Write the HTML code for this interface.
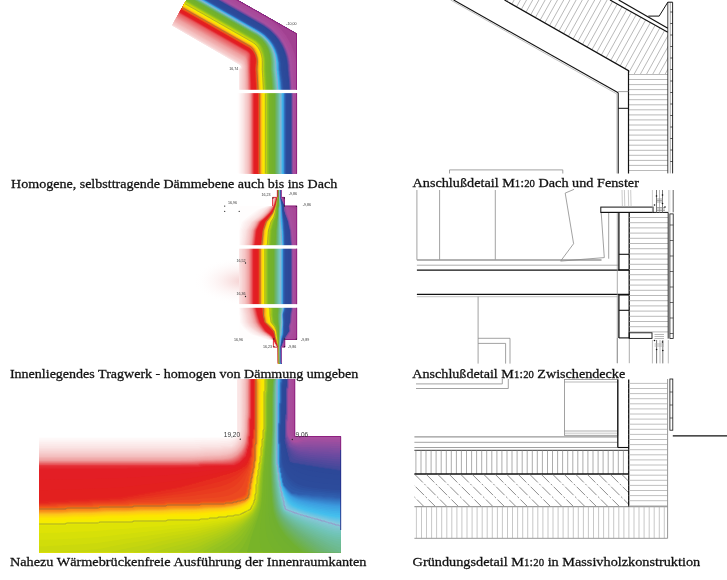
<!DOCTYPE html><html><head><meta charset="utf-8"><style>html,body{margin:0;padding:0;background:#fff;overflow:hidden}svg{display:block}</style></head><body><svg width="727" height="580" viewBox="0 0 727 580"><defs><clipPath id="hc1"><polygon points="504.5,0.0 610.0,0.0 667.8,32.3 667.8,74.0 628.5,74.0 628.5,70.7"/></clipPath><clipPath id="hc3"><polygon points="414.4,474.0 628.7,474.0 628.7,506.5 414.4,506.5"/></clipPath></defs><rect width="727" height="580" fill="#fff"/><defs><radialGradient id="haze" cx="0.5" cy="0.5" r="0.5"><stop offset="0" stop-color="#f2c0c0" stop-opacity="0.75"/><stop offset="0.45" stop-color="#f6d0d0" stop-opacity="0.3"/><stop offset="1" stop-color="#fff" stop-opacity="0"/></radialGradient></defs><ellipse cx="243" cy="281" rx="50" ry="24" fill="url(#haze)"/><g shape-rendering="geometricPrecision"><path fill="#fffdfd" fill-rule="evenodd" d="M237.5 93.2 237.5 173.5 296.5 173.5 296.5 93.2ZM172.2 25.0 172.2 25.5 239.2 64.5 239.8 65.0 239.8 66.8 239.5 67.0 239.5 89.8 296.5 89.8 296.5 33.8 232.2 -2.8 188.2 -2.8Z"/><path fill="#fef8f8" fill-rule="evenodd" d="M238.8 93.2 238.8 173.5 296.5 173.5 296.5 93.2ZM172.2 25.0 172.2 25.5 239.8 64.8 240.5 65.5 240.5 66.0 239.5 67.8 239.5 89.8 296.5 89.8 296.5 33.8 232.2 -2.8 188.2 -2.8Z"/><path fill="#fdf3f3" fill-rule="evenodd" d="M239.8 93.2 239.8 173.5 296.5 173.5 296.5 93.2ZM172.2 25.0 172.2 25.5 239.8 64.8 241.0 66.0 239.5 68.2 239.5 89.8 296.5 89.8 296.5 33.8 232.2 -2.8 188.2 -2.8Z"/><path fill="#fceeee" fill-rule="evenodd" d="M240.8 93.2 240.8 173.5 296.5 173.5 296.5 93.2ZM172.2 25.0 172.2 25.5 239.8 64.8 241.2 66.5 240.2 68.0 239.5 68.5 239.5 89.8 296.5 89.8 296.5 33.8 232.2 -2.8 188.2 -2.8Z"/><path fill="#fbe9e9" fill-rule="evenodd" d="M241.8 93.2 241.8 173.5 296.5 173.5 296.5 93.2ZM172.2 25.0 172.2 25.5 239.8 64.8 241.5 66.5 241.5 67.0 239.5 69.0 239.5 89.8 296.5 89.8 296.5 33.8 232.2 -2.8 188.2 -2.8Z"/><path fill="#fae4e4" fill-rule="evenodd" d="M242.8 93.2 242.8 173.5 296.5 173.5 296.5 93.2ZM172.2 25.0 172.2 25.5 239.8 64.8 241.5 66.5 241.8 67.2 239.5 69.5 239.5 89.8 296.5 89.8 296.5 33.8 232.2 -2.8 188.2 -2.8Z"/><path fill="#f9dfdf" fill-rule="evenodd" d="M243.5 93.2 243.5 173.5 296.5 173.5 296.5 93.2ZM172.2 25.0 172.2 25.5 204.2 44.0 206.0 44.8 239.2 63.8 240.5 65.0 240.5 65.5 242.0 67.5 239.8 69.8 239.8 89.8 296.5 89.8 296.5 33.8 232.2 -2.8 188.2 -2.8Z"/><path fill="#f8dada" fill-rule="evenodd" d="M244.2 93.2 244.2 173.5 296.5 173.5 296.5 93.2ZM172.2 25.0 240.5 64.0 241.2 65.0 241.2 66.2 242.2 68.0 240.5 69.8 240.5 89.8 296.5 89.8 296.5 33.8 232.2 -2.8 188.2 -2.8Z"/><path fill="#f7d5d5" fill-rule="evenodd" d="M245.0 93.2 245.0 173.5 296.5 173.5 296.5 93.2ZM172.5 24.8 240.5 63.5 241.8 65.0 242.0 65.8 241.8 67.2 242.2 68.0 242.2 68.5 241.2 69.5 241.2 89.8 296.5 89.8 296.5 33.8 232.2 -2.8 188.2 -2.8Z"/><path fill="#f7d0d0" fill-rule="evenodd" d="M245.5 93.2 245.5 173.5 296.5 173.5 296.5 93.2ZM172.8 24.5 240.5 63.0 241.8 64.2 242.5 66.0 242.2 69.2 242.0 69.5 242.0 89.8 296.5 89.8 296.5 33.8 232.2 -2.8 188.2 -2.8Z"/><path fill="#f6cbcb" fill-rule="evenodd" d="M246.2 93.2 246.2 173.5 296.5 173.5 296.5 93.2ZM173.2 23.2 173.0 24.2 240.8 62.8 242.5 64.8 243.0 66.2 243.0 68.0 242.8 68.2 242.8 89.8 296.5 89.8 296.5 33.8 232.2 -2.8 188.2 -2.8Z"/><path fill="#f5c6c6" fill-rule="evenodd" d="M247.0 93.2 247.0 173.5 296.5 173.5 296.5 93.2ZM173.2 23.5 241.2 62.2 243.0 64.8 243.5 66.2 243.5 69.2 243.2 69.5 243.2 71.2 243.5 71.5 243.5 89.8 296.5 89.8 296.5 33.8 232.2 -2.8 188.2 -2.8Z"/><path fill="#f4c1c1" fill-rule="evenodd" d="M247.5 93.2 247.5 173.5 296.5 173.5 296.5 93.2ZM173.8 22.8 241.8 61.5 243.5 64.2 244.0 66.2 244.2 89.8 296.5 89.8 296.5 33.8 232.2 -2.8 188.2 -2.8Z"/><path fill="#f3bcbc" fill-rule="evenodd" d="M248.2 93.2 248.2 173.5 296.5 173.5 296.5 93.2ZM174.0 22.0 241.8 60.5 243.8 63.0 244.8 67.2 245.0 89.8 296.5 89.8 296.5 33.8 232.2 -2.8 188.2 -2.8Z"/><path fill="#f3b7b7" fill-rule="evenodd" d="M248.5 93.2 248.5 173.5 296.5 173.5 296.5 93.2ZM174.2 21.5 242.8 60.8 244.0 62.5 245.0 66.2 245.2 87.5 245.5 87.8 245.5 89.8 296.5 89.8 296.5 33.8 232.2 -2.8 188.2 -2.8Z"/><path fill="#f2b2b2" fill-rule="evenodd" d="M249.0 93.2 249.0 173.5 296.5 173.5 296.5 93.2ZM174.5 21.2 242.2 59.8 243.8 61.2 244.5 62.8 245.5 67.5 245.8 89.8 296.5 89.8 296.5 33.8 232.2 -2.8 188.2 -2.8Z"/><path fill="#f1adad" fill-rule="evenodd" d="M249.2 93.2 249.2 173.5 296.5 173.5 296.5 93.2ZM175.2 19.8 175.0 20.8 242.8 59.2 243.5 60.0 244.8 62.2 245.8 66.2 246.2 89.8 296.5 89.8 296.5 33.8 232.2 -2.8 188.2 -2.8Z"/><path fill="#f0a9a9" fill-rule="evenodd" d="M249.5 93.2 249.5 173.5 296.5 173.5 296.5 93.2ZM175.2 20.0 243.2 58.8 244.8 61.0 246.0 65.2 246.5 89.8 296.5 89.8 296.5 33.8 232.2 -2.8 188.2 -2.8Z"/><path fill="#efa4a4" fill-rule="evenodd" d="M250.0 93.2 250.0 173.5 296.5 173.5 296.5 93.2ZM176.2 18.0 175.8 19.5 243.0 57.8 244.5 59.2 245.2 60.8 246.5 66.5 247.0 89.8 296.5 89.8 296.5 33.8 232.2 -2.8 188.2 -2.8Z"/><path fill="#ee9f9f" fill-rule="evenodd" d="M250.2 93.2 250.2 173.5 296.5 173.5 296.5 93.2ZM176.0 18.8 243.5 57.2 245.0 58.8 245.5 59.8 246.8 65.5 247.0 79.8 247.2 80.0 247.2 89.8 296.5 89.8 296.5 33.8 232.2 -2.8 188.2 -2.8Z"/><path fill="#ee9a9a" fill-rule="evenodd" d="M250.5 93.2 250.5 173.5 296.5 173.5 296.5 93.2ZM176.2 18.0 199.5 31.5 201.2 32.2 224.5 45.8 243.8 56.5 245.2 58.0 246.5 61.2 247.0 66.2 247.2 66.5 247.8 89.8 296.5 89.8 296.5 33.8 232.2 -2.8 188.2 -2.8Z"/><path fill="#ed9495" fill-rule="evenodd" d="M250.8 93.2 250.8 173.5 296.5 173.5 296.5 93.2ZM176.5 17.8 199.8 31.2 201.5 32.0 224.8 45.5 244.0 56.2 245.5 57.8 246.5 60.2 247.0 62.8 247.0 64.5 247.2 64.8 247.5 77.8 247.8 78.0 247.8 88.2 248.0 88.5 248.0 89.8 296.5 89.8 296.5 33.8 232.2 -2.8 188.2 -2.8Z"/><path fill="#ed8f90" fill-rule="evenodd" d="M251.0 93.2 251.0 173.5 296.5 173.5 296.5 93.2ZM176.8 17.5 198.2 30.0 200.0 30.8 223.2 44.2 244.2 56.0 245.5 57.2 246.5 59.2 247.2 63.0 247.2 65.0 247.5 65.2 248.0 89.8 296.5 89.8 296.5 33.8 232.2 -2.8 188.2 -2.8Z"/><path fill="#ec8a8b" fill-rule="evenodd" d="M251.0 93.2 251.0 173.5 296.5 173.5 296.5 93.2ZM176.8 17.2 192.5 26.0 215.8 39.5 217.5 40.2 240.8 53.8 244.2 55.5 245.8 57.0 247.0 60.2 247.2 63.0 247.5 63.2 247.5 65.8 247.8 66.0 248.2 89.8 296.5 89.8 296.5 33.8 232.2 -2.8 188.2 -2.8Z"/><path fill="#ec8486" fill-rule="evenodd" d="M251.2 93.2 251.2 173.5 296.5 173.5 296.5 93.2ZM177.0 16.8 244.8 55.2 245.8 56.2 247.0 59.2 247.5 61.8 247.5 63.5 247.8 63.8 248.5 89.8 296.5 89.8 296.5 33.8 232.2 -2.8 188.2 -2.8Z"/><path fill="#eb7f81" fill-rule="evenodd" d="M251.5 93.2 251.5 173.5 296.5 173.5 296.5 93.2ZM177.2 16.2 244.0 54.2 245.8 55.5 247.0 58.2 247.8 62.0 247.8 64.0 248.0 64.2 248.5 89.0 248.8 89.8 296.5 89.8 296.5 33.8 232.2 -2.8 188.2 -2.8Z"/><path fill="#eb797b" fill-rule="evenodd" d="M251.5 93.2 251.5 173.5 296.5 173.5 296.5 93.2ZM177.5 16.0 181.0 17.8 204.2 31.2 206.0 32.0 229.2 45.5 245.0 54.2 246.2 55.5 247.5 59.2 247.8 62.0 248.0 62.2 248.0 64.8 248.2 65.0 248.8 89.8 296.5 89.8 296.5 33.8 232.2 -2.8 188.2 -2.8Z"/><path fill="#ea7476" fill-rule="evenodd" d="M251.8 93.2 251.8 173.5 296.5 173.5 296.5 93.2ZM177.8 15.5 244.2 53.2 246.5 55.0 247.2 56.8 248.0 60.5 248.0 62.2 248.2 62.5 249.0 89.8 296.5 89.8 296.5 33.8 232.2 -2.8 188.2 -2.8Z"/><path fill="#ea6f71" fill-rule="evenodd" d="M252.0 93.2 252.0 173.5 296.5 173.5 296.5 93.2ZM178.0 15.0 238.2 49.5 245.2 53.2 246.5 54.2 247.8 57.5 248.2 62.8 248.5 63.0 248.5 70.2 248.8 70.5 249.2 89.8 296.5 89.8 296.5 33.8 232.2 -2.8 188.2 -2.8Z"/><path fill="#e9696c" fill-rule="evenodd" d="M252.0 93.2 252.0 173.5 296.5 173.5 296.5 93.2ZM178.2 14.5 178.8 15.0 194.5 23.8 217.8 37.2 219.5 38.0 242.8 51.5 244.5 52.2 247.0 54.2 248.0 57.2 248.0 59.0 248.5 60.8 248.5 63.5 248.8 63.8 248.8 72.5 249.0 72.8 249.2 89.5 249.5 89.8 296.5 89.8 296.5 33.8 232.2 -2.8 188.2 -2.8Z"/><path fill="#e96467" fill-rule="evenodd" d="M252.2 93.2 252.2 173.5 296.5 173.5 296.5 93.2ZM178.5 14.2 245.0 52.0 247.2 53.8 248.2 56.8 248.2 58.8 248.8 61.0 248.8 64.5 249.0 64.8 249.5 89.8 296.5 89.8 296.5 33.8 232.2 -2.8 188.2 -2.8Z"/><path fill="#e85e62" fill-rule="evenodd" d="M252.5 93.2 252.5 173.5 296.5 173.5 296.5 93.2ZM179.2 12.8 178.8 13.8 201.8 27.0 203.5 27.8 226.8 41.2 228.5 42.0 246.0 52.0 247.2 53.0 248.5 56.2 248.8 61.2 249.0 61.5 249.8 89.8 296.5 89.8 296.5 33.8 232.2 -2.8 188.2 -2.8Z"/><path fill="#e8595d" fill-rule="evenodd" d="M252.5 93.2 252.5 173.5 296.5 173.5 296.5 93.2ZM179.0 13.5 245.5 51.2 247.8 53.0 248.8 55.8 249.0 61.8 249.2 62.0 249.2 71.8 249.5 72.0 250.0 89.8 296.5 89.8 296.5 33.8 232.2 -2.8 188.2 -2.8Z"/><path fill="#e75358" fill-rule="evenodd" d="M252.8 93.2 252.8 173.5 296.5 173.5 296.5 93.2ZM179.0 13.2 245.5 51.0 248.0 52.8 248.5 53.5 249.0 55.5 249.0 58.2 249.2 58.5 250.0 89.8 296.5 89.8 296.5 33.8 232.2 -2.8 188.2 -2.8Z"/><path fill="#e74e53" fill-rule="evenodd" d="M252.8 93.2 252.8 173.5 296.5 173.5 296.5 93.2ZM180.5 10.5 179.2 12.8 179.2 13.2 246.8 51.5 248.8 53.5 249.2 55.5 249.2 60.2 249.5 60.5 249.5 70.5 249.8 70.8 250.2 89.8 296.5 89.8 296.5 33.8 232.2 -2.8 188.2 -2.8Z"/><path fill="#e7494e" fill-rule="evenodd" d="M253.0 93.2 253.0 173.5 296.5 173.5 296.5 93.2ZM179.2 13.0 246.2 51.0 248.0 52.2 249.0 53.5 249.5 55.5 249.8 73.2 250.0 73.5 250.2 88.8 250.5 89.8 296.5 89.8 296.5 33.8 232.2 -2.8 188.2 -2.8Z"/><path fill="#e64349" fill-rule="evenodd" d="M253.0 93.2 253.0 173.5 296.5 173.5 296.5 93.2ZM179.2 12.8 242.2 48.8 245.8 50.5 248.0 52.0 249.2 53.5 249.8 55.5 250.0 76.2 250.2 76.5 250.5 89.8 296.5 89.8 296.5 33.8 232.2 -2.8 188.2 -2.8Z"/><path fill="#e63e44" fill-rule="evenodd" d="M253.2 93.2 253.2 173.5 296.5 173.5 296.5 93.2ZM180.5 10.5 179.5 12.8 195.2 21.5 218.5 35.0 220.2 35.8 243.5 49.2 247.0 51.0 249.2 53.2 250.0 55.5 250.0 72.5 250.2 72.8 250.8 89.8 296.5 89.8 296.5 33.8 232.2 -2.8 188.2 -2.8Z"/><path fill="#e5393f" fill-rule="evenodd" d="M253.5 93.2 253.5 173.5 296.5 173.5 296.5 93.2ZM179.5 12.5 246.0 50.2 248.2 51.8 250.0 54.2 250.0 55.5 250.2 55.8 250.2 61.0 250.0 61.5 250.2 61.8 250.2 75.2 250.5 75.5 250.5 82.2 250.8 82.5 250.8 89.8 296.5 89.8 296.5 33.8 232.2 -2.8 188.2 -2.8Z"/><path fill="#e5333a" fill-rule="evenodd" d="M253.5 93.2 253.5 173.5 296.5 173.5 296.5 93.2ZM180.5 10.5 179.8 12.0 180.2 12.8 247.2 50.8 249.5 53.0 250.2 54.5 250.2 55.8 250.5 56.0 250.5 58.0 250.2 58.2 250.2 71.5 250.5 71.8 251.0 89.8 296.5 89.8 296.5 33.8 232.2 -2.8 188.2 -2.8Z"/><path fill="#e42e35" fill-rule="evenodd" d="M253.8 93.2 253.8 173.5 296.5 173.5 296.5 93.2ZM179.8 12.2 245.0 49.5 246.8 50.2 248.2 51.2 249.5 52.8 250.5 54.8 250.5 74.2 250.8 74.5 250.8 81.0 251.0 81.2 251.0 88.5 251.2 89.8 296.5 89.8 296.5 33.8 232.2 -2.8 188.2 -2.8Z"/><path fill="#e42930" fill-rule="evenodd" d="M253.8 93.2 253.8 173.5 296.5 173.5 296.5 93.2ZM180.5 10.5 179.8 12.0 246.5 50.0 248.8 51.5 249.8 52.8 250.8 54.8 250.5 70.8 250.8 71.0 250.8 77.0 251.0 77.2 251.2 89.8 296.5 89.8 296.5 33.8 232.2 -2.8 188.2 -2.8Z"/><path fill="#e3232b" fill-rule="evenodd" d="M254.0 93.2 254.0 173.5 296.5 173.5 296.5 93.2ZM179.8 12.0 248.2 51.0 249.8 52.5 251.0 55.0 250.8 73.2 251.0 73.5 251.5 89.8 296.5 89.8 296.5 33.8 232.2 -2.8 188.2 -2.8Z"/><path fill="#e31e25" fill-rule="evenodd" d="M254.0 93.2 254.0 173.5 296.5 173.5 296.5 93.2ZM180.5 10.5 180.0 12.0 247.8 50.5 250.0 52.5 251.2 55.5 251.0 68.8 250.8 70.0 251.0 70.2 251.2 82.5 251.5 82.8 251.5 89.8 296.5 89.8 296.5 33.8 232.2 -2.8 188.2 -2.8Z"/><path fill="#e31f22" fill-rule="evenodd" d="M255.2 93.2 255.2 173.5 296.5 173.5 296.5 93.2ZM180.5 10.5 180.2 11.0 247.0 49.0 249.2 50.5 251.5 53.0 252.5 54.8 252.8 57.5 253.0 57.8 252.8 58.0 252.5 63.0 252.2 63.2 252.2 69.2 252.0 69.5 252.2 70.0 253.0 89.8 296.5 89.8 296.5 33.8 232.2 -2.8 188.2 -2.8Z"/><path fill="#e3201f" fill-rule="evenodd" d="M256.5 93.2 256.5 173.5 296.5 173.5 296.5 93.2ZM181.5 8.8 180.8 10.2 247.5 48.2 249.5 49.5 252.2 52.5 253.5 54.8 254.2 57.5 254.2 60.2 254.0 60.5 253.8 64.8 253.5 65.0 253.5 74.5 253.8 74.8 254.2 89.8 296.5 89.8 296.5 33.8 232.2 -2.8 188.2 -2.8Z"/><path fill="#e4251e" fill-rule="evenodd" d="M257.8 93.2 257.8 173.5 296.5 173.5 296.5 93.2ZM181.5 8.8 181.2 9.2 181.5 9.8 250.0 48.8 252.5 51.2 254.5 54.8 255.5 58.2 255.5 61.8 255.2 62.0 255.0 66.0 254.8 66.2 254.8 73.0 255.0 73.2 255.8 89.8 296.5 89.8 296.5 33.8 232.2 -2.8 188.2 -2.8Z"/><path fill="#e62c1f" fill-rule="evenodd" d="M257.8 93.2 257.8 173.5 296.5 173.5 296.5 93.2ZM181.5 8.8 181.2 9.2 181.8 9.8 195.8 17.5 219.0 31.0 220.8 31.8 244.0 45.2 247.5 47.0 250.2 48.8 252.5 51.0 254.8 55.0 255.8 59.0 255.5 63.5 255.0 66.0 255.0 73.8 255.2 74.0 255.2 78.2 255.5 78.5 256.0 89.8 296.5 89.8 296.5 33.8 232.2 -2.8 188.2 -2.8Z"/><path fill="#e7331f" fill-rule="evenodd" d="M258.0 93.2 258.0 173.5 296.5 173.5 296.5 93.2ZM181.2 9.2 249.5 48.0 253.0 51.5 254.5 54.0 255.8 58.0 255.8 63.2 255.2 65.8 255.0 70.2 255.2 70.5 255.8 83.5 256.0 83.8 256.0 89.0 256.2 89.8 296.5 89.8 296.5 33.8 232.2 -2.8 188.2 -2.8Z"/><path fill="#e93b1f" fill-rule="evenodd" d="M258.2 93.2 258.2 173.5 296.5 173.5 296.5 93.2ZM181.5 8.8 181.5 9.2 248.5 47.2 251.0 49.0 253.2 51.5 255.0 54.8 256.0 58.5 256.0 63.0 255.5 65.2 255.2 70.8 255.5 71.0 256.0 84.2 256.2 84.5 256.2 89.5 256.5 89.8 296.5 89.8 296.5 33.8 232.2 -2.8 188.2 -2.8Z"/><path fill="#ea4220" fill-rule="evenodd" d="M258.5 93.2 258.5 173.5 296.5 173.5 296.5 93.2ZM181.5 8.8 181.8 9.2 249.2 47.5 251.5 49.2 253.2 51.2 255.2 55.0 256.2 59.0 256.2 62.5 256.0 62.8 255.8 67.5 255.5 67.8 255.5 71.2 255.8 71.5 256.0 79.8 256.2 80.0 256.5 89.8 296.5 89.8 296.5 33.8 232.2 -2.8 188.2 -2.8Z"/><path fill="#ec4920" fill-rule="evenodd" d="M258.5 93.2 258.5 173.5 296.5 173.5 296.5 93.2ZM181.5 8.8 243.0 44.0 250.2 48.0 253.2 51.0 255.5 55.2 256.5 59.8 256.5 62.0 256.2 62.2 256.2 64.5 256.0 64.8 256.0 67.0 255.8 67.2 255.8 71.8 256.0 72.0 256.0 76.0 256.2 76.2 256.2 80.2 256.5 80.5 256.8 89.8 296.5 89.8 296.5 33.8 232.2 -2.8 188.2 -2.8Z"/><path fill="#ee501e" fill-rule="evenodd" d="M258.8 93.2 258.8 173.5 296.5 173.5 296.5 93.2ZM182.5 7.0 181.8 8.5 182.0 9.0 197.8 17.8 221.0 31.2 222.8 32.0 246.0 45.5 247.8 46.2 250.5 48.0 253.8 51.5 255.8 55.5 256.5 58.5 256.5 64.0 256.2 64.2 256.2 66.5 256.0 66.8 256.0 72.5 256.2 72.8 256.2 76.8 256.5 77.0 257.0 89.8 296.5 89.8 296.5 33.8 232.2 -2.8 188.2 -2.8Z"/><path fill="#f0571b" fill-rule="evenodd" d="M259.0 93.2 259.0 173.5 296.5 173.5 296.5 93.2ZM182.5 7.0 181.8 8.5 197.8 17.5 221.0 31.0 222.8 31.8 246.0 45.2 249.5 47.0 253.8 51.2 255.5 54.5 256.8 59.5 256.8 63.0 256.5 63.2 256.0 70.0 256.2 70.2 257.2 89.8 296.5 89.8 296.5 33.8 232.2 -2.8 188.2 -2.8Z"/><path fill="#f25e18" fill-rule="evenodd" d="M259.0 93.2 259.0 173.5 296.5 173.5 296.5 93.2ZM182.5 7.0 182.0 8.5 249.5 46.8 253.5 50.8 255.5 54.2 256.8 58.5 257.0 62.0 256.8 62.2 256.8 64.8 256.5 65.0 256.5 67.5 256.2 67.8 256.2 71.2 256.5 71.5 257.0 84.2 257.2 84.5 257.2 89.5 257.5 89.8 296.5 89.8 296.5 33.8 232.2 -2.8 188.2 -2.8Z"/><path fill="#f46516" fill-rule="evenodd" d="M259.2 93.2 259.2 173.5 296.5 173.5 296.5 93.2ZM182.0 8.2 249.5 46.5 252.5 49.2 254.5 52.0 255.8 54.5 257.0 59.5 257.0 63.8 256.8 64.0 256.8 66.5 256.5 66.8 256.5 72.5 256.8 72.8 256.8 76.8 257.0 77.0 257.0 81.0 257.2 81.2 257.5 89.8 296.5 89.8 296.5 33.8 232.2 -2.8 188.2 -2.8Z"/><path fill="#f66c14" fill-rule="evenodd" d="M259.5 93.2 259.5 173.5 296.5 173.5 296.5 93.2ZM182.0 8.0 249.5 46.2 252.8 49.2 254.5 51.8 256.0 54.8 257.0 58.5 257.2 62.8 257.0 63.0 256.5 70.0 256.8 70.2 257.8 89.8 296.5 89.8 296.5 33.8 232.2 -2.8 188.2 -2.8Z"/><path fill="#f77315" fill-rule="evenodd" d="M259.5 93.2 259.5 173.5 296.5 173.5 296.5 93.2ZM182.5 7.0 182.2 7.5 182.5 8.0 249.5 46.0 252.2 48.2 254.8 52.0 256.0 54.5 257.2 59.2 257.2 64.8 257.0 65.0 257.0 67.5 256.8 67.8 256.8 71.0 257.0 71.2 257.0 75.0 257.2 75.2 257.2 79.2 257.5 79.5 257.5 83.8 257.8 84.0 257.8 88.8 258.0 89.8 296.5 89.8 296.5 33.8 232.2 -2.8 188.2 -2.8Z"/><path fill="#f77a16" fill-rule="evenodd" d="M259.8 93.2 259.8 173.5 296.5 173.5 296.5 93.2ZM182.5 7.0 182.2 7.5 186.0 9.5 209.2 23.0 211.0 23.8 234.2 37.2 250.0 46.0 252.8 48.5 255.8 53.5 257.2 58.2 257.5 64.0 257.2 64.2 257.2 66.8 257.0 67.0 257.0 72.0 257.2 72.2 257.5 80.2 257.8 80.5 258.0 89.8 296.5 89.8 296.5 33.8 232.2 -2.8 188.2 -2.8Z"/><path fill="#f88117" fill-rule="evenodd" d="M260.0 93.2 260.0 173.5 296.5 173.5 296.5 93.2ZM182.5 7.0 183.0 7.8 250.8 46.2 253.0 48.5 256.0 53.8 257.5 59.0 257.2 73.2 257.5 73.5 257.5 77.0 257.8 77.2 258.2 89.8 296.5 89.8 296.5 33.8 232.2 -2.8 188.2 -2.8Z"/><path fill="#f88918" fill-rule="evenodd" d="M260.0 93.2 260.0 173.5 296.5 173.5 296.5 93.2ZM182.5 7.0 183.0 7.5 184.8 8.2 208.0 21.8 209.8 22.5 233.0 36.0 250.5 45.8 253.5 48.8 256.8 55.2 257.8 59.8 257.8 65.0 257.5 65.2 257.2 70.5 257.5 70.8 257.5 74.2 257.8 74.5 258.5 89.8 296.5 89.8 296.5 33.8 232.2 -2.8 188.2 -2.8Z"/><path fill="#f88f1a" fill-rule="evenodd" d="M260.2 93.2 260.2 173.5 296.5 173.5 296.5 93.2ZM182.5 7.0 251.5 46.2 254.0 49.0 256.5 54.2 257.8 58.5 258.0 64.8 257.8 65.0 257.5 70.8 257.8 71.0 257.8 74.5 258.0 74.8 258.0 78.2 258.2 78.5 258.5 89.8 296.5 89.8 296.5 33.8 232.2 -2.8 188.2 -2.8Z"/><path fill="#f8961b" fill-rule="evenodd" d="M260.5 93.2 260.5 173.5 296.5 173.5 296.5 93.2ZM183.5 5.2 182.8 6.8 250.8 45.5 254.0 48.5 256.8 54.2 258.0 58.8 258.2 64.5 258.0 64.8 257.8 70.5 258.0 70.8 258.0 74.0 258.2 74.2 258.8 89.8 296.5 89.8 296.5 33.8 232.2 -2.8 188.2 -2.8Z"/><path fill="#f89e1c" fill-rule="evenodd" d="M260.8 93.2 260.8 173.5 296.5 173.5 296.5 93.2ZM183.5 5.2 183.0 6.2 183.2 7.0 251.8 46.0 254.5 48.8 255.5 50.5 256.5 53.8 257.2 55.0 258.2 59.0 258.2 68.2 258.0 68.5 258.0 70.2 258.2 70.5 258.2 74.8 258.5 75.0 259.0 89.8 296.5 89.8 296.5 33.8 232.2 -2.8 188.2 -2.8Z"/><path fill="#f9a51c" fill-rule="evenodd" d="M261.0 93.2 261.0 173.5 296.5 173.5 296.5 93.2ZM183.0 6.2 183.5 7.0 252.0 46.0 254.8 48.8 256.2 51.8 258.0 57.0 258.2 59.8 258.5 60.0 258.2 72.0 258.5 72.2 259.2 89.8 296.5 89.8 296.5 33.8 232.2 -2.8 188.2 -2.8Z"/><path fill="#faad1c" fill-rule="evenodd" d="M261.0 93.2 261.0 173.5 296.5 173.5 296.5 93.2ZM183.0 6.5 250.8 45.0 252.5 46.2 254.5 48.2 256.2 51.2 258.0 56.5 258.5 59.0 258.5 61.5 258.8 61.8 258.5 73.8 258.8 74.0 258.8 78.5 259.0 78.8 259.2 89.8 296.5 89.8 296.5 33.8 232.2 -2.8 188.2 -2.8Z"/><path fill="#fbb51c" fill-rule="evenodd" d="M261.2 93.2 261.2 173.5 296.5 173.5 296.5 93.2ZM183.5 5.2 183.0 6.2 246.2 42.5 249.8 44.2 253.2 46.8 255.2 49.0 256.5 51.2 257.2 53.5 258.8 60.0 258.5 71.2 258.8 71.5 258.8 75.8 259.0 76.0 259.5 89.8 296.5 89.8 296.5 33.8 232.2 -2.8 188.2 -2.8Z"/><path fill="#fbbc1c" fill-rule="evenodd" d="M261.5 93.2 261.5 173.5 296.5 173.5 296.5 93.2ZM183.0 6.2 250.0 44.2 252.2 45.8 255.0 48.5 256.5 50.8 258.8 58.8 258.8 61.2 259.0 61.5 258.8 73.0 259.0 73.2 259.8 89.8 296.5 89.8 296.5 33.8 232.2 -2.8 188.2 -2.8Z"/><path fill="#fcc51b" fill-rule="evenodd" d="M261.5 93.2 261.5 173.5 296.5 173.5 296.5 93.2ZM183.5 5.2 183.2 6.2 250.2 44.2 252.5 45.8 255.0 48.2 257.0 51.5 259.0 59.8 258.8 70.5 259.0 70.8 259.2 79.5 259.5 79.8 259.8 89.8 296.5 89.8 296.5 33.8 232.2 -2.8 188.2 -2.8Z"/><path fill="#fcca17" fill-rule="evenodd" d="M261.8 93.2 261.8 173.5 296.5 173.5 296.5 93.2ZM183.2 6.0 251.0 44.5 252.8 45.8 255.0 48.0 257.2 51.5 258.2 55.0 258.2 56.0 259.0 58.5 259.0 60.2 259.2 60.5 259.0 71.2 259.2 71.5 259.2 75.8 259.5 76.0 260.0 89.8 296.5 89.8 296.5 33.8 232.2 -2.8 188.2 -2.8Z"/><path fill="#fccf12" fill-rule="evenodd" d="M262.0 93.2 262.0 173.5 296.5 173.5 296.5 93.2ZM183.5 5.2 183.2 5.8 251.0 44.2 252.8 45.5 255.2 48.0 257.8 52.0 259.2 58.8 259.2 60.8 259.5 61.0 259.2 71.8 259.5 72.0 259.5 76.0 259.8 76.2 260.2 89.8 296.5 89.8 296.5 33.8 232.2 -2.8 188.2 -2.8Z"/><path fill="#fdd50e" fill-rule="evenodd" d="M262.2 93.2 262.2 173.5 296.5 173.5 296.5 93.2ZM183.5 5.2 183.5 5.8 250.5 43.8 252.8 45.2 255.5 48.0 258.2 52.5 259.0 56.0 259.0 57.5 259.5 59.0 259.5 61.5 259.8 61.8 259.5 72.0 259.8 72.2 259.8 76.2 260.0 76.5 260.5 89.8 296.5 89.8 296.5 33.8 232.2 -2.8 188.2 -2.8Z"/><path fill="#fdda09" fill-rule="evenodd" d="M262.5 93.2 262.5 173.5 296.5 173.5 296.5 93.2ZM183.5 5.5 251.8 44.2 255.8 48.0 258.2 52.0 259.0 54.5 259.2 57.5 259.8 59.2 259.8 63.2 260.0 63.5 259.8 63.8 259.8 72.2 260.0 72.5 260.8 89.8 296.5 89.8 296.5 33.8 232.2 -2.8 188.2 -2.8Z"/><path fill="#fddf04" fill-rule="evenodd" d="M262.8 93.2 262.8 173.5 296.5 173.5 296.5 93.2ZM183.5 5.2 250.0 43.0 252.8 44.8 256.0 48.0 257.2 49.8 258.8 52.8 259.5 56.0 259.8 59.5 260.0 59.8 260.0 72.8 260.2 73.0 261.0 89.8 296.5 89.8 296.5 33.8 232.2 -2.8 188.2 -2.8Z"/><path fill="#fce600" fill-rule="evenodd" d="M263.0 93.2 263.0 173.5 296.5 173.5 296.5 93.2ZM183.8 5.2 185.5 6.0 208.8 19.5 210.5 20.2 233.8 33.8 251.2 43.5 254.2 45.8 257.5 49.8 259.2 53.5 259.8 55.8 259.8 57.5 260.0 57.8 260.0 59.8 260.2 60.0 260.2 73.0 260.5 73.2 261.2 89.8 296.5 89.8 296.5 33.8 232.2 -2.8 188.2 -2.8Z"/><path fill="#f7ea00" fill-rule="evenodd" d="M263.8 93.2 263.8 173.5 296.5 173.5 296.5 93.2ZM184.0 4.8 251.5 43.0 254.2 45.0 257.0 48.0 259.2 52.0 260.5 56.0 260.8 62.0 261.0 62.2 260.8 70.8 261.0 71.0 261.5 84.0 261.8 84.2 261.8 89.2 262.0 89.8 296.5 89.8 296.5 33.8 232.2 -2.8 188.2 -2.8Z"/><path fill="#f3ee00" fill-rule="evenodd" d="M264.5 93.2 264.5 173.5 296.5 173.5 296.5 93.2ZM184.5 3.5 184.2 4.0 251.5 42.2 253.8 43.8 257.2 47.2 259.8 51.5 260.8 54.2 261.5 57.8 261.5 64.0 261.8 64.2 261.5 70.8 261.8 71.0 261.8 74.5 262.0 74.8 262.5 89.0 262.8 89.8 296.5 89.8 296.5 33.8 232.2 -2.8 188.2 -2.8Z"/><path fill="#ebe903" fill-rule="evenodd" d="M265.0 93.2 265.0 173.5 296.5 173.5 296.5 93.2ZM184.5 3.5 185.0 4.2 252.0 42.2 254.5 44.0 256.8 46.2 258.8 49.0 260.2 52.0 261.8 57.5 262.0 73.5 262.2 73.8 263.0 89.8 296.5 89.8 296.5 33.8 232.2 -2.8 188.2 -2.8Z"/><path fill="#e4e605" fill-rule="evenodd" d="M265.2 93.2 265.2 173.5 296.5 173.5 296.5 93.2ZM184.5 3.8 251.5 41.8 254.8 44.0 256.8 46.0 258.5 48.2 260.0 51.0 261.2 54.5 262.0 58.2 262.0 70.8 262.2 71.0 262.8 83.8 263.0 84.0 263.0 89.0 263.2 89.8 296.5 89.8 296.5 33.8 232.2 -2.8 188.2 -2.8Z"/><path fill="#dee306" fill-rule="evenodd" d="M265.2 93.2 265.2 173.5 296.5 173.5 296.5 93.2ZM184.5 3.5 252.2 42.0 255.0 44.0 258.0 47.2 260.5 51.8 261.5 54.8 262.2 58.8 262.2 71.8 262.5 72.0 262.5 75.8 262.8 76.0 263.2 89.8 296.5 89.8 296.5 33.8 232.2 -2.8 188.2 -2.8Z"/><path fill="#d7e008" fill-rule="evenodd" d="M265.5 93.2 265.5 173.5 296.5 173.5 296.5 93.2ZM185.5 1.8 184.8 3.2 248.0 39.5 251.5 41.2 255.2 44.0 258.0 47.0 260.2 50.8 261.5 54.2 262.2 57.5 262.2 59.5 262.5 59.8 262.5 72.8 262.8 73.0 263.5 89.8 296.5 89.8 296.5 33.8 232.2 -2.8 188.2 -2.8Z"/><path fill="#d1dd0a" fill-rule="evenodd" d="M265.8 93.2 265.8 173.5 296.5 173.5 296.5 93.2ZM185.0 2.8 185.5 3.5 189.0 5.2 212.2 18.8 214.0 19.5 237.2 33.0 251.2 40.8 254.2 42.8 258.0 46.8 259.5 49.0 261.0 52.2 262.5 58.2 262.5 61.2 262.8 61.5 262.5 70.2 262.8 70.5 263.8 89.8 296.5 89.8 296.5 33.8 232.2 -2.8 188.2 -2.8Z"/><path fill="#cbd90c" fill-rule="evenodd" d="M266.0 93.2 266.0 173.5 296.5 173.5 296.5 93.2ZM185.5 1.8 185.0 2.8 201.0 11.8 224.2 25.2 226.0 26.0 249.2 39.5 252.8 41.2 257.8 46.2 259.5 48.8 261.0 51.8 262.5 57.2 262.5 59.0 262.8 59.2 262.8 71.8 263.0 72.0 263.2 80.0 263.5 80.2 263.8 89.8 296.5 89.8 296.5 33.8 232.2 -2.8 188.2 -2.8Z"/><path fill="#c5d60e" fill-rule="evenodd" d="M266.0 93.2 266.0 173.5 296.5 173.5 296.5 93.2ZM185.2 2.2 185.5 2.8 254.0 41.8 256.2 44.0 259.5 48.5 261.5 52.8 262.5 56.5 262.8 60.0 263.0 60.2 263.0 73.2 263.2 73.5 263.2 77.2 263.5 77.5 264.0 89.8 296.5 89.8 296.5 33.8 232.2 -2.8 188.2 -2.8Z"/><path fill="#bfd311" fill-rule="evenodd" d="M266.2 93.2 266.2 173.5 296.5 173.5 296.5 93.2ZM185.2 2.2 251.8 40.0 254.8 42.0 256.0 43.2 260.8 50.5 261.8 53.0 262.8 57.0 262.8 58.5 263.0 58.8 263.0 71.0 263.2 71.2 264.2 89.8 296.5 89.8 296.5 33.8 232.2 -2.8 188.2 -2.8Z"/><path fill="#b8d113" fill-rule="evenodd" d="M266.5 93.2 266.5 173.5 296.5 173.5 296.5 93.2ZM185.5 2.0 253.2 40.5 257.0 44.0 261.2 51.2 263.0 57.8 263.0 59.5 263.2 59.8 263.2 72.0 263.5 72.2 263.8 80.2 264.0 80.5 264.2 89.8 296.5 89.8 296.5 33.8 232.2 -2.8 188.2 -2.8Z"/><path fill="#b2ce16" fill-rule="evenodd" d="M266.8 93.2 266.8 173.5 296.5 173.5 296.5 93.2ZM185.5 1.8 254.5 41.0 257.0 43.5 258.2 45.2 261.5 51.5 262.5 54.5 263.2 58.2 263.2 60.5 263.5 60.8 263.5 73.2 263.8 73.5 263.8 77.0 264.0 77.2 264.5 89.8 296.5 89.8 296.5 33.8 232.2 -2.8 188.2 -2.8Z"/><path fill="#accc18" fill-rule="evenodd" d="M267.0 93.2 267.0 173.5 296.5 173.5 296.5 93.2ZM185.8 1.5 186.2 2.0 253.2 40.0 255.5 41.5 257.2 43.2 258.8 45.5 259.8 48.0 261.5 51.0 263.2 57.2 263.5 62.5 263.8 62.8 263.5 70.5 263.8 70.8 263.8 74.2 264.0 74.5 264.8 89.8 296.5 89.8 296.5 33.8 232.2 -2.8 188.2 -2.8Z"/><path fill="#a5c91b" fill-rule="evenodd" d="M267.0 93.2 267.0 173.5 296.5 173.5 296.5 93.2ZM185.8 1.5 252.2 39.2 256.0 41.8 258.0 43.8 262.2 52.5 263.5 57.8 263.5 59.5 263.8 59.8 263.8 71.5 264.0 71.8 265.0 89.8 296.5 89.8 296.5 33.8 232.2 -2.8 188.2 -2.8Z"/><path fill="#9fc71d" fill-rule="evenodd" d="M267.2 93.2 267.2 173.5 296.5 173.5 296.5 93.2ZM186.5 0.0 186.0 1.5 249.5 37.8 253.0 39.5 256.2 41.8 258.5 44.0 260.2 47.2 260.8 49.0 262.2 52.0 263.8 58.2 263.8 60.5 264.0 60.8 264.0 72.5 264.2 72.8 264.8 84.8 265.0 85.0 265.0 89.5 265.2 89.8 296.5 89.8 296.5 33.8 232.2 -2.8 188.2 -2.8Z"/><path fill="#98c420" fill-rule="evenodd" d="M267.5 93.2 267.5 173.5 296.5 173.5 296.5 93.2ZM186.0 1.0 186.2 1.5 253.2 39.5 256.8 42.0 258.8 44.0 260.0 46.0 261.2 49.8 262.5 52.2 263.5 55.8 263.8 58.8 264.0 59.0 264.0 62.0 264.2 62.2 264.0 70.0 264.2 70.2 264.5 77.2 264.8 77.5 265.2 89.8 296.5 89.8 296.5 33.8 232.2 -2.8 188.2 -2.8Z"/><path fill="#92c121" fill-rule="evenodd" d="M267.8 93.2 267.8 173.5 296.5 173.5 296.5 93.2ZM186.0 1.0 252.8 39.0 256.5 41.5 259.2 44.2 260.8 46.8 262.2 51.5 262.8 52.2 264.2 59.0 264.2 62.5 264.5 62.8 264.2 70.0 264.5 70.2 264.8 77.2 265.0 77.5 265.5 89.8 296.5 89.8 296.5 33.8 232.2 -2.8 188.2 -2.8Z"/><path fill="#8cbe23" fill-rule="evenodd" d="M268.2 93.2 268.2 173.5 296.5 173.5 296.5 93.2ZM186.5 0.0 186.2 1.0 253.8 39.2 256.0 40.8 260.0 44.8 261.5 47.2 262.2 49.5 262.8 52.0 263.8 54.5 264.5 58.5 264.5 61.0 264.8 61.2 264.8 72.5 265.0 72.8 266.0 89.8 296.5 89.8 296.5 33.8 232.2 -2.8 188.2 -2.8Z"/><path fill="#86bb25" fill-rule="evenodd" d="M268.5 93.2 268.5 173.5 296.5 173.5 296.5 93.2ZM186.2 0.5 187.2 1.2 203.0 10.0 226.2 23.5 228.0 24.2 251.2 37.8 253.0 38.5 257.0 41.2 259.5 43.8 262.2 48.0 264.8 58.0 264.8 60.0 265.0 60.2 265.0 71.2 265.2 71.5 265.2 74.8 265.5 75.0 266.2 89.8 296.5 89.8 296.5 33.8 232.2 -2.8 188.2 -2.8Z"/><path fill="#80b826" fill-rule="evenodd" d="M269.0 93.2 269.0 173.5 296.5 173.5 296.5 93.2ZM186.5 0.0 186.5 0.5 253.5 38.5 256.5 40.5 260.2 44.2 263.0 48.8 265.0 57.8 265.0 59.2 265.2 59.5 265.2 70.2 265.5 70.5 266.2 85.0 266.5 85.2 266.5 89.5 266.8 89.8 296.5 89.8 296.5 33.8 232.2 -2.8 188.2 -2.8Z"/><path fill="#78b428" fill-rule="evenodd" d="M269.2 93.2 269.2 173.5 296.5 173.5 296.5 93.2ZM186.5 0.0 187.0 0.5 254.5 38.8 257.2 40.8 260.0 43.5 262.0 46.2 263.5 49.0 265.2 57.2 265.5 61.8 265.8 62.0 265.8 72.2 266.0 72.5 267.0 89.8 296.5 89.8 296.5 33.8 232.2 -2.8 188.2 -2.8Z"/><path fill="#76b32a" fill-rule="evenodd" d="M270.5 93.2 270.5 173.5 296.5 173.5 296.5 93.2ZM187.0 -0.8 187.2 -0.2 254.2 37.8 257.2 39.8 261.0 43.5 263.2 46.8 265.2 51.2 265.8 53.8 266.2 59.8 266.5 60.0 266.8 73.0 267.0 73.2 267.0 76.2 267.2 76.5 268.0 89.8 296.5 89.8 296.5 33.8 232.2 -2.8 188.2 -2.8Z"/><path fill="#74b22c" fill-rule="evenodd" d="M271.8 93.2 271.8 173.5 296.5 173.5 296.5 93.2ZM187.2 -1.2 255.0 37.2 258.5 39.8 261.2 42.5 263.0 44.8 264.8 47.8 267.0 54.2 267.2 59.0 267.5 59.2 267.5 64.5 267.8 64.8 267.8 72.5 268.0 72.8 268.0 75.8 268.2 76.0 268.2 79.0 268.5 79.2 269.0 89.8 296.5 89.8 296.5 33.8 232.2 -2.8 188.2 -2.8Z"/><path fill="#72b12e" fill-rule="evenodd" d="M272.8 93.2 272.8 173.5 296.5 173.5 296.5 93.2ZM187.8 -2.0 188.8 -1.2 202.8 6.5 226.0 20.0 227.8 20.8 251.0 34.2 254.5 36.0 258.2 38.5 261.5 41.5 264.8 46.0 266.5 49.5 268.0 54.5 268.2 57.5 268.5 57.8 268.5 62.8 268.8 63.0 268.8 72.2 269.0 72.5 269.5 81.8 269.8 82.0 269.8 85.5 270.0 85.8 270.0 89.2 270.2 89.8 296.5 89.8 296.5 33.8 232.2 -2.8 188.2 -2.8Z"/><path fill="#70b030" fill-rule="evenodd" d="M274.0 93.2 274.0 173.5 296.5 173.5 296.5 93.2ZM188.2 -2.8 188.2 -2.5 193.0 0.2 194.8 1.0 218.0 14.5 219.8 15.2 243.0 28.8 255.2 35.5 259.0 38.0 263.0 42.0 265.0 44.8 267.2 49.0 268.2 51.8 269.2 56.0 269.5 60.5 269.8 60.8 269.8 71.8 270.0 72.0 270.0 74.8 270.2 75.0 270.2 77.5 270.5 77.8 271.2 89.8 296.5 89.8 296.5 33.8 232.2 -2.8Z"/><path fill="#6fb13a" fill-rule="evenodd" d="M274.8 93.2 274.8 173.5 296.5 173.5 296.5 93.2ZM189.0 -2.8 255.5 35.0 259.2 37.5 262.5 40.5 265.2 44.0 266.8 46.5 268.5 50.5 269.8 55.0 270.0 58.0 270.2 58.2 270.2 61.2 270.5 61.5 270.5 71.8 270.8 72.0 270.8 74.5 271.0 74.8 271.0 77.2 271.2 77.5 272.0 89.8 296.5 89.8 296.5 33.8 232.2 -2.8Z"/><path fill="#6fb141" fill-rule="evenodd" d="M275.0 93.2 275.0 173.5 296.5 173.5 296.5 93.2ZM189.2 -2.8 256.8 35.5 259.2 37.2 262.5 40.2 266.2 45.2 268.5 50.0 270.0 55.2 270.2 58.5 270.5 58.8 270.5 62.0 270.8 62.2 270.8 72.0 271.0 72.2 271.2 77.5 271.5 77.8 271.5 80.2 271.8 80.5 272.2 89.8 296.5 89.8 296.5 33.8 232.2 -2.8Z"/><path fill="#6fb148" fill-rule="evenodd" d="M275.2 93.2 275.2 173.5 296.5 173.5 296.5 93.2ZM189.8 -2.8 252.8 33.2 256.2 35.0 259.5 37.2 262.8 40.2 266.0 44.5 268.0 48.2 269.2 51.5 270.2 55.5 270.5 58.8 270.8 59.0 270.8 63.0 271.0 63.2 271.0 72.0 271.2 72.2 271.2 74.8 271.5 75.0 271.5 77.5 271.8 77.8 272.5 89.8 296.5 89.8 296.5 33.8 232.2 -2.8Z"/><path fill="#6eb250" fill-rule="evenodd" d="M275.5 93.2 275.5 173.5 296.5 173.5 296.5 93.2ZM190.0 -2.8 257.0 35.2 261.2 38.5 264.2 41.8 267.2 46.2 268.8 49.5 270.2 54.5 270.5 57.0 270.8 57.2 270.8 59.2 271.0 59.5 271.0 64.2 271.2 64.5 271.2 69.0 271.0 69.8 271.2 70.0 271.8 77.8 272.0 78.0 272.8 89.8 296.5 89.8 296.5 33.8 232.2 -2.8Z"/><path fill="#6eb257" fill-rule="evenodd" d="M275.8 93.2 275.8 173.5 296.5 173.5 296.5 93.2ZM190.5 -2.8 256.5 34.8 261.5 38.5 264.5 41.8 266.8 45.0 268.8 49.0 270.5 54.8 270.8 57.2 271.0 57.5 271.0 59.5 271.2 59.8 271.2 70.0 271.5 70.2 271.5 72.5 271.8 72.8 271.8 75.0 272.0 75.2 273.0 89.8 296.5 89.8 296.5 33.8 232.2 -2.8Z"/><path fill="#6db35e" fill-rule="evenodd" d="M276.0 93.2 276.0 173.5 296.5 173.5 296.5 93.2ZM190.8 -2.8 257.2 35.0 261.5 38.2 265.5 42.8 267.2 45.5 269.2 49.8 270.5 53.8 271.2 57.8 271.2 60.0 271.5 60.2 271.5 70.2 271.8 70.5 272.2 78.0 272.5 78.2 273.2 89.8 296.5 89.8 296.5 33.8 232.2 -2.8Z"/><path fill="#6db366" fill-rule="evenodd" d="M276.2 93.2 276.2 173.5 296.5 173.5 296.5 93.2ZM191.0 -2.8 256.8 34.5 261.8 38.2 264.8 41.5 267.8 46.0 269.2 49.2 270.8 54.0 271.2 58.0 271.5 58.2 271.5 60.2 271.8 60.5 271.8 70.2 272.0 70.5 272.5 78.2 272.8 78.5 273.5 89.8 296.5 89.8 296.5 33.8 232.2 -2.8Z"/><path fill="#6db36d" fill-rule="evenodd" d="M276.5 93.2 276.5 173.5 296.5 173.5 296.5 93.2ZM191.5 -2.8 254.5 33.2 256.2 34.0 259.0 35.8 261.8 38.0 265.0 41.5 267.2 44.8 269.8 50.0 271.2 55.2 271.5 58.2 271.8 58.5 271.8 60.8 272.0 61.0 272.0 70.5 272.2 70.8 272.2 73.0 272.5 73.2 272.5 75.5 272.8 75.8 273.8 89.8 296.5 89.8 296.5 33.8 232.2 -2.8Z"/><path fill="#6cb474" fill-rule="evenodd" d="M276.8 93.2 276.8 173.5 296.5 173.5 296.5 93.2ZM191.8 -2.8 257.0 34.2 262.0 38.0 265.0 41.2 267.8 45.2 269.2 48.2 271.0 53.2 271.8 57.0 271.8 58.5 272.0 58.8 272.0 61.2 272.2 61.5 272.2 70.8 272.8 73.2 274.0 89.8 296.5 89.8 296.5 33.8 232.2 -2.8Z"/><path fill="#6cb57b" fill-rule="evenodd" d="M277.0 93.2 277.0 173.5 296.5 173.5 296.5 93.2ZM192.2 -2.8 251.2 31.0 256.5 33.8 259.2 35.5 262.2 38.0 265.2 41.2 268.2 45.8 270.2 50.2 271.5 54.5 272.0 58.8 272.2 59.0 272.2 61.8 272.5 62.0 272.5 70.8 272.8 71.0 272.8 73.2 273.0 73.5 274.2 89.8 296.5 89.8 296.5 33.8 232.2 -2.8Z"/><path fill="#6db782" fill-rule="evenodd" d="M277.5 93.2 277.5 173.5 296.5 173.5 296.5 93.2ZM192.5 -2.8 256.8 33.8 262.0 37.5 265.5 41.2 267.8 44.5 270.0 49.0 271.8 54.8 272.2 57.2 272.2 59.0 272.5 59.2 272.5 62.0 272.8 62.2 272.8 70.8 273.0 71.0 273.0 73.2 273.2 73.5 274.5 89.8 296.5 89.8 296.5 33.8 232.2 -2.8Z"/><path fill="#6db889" fill-rule="evenodd" d="M277.8 93.2 277.8 173.5 296.5 173.5 296.5 93.2ZM192.8 -2.8 257.0 33.8 262.8 38.0 265.8 41.2 268.2 45.0 270.5 49.8 272.0 54.8 272.5 59.2 272.8 59.5 272.8 62.2 273.0 62.5 273.0 70.8 273.2 71.0 273.2 73.2 273.5 73.5 274.8 89.8 296.5 89.8 296.5 33.8 232.2 -2.8Z"/><path fill="#6dba90" fill-rule="evenodd" d="M278.0 93.2 278.0 173.5 296.5 173.5 296.5 93.2ZM193.0 -2.8 252.0 31.0 257.2 33.8 261.5 36.8 265.8 41.0 267.8 43.8 270.2 48.5 272.0 53.8 272.8 57.8 272.8 59.2 273.0 59.5 273.2 71.0 273.8 73.5 275.0 89.8 296.5 89.8 296.5 33.8 232.2 -2.8Z"/><path fill="#6ebc97" fill-rule="evenodd" d="M278.2 93.2 278.2 173.5 296.5 173.5 296.5 93.2ZM193.2 -2.8 252.2 31.0 255.8 32.8 262.0 37.0 266.0 41.0 267.5 43.0 270.2 48.0 272.0 53.0 273.0 57.8 273.0 59.5 273.2 59.8 273.5 71.0 274.0 73.5 275.2 89.8 296.5 89.8 296.5 33.8 232.2 -2.8Z"/><path fill="#6ebd9e" fill-rule="evenodd" d="M278.5 93.2 278.5 173.5 296.5 173.5 296.5 93.2ZM193.5 -2.8 252.5 31.0 256.0 32.8 260.0 35.2 262.5 37.2 265.8 40.5 268.5 44.2 271.0 49.2 272.5 54.0 273.2 58.0 273.2 59.8 273.5 60.0 273.8 71.0 274.0 71.2 274.0 73.5 274.2 73.8 274.2 76.0 274.5 76.2 275.5 89.8 296.5 89.8 296.5 33.8 232.2 -2.8Z"/><path fill="#6fbfa4" fill-rule="evenodd" d="M278.8 93.2 278.8 173.5 296.5 173.5 296.5 93.2ZM193.8 -2.8 254.5 32.0 256.2 32.8 259.5 34.8 263.2 37.8 266.8 41.5 268.8 44.2 271.5 50.0 273.0 55.2 273.5 59.8 273.8 60.0 274.0 71.0 274.2 71.2 274.2 73.5 274.5 73.8 274.5 76.0 274.8 76.2 275.8 89.8 296.5 89.8 296.5 33.8 232.2 -2.8Z"/><path fill="#6fc1ab" fill-rule="evenodd" d="M279.0 93.2 279.0 173.5 296.5 173.5 296.5 93.2ZM194.0 -2.8 254.8 32.0 256.5 32.8 262.0 36.5 266.5 41.0 269.2 44.8 271.0 48.2 272.8 53.2 273.8 58.2 273.8 60.0 274.0 60.2 274.2 71.0 274.5 71.2 274.5 73.5 274.8 73.8 274.8 76.0 275.0 76.2 276.0 89.8 296.5 89.8 296.5 33.8 232.2 -2.8Z"/><path fill="#70c3b2" fill-rule="evenodd" d="M279.2 93.2 279.2 173.5 296.5 173.5 296.5 93.2ZM194.2 -2.8 255.0 32.0 256.8 32.8 262.5 36.8 266.5 40.8 269.2 44.5 271.2 48.2 272.8 52.5 274.2 60.5 274.5 71.0 274.8 71.2 274.8 73.5 275.0 73.8 275.0 76.0 275.2 76.2 276.2 89.8 296.5 89.8 296.5 33.8 232.2 -2.8Z"/><path fill="#71c4b9" fill-rule="evenodd" d="M279.5 93.2 279.5 173.5 296.5 173.5 296.5 93.2ZM194.5 -2.8 258.2 33.5 263.2 37.2 266.0 40.0 269.8 45.0 271.2 47.8 273.0 52.5 274.5 60.5 274.8 71.0 275.0 71.2 275.0 73.5 275.2 73.8 275.2 76.0 275.5 76.2 276.5 89.8 296.5 89.8 296.5 33.8 232.2 -2.8Z"/><path fill="#75c5bf" fill-rule="evenodd" d="M279.8 93.2 279.8 173.5 296.5 173.5 296.5 93.2ZM194.8 -2.8 258.5 33.5 264.0 37.8 267.2 41.2 270.5 46.0 272.0 49.0 273.8 54.5 274.2 58.5 274.5 58.8 274.5 60.5 274.8 60.8 275.0 71.0 275.2 71.2 275.2 73.5 275.5 73.8 275.5 76.0 275.8 76.2 276.8 89.8 296.5 89.8 296.5 33.8 232.2 -2.8Z"/><path fill="#79c5c5" fill-rule="evenodd" d="M280.0 93.2 280.0 173.5 296.5 173.5 296.5 93.2ZM195.0 -2.8 257.0 32.5 262.5 36.2 267.0 40.8 270.2 45.2 272.5 49.8 273.5 52.8 274.5 57.2 274.8 60.8 275.0 61.0 275.2 71.2 275.5 71.5 275.5 73.8 275.8 74.0 275.8 76.2 276.0 76.5 276.0 78.8 276.2 79.0 277.0 89.8 296.5 89.8 296.5 33.8 232.2 -2.8Z"/><path fill="#7dc6cb" fill-rule="evenodd" d="M280.2 93.2 280.2 173.5 296.5 173.5 296.5 93.2ZM195.0 -2.8 196.8 -2.0 220.0 11.5 221.8 12.2 245.0 25.8 257.2 32.5 263.2 36.8 266.8 40.2 270.2 45.0 272.2 48.8 273.8 53.0 274.5 56.0 275.0 61.0 275.2 61.2 275.5 71.5 275.8 71.8 276.0 76.2 276.2 76.5 277.2 89.8 296.5 89.8 296.5 33.8 232.2 -2.8Z"/><path fill="#81c7d1" fill-rule="evenodd" d="M280.5 93.2 280.5 173.5 296.5 173.5 296.5 93.2ZM195.2 -2.8 257.5 32.5 260.2 34.2 264.0 37.2 267.8 41.2 270.2 44.8 272.8 49.5 274.0 53.0 275.2 59.2 275.2 61.5 275.5 61.8 275.8 71.5 276.0 71.8 276.0 74.0 276.2 74.2 276.2 76.5 276.5 76.8 276.5 79.0 276.8 79.2 277.5 89.8 296.5 89.8 296.5 33.8 232.2 -2.8Z"/><path fill="#85c7d7" fill-rule="evenodd" d="M280.8 93.2 280.8 173.5 296.5 173.5 296.5 93.2ZM195.5 -2.8 257.2 32.2 262.8 36.0 267.5 40.8 269.2 43.0 273.0 49.8 274.2 53.2 275.2 57.8 275.5 61.8 275.8 62.0 276.0 71.8 276.2 72.0 276.5 76.5 276.8 76.8 277.8 89.8 296.5 89.8 296.5 33.8 232.2 -2.8Z"/><path fill="#86c8dc" fill-rule="evenodd" d="M281.0 93.2 281.0 173.5 296.5 173.5 296.5 93.2ZM195.8 -2.8 257.5 32.2 263.5 36.5 267.2 40.2 270.8 45.0 272.8 48.8 274.5 53.5 275.5 58.0 275.8 62.0 276.0 62.2 276.2 72.0 276.5 72.2 276.8 76.8 277.0 77.0 278.0 89.8 296.5 89.8 296.5 33.8 232.2 -2.8Z"/><path fill="#7dc7df" fill-rule="evenodd" d="M281.2 93.2 281.2 173.5 296.5 173.5 296.5 93.2ZM196.0 -2.8 257.2 32.0 261.5 34.8 264.8 37.5 268.0 41.0 271.0 45.2 273.5 50.2 275.0 54.8 275.8 58.8 275.8 60.2 276.0 60.5 276.2 70.5 276.5 70.8 277.0 77.5 277.2 77.8 278.0 89.5 278.2 89.8 296.5 89.8 296.5 33.8 232.2 -2.8Z"/><path fill="#76c6e1" fill-rule="evenodd" d="M281.2 93.2 281.2 173.5 296.5 173.5 296.5 93.2ZM196.0 -2.8 257.8 32.2 261.2 34.5 264.0 36.8 267.0 39.8 270.8 44.8 273.2 49.5 275.0 54.5 276.0 59.8 276.0 62.0 276.2 62.2 276.5 71.8 276.8 72.0 276.8 74.2 277.2 76.8 278.2 89.8 296.5 89.8 296.5 33.8 232.2 -2.8Z"/><path fill="#6fc5e3" fill-rule="evenodd" d="M281.5 93.2 281.5 173.5 296.5 173.5 296.5 93.2ZM196.2 -2.8 260.2 33.8 263.5 36.2 267.5 40.2 271.0 45.0 273.0 48.8 275.0 54.2 275.8 57.5 276.0 61.0 276.2 61.2 276.5 71.0 276.8 71.2 277.2 78.2 277.5 78.5 278.2 89.8 296.5 89.8 296.5 33.8 232.2 -2.8Z"/><path fill="#68c4e5" fill-rule="evenodd" d="M281.5 93.2 281.5 173.5 296.5 173.5 296.5 93.2ZM196.2 -2.8 257.5 32.0 263.0 35.8 268.0 40.8 270.8 44.5 273.5 49.8 275.0 54.0 275.8 57.0 276.2 62.8 276.5 63.0 276.5 70.0 277.0 72.5 278.5 89.8 296.5 89.8 296.5 33.8 232.2 -2.8Z"/><path fill="#60c3e6" fill-rule="evenodd" d="M281.8 93.2 281.8 173.5 296.5 173.5 296.5 93.2ZM196.5 -2.8 258.5 32.5 264.5 37.0 268.5 41.2 272.0 46.5 274.0 50.8 275.5 55.5 276.0 59.5 276.2 59.8 276.2 61.8 276.5 62.0 276.8 71.5 277.0 71.8 277.5 78.8 277.8 79.0 278.5 89.8 296.5 89.8 296.5 33.8 232.2 -2.8Z"/><path fill="#59c3e8" fill-rule="evenodd" d="M281.8 93.2 281.8 173.5 296.5 173.5 296.5 93.2ZM196.5 -2.8 254.2 30.2 257.8 32.0 264.0 36.5 267.5 40.0 271.5 45.5 273.8 50.0 275.2 54.2 276.2 59.0 276.2 60.8 276.5 61.0 276.8 70.5 277.0 70.8 277.5 77.8 277.8 78.0 278.5 89.5 278.8 89.8 296.5 89.8 296.5 33.8 232.2 -2.8Z"/><path fill="#52c2ea" fill-rule="evenodd" d="M281.8 93.2 281.8 173.5 296.5 173.5 296.5 93.2ZM196.5 -2.8 258.2 32.2 263.5 36.0 268.0 40.5 271.2 45.0 273.5 49.2 275.2 54.0 276.2 58.5 276.5 62.5 276.8 62.8 277.0 72.0 277.2 72.2 277.5 76.8 277.8 77.0 278.8 89.8 296.5 89.8 296.5 33.8 232.2 -2.8Z"/><path fill="#4bc1ec" fill-rule="evenodd" d="M282.0 93.2 282.0 173.5 296.5 173.5 296.5 93.2ZM196.8 -2.8 252.2 29.0 257.5 31.8 261.0 34.0 265.0 37.2 268.5 41.0 271.5 45.2 273.2 48.5 275.2 53.8 276.8 61.5 277.0 71.0 277.2 71.2 277.2 73.5 277.5 73.8 277.8 78.2 278.0 78.5 278.8 89.8 296.5 89.8 296.5 33.8 232.2 -2.8Z"/><path fill="#44beed" fill-rule="evenodd" d="M282.0 93.2 282.0 173.5 296.5 173.5 296.5 93.2ZM196.8 -2.8 258.0 32.0 264.2 36.5 267.5 39.8 271.2 44.8 273.8 49.5 275.8 55.2 276.5 59.0 276.5 60.5 276.8 60.8 277.0 70.2 277.2 70.5 277.2 72.5 277.8 75.0 279.0 89.8 296.5 89.8 296.5 33.8 232.2 -2.8Z"/><path fill="#42b8eb" fill-rule="evenodd" d="M282.2 93.2 282.2 173.5 296.5 173.5 296.5 93.2ZM197.0 -2.8 258.8 32.2 265.2 37.2 269.5 42.0 272.0 45.8 274.2 50.2 276.0 55.5 276.8 59.2 276.8 60.8 277.0 61.0 277.2 70.5 277.5 70.8 277.5 72.8 278.0 75.2 279.2 89.8 296.5 89.8 296.5 33.8 232.2 -2.8Z"/><path fill="#41b2e8" fill-rule="evenodd" d="M282.5 93.2 282.5 173.5 296.5 173.5 296.5 93.2ZM197.5 -2.8 257.8 31.5 263.2 35.2 268.5 40.5 271.8 45.0 274.0 49.2 276.0 54.8 277.2 61.2 277.5 70.5 277.8 70.8 277.8 72.8 278.2 75.2 279.5 89.8 296.5 89.8 296.5 33.8 232.2 -2.8Z"/><path fill="#3fabe6" fill-rule="evenodd" d="M282.8 93.2 282.8 173.5 296.5 173.5 296.5 93.2ZM197.8 -2.8 257.2 31.0 263.5 35.2 268.2 40.0 270.2 42.5 272.5 46.0 275.8 53.2 276.8 57.0 277.2 61.2 277.5 61.5 277.8 70.5 278.0 70.8 278.0 72.8 278.5 75.2 279.8 89.8 296.5 89.8 296.5 33.8 232.2 -2.8Z"/><path fill="#3ea5e3" fill-rule="evenodd" d="M283.2 93.2 283.2 173.5 296.5 173.5 296.5 93.2ZM198.0 -2.8 258.0 31.2 263.8 35.2 268.5 40.0 272.2 45.2 274.5 49.5 276.2 54.2 277.8 61.8 278.0 70.5 278.2 70.8 278.2 72.8 278.8 75.2 280.0 89.8 296.5 89.8 296.5 33.8 232.2 -2.8Z"/><path fill="#3d9ee1" fill-rule="evenodd" d="M283.5 93.2 283.5 173.5 296.5 173.5 296.5 93.2ZM198.5 -2.8 257.5 30.8 263.8 35.0 268.8 40.0 272.0 44.5 275.0 50.2 276.5 54.5 278.0 62.0 278.2 70.5 278.5 70.8 278.5 72.8 279.0 75.2 280.2 89.8 296.5 89.8 296.5 33.8 232.2 -2.8Z"/><path fill="#3b98dd" fill-rule="evenodd" d="M283.8 93.2 283.8 173.5 296.5 173.5 296.5 93.2ZM198.8 -2.8 258.2 31.0 264.0 35.0 269.0 40.0 271.8 43.8 274.8 49.2 277.0 55.5 278.0 60.5 278.0 62.0 278.2 62.2 278.5 70.8 278.8 71.0 278.8 73.0 279.2 75.5 280.5 89.8 296.5 89.8 296.5 33.8 232.2 -2.8Z"/><path fill="#3a92d8" fill-rule="evenodd" d="M283.8 93.2 283.8 173.5 296.5 173.5 296.5 93.2ZM199.0 -2.8 258.0 30.8 264.8 35.5 269.8 40.8 272.5 44.8 274.5 48.5 276.8 54.2 278.2 61.2 278.8 71.8 279.0 72.0 279.8 81.5 280.0 81.8 280.0 84.2 280.2 84.5 280.5 89.2 280.8 89.8 296.5 89.8 296.5 33.8 232.2 -2.8Z"/><path fill="#398cd3" fill-rule="evenodd" d="M284.0 93.2 284.0 173.5 296.5 173.5 296.5 93.2ZM199.2 -2.8 257.8 30.5 261.8 33.0 266.5 37.0 269.2 40.0 272.5 44.5 275.5 50.5 277.0 54.8 278.5 62.2 278.8 70.5 279.0 70.8 279.0 72.8 279.2 73.0 279.2 75.0 279.8 77.5 279.8 80.0 280.0 80.2 280.8 89.8 296.5 89.8 296.5 33.8 232.2 -2.8Z"/><path fill="#3886cf" fill-rule="evenodd" d="M284.0 93.2 284.0 173.5 296.5 173.5 296.5 93.2ZM199.2 -2.8 259.2 31.2 264.8 35.2 268.8 39.2 272.0 43.5 274.8 48.5 277.2 55.2 278.8 63.2 279.0 71.5 279.2 71.8 279.2 73.8 279.8 76.2 279.8 78.5 280.0 78.8 280.0 81.0 280.2 81.2 281.0 89.8 296.5 89.8 296.5 33.8 232.2 -2.8Z"/><path fill="#3680ca" fill-rule="evenodd" d="M284.2 93.2 284.2 173.5 296.5 173.5 296.5 93.2ZM199.5 -2.8 259.0 31.0 262.8 33.5 266.0 36.2 269.8 40.2 273.5 45.8 275.8 50.5 277.5 55.8 278.8 62.2 279.0 70.2 279.2 70.5 279.2 72.5 279.5 72.8 279.5 74.8 280.0 77.2 280.0 79.8 280.2 80.0 281.2 89.8 296.5 89.8 296.5 33.8 232.2 -2.8Z"/><path fill="#357ac5" fill-rule="evenodd" d="M284.5 93.2 284.5 173.5 296.5 173.5 296.5 93.2ZM199.8 -2.8 258.8 30.8 264.8 35.0 269.2 39.5 272.8 44.2 275.2 49.0 277.5 55.2 279.0 63.2 279.2 71.2 279.5 71.5 280.0 78.2 280.2 78.5 280.2 80.2 280.8 82.5 281.2 89.8 296.5 89.8 296.5 33.8 232.2 -2.8Z"/><path fill="#3474c0" fill-rule="evenodd" d="M284.5 93.2 284.5 173.5 296.5 173.5 296.5 93.2ZM200.0 -2.8 258.5 30.5 262.0 32.8 265.8 35.8 270.0 40.2 273.0 44.5 275.5 49.2 277.2 54.0 278.2 57.8 278.8 62.0 279.0 62.2 279.2 70.0 279.5 70.2 280.0 76.8 280.2 77.0 280.2 78.8 280.8 81.0 281.5 89.8 296.5 89.8 296.5 33.8 232.2 -2.8Z"/><path fill="#336ebc" fill-rule="evenodd" d="M284.8 93.2 284.8 173.5 296.5 173.5 296.5 93.2ZM200.0 -2.8 261.5 32.2 264.8 34.8 269.8 39.8 271.5 42.0 273.8 45.5 275.8 49.5 277.2 53.5 278.2 57.2 279.0 61.2 279.0 63.0 279.2 63.2 279.5 71.0 279.8 71.2 280.0 75.5 280.8 79.5 281.8 89.8 296.5 89.8 296.5 33.8 232.2 -2.8Z"/><path fill="#3268b7" fill-rule="evenodd" d="M284.8 93.2 284.8 173.5 296.5 173.5 296.5 93.2ZM200.2 -2.8 258.0 30.0 262.0 32.5 265.8 35.5 270.5 40.5 273.0 44.0 276.0 49.8 277.2 53.0 278.5 57.8 279.0 62.0 279.2 62.2 279.5 69.8 279.8 70.0 280.0 74.2 280.2 74.5 281.0 82.0 281.2 82.2 281.8 89.8 296.5 89.8 296.5 33.8 232.2 -2.8Z"/><path fill="#3163b2" fill-rule="evenodd" d="M285.0 93.2 285.0 173.5 296.5 173.5 296.5 93.2ZM200.5 -2.8 259.5 30.8 264.8 34.5 270.0 39.8 273.8 45.0 276.2 50.0 278.0 55.0 279.5 63.0 279.8 70.8 280.0 71.0 280.0 73.0 280.2 73.2 281.0 80.5 281.2 80.8 282.0 89.8 296.5 89.8 296.5 33.8 232.2 -2.8Z"/><path fill="#2f5dad" fill-rule="evenodd" d="M285.2 93.2 285.2 173.5 296.5 173.5 296.5 93.2ZM200.8 -2.8 259.2 30.5 265.5 35.0 269.5 39.0 273.2 44.0 275.8 48.5 278.0 54.5 279.5 62.0 280.0 71.8 280.2 72.0 280.2 73.5 281.0 77.2 282.2 89.8 296.5 89.8 296.5 33.8 232.2 -2.8Z"/><path fill="#2e58a8" fill-rule="evenodd" d="M285.5 93.2 285.5 173.5 296.5 173.5 296.5 93.2ZM201.0 -2.8 208.0 1.0 231.2 14.5 233.0 15.2 256.2 28.8 258.0 29.5 265.0 34.2 270.5 39.8 272.2 42.0 274.5 45.5 276.8 50.0 278.2 54.0 280.0 62.5 280.2 70.5 280.5 70.8 281.2 77.2 281.5 77.5 281.5 79.5 281.8 79.8 282.0 84.0 282.2 84.2 282.2 86.8 282.5 87.0 282.5 89.5 282.8 89.8 296.5 89.8 296.5 33.8 232.2 -2.8Z"/><path fill="#2d53a3" fill-rule="evenodd" d="M286.0 93.2 286.0 173.5 296.5 173.5 296.5 93.2ZM201.8 -2.8 256.5 28.5 258.2 29.2 262.2 31.8 265.8 34.5 271.2 40.2 274.2 44.5 277.2 50.2 279.0 55.2 280.5 63.0 280.8 70.5 281.0 70.8 282.0 79.8 282.2 80.0 283.0 89.8 296.5 89.8 296.5 33.8 232.2 -2.8Z"/><path fill="#2d4f9f" fill-rule="evenodd" d="M286.2 93.2 286.2 173.5 296.5 173.5 296.5 93.2ZM202.5 -2.8 259.0 29.2 265.5 33.8 270.5 38.8 274.5 44.2 277.5 50.0 279.2 54.8 281.0 63.5 281.2 70.8 281.5 71.0 282.2 78.0 282.5 78.2 283.5 89.8 296.5 89.8 296.5 33.8 232.2 -2.8Z"/><path fill="#2c4b9b" fill-rule="evenodd" d="M286.5 93.2 286.5 173.5 296.5 173.5 296.5 93.2ZM203.2 -2.8 258.5 28.5 263.2 31.5 267.8 35.2 271.2 39.0 274.5 43.5 277.5 49.0 279.5 54.2 280.8 59.0 281.2 63.5 281.5 63.8 281.8 71.0 282.2 72.8 282.2 74.5 282.5 74.8 282.5 76.5 283.0 78.8 284.0 89.8 296.5 89.8 296.5 33.8 232.2 -2.8Z"/><path fill="#2c4a9a" fill-rule="evenodd" d="M287.8 93.2 287.8 173.5 296.5 173.5 296.5 93.2ZM206.0 -2.8 261.8 29.0 266.2 32.2 271.0 36.8 274.2 40.8 277.0 45.0 279.2 49.5 281.5 56.0 283.0 63.8 283.2 70.8 283.5 71.0 284.2 79.0 284.5 79.2 285.2 89.8 296.5 89.8 296.5 33.8 232.2 -2.8Z"/><path fill="#2c4999" fill-rule="evenodd" d="M289.0 93.2 289.0 173.5 296.5 173.5 296.5 93.2ZM208.5 -2.8 262.5 28.0 268.5 32.5 272.5 36.5 275.5 40.2 278.2 44.5 280.8 49.5 282.8 55.0 284.5 63.8 284.8 70.8 285.0 71.0 285.0 72.8 285.5 75.0 286.8 89.8 296.5 89.8 296.5 33.8 232.2 -2.8Z"/><path fill="#2c4898" fill-rule="evenodd" d="M290.2 93.2 290.2 173.5 296.5 173.5 296.5 93.2ZM211.0 -2.8 262.5 26.5 269.0 31.2 274.0 36.2 277.5 40.8 280.2 45.2 283.0 51.2 284.8 56.8 285.8 61.8 285.8 63.2 286.0 63.5 286.0 65.8 286.2 66.0 286.2 70.5 286.5 70.8 287.0 77.5 287.2 77.8 288.0 89.8 296.5 89.8 296.5 33.8 232.2 -2.8Z"/><path fill="#374899" fill-rule="evenodd" d="M291.2 93.2 291.2 173.5 296.5 173.5 296.5 93.2ZM213.2 -2.8 263.8 26.0 269.2 30.0 273.8 34.2 278.2 39.8 281.2 44.5 283.8 49.8 285.8 55.5 287.0 61.0 287.2 64.5 287.5 64.8 287.5 69.0 287.8 69.2 287.8 72.0 288.0 72.2 288.0 74.5 288.2 74.8 288.5 79.0 288.8 79.2 289.5 89.8 296.5 89.8 296.5 33.8 232.2 -2.8Z"/><path fill="#3f499a" fill-rule="evenodd" d="M291.2 93.2 291.2 173.5 296.5 173.5 296.5 93.2ZM213.5 -2.8 264.0 26.0 269.8 30.2 275.5 36.0 278.2 39.5 281.2 44.2 283.5 48.8 286.2 56.8 287.2 61.8 287.2 63.2 287.5 63.5 287.5 65.8 287.8 66.0 287.8 70.5 288.0 70.8 288.0 73.0 288.2 73.2 288.8 79.8 289.0 80.0 289.5 89.8 296.5 89.8 296.5 33.8 232.2 -2.8Z"/><path fill="#46499b" fill-rule="evenodd" d="M291.5 93.2 291.5 173.5 296.5 173.5 296.5 93.2ZM213.8 -2.8 264.2 26.0 270.5 30.8 275.2 35.5 278.8 40.0 281.2 44.0 283.8 49.0 286.0 55.2 287.8 64.2 288.0 71.5 288.2 71.8 288.8 78.0 289.0 78.2 289.8 89.8 296.5 89.8 296.5 33.8 232.2 -2.8Z"/><path fill="#4e499c" fill-rule="evenodd" d="M291.5 93.2 291.5 173.5 296.5 173.5 296.5 93.2ZM214.0 -2.8 263.2 25.2 269.2 29.5 274.8 34.8 278.8 39.8 282.0 45.0 284.8 51.0 286.5 56.5 287.5 61.2 287.8 65.0 288.0 65.2 288.0 70.2 288.2 70.5 288.8 76.2 289.0 76.5 290.0 89.8 296.5 89.8 296.5 33.8 232.2 -2.8Z"/><path fill="#55499d" fill-rule="evenodd" d="M291.8 93.2 291.8 173.5 296.5 173.5 296.5 93.2ZM214.2 -2.8 263.5 25.2 269.8 29.8 274.2 34.0 278.8 39.5 281.8 44.2 284.0 48.8 286.8 56.8 287.8 61.8 287.8 63.2 288.0 63.5 288.0 65.8 288.2 66.0 288.2 70.5 288.5 70.8 289.0 76.8 289.2 77.0 290.0 89.8 296.5 89.8 296.5 33.8 232.2 -2.8Z"/><path fill="#5c4a9e" fill-rule="evenodd" d="M291.8 93.2 291.8 173.5 296.5 173.5 296.5 93.2ZM214.5 -2.8 263.8 25.2 270.2 30.0 276.0 35.8 278.8 39.2 282.5 45.2 285.0 50.8 286.8 56.0 288.2 64.0 288.5 70.8 288.8 71.0 289.2 77.5 289.5 77.8 290.2 89.8 296.5 89.8 296.5 33.8 232.2 -2.8Z"/><path fill="#644a9f" fill-rule="evenodd" d="M292.0 93.2 292.0 173.5 296.5 173.5 296.5 93.2ZM214.8 -2.8 264.0 25.2 269.2 29.0 275.8 35.2 278.8 39.0 282.2 44.5 285.0 50.2 287.0 56.2 288.5 64.2 288.8 71.2 289.2 73.5 289.8 81.2 290.0 81.5 290.2 89.2 290.5 89.8 296.5 89.8 296.5 33.8 232.2 -2.8Z"/><path fill="#6b4aa0" fill-rule="evenodd" d="M292.0 93.2 292.0 173.5 296.5 173.5 296.5 93.2ZM215.0 -2.8 263.0 24.5 269.8 29.2 275.2 34.5 280.0 40.5 283.2 46.0 285.8 51.8 287.2 56.5 288.5 62.8 288.5 64.5 288.8 64.8 288.8 68.8 289.0 69.0 289.0 71.8 289.2 72.0 289.5 76.2 289.8 76.5 290.5 89.8 296.5 89.8 296.5 33.8 232.2 -2.8Z"/><path fill="#724ba0" fill-rule="evenodd" d="M292.2 93.2 292.2 173.5 296.5 173.5 296.5 93.2ZM215.2 -2.8 263.8 24.8 270.0 29.2 275.5 34.5 279.5 39.5 282.5 44.2 285.5 50.5 287.2 55.8 288.2 60.0 288.8 65.0 289.0 65.2 289.0 70.0 289.2 70.2 289.8 77.0 290.0 77.2 290.8 89.8 296.5 89.8 296.5 33.8 232.2 -2.8Z"/><path fill="#7a4ca0" fill-rule="evenodd" d="M292.2 93.2 292.2 173.5 296.5 173.5 296.5 93.2ZM215.8 -2.8 263.8 24.5 269.8 28.8 276.0 34.8 279.8 39.5 282.8 44.2 285.5 50.0 287.8 56.8 288.8 61.8 289.0 65.5 289.2 65.8 289.2 70.5 289.5 70.8 290.0 77.8 290.2 78.0 290.8 89.8 296.5 89.8 296.5 33.8 232.2 -2.8Z"/><path fill="#814ca0" fill-rule="evenodd" d="M292.5 93.2 292.5 173.5 296.5 173.5 296.5 93.2ZM216.0 -2.8 264.5 24.8 271.2 29.8 276.5 35.0 279.5 38.8 283.0 44.2 285.5 49.5 287.8 56.0 289.2 63.8 289.5 70.8 289.8 71.0 290.2 78.8 290.5 79.0 290.5 82.2 290.8 82.5 291.0 89.8 296.5 89.8 296.5 33.8 232.2 -2.8Z"/><path fill="#894da0" fill-rule="evenodd" d="M292.5 93.2 292.5 173.5 296.5 173.5 296.5 93.2ZM216.5 -2.8 264.5 24.5 271.0 29.2 277.0 35.2 279.8 38.8 283.5 44.8 285.8 49.5 287.8 55.2 289.5 64.2 289.8 71.2 290.0 71.5 290.2 76.5 290.5 76.8 291.2 89.8 296.5 89.8 296.5 33.8 232.2 -2.8Z"/><path fill="#904ea0" fill-rule="evenodd" d="M292.8 93.2 292.8 173.5 296.5 173.5 296.5 93.2ZM217.0 -2.8 264.5 24.2 271.0 29.0 277.2 35.2 280.0 38.8 284.0 45.2 286.8 51.5 288.2 56.2 289.5 62.5 289.5 64.5 289.8 64.8 290.0 71.8 290.2 72.0 290.8 80.8 291.0 81.0 291.2 89.8 296.5 89.8 296.5 33.8 232.2 -2.8Z"/><path fill="#974ea0" fill-rule="evenodd" d="M292.8 93.2 292.8 173.5 296.5 173.5 296.5 93.2ZM217.2 -2.8 264.5 24.0 270.8 28.5 277.8 35.5 280.2 38.8 283.2 43.5 285.8 48.5 288.2 55.5 289.2 59.8 289.8 64.8 290.0 65.0 290.0 70.0 290.2 70.2 290.8 78.2 291.0 78.5 291.5 89.8 296.5 89.8 296.5 33.8 232.2 -2.8Z"/><path fill="#9f4fa0" fill-rule="evenodd" d="M293.0 93.2 293.0 173.5 296.5 173.5 296.5 93.2ZM217.8 -2.8 264.5 23.8 272.5 29.8 278.0 35.5 280.5 38.8 283.5 43.5 286.5 49.8 288.2 54.8 290.0 63.2 290.2 70.5 290.5 70.8 290.8 75.8 291.0 76.0 291.8 89.8 296.5 89.8 296.5 33.8 232.2 -2.8Z"/><path fill="#a84f9f" fill-rule="evenodd" d="M293.0 93.2 293.0 173.5 296.5 173.5 296.5 93.2ZM218.2 -2.8 264.5 23.5 270.5 27.8 277.0 34.0 280.8 38.8 283.8 43.5 287.0 50.5 289.0 56.8 290.0 61.8 290.2 66.0 290.5 66.2 290.5 71.0 290.8 71.2 291.0 76.8 291.2 77.0 291.8 89.8 296.5 89.8 296.5 33.8 232.2 -2.8Z"/><path fill="#a84b9b" fill-rule="evenodd" d="M294.2 93.2 294.2 173.5 296.5 173.5 296.5 93.2ZM222.2 -2.8 225.8 -1.0 266.0 22.0 272.5 26.8 279.5 33.8 283.2 38.8 285.2 42.0 288.0 47.5 290.5 54.5 291.8 60.0 292.0 63.0 292.2 63.2 292.2 65.5 292.5 65.8 292.5 71.0 292.8 71.2 292.8 75.2 293.0 75.5 293.5 89.8 296.5 89.8 296.5 33.8 232.2 -2.8Z"/><path fill="#a84898" fill-rule="evenodd" d="M295.5 93.2 295.5 173.5 296.5 173.5 296.5 93.2ZM226.5 -2.8 267.5 20.5 274.2 25.5 281.8 33.2 286.0 39.2 288.0 42.8 291.0 49.5 292.8 55.0 293.8 59.5 294.2 65.0 294.5 65.2 295.0 89.8 296.5 89.8 296.5 33.8 262.8 14.5 261.0 13.8 248.2 6.2 246.5 5.5 232.2 -2.8Z"/><path fill="#a34393" fill-rule="evenodd" d="M230.2 -2.8 266.5 17.8 271.5 21.0 277.0 25.5 280.5 29.0 285.0 34.5 288.2 39.5 291.0 44.8 294.0 52.8 295.2 57.8 295.2 59.0 296.0 62.2 296.0 64.5 296.2 64.8 296.5 89.8 296.5 33.8 262.8 14.5 261.0 13.8 248.2 6.2 246.5 5.5 232.2 -2.8Z"/><path fill="#a14191" fill-rule="evenodd" d="M232.0 -2.8 269.0 18.2 276.0 23.5 282.0 29.5 287.2 36.5 291.5 44.2 293.2 48.5 295.0 54.0 296.2 59.8 296.5 63.2 296.5 33.8 262.8 14.5 261.0 13.8 248.2 6.2 246.5 5.5 233.8 -2.0Z"/><path d="M258.0 89.8 258.0 89.0 258.0 88.0 257.9 87.0 257.9 86.0 257.8 85.0 257.8 84.0 257.7 83.2 257.7 82.2 257.6 81.2 257.5 80.2 257.5 79.5 257.4 78.5 257.4 77.5 257.3 76.5 257.3 75.5 257.2 74.8 257.1 73.8 257.1 72.8 257.0 71.8 257.0 71.0 256.9 70.0 256.9 69.0 257.0 68.0 257.0 67.2 257.1 66.2 257.2 65.2 257.3 64.5 257.3 63.5 257.4 62.5 257.4 61.5 257.3 60.5 257.2 59.7 257.1 58.8 257.0 58.0 256.8 57.0 256.6 56.2 256.3 55.5 256.1 54.8 255.8 54.0 255.5 53.4 255.2 52.8 254.8 52.0 254.4 51.5 254.0 50.8 253.7 50.2 253.3 49.5 253.0 49.0 252.5 48.4 252.0 47.8 251.5 47.3 251.0 46.9 250.5 46.5 249.8 46.0 249.2 45.7 248.5 45.3 248.0 45.0 247.2 44.6 246.7 44.2 246.0 43.9 245.3 43.5 244.8 43.2 244.0 42.8 243.5 42.4 242.8 42.0 242.2 41.7 241.5 41.3 241.0 41.0 240.2 40.6 239.6 40.2 239.0 39.9 238.3 39.5 237.8 39.2 237.0 38.8 236.5 38.5 235.8 38.0 235.2 37.7 234.5 37.3 233.9 37.0 233.2 36.6 232.6 36.2 232.0 35.9 231.3 35.5 230.8 35.2 230.0 34.8 229.5 34.5 228.8 34.0 228.2 33.8 227.5 33.3 226.9 33.0 226.2 32.6 225.6 32.2 225.0 31.9 224.3 31.5 223.8 31.2 223.0 30.8 222.5 30.5 221.8 30.1 221.2 29.8 220.5 29.3 219.9 29.0 219.2 28.6 218.6 28.2 218.0 27.9 217.3 27.5 216.8 27.2 216.0 26.8 215.5 26.5 214.8 26.1 214.2 25.8 213.5 25.3 212.9 25.0 212.2 24.6 211.6 24.2 211.0 23.9 210.3 23.5 209.8 23.2 209.0 22.8 208.5 22.5 207.8 22.1 207.2 21.8 206.5 21.4 205.9 21.0 205.2 20.6 204.6 20.2 204.0 19.9 203.2 19.5 202.8 19.2 202.0 18.8 201.5 18.5 200.8 18.1 200.2 17.8 199.5 17.4 198.9 17.0 198.2 16.7 197.5 16.2 197.0 15.9 196.2 15.5 195.8 15.2 195.0 14.8 194.5 14.5 193.8 14.1 193.2 13.8 192.5 13.4 191.8 13.0 191.2 12.7 190.5 12.2 190.0 12.0 189.2 11.5 188.8 11.2 188.0 10.8 187.4 10.5 186.8 10.1 186.1 9.8 185.5 9.4 184.8 9.0 184.2 8.7 183.5 8.2 183.0 8.0 182.2 7.5" fill="none" stroke="#6e6e50" stroke-width="0.7" stroke-opacity="0.8"/><path d="M259.6 173.5 259.6 172.5 259.6 171.5 259.6 170.5 259.6 169.5 259.6 168.5 259.6 167.5 259.6 166.5 259.6 165.5 259.6 164.5 259.6 163.5 259.6 162.5 259.6 161.5 259.6 160.5 259.6 159.5 259.6 158.5 259.6 157.5 259.6 156.5 259.6 155.5 259.6 154.5 259.6 153.5 259.6 152.5 259.6 151.5 259.6 150.5 259.6 149.5 259.6 148.5 259.6 147.5 259.6 146.5 259.6 145.5 259.6 144.5 259.6 143.5 259.6 142.5 259.6 141.5 259.6 140.5 259.6 139.5 259.6 138.5 259.6 137.5 259.6 136.5 259.6 135.5 259.6 134.5 259.6 133.5 259.6 132.5 259.6 131.5 259.6 130.5 259.6 129.5 259.6 128.5 259.6 127.5 259.6 126.5 259.6 125.5 259.6 124.5 259.6 123.5 259.6 122.5 259.6 121.5 259.6 120.5 259.6 119.5 259.6 118.5 259.6 117.5 259.6 116.5 259.6 115.5 259.6 114.5 259.6 113.5 259.6 112.5 259.6 111.5 259.6 110.5 259.6 109.5 259.6 108.5 259.6 107.5 259.6 106.5 259.6 105.5 259.6 104.5 259.6 103.5 259.6 102.5 259.6 101.5 259.6 100.5 259.6 99.5 259.6 98.5 259.6 97.5 259.6 96.5 259.6 95.5 259.6 94.5 259.6 93.5" fill="none" stroke="#6e6e50" stroke-width="0.7" stroke-opacity="0.8"/><path d="M263.3 89.8 263.3 88.8 263.2 87.8 263.2 87.0 263.2 86.0 263.1 85.0 263.1 84.0 263.0 83.0 263.0 82.2 262.9 81.2 262.9 80.2 262.8 79.2 262.8 78.2 262.7 77.5 262.6 76.5 262.6 75.5 262.5 74.5 262.5 73.8 262.4 72.8 262.4 71.8 262.3 70.8 262.2 70.0 262.2 69.0 262.2 68.0 262.3 67.2 262.3 66.2 262.3 65.2 262.3 64.2 262.3 63.2 262.3 62.2 262.3 61.2 262.2 60.5 262.2 59.5 262.1 58.5 262.0 57.8 261.8 56.8 261.7 56.0 261.5 55.2 261.2 54.3 261.0 53.5 260.8 52.8 260.5 52.1 260.2 51.4 259.9 50.8 259.6 50.0 259.2 49.4 258.9 48.8 258.5 48.1 258.1 47.5 257.7 47.0 257.2 46.4 256.8 45.9 256.2 45.3 255.8 44.8 255.2 44.3 254.8 43.9 254.2 43.5 253.7 43.0 253.0 42.5 252.5 42.2 251.8 41.8 251.2 41.5 250.5 41.0 249.9 40.8 249.2 40.3 248.6 40.0 248.0 39.6 247.3 39.2 246.8 38.9 246.0 38.5 245.5 38.2 244.8 37.8 244.2 37.5 243.5 37.1 242.9 36.8 242.2 36.3 241.6 36.0 241.0 35.6 240.3 35.2 239.8 34.9 239.0 34.5 238.5 34.2 237.8 33.8 237.2 33.5 236.5 33.1 235.9 32.8 235.2 32.4 234.6 32.0 234.0 31.7 233.3 31.2 232.8 31.0 232.0 30.5 231.5 30.2 230.8 29.8 230.2 29.5 229.5 29.1 228.9 28.8 228.2 28.4 227.6 28.0 227.0 27.7 226.3 27.2 225.8 27.0 225.0 26.5 224.5 26.2 223.8 25.8 223.2 25.5 222.5 25.1 221.9 24.8 221.2 24.4 220.6 24.0 220.0 23.7 219.2 23.3 218.8 23.0 218.0 22.5 217.5 22.2 216.8 21.8 216.2 21.5 215.5 21.1 214.9 20.8 214.2 20.4 213.5 20.0 213.0 19.7 212.2 19.3 211.8 19.0 211.0 18.5 210.5 18.2 209.8 17.8 209.2 17.5 208.5 17.1 207.8 16.8 207.2 16.4 206.5 16.0 206.0 15.7 205.2 15.3 204.8 15.0 204.0 14.5 203.5 14.2 202.8 13.8 202.1 13.5 201.5 13.1 200.8 12.8 200.2 12.4 199.5 12.0 199.0 11.7 198.2 11.3 197.7 11.0 197.0 10.6 196.4 10.2 195.8 9.8 195.1 9.5 194.5 9.1 193.8 8.8 193.2 8.4 192.5 8.0 192.0 7.7 191.2 7.3 190.7 7.0 190.0 6.6 189.4 6.2 188.8 5.9 188.1 5.5 187.5 5.2 186.8 4.8 186.2 4.4 185.5 4.0 185.0 3.7" fill="none" stroke="#80804a" stroke-width="0.7" stroke-opacity="0.8"/><path d="M265.3 173.5 265.3 172.5 265.3 171.5 265.3 170.5 265.3 169.5 265.3 168.5 265.3 167.5 265.3 166.5 265.3 165.5 265.3 164.5 265.3 163.5 265.3 162.5 265.3 161.5 265.3 160.5 265.3 159.5 265.3 158.5 265.3 157.5 265.3 156.5 265.3 155.5 265.3 154.5 265.3 153.5 265.3 152.5 265.3 151.5 265.3 150.5 265.3 149.5 265.3 148.5 265.3 147.5 265.3 146.5 265.3 145.5 265.3 144.5 265.3 143.5 265.3 142.5 265.3 141.5 265.3 140.5 265.3 139.5 265.3 138.5 265.3 137.5 265.3 136.5 265.3 135.5 265.3 134.5 265.3 133.5 265.3 132.5 265.3 131.5 265.3 130.5 265.3 129.5 265.3 128.5 265.3 127.5 265.3 126.5 265.3 125.5 265.3 124.5 265.3 123.5 265.3 122.5 265.3 121.5 265.3 120.5 265.3 119.5 265.3 118.5 265.3 117.5 265.3 116.5 265.3 115.5 265.3 114.5 265.3 113.5 265.3 112.5 265.3 111.5 265.3 110.5 265.3 109.5 265.3 108.5 265.3 107.5 265.3 106.5 265.3 105.5 265.3 104.5 265.3 103.5 265.3 102.5 265.3 101.5 265.3 100.5 265.3 99.5 265.3 98.5 265.3 97.5 265.3 96.5 265.3 95.5 265.3 94.5 265.3 93.5" fill="none" stroke="#80804a" stroke-width="0.7" stroke-opacity="0.8"/><path d="M277.8 89.8 277.8 88.8 277.7 88.0 277.6 87.0 277.6 86.0 277.5 85.2 277.4 84.2 277.3 83.2 277.2 82.3 277.2 81.5 277.1 80.5 277.0 79.5 276.9 78.8 276.8 77.8 276.8 76.9 276.7 76.0 276.6 75.0 276.5 74.2 276.4 73.2 276.3 72.2 276.2 71.5 276.1 70.5 276.0 69.5 276.0 68.5 276.0 67.6 276.0 66.8 276.0 65.8 275.9 64.8 275.9 63.8 275.8 62.8 275.7 62.0 275.6 61.0 275.5 60.0 275.4 59.2 275.3 58.2 275.2 57.5 275.0 56.5 274.8 55.8 274.7 55.0 274.5 54.2 274.2 53.4 274.0 52.6 273.8 51.8 273.5 51.1 273.2 50.5 272.9 49.8 272.6 49.0 272.3 48.2 272.0 47.7 271.6 47.0 271.2 46.3 271.0 45.8 270.5 45.0 270.2 44.5 269.8 43.8 269.4 43.2 269.0 42.7 268.5 42.1 268.1 41.5 267.7 41.0 267.2 40.5 266.8 39.9 266.2 39.4 265.8 38.9 265.2 38.4 264.8 37.9 264.2 37.4 263.8 36.9 263.2 36.5 262.6 36.0 262.0 35.5 261.5 35.1 261.0 34.7 260.3 34.2 259.8 33.9 259.2 33.5 258.5 33.1 258.0 32.8 257.2 32.3 256.7 32.0 256.0 31.6 255.4 31.2 254.8 30.9 254.0 30.5 253.5 30.2 252.8 29.8 252.2 29.5 251.5 29.1 251.0 28.8 250.2 28.3 249.7 28.0 249.0 27.6 248.3 27.2 247.8 26.9 247.0 26.5 246.5 26.2 245.8 25.8 245.2 25.5 244.5 25.1 243.9 24.8 243.2 24.4 242.6 24.0 242.0 23.6 241.3 23.2 240.8 22.9 240.0 22.5 239.5 22.2 238.8 21.8 238.2 21.5 237.5 21.1 236.9 20.8 236.2 20.4 235.6 20.0 235.0 19.6 234.3 19.2 233.8 18.9 233.0 18.5 232.5 18.2 231.8 17.8 231.2 17.5 230.5 17.1 229.9 16.8 229.2 16.4 228.6 16.0 228.0 15.7 227.3 15.2 226.8 14.9 226.0 14.5 225.5 14.2 224.8 13.8 224.2 13.5 223.5 13.1 222.9 12.8 222.2 12.4 221.6 12.0 221.0 11.7 220.3 11.2 219.8 11.0 219.0 10.5 218.5 10.2 217.8 9.8 217.2 9.5 216.5 9.1 215.9 8.8 215.2 8.4 214.6 8.0 214.0 7.7 213.2 7.3 212.8 7.0 212.0 6.5 211.5 6.2 210.8 5.8 210.2 5.5 209.5 5.1 208.9 4.8 208.2 4.4 207.5 4.0 207.0 3.7 206.2 3.3 205.8 3.0 205.0 2.5 204.5 2.2 203.8 1.8 203.2 1.5 202.5 1.1 201.8 0.8 201.2 0.4 200.5 0.0 200.0 -0.3 199.2 -0.7 198.8 -1.0 198.0 -1.4 197.5 -1.8 196.8 -2.2 196.1 -2.5" fill="none" stroke="#9a90c8" stroke-width="0.7" stroke-opacity="0.8"/><path d="M280.9 173.5 280.9 172.5 280.9 171.5 280.9 170.5 280.9 169.5 280.9 168.5 280.9 167.5 280.9 166.5 280.9 165.5 280.9 164.5 280.9 163.5 280.9 162.5 280.9 161.5 280.9 160.5 280.9 159.5 280.9 158.5 280.9 157.5 280.9 156.5 280.9 155.5 280.9 154.5 280.9 153.5 280.9 152.5 280.9 151.5 280.9 150.5 280.9 149.5 280.9 148.5 280.9 147.5 280.9 146.5 280.9 145.5 280.9 144.5 280.9 143.5 280.9 142.5 280.9 141.5 280.9 140.5 280.9 139.5 280.9 138.5 280.9 137.5 280.9 136.5 280.9 135.5 280.9 134.5 280.9 133.5 280.9 132.5 280.9 131.5 280.9 130.5 280.9 129.5 280.9 128.5 280.9 127.5 280.9 126.5 280.9 125.5 280.9 124.5 280.9 123.5 280.9 122.5 280.9 121.5 280.9 120.5 280.9 119.5 280.9 118.5 280.9 117.5 280.9 116.5 280.9 115.5 280.9 114.5 280.9 113.5 280.9 112.5 280.9 111.5 280.9 110.5 280.9 109.5 280.9 108.5 280.9 107.5 280.9 106.5 280.9 105.5 280.9 104.5 280.9 103.5 280.9 102.5 280.9 101.5 280.9 100.5 280.9 99.5 280.9 98.5 280.9 97.5 280.9 96.5 280.9 95.5 280.9 94.5 280.9 93.5" fill="none" stroke="#9a90c8" stroke-width="0.7" stroke-opacity="0.8"/><path fill="#fffdfd" fill-rule="evenodd" d="M276.8 190.0 276.8 197.2 276.5 197.5 272.8 197.5 272.8 205.8 272.5 206.0 239.5 206.0 239.5 339.5 273.2 339.5 273.5 339.8 273.5 347.0 277.0 347.0 277.2 347.2 277.2 363.2 282.0 363.2 282.0 347.2 282.2 347.0 284.8 347.0 284.8 339.8 285.0 339.5 296.5 339.5 296.5 206.0 284.5 206.0 284.2 205.8 284.2 197.5 281.8 197.5 281.5 197.2 281.5 190.0Z"/><path fill="#fef8f8" fill-rule="evenodd" d="M276.8 190.0 276.8 197.2 276.5 197.5 272.8 197.5 272.8 205.8 272.5 206.0 267.5 206.0 258.2 209.2 246.8 217.8 242.0 222.0 240.8 225.8 240.8 226.5 239.5 230.2 239.5 314.8 239.8 315.0 240.2 322.2 242.8 327.0 248.0 332.0 252.2 334.8 255.2 335.5 259.2 337.0 260.0 337.0 267.0 339.5 273.2 339.5 273.5 339.8 273.5 344.8 276.2 347.0 277.2 347.2 277.2 363.2 282.0 363.2 282.0 347.2 282.2 347.0 284.8 347.0 284.8 339.8 285.0 339.5 296.5 339.5 296.5 206.0 284.5 206.0 284.2 205.8 284.2 197.5 281.8 197.5 281.5 197.2 281.5 190.0Z"/><path fill="#fdf3f3" fill-rule="evenodd" d="M276.8 190.0 276.8 197.2 276.5 197.5 272.8 197.5 272.8 205.8 272.5 206.0 268.2 206.0 259.8 209.2 243.8 222.0 240.8 230.5 240.0 243.8 239.8 244.0 239.8 247.0 239.5 247.2 239.5 305.8 239.8 306.0 239.8 308.8 240.5 312.8 241.5 322.2 243.8 326.5 249.0 331.5 254.0 334.8 261.5 337.0 268.0 339.5 273.2 339.5 273.5 339.8 273.5 344.5 275.8 346.5 277.2 347.2 277.2 363.2 282.0 363.2 282.0 347.2 282.2 347.0 284.8 347.0 284.8 339.8 285.0 339.5 296.5 339.5 296.5 206.0 284.5 206.0 284.2 205.8 284.2 197.5 281.8 197.5 281.5 197.2 281.5 190.0Z"/><path fill="#fceeee" fill-rule="evenodd" d="M276.8 190.0 276.8 197.2 276.5 197.5 272.8 197.5 272.8 205.8 272.5 206.0 268.8 206.0 261.0 209.5 256.5 213.5 250.5 218.0 245.5 222.2 242.2 230.2 240.8 247.0 239.5 247.5 239.5 305.5 240.8 306.0 240.8 309.5 241.0 309.8 241.0 311.2 241.5 313.0 242.8 322.5 245.2 326.8 250.0 331.0 256.0 334.8 261.0 336.2 269.0 339.5 273.2 339.5 273.5 339.8 273.5 344.0 276.5 347.0 277.2 347.2 277.2 363.2 282.0 363.2 282.0 347.2 282.2 347.0 284.8 347.0 284.8 339.8 285.0 339.5 296.5 339.5 296.5 206.0 284.5 206.0 284.2 205.8 284.2 197.5 281.8 197.5 281.5 197.2 281.5 190.0Z"/><path fill="#fbe9e9" fill-rule="evenodd" d="M276.8 190.0 276.8 197.2 276.5 197.5 272.8 197.5 272.8 205.8 272.5 206.0 269.5 206.0 263.2 209.0 256.2 215.2 247.5 222.0 243.5 230.5 241.8 247.0 239.5 247.8 239.5 305.2 241.8 306.0 241.5 308.8 242.5 313.2 243.8 322.0 246.2 326.2 251.8 331.0 257.8 334.8 262.8 336.2 269.8 339.5 273.2 339.5 273.5 339.8 273.5 343.5 276.5 347.0 277.2 347.2 277.2 363.2 282.0 363.2 282.0 347.2 282.2 347.0 284.8 347.0 284.8 339.8 285.0 339.5 296.5 339.5 296.5 206.0 284.5 206.0 284.2 205.8 284.2 197.5 281.8 197.5 281.5 197.2 281.5 190.0Z"/><path fill="#fae4e4" fill-rule="evenodd" d="M276.8 190.0 276.8 197.2 276.5 197.5 272.8 197.5 272.8 205.8 272.5 206.0 270.0 206.0 264.8 209.0 260.2 213.5 254.5 218.2 250.2 221.2 249.2 222.2 244.8 231.0 244.8 232.8 244.5 233.0 244.5 234.8 244.2 235.0 242.8 247.0 239.5 248.2 239.5 304.8 242.8 306.0 242.5 309.5 244.5 318.5 245.0 322.2 247.8 326.5 253.8 331.2 259.5 334.8 264.5 336.2 270.8 339.5 273.2 339.5 273.5 339.8 273.5 343.0 276.0 346.2 277.2 347.2 277.2 363.2 282.0 363.2 282.0 347.2 282.2 347.0 284.8 347.0 284.8 339.8 285.0 339.5 296.5 339.5 296.5 206.0 284.5 206.0 284.2 205.8 284.2 197.5 281.8 197.5 281.5 197.2 281.5 190.0Z"/><path fill="#f9dfdf" fill-rule="evenodd" d="M276.8 190.0 276.8 197.2 276.5 197.5 273.0 197.5 272.8 197.8 272.8 205.8 272.5 206.0 270.5 206.0 266.0 209.0 259.5 215.5 250.8 222.2 246.0 230.5 243.8 246.5 242.8 247.5 239.5 248.5 239.5 304.5 240.8 304.8 243.5 306.0 243.0 308.5 245.0 316.5 246.0 322.2 248.8 326.2 254.5 330.8 259.8 334.0 261.8 335.0 265.8 336.2 271.5 339.5 273.2 339.5 273.5 339.8 273.5 342.2 276.5 346.8 277.2 347.2 277.2 363.2 282.0 363.2 282.0 347.2 282.2 347.0 284.8 347.0 284.8 339.8 285.0 339.5 296.5 339.5 296.5 206.0 284.5 206.0 284.2 205.8 284.2 197.5 281.8 197.5 281.5 197.2 281.5 190.0Z"/><path fill="#f8dada" fill-rule="evenodd" d="M276.8 190.0 276.8 197.2 276.5 197.5 273.2 197.5 273.0 198.0 272.8 205.8 272.5 206.0 270.8 206.0 266.5 209.0 261.2 214.5 257.5 217.8 251.5 222.2 246.8 230.5 245.2 241.8 245.0 242.0 245.0 243.5 244.2 247.0 240.5 248.5 240.5 304.5 244.2 306.0 244.0 309.2 245.8 316.0 246.8 321.8 249.5 326.0 251.0 327.5 255.2 330.8 261.8 334.8 266.2 336.2 271.8 339.5 273.2 339.5 273.5 339.8 273.5 342.2 276.8 347.0 277.2 347.2 277.2 363.2 282.0 363.2 282.0 347.2 282.2 347.0 284.8 347.0 284.8 339.8 285.0 339.5 296.5 339.5 296.5 206.0 284.5 206.0 284.2 205.8 284.2 197.5 281.8 197.5 281.5 197.2 281.5 190.0Z"/><path fill="#f7d5d5" fill-rule="evenodd" d="M276.8 190.0 276.8 197.2 276.5 197.5 273.5 197.5 273.0 200.0 273.0 201.8 272.8 202.0 272.8 205.8 272.5 206.0 271.0 206.0 267.2 208.8 259.0 217.0 252.2 222.0 247.5 230.2 246.0 241.5 245.8 241.8 245.8 243.2 245.0 246.8 244.5 247.2 241.5 248.5 241.5 304.5 245.0 306.0 244.8 308.8 246.2 314.2 247.8 322.0 250.8 326.5 256.0 330.8 261.5 334.2 266.8 336.2 272.0 339.5 273.2 339.5 273.5 339.8 273.5 342.0 277.2 347.2 277.2 363.2 282.0 363.2 282.0 347.2 282.2 347.0 284.8 347.0 284.8 339.8 285.0 339.5 296.5 339.5 296.5 206.0 284.5 206.0 284.2 205.8 284.2 197.5 281.8 197.5 281.5 197.2 281.5 190.0Z"/><path fill="#f7d0d0" fill-rule="evenodd" d="M276.8 190.0 276.8 197.2 276.5 197.5 273.8 197.5 273.0 203.0 272.8 203.2 272.8 205.8 272.5 206.0 271.2 206.0 267.8 208.8 263.5 213.5 258.8 217.8 252.8 222.2 248.0 231.0 246.5 243.2 245.8 246.5 245.2 247.2 242.2 248.5 242.2 304.5 245.5 306.0 245.8 309.2 247.2 314.8 248.8 322.2 251.5 326.2 257.0 331.0 263.0 334.8 268.0 336.8 272.0 339.5 273.2 339.5 273.5 339.8 273.5 341.8 277.2 347.2 277.2 363.2 282.0 363.2 282.0 347.2 282.2 347.0 284.8 347.0 284.8 339.8 285.0 339.5 296.5 339.5 296.5 206.0 284.5 206.0 284.2 205.8 284.2 197.5 281.8 197.5 281.5 197.2 281.5 190.0Z"/><path fill="#f6cbcb" fill-rule="evenodd" d="M276.8 190.0 276.8 197.2 276.5 197.5 274.0 197.5 272.8 205.8 271.5 206.0 268.5 208.5 263.5 214.0 259.0 218.0 255.8 220.2 253.2 222.5 248.8 230.8 247.2 243.0 246.2 247.0 243.2 248.5 243.2 304.5 246.2 306.0 246.5 308.8 247.2 311.0 247.2 312.0 248.0 314.2 248.0 315.2 249.0 318.5 249.5 321.5 250.0 322.8 252.8 326.8 257.8 331.0 264.2 335.0 268.0 336.5 271.8 339.2 273.5 339.8 273.5 341.5 277.2 347.2 277.2 363.2 282.0 363.2 282.0 347.2 282.2 347.0 284.8 347.0 284.8 339.8 285.0 339.5 296.5 339.5 296.5 206.0 284.5 206.0 284.2 205.8 284.2 197.5 281.8 197.5 281.5 197.2 281.5 190.0Z"/><path fill="#f5c6c6" fill-rule="evenodd" d="M277.0 190.0 277.0 197.0 276.5 197.5 274.2 197.5 272.8 205.8 271.8 206.0 269.8 207.8 263.5 214.5 260.5 217.2 254.8 221.5 253.5 223.2 249.5 230.5 248.0 242.8 247.0 246.8 244.2 248.5 244.2 304.5 247.0 306.0 247.2 308.2 248.0 310.5 248.0 311.5 249.2 315.8 249.2 316.8 250.5 321.8 253.5 326.5 258.5 331.0 263.5 334.2 268.0 336.2 272.2 339.5 273.5 339.8 273.5 341.5 277.2 347.0 277.5 363.2 282.0 363.2 282.0 347.2 282.2 347.0 284.8 347.0 284.8 339.8 285.0 339.5 296.5 339.5 296.5 206.0 284.5 206.0 284.2 205.8 284.2 197.5 281.8 197.5 281.5 197.2 281.5 190.0Z"/><path fill="#f4c1c1" fill-rule="evenodd" d="M277.0 190.0 277.0 197.0 276.5 197.5 274.5 197.5 273.2 203.8 273.2 205.0 272.8 205.2 272.8 205.8 272.0 206.0 263.2 215.2 254.8 222.2 250.2 230.5 248.5 244.2 247.8 246.5 247.2 247.2 245.0 248.5 245.0 304.5 247.8 306.0 248.8 311.0 251.0 319.2 251.2 321.2 251.8 322.5 254.2 326.2 259.2 331.0 264.5 334.5 268.5 336.2 271.8 339.0 273.5 339.8 273.5 341.2 277.2 347.0 277.5 363.2 282.0 363.2 282.0 347.2 282.2 347.0 284.8 347.0 284.8 339.8 285.0 339.5 296.5 339.5 296.5 206.0 284.5 206.0 284.2 205.8 284.2 197.5 281.8 197.5 281.5 197.2 281.5 190.0Z"/><path fill="#f3bcbc" fill-rule="evenodd" d="M277.0 190.0 277.0 197.0 276.5 197.5 274.8 197.5 273.2 205.0 269.2 209.0 266.5 212.5 260.8 218.0 255.5 222.0 250.8 230.8 250.8 232.5 250.5 232.8 249.0 244.5 248.0 247.0 245.8 248.5 245.8 304.5 248.0 305.8 248.5 306.5 252.2 322.0 255.0 326.2 260.2 331.2 265.5 334.8 268.8 336.2 272.5 339.5 273.5 339.8 273.8 341.5 277.5 347.2 277.5 363.2 282.0 363.2 282.0 347.2 282.2 347.0 284.8 347.0 284.8 339.8 285.0 339.5 296.5 339.5 296.5 206.0 284.5 206.0 284.2 205.8 284.2 197.5 281.8 197.5 281.5 197.2 281.5 190.0Z"/><path fill="#f3b7b7" fill-rule="evenodd" d="M277.0 190.0 277.0 197.0 276.5 197.5 275.0 197.5 274.8 197.8 273.5 204.8 269.2 209.2 266.8 212.5 263.5 215.8 255.8 222.0 252.8 227.5 251.0 231.5 251.0 233.2 250.5 235.2 249.5 244.2 248.5 246.8 246.2 248.5 246.2 304.5 248.8 306.2 249.0 307.5 249.5 308.2 250.0 311.2 252.8 322.0 255.5 326.2 260.5 331.2 266.8 335.2 269.0 336.2 272.2 339.2 273.5 339.8 273.5 341.0 277.5 347.2 277.5 363.2 282.0 363.2 282.0 347.2 282.2 347.0 284.8 347.0 284.8 339.8 285.0 339.5 296.5 339.5 296.5 206.0 284.5 206.0 284.2 205.8 284.2 197.5 281.8 197.5 281.5 197.2 281.5 190.0Z"/><path fill="#f2b2b2" fill-rule="evenodd" d="M277.2 190.0 277.2 197.0 276.5 197.5 275.0 197.5 273.5 205.0 269.5 209.2 267.0 212.5 263.0 216.5 256.0 222.2 251.5 230.5 249.8 244.5 248.8 247.0 246.8 248.5 246.8 304.5 248.8 305.8 249.2 306.5 249.5 307.8 250.0 308.5 250.2 310.5 252.0 317.5 252.5 318.5 253.2 322.2 255.8 326.0 261.2 331.5 265.8 334.5 269.2 336.2 272.8 339.5 273.5 339.8 273.5 340.8 277.5 347.2 277.5 363.2 282.0 363.2 282.0 347.2 282.2 347.0 284.8 347.0 284.8 339.8 285.0 339.5 296.5 339.5 296.5 206.0 284.5 206.0 284.2 205.8 284.2 197.5 281.8 197.5 281.5 197.2 281.5 190.0Z"/><path fill="#f1adad" fill-rule="evenodd" d="M277.2 190.0 277.2 197.0 276.5 197.5 275.2 197.5 273.5 205.0 267.5 212.2 262.5 217.2 256.2 222.2 254.8 225.5 252.0 230.2 250.8 240.2 250.5 240.5 250.2 244.2 249.0 247.0 247.2 248.5 247.2 304.5 249.5 306.2 250.2 308.0 253.8 322.2 256.5 326.5 261.2 331.2 266.5 334.8 269.5 336.2 272.8 339.5 273.5 339.8 273.8 341.2 277.5 347.2 277.5 360.2 277.8 360.5 277.8 363.2 282.0 363.2 282.0 347.2 282.2 347.0 284.8 347.0 284.8 339.8 285.0 339.5 296.5 339.5 296.5 206.0 284.5 206.0 284.2 205.8 284.2 197.5 281.8 197.5 281.5 197.2 281.5 190.0Z"/><path fill="#f0a9a9" fill-rule="evenodd" d="M277.2 190.0 277.2 197.0 276.5 197.5 275.2 197.5 273.5 205.2 267.8 212.2 262.2 217.8 256.8 222.0 252.2 230.5 250.5 244.5 249.5 246.8 247.8 248.5 247.8 304.5 249.8 306.0 249.8 306.5 250.8 308.2 254.2 322.2 257.0 326.5 262.0 331.5 266.8 334.8 269.2 336.0 272.8 339.5 273.5 339.8 273.5 340.5 277.5 347.0 277.8 363.2 282.0 363.2 282.0 347.2 282.2 347.0 284.8 347.0 284.8 339.8 285.0 339.5 296.5 339.5 296.5 206.0 284.5 206.0 284.2 205.8 284.2 197.5 281.8 197.5 281.5 197.2 281.5 190.0Z"/><path fill="#efa4a4" fill-rule="evenodd" d="M277.2 190.0 277.2 197.0 276.5 197.5 275.5 197.5 273.8 205.0 268.0 212.2 262.2 218.0 257.0 222.2 252.5 230.8 251.0 244.0 249.8 247.0 248.2 248.5 248.2 304.5 250.0 306.0 251.2 308.5 254.5 321.8 257.2 326.2 262.0 331.2 267.5 335.0 269.5 336.0 273.5 339.8 273.8 341.0 277.5 347.0 277.8 363.2 282.0 363.2 282.0 347.2 282.2 347.0 284.8 347.0 284.8 339.8 285.0 339.5 296.5 339.5 296.5 206.0 284.5 206.0 284.2 205.8 284.2 197.5 281.8 197.5 281.5 197.2 281.5 190.0Z"/><path fill="#ee9f9f" fill-rule="evenodd" d="M277.2 190.0 277.2 197.0 276.8 197.5 275.5 197.5 275.0 200.5 273.5 205.5 268.2 212.2 262.2 218.2 257.2 222.2 253.0 230.5 251.2 244.2 250.0 247.0 248.8 248.2 248.8 304.5 250.5 306.2 251.5 308.0 255.0 321.8 257.8 326.2 262.0 331.0 267.0 334.5 269.8 336.0 273.5 339.8 273.5 340.5 277.5 347.0 277.8 363.2 282.0 363.2 282.0 347.2 282.2 347.0 284.8 347.0 284.8 339.8 285.0 339.5 296.5 339.5 296.5 206.0 284.5 206.0 284.2 205.8 284.2 197.5 281.8 197.5 281.5 197.2 281.5 190.0Z"/><path fill="#ee9a9a" fill-rule="evenodd" d="M277.2 190.0 277.2 197.0 276.8 197.5 275.8 197.5 273.8 205.2 267.8 213.2 262.2 218.5 257.8 222.0 253.2 230.5 251.8 243.8 250.5 246.8 249.0 248.5 249.0 304.5 250.8 306.0 252.0 308.2 255.5 322.0 258.2 326.2 262.8 331.2 270.2 336.2 272.8 339.2 273.5 339.8 274.0 341.2 276.0 344.2 277.8 347.8 277.8 363.2 282.0 363.2 282.0 347.2 282.2 347.0 284.8 347.0 284.8 339.8 285.0 339.5 296.5 339.5 296.5 206.0 284.5 206.0 284.2 205.8 284.2 197.5 281.8 197.5 281.5 197.2 281.5 190.0Z"/><path fill="#ed9495" fill-rule="evenodd" d="M277.5 190.0 277.5 197.0 276.8 197.5 275.8 197.5 274.0 205.0 268.2 212.8 263.0 218.0 257.8 222.2 253.5 230.5 251.8 244.5 250.5 247.0 249.2 248.5 249.2 304.5 251.0 306.2 252.2 308.2 255.5 321.2 257.2 324.5 258.8 326.8 263.2 331.5 270.0 336.0 271.8 337.8 273.0 339.5 273.5 339.8 273.8 340.8 277.8 347.2 277.8 363.2 282.0 363.2 282.0 347.2 282.2 347.0 284.8 347.0 284.8 339.8 285.0 339.5 296.5 339.5 296.5 206.0 284.5 206.0 284.2 205.8 284.2 197.5 281.8 197.5 281.5 197.2 281.5 190.0Z"/><path fill="#ed8f90" fill-rule="evenodd" d="M277.5 190.0 277.5 197.0 275.8 197.8 274.0 205.0 268.0 213.2 262.5 218.5 258.2 221.8 255.2 227.8 254.8 228.2 253.5 231.2 252.0 244.2 250.5 247.2 249.5 248.5 249.5 304.5 251.2 306.2 252.5 308.5 254.2 316.0 256.5 323.0 259.0 326.8 262.8 331.0 271.0 336.8 273.5 339.8 273.5 340.2 277.8 347.2 277.8 363.2 282.0 363.2 282.0 347.2 282.2 347.0 284.8 347.0 284.8 339.8 285.0 339.5 296.5 339.5 296.5 206.0 284.5 206.0 284.2 205.8 284.2 197.5 281.8 197.5 281.5 197.2 281.5 190.0Z"/><path fill="#ec8a8b" fill-rule="evenodd" d="M277.5 190.0 277.5 197.0 276.8 197.5 276.0 197.5 274.5 203.5 273.8 205.5 268.5 212.8 263.0 218.2 258.2 222.0 253.8 230.5 252.2 244.0 251.0 246.8 249.8 248.5 249.8 304.5 251.2 306.0 252.8 308.5 256.0 321.5 258.5 325.8 263.2 331.2 270.2 336.0 273.5 339.8 273.5 340.2 277.8 347.2 277.8 363.2 282.0 363.2 282.0 347.2 282.2 347.0 284.8 347.0 284.8 339.8 285.0 339.5 296.5 339.5 296.5 206.0 284.5 206.0 284.2 205.8 284.2 197.5 281.8 197.5 281.5 197.2 281.5 190.0Z"/><path fill="#ec8486" fill-rule="evenodd" d="M277.5 190.0 277.5 197.0 276.8 197.5 276.0 197.5 274.2 204.5 273.5 206.0 268.2 213.2 263.8 217.8 258.2 222.2 254.0 230.5 252.2 244.5 251.0 247.0 250.0 248.2 250.0 304.5 253.0 308.5 256.2 321.5 259.2 326.5 263.8 331.5 271.0 336.5 273.5 339.8 276.0 344.5 277.8 347.2 277.8 363.2 282.0 363.2 282.0 347.2 282.2 347.0 284.8 347.0 284.8 339.8 285.0 339.5 296.5 339.5 296.5 206.0 284.5 206.0 284.2 205.8 284.2 197.5 281.8 197.5 281.5 197.2 281.5 190.0Z"/><path fill="#eb7f81" fill-rule="evenodd" d="M277.5 190.0 277.5 197.0 276.8 197.5 276.0 197.5 274.0 205.2 268.8 212.8 263.2 218.2 258.5 222.0 254.2 230.2 254.0 231.2 254.0 233.0 253.5 235.0 252.5 244.2 250.2 248.2 250.2 304.5 251.8 306.2 253.2 308.8 254.8 315.5 257.0 322.8 260.2 327.5 263.2 331.0 270.5 336.0 271.5 337.0 273.5 339.8 277.8 347.2 277.8 363.2 282.0 363.2 282.0 347.2 282.2 347.0 284.8 347.0 284.8 339.8 285.0 339.5 296.5 339.5 296.5 206.0 284.5 206.0 284.2 205.8 284.2 197.5 281.8 197.5 281.5 197.2 281.5 190.0Z"/><path fill="#eb797b" fill-rule="evenodd" d="M277.5 190.0 277.5 197.0 277.0 197.5 276.0 197.8 274.5 204.0 273.8 205.8 271.8 209.0 268.5 213.2 264.0 217.8 258.8 222.0 254.8 230.0 254.2 230.5 252.8 244.0 250.5 248.2 250.5 304.8 251.8 306.0 253.2 308.2 256.8 321.8 259.0 325.5 263.8 331.2 269.2 335.0 271.8 337.2 277.8 347.2 277.8 361.8 278.0 362.0 278.0 363.2 282.0 363.2 282.0 347.2 282.2 347.0 284.8 347.0 284.8 339.8 285.0 339.5 296.5 339.5 296.5 206.0 284.5 206.0 284.2 205.8 284.2 197.5 281.8 197.5 281.5 197.2 281.5 190.0Z"/><path fill="#ea7476" fill-rule="evenodd" d="M277.5 190.0 277.5 197.0 277.0 197.5 276.2 197.5 274.2 205.0 272.5 208.0 269.2 212.5 263.2 218.5 258.8 222.2 254.5 230.5 253.2 241.5 253.0 241.8 253.0 243.5 252.8 244.5 250.8 248.2 250.8 304.8 252.2 306.5 253.8 309.0 256.8 321.0 258.2 324.0 260.5 327.2 264.2 331.5 268.8 334.5 271.5 336.8 277.8 347.2 277.8 360.2 278.0 360.5 278.0 363.2 282.0 363.2 282.0 347.2 282.2 347.0 284.8 347.0 284.8 339.8 285.0 339.5 296.5 339.5 296.5 206.0 284.5 206.0 284.2 205.8 284.2 197.5 281.8 197.5 281.5 197.2 281.5 190.0Z"/><path fill="#ea6f71" fill-rule="evenodd" d="M277.5 190.0 277.5 197.0 277.0 197.5 276.2 197.5 274.0 205.5 272.0 209.0 269.0 213.0 264.0 218.0 259.0 222.0 254.8 230.2 254.5 231.2 254.5 233.0 254.2 233.2 253.0 244.2 250.8 248.5 250.8 304.5 253.8 308.5 255.2 315.0 257.5 322.5 260.5 327.0 263.8 331.0 267.5 333.5 271.8 337.0 277.8 347.0 278.0 363.2 282.0 363.2 282.0 347.2 282.2 347.0 284.8 347.0 284.8 339.8 285.0 339.5 296.5 339.5 296.5 206.0 284.5 206.0 284.2 205.8 284.2 197.5 281.8 197.5 281.5 197.2 281.5 190.0Z"/><path fill="#e9696c" fill-rule="evenodd" d="M277.5 190.0 277.5 197.0 277.0 197.5 276.2 197.5 274.2 205.0 272.2 208.8 269.5 212.5 263.2 218.8 259.0 222.2 255.2 230.0 254.8 230.5 253.2 244.2 251.0 248.5 251.0 304.5 254.0 308.5 255.2 314.2 257.8 322.5 260.5 326.8 263.8 330.8 271.5 336.5 277.8 347.0 278.0 363.2 282.0 363.2 282.0 347.2 282.2 347.0 284.8 347.0 284.8 339.8 285.0 339.5 296.5 339.5 296.5 206.0 284.5 206.0 284.2 205.8 284.2 197.5 281.8 197.5 281.5 197.2 281.5 190.0Z"/><path fill="#e96467" fill-rule="evenodd" d="M277.5 190.0 277.5 197.0 276.2 197.8 274.2 205.2 273.8 205.8 272.2 209.0 269.2 213.0 264.0 218.2 259.5 221.8 255.0 230.5 254.2 237.8 253.5 241.8 253.5 243.5 251.2 248.5 251.2 304.5 254.2 308.8 256.8 318.8 257.5 320.5 257.8 322.0 258.8 323.8 263.5 330.2 264.8 331.5 268.5 334.0 271.8 336.8 277.8 347.0 278.0 363.2 282.0 363.2 282.0 347.2 282.2 347.0 284.8 347.0 284.8 339.8 285.0 339.5 296.5 339.5 296.5 206.0 284.5 206.0 284.2 205.8 284.2 197.5 281.8 197.5 281.5 197.2 281.5 190.0Z"/><path fill="#e85e62" fill-rule="evenodd" d="M277.5 190.0 277.5 197.0 277.0 197.5 276.5 197.5 274.5 204.8 272.8 208.2 269.8 212.5 266.0 216.5 259.5 222.0 255.2 230.2 255.0 231.2 255.0 233.0 254.8 233.2 253.5 244.2 251.5 248.2 251.5 304.5 254.5 308.8 255.8 314.5 258.0 321.5 258.0 322.2 260.8 326.5 263.5 330.0 265.2 331.8 271.8 336.5 277.8 347.0 277.8 354.2 278.0 354.5 278.0 363.2 282.0 363.2 282.0 347.2 282.2 347.0 284.8 347.0 284.8 339.8 285.0 339.5 296.5 339.5 296.5 206.0 284.5 206.0 284.2 205.8 284.2 197.5 281.8 197.5 281.5 197.2 281.5 190.0Z"/><path fill="#e8595d" fill-rule="evenodd" d="M277.5 190.0 277.5 197.0 277.0 197.5 276.5 197.5 274.5 204.8 272.2 209.2 269.5 213.0 264.0 218.5 259.5 222.2 255.2 230.8 253.8 244.2 251.8 248.0 251.8 304.8 254.5 308.2 255.8 313.8 258.2 322.2 261.0 326.5 264.2 330.8 269.5 334.5 272.0 336.8 277.8 347.0 278.0 363.2 282.0 363.2 282.0 347.2 282.2 347.0 284.8 347.0 284.8 339.8 285.0 339.5 296.5 339.5 296.5 206.0 284.5 206.0 284.2 205.8 284.2 197.5 281.8 197.5 281.5 197.2 281.5 190.0Z"/><path fill="#e75358" fill-rule="evenodd" d="M277.5 190.0 277.5 197.0 277.0 197.5 276.5 197.5 274.5 205.0 272.5 209.0 270.0 212.5 265.0 217.8 259.8 222.0 255.5 230.5 254.2 241.5 254.0 241.8 254.0 243.5 252.0 247.8 252.0 304.8 254.8 308.5 256.5 315.8 258.8 322.8 264.2 330.5 270.5 335.2 272.0 336.8 277.8 347.0 278.0 363.2 282.0 363.2 282.0 347.2 282.2 347.0 284.8 347.0 284.8 339.8 285.0 339.5 296.5 339.5 296.5 206.0 284.5 206.0 284.2 205.8 284.2 197.5 281.8 197.5 281.5 197.2 281.5 190.0Z"/><path fill="#e74e53" fill-rule="evenodd" d="M277.8 190.0 277.8 197.0 276.5 197.8 274.5 205.0 272.8 208.8 269.5 213.2 264.2 218.5 259.8 222.2 255.5 231.0 254.0 244.2 252.5 246.8 252.0 248.5 252.0 304.5 253.0 306.2 255.0 308.5 257.2 317.8 259.2 323.2 264.8 331.0 269.8 334.5 272.0 336.5 277.8 347.0 277.8 350.0 278.0 350.2 278.0 363.2 282.0 363.2 282.0 347.2 282.2 347.0 284.8 347.0 284.8 339.8 285.0 339.5 296.5 339.5 296.5 206.0 284.5 206.0 284.2 205.8 284.2 197.5 281.8 197.5 281.5 197.2 281.5 190.0Z"/><path fill="#e7494e" fill-rule="evenodd" d="M277.8 190.0 277.8 197.0 277.2 197.5 276.8 197.5 274.5 205.0 272.8 208.5 272.8 209.0 270.0 212.8 266.5 216.5 260.0 222.0 255.8 230.5 254.2 243.8 252.5 247.0 252.2 248.2 252.2 304.5 253.0 306.0 255.2 308.8 256.5 314.5 259.0 322.5 264.8 330.8 269.5 334.2 272.0 336.5 277.8 347.0 277.8 348.8 278.0 349.0 278.0 363.2 282.0 363.2 282.0 347.2 282.2 347.0 284.8 347.0 284.8 339.8 285.0 339.5 296.5 339.5 296.5 206.0 284.5 206.0 284.2 205.8 284.2 197.5 281.8 197.5 281.5 197.2 281.5 190.0Z"/><path fill="#e64349" fill-rule="evenodd" d="M277.8 190.0 277.8 197.0 277.2 197.5 276.8 197.5 274.5 205.2 272.8 209.0 269.8 213.2 264.5 218.5 260.0 222.2 256.0 230.2 254.5 243.0 254.2 244.2 252.5 247.5 252.5 304.8 253.2 306.2 255.2 308.5 257.0 315.8 257.8 317.5 259.0 322.2 264.5 330.2 266.0 331.8 270.0 334.5 272.2 336.8 278.0 347.8 278.0 363.2 282.0 363.2 282.0 347.2 282.2 347.0 284.8 347.0 284.8 339.8 285.0 339.5 296.5 339.5 296.5 206.0 284.5 206.0 284.2 205.8 284.2 197.5 281.8 197.5 281.5 197.2 281.5 190.0Z"/><path fill="#e63e44" fill-rule="evenodd" d="M277.8 190.0 277.8 197.0 277.2 197.5 276.8 197.5 274.5 205.2 272.8 209.2 270.0 213.0 266.2 217.0 260.2 222.0 256.0 230.5 254.8 242.0 254.5 242.2 254.5 244.2 252.8 247.0 252.8 305.0 253.2 306.0 255.5 308.5 257.2 316.0 259.5 322.8 265.0 330.8 269.8 334.2 272.2 336.5 274.5 341.2 278.0 347.2 278.0 363.2 282.0 363.2 282.0 347.2 282.2 347.0 284.8 347.0 284.8 339.8 285.0 339.5 296.5 339.5 296.5 206.0 284.5 206.0 284.2 205.8 284.2 197.5 281.8 197.5 281.5 197.2 281.5 190.0Z"/><path fill="#e5393f" fill-rule="evenodd" d="M277.8 190.0 277.8 197.0 277.2 197.5 276.8 197.5 274.8 204.8 273.0 209.0 269.0 214.2 265.0 218.2 260.2 222.2 256.2 230.2 255.0 241.2 254.8 241.5 254.8 243.2 254.5 244.5 253.0 246.8 252.8 248.0 252.8 304.5 253.8 306.5 255.8 308.8 257.0 314.5 259.5 322.5 265.0 330.5 270.2 334.5 272.2 336.5 274.2 340.8 278.0 347.2 278.0 363.2 282.0 363.2 282.0 347.2 282.2 347.0 284.8 347.0 284.8 339.8 285.0 339.5 296.5 339.5 296.5 206.0 284.5 206.0 284.2 205.8 284.2 197.5 281.8 197.5 281.5 197.2 281.5 190.0Z"/><path fill="#e5333a" fill-rule="evenodd" d="M277.8 190.0 277.8 197.0 276.8 197.8 274.5 205.5 272.8 209.5 270.2 213.0 266.0 217.5 260.5 222.0 256.2 230.5 254.8 244.2 253.0 247.0 253.0 304.8 253.5 306.0 255.8 308.5 257.8 316.5 260.0 323.0 265.5 331.0 270.0 334.2 272.5 336.8 274.0 340.2 278.0 347.2 278.0 363.2 282.0 363.2 282.0 347.2 282.2 347.0 284.8 347.0 284.8 339.8 285.0 339.5 296.5 339.5 296.5 206.0 284.5 206.0 284.2 205.8 284.2 197.5 281.8 197.5 281.5 197.2 281.5 190.0Z"/><path fill="#e42e35" fill-rule="evenodd" d="M277.8 190.0 277.8 197.0 276.8 198.0 276.0 201.0 273.0 209.2 268.5 215.0 265.2 218.2 260.5 222.2 256.5 230.2 255.0 243.5 254.5 245.0 253.2 246.8 253.2 305.0 253.5 305.8 256.0 308.5 257.5 315.0 259.8 322.2 265.2 330.5 270.5 334.5 272.5 336.5 273.8 339.8 278.0 347.2 278.0 363.2 282.0 363.2 282.0 347.2 282.2 347.0 284.8 347.0 284.8 339.8 285.0 339.5 296.5 339.5 296.5 206.0 284.5 206.0 284.2 205.8 284.2 197.5 281.8 197.5 281.5 197.2 281.5 190.0Z"/><path fill="#e42930" fill-rule="evenodd" d="M277.8 190.0 277.8 197.0 276.8 198.0 276.5 199.5 275.0 203.5 275.0 204.2 273.2 209.0 270.2 213.2 264.8 218.8 261.0 221.8 256.5 231.0 255.0 244.2 253.2 247.0 253.2 304.5 253.8 306.0 256.2 308.8 257.5 314.5 259.8 321.8 260.5 323.2 265.5 330.5 266.8 331.8 270.0 334.0 272.5 336.5 275.0 342.0 278.0 347.2 278.0 363.2 282.0 363.2 282.0 347.2 282.2 347.0 284.8 347.0 284.8 339.8 285.0 339.5 296.5 339.5 296.5 206.0 284.5 206.0 284.2 205.8 284.2 197.5 281.8 197.5 281.5 197.2 281.5 190.0Z"/><path fill="#e3232b" fill-rule="evenodd" d="M277.8 190.0 277.8 197.0 276.8 198.0 275.5 202.8 273.2 209.0 270.2 213.2 267.0 216.8 261.0 222.0 256.8 230.5 255.2 244.2 253.5 247.0 253.5 304.8 254.0 306.0 256.2 308.2 257.8 314.8 260.0 322.2 265.5 330.2 267.2 332.0 270.8 334.5 272.8 336.8 273.5 339.0 278.0 347.2 278.0 363.2 282.0 363.2 282.0 347.2 282.2 347.0 284.8 347.0 284.8 339.8 285.0 339.5 296.5 339.5 296.5 206.0 284.5 206.0 284.2 205.8 284.2 197.5 281.8 197.5 281.5 197.2 281.5 190.0Z"/><path fill="#e31e25" fill-rule="evenodd" d="M277.8 190.0 277.8 197.0 277.0 197.5 275.8 201.2 275.8 202.0 273.2 209.0 270.5 213.0 268.2 215.5 261.0 222.2 257.0 230.5 255.5 244.0 253.8 246.8 253.8 305.0 254.0 305.8 256.5 308.5 258.2 316.0 260.5 322.8 266.2 331.0 270.2 334.0 272.8 336.5 273.2 338.2 278.0 347.2 278.0 363.2 282.0 363.2 282.0 347.2 282.2 347.0 284.8 347.0 284.8 339.8 285.0 339.5 296.5 339.5 296.5 206.0 284.5 206.0 284.2 205.8 284.2 197.5 281.8 197.5 281.5 197.2 281.5 190.0Z"/><path fill="#e31f22" fill-rule="evenodd" d="M277.8 190.0 277.8 197.2 277.0 197.8 275.2 204.5 274.0 208.0 272.5 210.8 270.0 214.2 262.5 221.8 258.8 230.5 257.2 243.8 257.0 244.5 255.2 246.8 255.2 305.0 255.8 306.0 258.2 308.5 259.2 314.2 261.5 322.2 267.8 330.5 273.2 336.2 274.2 339.2 278.0 347.0 278.2 363.2 282.0 363.2 282.0 347.2 282.2 347.0 284.8 347.0 284.8 339.8 285.0 339.5 296.5 339.5 296.5 206.0 284.5 206.0 284.2 205.8 284.2 197.5 281.8 197.5 281.5 197.2 281.5 190.0Z"/><path fill="#e3201f" fill-rule="evenodd" d="M278.0 190.0 278.0 197.0 277.2 197.5 274.8 206.8 274.2 207.5 274.0 208.8 271.8 212.8 263.8 221.8 260.5 230.2 258.8 244.5 256.8 246.8 256.8 305.0 257.2 306.0 260.0 308.5 260.8 314.5 262.8 322.2 265.8 325.5 273.2 334.8 274.0 336.2 275.0 339.8 278.0 346.8 278.2 363.2 282.0 363.2 282.0 347.2 282.2 347.0 284.8 347.0 284.8 339.8 285.0 339.5 296.5 339.5 296.5 206.0 284.5 206.0 284.2 205.8 284.2 197.5 281.8 197.5 281.5 197.2 281.5 190.0Z"/><path fill="#e4251e" fill-rule="evenodd" d="M278.0 190.0 278.0 197.0 277.2 197.8 275.5 205.5 272.0 213.2 268.5 217.2 264.8 222.2 262.0 231.5 262.0 233.2 261.8 233.5 261.8 235.2 261.5 235.5 260.5 244.2 258.2 247.0 258.2 304.8 258.8 306.0 261.8 308.5 262.2 314.8 264.0 322.0 271.5 330.2 274.5 335.2 275.5 339.8 278.0 346.5 278.0 348.0 278.2 348.2 278.2 363.2 282.0 363.2 282.0 347.2 282.2 347.0 284.8 347.0 284.8 339.8 285.0 339.5 296.5 339.5 296.5 206.0 284.5 206.0 284.2 205.8 284.2 197.5 281.8 197.5 281.5 197.2 281.5 190.0Z"/><path fill="#e62c1f" fill-rule="evenodd" d="M278.0 190.0 278.0 197.0 277.2 197.8 276.8 200.8 275.2 206.2 272.0 213.2 265.0 222.0 262.5 230.2 260.8 244.5 258.5 247.0 258.5 304.8 259.0 306.0 262.0 308.5 262.5 315.0 263.5 318.2 264.2 322.2 269.2 327.2 272.0 330.5 274.5 334.8 275.5 339.5 278.2 347.2 278.2 363.2 282.0 363.2 282.0 347.2 282.2 347.0 284.8 347.0 284.8 339.8 285.0 339.5 296.5 339.5 296.5 206.0 284.5 206.0 284.2 205.8 284.2 197.5 281.8 197.5 281.5 197.2 281.5 190.0Z"/><path fill="#e7331f" fill-rule="evenodd" d="M278.0 190.0 278.0 197.2 277.2 197.8 277.2 198.8 275.5 205.8 272.2 213.0 265.2 221.8 263.5 227.2 263.5 228.0 262.5 230.5 261.0 244.2 258.5 247.0 258.5 304.5 259.2 306.0 261.5 307.8 262.2 308.8 262.5 314.0 264.2 321.0 264.2 322.0 269.0 326.8 272.8 331.2 274.0 334.0 274.5 334.5 275.5 339.2 278.2 347.2 278.2 363.2 282.0 363.2 282.0 347.2 282.2 347.0 284.8 347.0 284.8 339.8 285.0 339.5 296.5 339.5 296.5 206.0 284.5 206.0 284.2 205.8 284.2 197.5 281.8 197.5 281.5 197.2 281.5 190.0Z"/><path fill="#e93b1f" fill-rule="evenodd" d="M278.0 190.0 278.0 197.2 277.2 198.0 275.2 206.5 272.2 213.2 265.2 222.0 262.5 231.2 261.2 243.8 261.0 244.5 258.8 247.0 258.8 304.5 259.5 306.0 262.2 308.5 262.8 315.0 264.5 322.2 270.0 327.8 272.8 331.0 274.5 334.5 275.2 338.2 278.2 347.2 278.2 363.2 282.0 363.2 282.0 347.2 282.2 347.0 284.8 347.0 284.8 339.8 285.0 339.5 296.5 339.5 296.5 206.0 284.5 206.0 284.2 205.8 284.2 197.5 281.8 197.5 281.5 197.2 281.5 190.0Z"/><path fill="#ea4220" fill-rule="evenodd" d="M278.0 190.0 278.0 197.2 277.2 198.0 276.0 204.2 274.8 208.0 272.5 212.5 272.5 213.0 267.2 219.5 265.2 222.5 262.8 230.2 261.2 244.2 259.0 247.0 259.0 304.8 259.5 305.8 262.5 308.5 262.8 314.2 264.5 322.0 269.8 327.2 272.8 330.8 274.5 334.2 275.8 339.8 278.2 347.2 278.2 363.2 282.0 363.2 282.0 347.2 282.2 347.0 284.8 347.0 284.8 339.8 285.0 339.5 296.5 339.5 296.5 206.0 284.5 206.0 284.2 205.8 284.2 197.5 281.8 197.5 281.5 197.2 281.5 190.0Z"/><path fill="#ec4920" fill-rule="evenodd" d="M278.0 190.0 278.0 197.2 277.2 198.0 277.2 199.0 276.5 201.2 275.8 205.2 275.0 206.8 274.5 208.8 272.2 213.5 265.5 222.0 265.2 223.5 262.8 230.8 261.5 244.0 259.2 246.8 259.2 304.8 259.8 305.8 262.8 308.5 263.0 315.2 264.8 322.2 273.2 331.2 274.8 334.8 275.0 337.0 278.2 347.0 278.2 363.0 278.5 363.2 282.0 363.2 282.0 347.2 282.2 347.0 284.8 347.0 284.8 339.8 285.0 339.5 296.5 339.5 296.5 206.0 284.5 206.0 284.2 205.8 284.2 197.5 281.8 197.5 281.5 197.2 281.5 190.0Z"/><path fill="#ee501e" fill-rule="evenodd" d="M278.0 190.0 278.0 197.2 277.5 197.5 276.0 204.5 274.8 208.2 272.5 213.2 267.5 219.5 265.5 222.5 262.8 231.5 261.5 244.2 259.2 247.0 259.2 304.5 260.0 306.0 262.8 308.2 263.0 315.0 264.0 318.2 264.8 322.2 272.2 329.8 273.2 331.0 274.8 334.5 275.0 337.0 278.2 347.0 278.2 361.2 278.5 361.5 278.5 363.2 282.0 363.2 282.0 347.2 282.2 347.0 284.8 347.0 284.8 339.8 285.0 339.5 296.5 339.5 296.5 206.0 284.5 206.0 284.2 205.8 284.2 197.5 281.8 197.5 281.5 197.2 281.5 190.0Z"/><path fill="#f0571b" fill-rule="evenodd" d="M278.0 190.0 278.0 197.2 277.5 197.5 276.0 204.5 274.5 209.0 272.8 212.5 272.8 213.0 265.8 222.0 263.0 230.2 262.2 239.0 261.8 241.5 261.8 243.8 261.5 244.5 259.5 247.0 259.5 304.8 260.2 306.0 263.0 308.5 263.2 315.8 264.5 320.0 264.8 322.0 269.5 326.5 273.2 330.8 274.2 333.0 275.0 336.8 278.2 347.0 278.5 363.2 282.0 363.2 282.0 347.2 282.2 347.0 284.8 347.0 284.8 339.8 285.0 339.5 296.5 339.5 296.5 206.0 284.5 206.0 284.2 205.8 284.2 197.5 281.8 197.5 281.5 197.2 281.5 190.0Z"/><path fill="#f25e18" fill-rule="evenodd" d="M278.0 190.0 278.0 197.2 277.5 197.5 276.0 204.8 272.5 213.5 265.8 222.2 263.0 230.5 261.8 244.2 259.5 247.0 259.5 304.5 260.2 305.8 263.0 308.2 263.2 315.2 265.0 322.2 270.5 327.5 273.8 331.2 275.0 335.2 275.0 336.8 278.2 347.0 278.5 363.2 282.0 363.2 282.0 347.2 282.2 347.0 284.8 347.0 284.8 339.8 285.0 339.5 296.5 339.5 296.5 206.0 284.5 206.0 284.2 205.8 284.2 197.5 281.8 197.5 281.5 197.2 281.5 190.0Z"/><path fill="#f46516" fill-rule="evenodd" d="M278.0 190.0 278.0 197.2 277.5 197.5 276.0 204.8 274.5 209.2 272.8 212.8 272.8 213.2 265.8 222.5 263.0 231.2 262.0 243.2 261.5 244.8 259.8 247.0 259.8 304.8 260.5 306.0 263.2 308.5 263.2 315.0 264.0 317.2 265.0 322.2 273.8 331.0 275.0 335.0 275.0 336.8 278.2 346.8 278.5 363.2 282.0 363.2 282.0 347.2 282.2 347.0 284.8 347.0 284.8 339.8 285.0 339.5 296.5 339.5 296.5 206.0 284.5 206.0 284.2 205.8 284.2 197.5 281.8 197.5 281.5 197.2 281.5 190.0Z"/><path fill="#f66c14" fill-rule="evenodd" d="M278.0 190.0 278.0 197.2 277.5 197.5 276.0 204.8 274.5 209.2 272.8 213.2 266.0 222.2 263.2 230.2 262.2 241.8 262.0 242.0 262.0 244.2 259.8 247.0 259.8 304.5 260.5 305.8 263.5 308.8 263.5 315.8 264.2 318.0 265.0 322.0 270.8 327.5 274.0 331.2 275.0 334.8 275.0 336.5 278.2 346.8 278.5 363.2 282.0 363.2 282.0 347.2 282.2 347.0 284.8 347.0 284.8 339.8 285.0 339.5 296.5 339.5 296.5 206.0 284.5 206.0 284.2 205.8 284.2 197.5 281.8 197.5 281.5 197.2 281.5 190.0Z"/><path fill="#f77315" fill-rule="evenodd" d="M278.0 190.0 278.0 197.2 277.5 197.5 276.0 205.0 273.0 213.0 266.0 222.5 263.2 230.5 262.0 244.2 260.0 247.0 260.0 304.5 260.5 305.5 263.5 308.5 263.5 315.2 265.2 322.2 272.2 329.0 274.2 331.5 275.0 334.5 275.0 336.5 276.2 339.8 276.2 340.5 278.2 346.8 278.5 363.2 282.0 363.2 282.0 347.2 282.2 347.0 284.8 347.0 284.8 339.8 285.0 339.5 296.5 339.5 296.5 206.0 284.5 206.0 284.2 205.8 284.2 197.5 281.8 197.5 281.5 197.2 281.5 190.0Z"/><path fill="#f77a16" fill-rule="evenodd" d="M278.0 190.0 278.0 197.2 277.5 197.5 276.0 205.0 274.5 209.5 272.8 213.5 266.2 222.0 263.2 231.0 262.2 243.8 262.0 244.5 260.2 246.8 260.2 304.8 261.0 306.0 263.8 308.5 263.5 315.0 264.2 317.2 265.2 322.2 268.8 325.2 274.2 331.2 275.0 334.2 275.0 336.5 276.5 340.5 276.5 341.2 278.2 346.8 278.5 363.2 282.0 363.2 282.0 347.2 282.2 347.0 284.8 347.0 284.8 339.8 285.0 339.5 296.5 339.5 296.5 206.0 284.5 206.0 284.2 205.8 284.2 197.5 281.8 197.5 281.5 197.2 281.5 190.0Z"/><path fill="#f88117" fill-rule="evenodd" d="M278.2 190.0 278.2 197.0 277.5 197.5 277.5 198.5 275.5 206.8 273.0 213.2 266.2 222.5 264.0 229.5 263.5 230.2 262.2 244.2 260.2 247.0 260.2 304.5 261.0 305.8 263.8 308.2 263.8 315.2 265.5 322.2 274.2 331.0 275.0 334.0 275.2 337.0 276.2 339.5 276.2 340.2 278.2 346.5 278.5 363.2 282.0 363.2 282.0 347.2 282.2 347.0 284.8 347.0 284.8 339.8 285.0 339.5 296.5 339.5 296.5 206.0 284.5 206.0 284.2 205.8 284.2 197.5 281.8 197.5 281.5 197.2 281.5 190.0Z"/><path fill="#f88918" fill-rule="evenodd" d="M278.2 190.0 278.2 197.0 277.5 197.8 276.0 205.2 274.5 209.8 272.8 213.8 266.5 222.0 263.5 231.2 262.5 244.2 260.5 247.0 260.5 304.8 261.2 306.0 264.0 308.5 264.0 315.8 264.8 318.0 265.5 322.0 271.2 327.5 274.5 331.2 274.8 333.5 275.2 334.8 275.2 336.8 276.0 338.5 276.0 339.2 278.2 346.5 278.2 349.5 278.5 349.8 278.5 363.2 282.0 363.2 282.0 347.2 282.2 347.0 284.8 347.0 284.8 339.8 285.0 339.5 296.5 339.5 296.5 206.0 284.5 206.0 284.2 205.8 284.2 197.5 281.8 197.5 281.5 197.2 281.5 190.0Z"/><path fill="#f88f1a" fill-rule="evenodd" d="M278.2 190.0 278.2 197.0 277.5 197.8 276.5 203.2 275.2 207.0 275.2 207.8 273.0 213.5 266.5 222.5 264.5 229.0 263.8 230.5 262.8 243.8 262.5 244.5 260.8 246.8 260.8 304.8 261.5 306.0 264.2 308.5 264.2 315.8 265.8 322.0 270.8 326.8 274.5 331.2 275.2 334.5 275.2 336.5 277.0 341.8 278.5 348.0 278.5 363.2 282.0 363.2 282.0 347.2 282.2 347.0 284.8 347.0 284.8 339.8 285.0 339.5 296.5 339.5 296.5 206.0 284.5 206.0 284.2 205.8 284.2 197.5 281.8 197.5 281.5 197.2 281.5 190.0Z"/><path fill="#f8961b" fill-rule="evenodd" d="M278.2 190.0 278.2 197.0 277.5 197.8 276.0 205.5 273.2 213.2 266.8 222.5 264.0 230.5 263.0 243.5 262.8 244.5 260.8 247.0 260.8 304.5 261.5 305.8 264.5 308.5 264.5 315.8 265.2 318.0 266.0 322.2 272.0 328.0 274.5 331.0 275.2 334.0 275.2 336.0 278.5 347.2 278.5 363.2 282.0 363.2 282.0 347.2 282.2 347.0 284.8 347.0 284.8 339.8 285.0 339.5 296.5 339.5 296.5 206.0 284.5 206.0 284.2 205.8 284.2 197.5 281.8 197.5 281.5 197.2 281.5 190.0Z"/><path fill="#f89e1c" fill-rule="evenodd" d="M278.2 190.0 278.2 197.0 277.5 198.0 275.8 206.5 273.0 213.8 267.0 222.2 264.8 229.5 264.2 230.2 263.0 244.5 261.0 247.0 261.0 304.5 261.8 305.8 264.8 308.5 264.8 315.5 266.2 322.2 271.8 327.5 274.8 331.2 275.5 335.0 275.5 336.8 276.5 339.5 277.0 342.2 278.5 347.2 278.5 363.2 282.0 363.2 282.0 347.2 282.2 347.0 284.8 347.0 284.8 339.8 285.0 339.5 296.5 339.5 296.5 206.0 284.5 206.0 284.2 205.8 284.2 197.5 281.8 197.5 281.5 197.2 281.5 190.0Z"/><path fill="#f9a51c" fill-rule="evenodd" d="M278.2 190.0 278.2 197.0 277.5 198.0 276.0 205.8 273.2 213.5 270.5 217.8 267.2 222.0 264.2 231.2 263.2 244.2 261.2 246.8 261.2 304.8 262.0 306.0 265.0 308.5 265.0 315.8 266.5 322.2 271.2 326.8 274.8 331.2 275.5 334.5 275.5 336.8 276.2 338.5 278.5 347.2 278.5 363.2 282.0 363.2 282.0 347.2 282.2 347.0 284.8 347.0 284.8 339.8 285.0 339.5 296.5 339.5 296.5 206.0 284.5 206.0 284.2 205.8 284.2 197.5 281.8 197.5 281.5 197.2 281.5 190.0Z"/><path fill="#faad1c" fill-rule="evenodd" d="M278.2 190.0 278.2 197.0 277.5 198.0 276.2 205.0 274.5 210.5 273.0 214.0 267.2 222.2 264.5 230.5 263.8 241.0 263.5 241.2 263.5 244.0 261.2 247.0 261.2 304.5 262.0 305.8 265.2 308.5 265.0 309.5 265.0 315.0 265.8 317.5 266.5 322.0 271.8 327.2 274.8 331.0 275.5 334.2 275.5 336.5 276.0 337.5 278.5 347.0 278.5 363.2 282.0 363.2 282.0 347.2 282.2 347.0 284.8 347.0 284.8 339.8 285.0 339.5 296.5 339.5 296.5 206.0 284.5 206.0 284.2 205.8 284.2 197.5 281.8 197.5 281.5 197.2 281.5 190.0Z"/><path fill="#fbb51c" fill-rule="evenodd" d="M278.2 190.0 278.2 197.0 277.5 198.2 275.8 206.8 273.5 213.2 270.8 217.8 267.5 222.0 264.8 230.2 263.5 244.2 261.5 246.8 261.5 304.8 263.5 307.0 265.2 308.2 265.2 315.2 266.8 322.2 271.5 326.8 275.0 331.5 275.8 337.0 278.5 347.0 278.5 363.2 282.0 363.2 282.0 347.2 282.2 347.0 284.8 347.0 284.8 339.8 285.0 339.5 296.5 339.5 296.5 206.0 284.5 206.0 284.2 205.8 284.2 197.5 281.8 197.5 281.5 197.2 281.5 190.0Z"/><path fill="#fbbc1c" fill-rule="evenodd" d="M278.2 190.0 278.2 197.0 277.5 198.2 276.2 205.2 274.5 210.8 273.0 214.2 270.5 218.2 267.8 221.8 265.5 229.0 264.8 230.5 263.8 244.2 261.5 247.0 261.5 304.5 262.5 306.0 265.5 308.5 265.5 315.5 267.0 322.2 272.0 327.2 275.0 331.2 275.8 335.2 275.8 337.0 276.8 339.8 277.5 343.8 278.5 347.0 278.5 362.0 278.8 363.2 282.0 363.2 282.0 347.2 282.2 347.0 284.8 347.0 284.8 339.8 285.0 339.5 296.5 339.5 296.5 206.0 284.5 206.0 284.2 205.8 284.2 197.5 281.8 197.5 281.5 197.2 281.5 190.0Z"/><path fill="#fcc51b" fill-rule="evenodd" d="M278.2 190.0 278.2 197.0 277.5 198.2 275.8 207.0 273.5 213.5 270.2 218.8 267.8 222.0 265.0 230.2 264.2 240.5 264.0 240.8 264.0 243.5 263.8 244.5 261.8 247.0 261.8 304.8 263.5 306.8 265.8 308.5 265.8 316.0 266.5 318.5 267.0 322.0 271.8 326.8 275.0 331.0 275.8 334.8 275.8 336.8 276.8 339.5 276.8 340.5 278.5 347.0 278.5 360.5 278.8 360.8 278.8 363.2 282.0 363.2 282.0 347.2 282.2 347.0 284.8 347.0 284.8 339.8 285.0 339.5 296.5 339.5 296.5 206.0 284.5 206.0 284.2 205.8 284.2 197.5 281.8 197.5 281.5 197.2 281.5 190.0Z"/><path fill="#fcca17" fill-rule="evenodd" d="M278.2 190.0 278.2 197.0 277.8 197.5 276.2 205.5 273.8 213.2 271.8 216.8 268.0 222.0 265.2 230.2 264.0 244.2 262.0 246.8 262.0 304.8 263.8 306.8 266.0 308.5 266.0 316.0 267.2 322.0 272.5 327.5 275.2 331.5 275.2 332.8 275.8 334.2 275.8 336.5 276.2 337.5 278.5 346.8 278.8 363.2 282.0 363.2 282.0 347.2 282.2 347.0 284.8 347.0 284.8 339.8 285.0 339.5 296.5 339.5 296.5 206.0 284.5 206.0 284.2 205.8 284.2 197.5 281.8 197.5 281.5 197.2 281.5 190.0Z"/><path fill="#fccf12" fill-rule="evenodd" d="M278.2 190.0 278.2 197.2 277.8 197.5 276.0 206.5 274.0 212.8 271.8 217.0 268.0 222.5 265.5 230.0 264.2 244.2 262.0 247.0 262.0 304.5 263.0 306.0 266.2 308.5 266.2 315.8 267.5 322.0 272.5 327.2 275.2 331.2 276.0 337.0 276.8 339.0 276.8 340.0 278.5 346.8 278.8 363.2 282.0 363.2 282.0 347.2 282.2 347.0 284.8 347.0 284.8 339.8 285.0 339.5 296.5 339.5 296.5 206.0 284.5 206.0 284.2 205.8 284.2 197.5 281.8 197.5 281.5 197.2 281.5 190.0Z"/><path fill="#fdd50e" fill-rule="evenodd" d="M278.2 190.0 278.2 197.2 277.8 197.5 276.2 205.8 274.0 213.0 271.8 217.2 268.5 221.8 265.5 231.2 264.5 244.2 262.2 247.0 262.2 304.5 263.2 306.0 266.5 308.5 266.5 315.5 267.8 322.0 272.5 327.0 275.2 331.0 276.0 334.8 276.0 336.8 276.8 338.8 278.0 345.2 278.5 346.5 278.8 363.2 282.0 363.2 282.0 347.2 282.2 347.0 284.8 347.0 284.8 339.8 285.0 339.5 296.5 339.5 296.5 206.0 284.5 206.0 284.2 205.8 284.2 197.5 281.8 197.5 281.5 197.2 281.5 190.0Z"/><path fill="#fdda09" fill-rule="evenodd" d="M278.2 190.0 278.2 197.2 277.8 197.5 276.5 205.0 274.0 213.2 271.8 217.5 268.5 222.2 265.8 230.8 265.8 233.5 265.5 233.8 264.8 244.2 262.5 247.0 262.5 304.5 263.5 306.0 266.8 308.5 266.8 315.5 267.5 318.2 268.0 322.0 272.5 326.8 275.5 331.2 275.5 332.5 276.0 334.0 276.0 336.2 277.0 339.5 277.0 340.5 278.5 346.5 278.8 363.2 282.0 363.2 282.0 347.2 282.2 347.0 284.8 347.0 284.8 339.8 285.0 339.5 296.5 339.5 296.5 206.0 284.5 206.0 284.2 205.8 284.2 197.5 281.8 197.5 281.5 197.2 281.5 190.0Z"/><path fill="#fddf04" fill-rule="evenodd" d="M278.2 190.0 278.2 197.2 277.8 197.5 276.5 205.2 274.0 213.5 272.0 217.5 268.8 222.2 266.0 230.5 265.0 244.2 262.8 247.0 262.8 304.5 264.0 306.2 267.0 308.5 267.0 315.2 267.5 316.8 268.2 322.0 272.5 326.5 275.5 331.0 276.0 335.0 276.2 335.2 276.2 337.0 277.2 340.2 277.8 343.8 278.5 346.2 278.8 363.2 282.0 363.2 282.0 347.2 282.2 347.0 284.8 347.0 284.8 339.8 285.0 339.5 296.5 339.5 296.5 206.0 284.5 206.0 284.2 205.8 284.2 197.5 281.8 197.5 281.5 197.2 281.5 190.0Z"/><path fill="#fce600" fill-rule="evenodd" d="M278.2 190.0 278.2 197.2 277.8 197.8 276.2 206.2 273.5 214.8 272.0 217.8 269.0 222.0 268.0 225.0 268.0 225.8 266.2 230.5 265.2 244.2 263.0 247.0 263.0 304.8 264.2 306.2 267.2 308.5 267.2 315.0 268.5 320.8 268.5 322.0 272.5 326.2 275.8 331.5 276.2 336.5 277.2 340.0 278.5 346.2 278.5 348.2 278.8 348.5 278.8 363.2 282.0 363.2 282.0 347.2 282.2 347.0 284.8 347.0 284.8 339.8 285.0 339.5 296.5 339.5 296.5 206.0 284.5 206.0 284.2 205.8 284.2 197.5 281.8 197.5 281.5 197.2 281.5 190.0Z"/><path fill="#f7ea00" fill-rule="evenodd" d="M278.2 190.0 278.2 197.2 277.8 198.0 277.5 200.8 276.2 206.8 275.8 207.8 274.2 213.8 272.5 217.8 269.8 221.8 269.0 223.8 269.0 224.5 267.0 230.2 266.0 244.2 263.5 247.0 263.5 304.5 264.5 306.0 266.2 307.0 268.0 308.5 268.2 316.2 269.0 319.2 269.2 322.0 273.2 326.5 276.0 331.2 276.5 336.5 277.2 339.0 277.5 341.5 278.8 347.0 278.8 363.2 282.0 363.2 282.0 347.2 282.2 347.0 284.8 347.0 284.8 339.8 285.0 339.5 296.5 339.5 296.5 206.0 284.5 206.0 284.2 205.8 284.2 197.5 281.8 197.5 281.5 197.2 281.5 190.0Z"/><path fill="#f3ee00" fill-rule="evenodd" d="M278.5 190.0 278.5 197.0 278.0 197.5 276.8 205.5 276.0 207.5 274.2 214.8 272.8 218.2 270.2 222.0 270.2 222.8 268.0 229.2 267.8 231.8 267.5 232.0 266.8 244.2 264.2 247.0 264.2 304.5 265.2 306.0 269.0 308.5 269.0 315.0 269.5 316.8 270.0 321.5 271.0 323.2 274.2 327.0 276.2 331.0 276.8 336.2 277.5 339.0 277.5 340.2 278.8 346.5 279.0 363.2 282.0 363.2 282.0 347.2 282.2 347.0 284.8 347.0 284.8 339.8 285.0 339.5 296.5 339.5 296.5 206.0 284.5 206.0 284.2 205.8 284.2 197.5 281.8 197.5 281.5 197.2 281.5 190.0Z"/><path fill="#ebe903" fill-rule="evenodd" d="M278.5 190.0 278.5 197.0 278.0 197.5 276.8 205.8 276.0 207.8 274.5 214.5 273.0 218.2 270.5 222.2 269.0 227.8 268.0 230.2 267.0 244.2 264.5 247.0 264.5 304.5 266.0 306.2 269.2 308.5 269.5 315.8 269.8 316.0 270.5 322.2 274.0 326.2 276.5 331.2 277.0 337.0 277.5 338.5 278.0 343.0 278.8 346.2 279.0 363.2 282.0 363.2 282.0 347.2 282.2 347.0 284.8 347.0 284.8 339.8 285.0 339.5 296.5 339.5 296.5 206.0 284.5 206.0 284.2 205.8 284.2 197.5 281.8 197.5 281.5 197.2 281.5 190.0Z"/><path fill="#e4e605" fill-rule="evenodd" d="M278.5 190.0 278.5 197.0 278.0 197.5 277.0 204.8 275.5 210.0 275.0 213.2 273.8 217.0 270.8 222.0 269.2 227.5 268.2 230.0 267.2 244.2 264.8 247.0 264.8 304.8 265.8 306.0 267.2 306.8 269.5 308.5 269.8 315.8 270.0 316.0 270.8 322.2 274.5 326.8 276.5 331.0 277.0 336.5 277.8 339.5 278.0 342.8 278.8 346.2 279.0 363.2 282.0 363.2 282.0 347.2 282.2 347.0 284.8 347.0 284.8 339.8 285.0 339.5 296.5 339.5 296.5 206.0 284.5 206.0 284.2 205.8 284.2 197.5 281.8 197.5 281.5 197.2 281.5 190.0Z"/><path fill="#dee306" fill-rule="evenodd" d="M278.5 190.0 278.5 197.0 278.0 197.5 277.0 205.0 275.5 210.2 275.2 212.5 273.8 216.8 273.8 217.5 271.0 221.8 268.2 231.0 267.5 244.2 264.8 247.0 264.8 304.5 266.0 306.0 269.0 307.8 269.8 308.5 270.0 316.0 270.2 316.2 271.0 322.2 274.5 326.5 276.5 330.8 277.0 336.0 277.2 336.2 278.5 345.8 278.8 346.0 279.0 363.2 282.0 363.2 282.0 347.2 282.2 347.0 284.8 347.0 284.8 339.8 285.0 339.5 296.5 339.5 296.5 206.0 284.5 206.0 284.2 205.8 284.2 197.5 281.8 197.5 281.5 197.2 281.5 190.0Z"/><path fill="#d7e008" fill-rule="evenodd" d="M278.5 190.0 278.5 197.0 278.0 197.5 277.2 203.8 275.5 210.5 275.2 212.8 274.0 217.0 271.0 222.2 268.5 230.5 267.8 243.8 267.5 244.5 265.0 247.0 265.0 304.5 266.5 306.2 270.0 308.5 270.0 313.0 270.2 313.2 270.2 316.2 270.8 318.2 271.0 321.8 271.5 322.8 274.5 326.2 276.8 331.2 277.2 337.2 277.5 337.5 278.5 345.5 278.8 345.8 279.0 363.2 282.0 363.2 282.0 347.2 282.2 347.0 284.8 347.0 284.8 339.8 285.0 339.5 296.5 339.5 296.5 206.0 284.5 206.0 284.2 205.8 284.2 197.5 281.8 197.5 281.5 197.2 281.5 190.0Z"/><path fill="#d1dd0a" fill-rule="evenodd" d="M278.5 190.0 278.5 197.0 278.0 197.8 277.0 205.2 276.0 208.5 275.2 213.0 274.0 217.2 271.2 222.0 268.8 230.2 267.8 244.2 265.2 247.0 265.2 304.8 266.2 306.0 270.2 308.5 270.2 315.2 270.5 315.5 271.2 322.2 274.8 326.5 276.8 331.0 277.2 337.0 277.5 337.2 278.5 345.5 278.8 345.8 279.0 363.2 282.0 363.2 282.0 347.2 282.2 347.0 284.8 347.0 284.8 339.8 285.0 339.5 296.5 339.5 296.5 206.0 284.5 206.0 284.2 205.8 284.2 197.5 281.8 197.5 281.5 197.2 281.5 190.0Z"/><path fill="#cbd90c" fill-rule="evenodd" d="M278.5 190.0 278.5 197.2 278.0 197.8 277.2 204.0 275.5 211.0 275.2 213.2 274.0 217.5 271.2 222.2 270.5 225.5 269.0 229.8 268.2 241.0 268.0 241.2 268.0 244.2 265.2 247.0 265.2 304.5 266.5 306.0 268.8 307.2 270.2 308.5 270.5 316.2 270.8 316.5 271.2 321.5 271.8 322.8 274.8 326.5 276.8 331.0 277.2 336.5 277.5 336.8 277.5 338.2 277.8 338.5 278.2 343.5 278.8 345.5 278.8 348.2 279.0 348.5 279.0 363.2 282.0 363.2 282.0 347.2 282.2 347.0 284.8 347.0 284.8 339.8 285.0 339.5 296.5 339.5 296.5 206.0 284.5 206.0 284.2 205.8 284.2 197.5 281.8 197.5 281.5 197.2 281.5 190.0Z"/><path fill="#c5d60e" fill-rule="evenodd" d="M278.5 190.0 278.5 197.2 278.0 198.0 277.2 204.2 276.2 207.8 275.2 213.5 274.8 214.5 274.2 217.0 271.5 222.0 269.8 228.5 269.0 230.2 268.0 244.2 265.5 247.0 265.5 304.5 267.0 306.2 270.5 308.5 270.5 315.2 270.8 315.5 271.5 322.2 275.0 326.8 276.5 330.2 277.0 332.2 277.2 336.2 277.5 336.5 278.5 345.2 279.0 347.2 279.0 363.2 282.0 363.2 282.0 347.2 282.2 347.0 284.8 347.0 284.8 339.8 285.0 339.5 296.5 339.5 296.5 206.0 284.5 206.0 284.2 205.8 284.2 197.5 281.8 197.5 281.5 197.2 281.5 190.0Z"/><path fill="#bfd311" fill-rule="evenodd" d="M278.5 190.0 278.5 197.2 278.0 198.0 277.2 204.2 276.0 209.0 275.5 212.8 274.2 216.5 274.2 217.2 271.5 222.2 271.5 223.0 269.2 230.0 268.2 244.2 265.5 247.0 265.5 304.5 266.8 306.0 270.5 308.2 270.8 309.2 270.8 316.0 271.0 316.2 271.5 321.5 272.0 322.8 275.0 326.5 277.0 332.0 277.2 336.0 277.5 336.2 278.5 345.0 278.8 345.2 278.8 347.0 279.0 347.2 279.0 363.2 282.0 363.2 282.0 347.2 282.2 347.0 284.8 347.0 284.8 339.8 285.0 339.5 296.5 339.5 296.5 206.0 284.5 206.0 284.2 205.8 284.2 197.5 281.8 197.5 281.5 197.2 281.5 190.0Z"/><path fill="#b8d113" fill-rule="evenodd" d="M278.5 190.0 278.5 197.2 278.0 198.2 277.2 204.5 276.0 209.2 275.5 213.0 274.2 217.5 271.8 222.0 269.2 230.5 268.5 244.0 265.8 247.0 265.8 304.5 267.0 306.0 269.2 307.2 270.8 308.5 270.8 315.0 271.0 315.2 271.8 322.0 275.0 326.5 277.0 331.5 277.2 335.5 277.5 335.8 278.8 346.8 279.0 347.0 279.0 363.2 282.0 363.2 282.0 347.2 282.2 347.0 284.8 347.0 284.8 339.8 285.0 339.5 296.5 339.5 296.5 206.0 284.5 206.0 284.2 205.8 284.2 197.5 281.8 197.5 281.5 197.2 281.5 190.0Z"/><path fill="#b2ce16" fill-rule="evenodd" d="M278.5 190.0 278.5 197.2 278.0 198.2 277.2 204.8 276.5 207.2 275.5 213.2 274.2 217.8 272.0 221.8 269.5 230.2 268.5 244.2 266.0 247.0 266.0 304.5 267.5 306.2 271.0 308.5 271.0 315.8 271.2 316.0 271.2 317.8 271.5 318.0 272.0 322.2 275.2 326.8 277.0 331.2 277.2 335.2 278.0 338.8 278.8 346.8 279.0 347.0 279.0 363.2 282.0 363.2 282.0 347.2 282.2 347.0 284.8 347.0 284.8 339.8 285.0 339.5 296.5 339.5 296.5 206.0 284.5 206.0 284.2 205.8 284.2 197.5 281.8 197.5 281.5 197.2 281.5 190.0Z"/><path fill="#accc18" fill-rule="evenodd" d="M278.5 190.0 278.5 197.2 278.0 198.5 277.2 205.0 276.8 206.2 275.5 213.5 274.5 217.2 272.0 222.0 270.8 227.2 269.8 230.0 268.8 244.2 266.2 247.0 266.2 304.8 267.8 306.2 271.2 308.5 271.2 316.5 271.8 318.5 272.0 322.0 275.2 326.5 276.0 329.0 277.0 331.0 277.5 336.8 278.0 338.5 278.8 346.5 279.0 346.8 279.0 363.2 282.0 363.2 282.0 347.2 282.2 347.0 284.8 347.0 284.8 339.8 285.0 339.5 296.5 339.5 296.5 206.0 284.5 206.0 284.2 205.8 284.2 197.5 281.8 197.5 281.5 197.2 281.5 190.0Z"/><path fill="#a5c91b" fill-rule="evenodd" d="M278.5 190.0 278.5 197.2 278.0 198.8 277.5 203.5 275.8 211.5 275.8 212.8 274.5 217.5 272.2 221.8 269.8 230.8 269.0 244.2 266.2 247.0 266.2 304.5 267.5 306.0 268.2 306.2 271.2 308.5 271.2 315.5 271.5 315.8 272.2 322.2 275.5 327.0 277.0 331.0 277.0 332.2 277.2 332.5 277.2 334.5 277.5 334.8 277.5 336.5 278.0 338.2 278.8 346.2 279.0 346.5 279.0 362.8 279.2 363.2 282.0 363.2 282.0 347.2 282.2 347.0 284.8 347.0 284.8 339.8 285.0 339.5 296.5 339.5 296.5 206.0 284.5 206.0 284.2 205.8 284.2 197.5 281.8 197.5 281.5 197.2 281.5 190.0Z"/><path fill="#9fc71d" fill-rule="evenodd" d="M278.5 190.0 278.5 197.2 278.0 198.8 277.2 205.2 276.0 210.5 275.8 213.0 274.5 217.8 272.2 222.2 270.0 230.5 269.0 244.2 266.5 247.0 266.5 304.5 267.8 306.0 270.8 307.8 271.5 308.5 271.5 316.2 271.8 316.5 272.2 321.5 272.8 322.8 275.5 326.8 277.2 332.2 277.5 336.0 277.8 336.2 278.5 343.8 278.8 344.0 278.8 346.2 279.0 346.5 279.0 361.0 279.2 361.2 279.2 363.2 282.0 363.2 282.0 347.2 282.2 347.0 284.8 347.0 284.8 339.8 285.0 339.5 296.5 339.5 296.5 206.0 284.5 206.0 284.2 205.8 284.2 197.5 281.8 197.5 281.5 197.2 281.5 190.0Z"/><path fill="#98c420" fill-rule="evenodd" d="M278.5 190.0 278.5 197.2 278.2 197.5 277.5 203.8 276.5 208.0 275.5 214.5 274.8 217.5 272.5 222.0 271.2 227.2 270.2 230.0 269.2 244.2 266.8 247.0 266.8 304.5 268.0 306.0 271.8 308.5 271.5 315.2 271.8 315.5 272.5 322.2 275.5 326.5 275.8 327.8 276.2 328.5 277.2 332.0 277.2 333.8 277.5 334.0 277.5 335.5 278.2 339.2 278.8 346.0 279.0 346.2 279.2 363.2 282.0 363.2 282.0 347.2 282.2 347.0 284.8 347.0 284.8 339.8 285.0 339.5 296.5 339.5 296.5 206.0 284.5 206.0 284.2 205.8 284.2 197.5 281.8 197.5 281.5 197.2 281.5 190.0Z"/><path fill="#92c121" fill-rule="evenodd" d="M278.5 190.0 278.5 197.2 278.2 197.5 278.0 200.8 277.8 201.0 277.5 204.0 276.2 209.8 275.8 213.8 274.8 217.8 272.8 221.8 271.0 229.0 270.5 230.0 269.5 244.2 267.0 247.0 267.0 304.5 268.2 306.0 272.0 308.5 271.8 315.5 272.0 315.8 272.8 322.2 275.8 326.8 277.2 331.5 277.5 335.2 278.2 338.8 278.8 345.8 279.0 346.0 279.2 363.2 282.0 363.2 282.0 347.2 282.2 347.0 284.8 347.0 284.8 339.8 285.0 339.5 296.5 339.5 296.5 206.0 284.5 206.0 284.2 205.8 284.2 197.5 281.8 197.5 281.5 197.2 281.5 190.0Z"/><path fill="#8cbe23" fill-rule="evenodd" d="M278.8 190.0 278.8 197.0 278.2 197.8 277.5 204.5 276.8 207.5 276.0 213.2 274.8 218.2 272.8 222.8 271.2 229.2 270.8 230.2 270.0 243.2 269.5 244.8 267.2 247.0 267.2 304.5 268.5 306.0 269.2 306.2 272.2 308.5 272.0 315.2 272.2 315.5 273.0 322.2 275.8 326.5 277.2 331.0 277.5 334.5 277.8 334.8 277.8 336.2 278.5 340.0 278.5 342.5 278.8 342.8 278.8 345.2 279.0 345.5 279.2 363.2 282.0 363.2 282.0 347.2 282.2 347.0 284.8 347.0 284.8 339.8 285.0 339.5 296.5 339.5 296.5 206.0 284.5 206.0 284.2 205.8 284.2 197.5 281.8 197.5 281.5 197.2 281.5 190.0Z"/><path fill="#86bb25" fill-rule="evenodd" d="M278.8 190.0 278.8 197.0 278.2 198.0 278.2 199.5 278.0 199.8 278.0 201.2 277.8 201.5 277.5 204.8 276.5 209.5 276.2 212.5 275.2 217.2 273.2 222.0 271.0 230.8 270.2 244.2 267.5 247.0 267.5 304.5 269.2 306.2 272.5 308.5 272.5 314.0 272.2 315.0 272.5 315.2 273.2 322.2 275.5 325.8 276.5 328.2 277.5 332.0 277.5 333.8 277.8 334.0 277.8 335.5 278.5 339.2 278.8 344.8 279.0 345.0 279.0 351.5 279.2 351.8 279.2 363.2 282.0 363.2 282.0 347.2 282.2 347.0 284.8 347.0 284.8 339.8 285.0 339.5 296.5 339.5 296.5 206.0 284.5 206.0 284.2 205.8 284.2 197.5 281.8 197.5 281.5 197.2 281.5 190.0Z"/><path fill="#80b826" fill-rule="evenodd" d="M278.8 190.0 278.8 197.2 278.2 198.2 278.0 201.8 277.8 202.0 277.5 205.2 276.8 208.5 276.2 213.2 275.5 217.0 273.5 222.0 271.5 230.0 270.5 244.2 268.0 247.0 268.0 304.5 269.2 306.0 273.0 308.5 272.8 309.5 272.8 314.8 272.5 315.0 272.8 315.2 273.5 322.0 276.5 327.8 277.5 331.5 277.5 333.2 277.8 333.5 277.8 335.0 278.5 338.8 278.8 344.0 279.0 344.2 279.0 348.5 279.2 348.8 279.2 363.2 282.0 363.2 282.0 347.2 282.2 347.0 284.8 347.0 284.8 339.8 285.0 339.5 296.5 339.5 296.5 206.0 284.5 206.0 284.2 205.8 284.2 197.5 281.8 197.5 281.5 197.2 281.5 190.0Z"/><path fill="#78b428" fill-rule="evenodd" d="M278.8 190.0 278.8 197.2 278.2 198.5 278.2 200.2 278.0 200.5 276.5 212.5 275.5 217.8 273.8 222.2 271.8 230.2 270.8 244.2 268.2 247.0 268.2 304.5 270.0 306.2 273.2 308.5 273.0 316.5 273.8 320.2 273.8 322.0 276.5 327.2 277.0 330.0 277.5 331.0 277.8 334.5 278.0 334.8 278.5 339.8 278.8 340.0 278.8 343.2 279.0 343.5 279.0 346.8 279.2 347.0 279.2 363.2 282.0 363.2 282.0 347.2 282.2 347.0 284.8 347.0 284.8 339.8 285.0 339.5 296.5 339.5 296.5 206.0 284.5 206.0 284.2 205.8 284.2 197.5 281.8 197.5 281.5 197.2 281.5 190.0Z"/><path fill="#76b32a" fill-rule="evenodd" d="M278.8 190.0 278.8 197.2 278.5 197.5 278.0 203.2 277.5 205.2 276.8 213.2 276.5 213.5 276.0 217.8 274.8 221.2 273.5 227.5 272.8 229.8 271.8 244.2 269.2 247.0 269.2 304.5 271.0 306.2 274.2 308.5 274.0 312.5 273.8 312.8 273.8 316.2 274.0 316.5 274.5 321.5 275.5 324.2 276.5 326.0 278.0 332.8 278.0 334.5 278.5 336.2 278.5 337.8 278.8 338.0 278.8 340.0 279.0 340.2 279.5 363.2 282.0 363.2 282.0 347.2 282.2 347.0 284.8 347.0 284.8 339.8 285.0 339.5 296.5 339.5 296.5 206.0 284.5 206.0 284.2 205.8 284.2 197.5 281.8 197.5 281.5 197.2 281.5 190.0Z"/><path fill="#74b22c" fill-rule="evenodd" d="M279.0 190.0 279.0 197.2 278.5 198.8 278.5 201.0 278.2 201.2 278.2 203.2 278.0 203.5 278.0 205.5 277.8 205.8 276.5 217.5 275.2 221.8 273.5 230.5 272.8 244.2 270.5 247.0 270.5 304.5 272.5 306.5 275.2 308.5 275.0 312.8 274.8 313.0 274.8 316.5 275.2 318.8 275.2 320.8 276.0 323.8 277.2 326.5 278.0 330.5 278.0 332.0 278.2 332.2 278.8 338.5 279.0 338.8 279.2 353.0 279.5 353.2 279.5 363.2 282.0 363.2 282.0 347.2 282.2 347.0 284.8 347.0 284.8 339.8 285.0 339.5 296.5 339.5 296.5 206.0 284.5 206.0 284.2 205.8 284.2 197.5 281.8 197.5 281.5 197.2 281.5 190.0Z"/><path fill="#72b12e" fill-rule="evenodd" d="M279.0 190.0 279.0 197.2 278.8 197.5 278.8 200.2 278.5 200.5 278.5 203.5 278.2 203.8 278.2 206.0 277.8 208.0 277.0 217.2 276.0 221.0 274.8 229.5 274.5 229.8 273.8 244.2 271.8 246.8 271.8 304.5 273.0 306.0 276.2 308.5 276.0 313.0 275.8 313.2 276.0 319.5 276.2 319.8 276.2 322.0 278.0 327.8 278.8 336.5 279.0 336.8 279.0 339.2 279.2 339.5 279.5 363.2 282.0 363.2 282.0 347.2 282.2 347.0 284.8 347.0 284.8 339.8 285.0 339.5 296.5 339.5 296.5 206.0 284.5 206.0 284.2 205.8 284.2 197.5 281.8 197.5 281.5 197.2 281.5 190.0Z"/><path fill="#70b030" fill-rule="evenodd" d="M279.0 190.0 278.8 203.8 278.5 204.0 278.5 206.2 278.0 208.5 277.5 216.8 276.5 221.5 276.2 225.0 276.0 225.2 276.0 226.8 275.2 230.5 275.2 236.2 275.0 236.5 274.8 244.5 273.0 246.8 273.0 304.5 274.2 306.0 277.2 308.2 277.2 310.5 277.0 310.8 277.0 313.0 276.8 313.2 276.8 317.2 277.0 317.5 277.2 322.8 278.5 327.8 279.0 337.0 279.2 337.2 279.5 361.5 279.8 361.8 279.8 363.2 282.0 363.2 282.0 347.2 282.2 347.0 284.8 347.0 284.8 339.8 285.0 339.5 296.5 339.5 296.5 206.0 284.5 206.0 284.2 205.8 284.2 197.5 281.8 197.5 281.5 197.2 281.5 190.0Z"/><path fill="#6fb13a" fill-rule="evenodd" d="M279.2 190.0 279.0 202.5 278.8 202.8 278.8 206.0 278.2 208.0 277.8 217.5 277.0 221.0 276.8 225.0 276.5 225.2 276.2 229.2 276.0 229.5 275.5 244.2 273.8 247.0 273.8 304.5 278.0 308.5 277.8 312.5 277.5 312.8 277.5 319.0 277.8 319.2 277.8 322.5 278.8 326.8 279.2 339.2 279.5 339.5 279.8 363.2 282.0 363.2 282.0 347.2 282.2 347.0 284.8 347.0 284.8 339.8 285.0 339.5 296.5 339.5 296.5 206.0 284.5 206.0 284.2 205.8 284.2 197.5 281.8 197.5 281.5 197.2 281.5 190.0Z"/><path fill="#6fb141" fill-rule="evenodd" d="M279.2 190.0 279.0 204.0 278.8 204.2 278.8 206.5 278.2 208.5 277.8 218.2 277.0 222.0 276.5 228.8 276.2 229.0 275.8 244.2 274.0 247.0 274.0 304.5 278.2 308.5 277.8 314.8 277.5 315.0 277.8 315.2 278.0 323.0 278.8 326.0 279.0 332.8 279.2 333.0 279.8 363.2 282.0 363.2 282.0 347.2 282.2 347.0 284.8 347.0 284.8 339.8 285.0 339.5 296.5 339.5 296.5 206.0 284.5 206.0 284.2 205.8 284.2 197.5 281.8 197.5 281.5 197.2 281.5 190.0Z"/><path fill="#6fb148" fill-rule="evenodd" d="M279.2 190.0 279.0 205.2 278.2 209.0 278.0 216.8 277.8 217.0 277.8 219.0 277.2 221.0 276.8 228.0 276.5 228.2 276.5 230.5 276.2 230.8 276.0 244.2 274.2 247.0 274.2 304.5 278.5 308.5 277.8 316.0 278.0 316.2 278.0 321.5 278.2 321.8 278.2 323.5 279.0 327.0 279.0 330.8 279.2 331.0 279.8 363.2 282.0 363.2 282.0 347.2 282.2 347.0 284.8 347.0 284.8 339.8 285.0 339.5 296.5 339.5 296.5 206.0 284.5 206.0 284.2 205.8 284.2 197.5 281.8 197.5 281.5 197.2 281.5 190.0Z"/><path fill="#6eb250" fill-rule="evenodd" d="M279.2 190.0 279.0 205.5 278.8 205.8 278.5 209.8 278.2 210.0 278.0 217.8 277.5 220.0 277.0 227.2 276.8 227.5 276.8 229.8 276.5 230.0 276.2 244.2 274.5 247.0 274.5 304.5 278.8 308.5 278.5 311.5 278.2 311.8 278.2 314.0 278.0 314.2 278.0 317.0 278.2 317.2 278.2 322.2 279.0 326.0 279.0 329.2 279.2 329.5 279.8 363.2 282.0 363.2 282.0 347.2 282.2 347.0 284.8 347.0 284.8 339.8 285.0 339.5 296.5 339.5 296.5 206.0 284.5 206.0 284.2 205.8 284.2 197.5 281.8 197.5 281.5 197.2 281.5 190.0Z"/><path fill="#6eb257" fill-rule="evenodd" d="M279.2 190.0 279.0 206.0 278.5 208.0 278.2 215.8 278.0 216.0 278.0 218.8 277.8 219.0 277.0 229.0 276.8 229.2 276.5 244.2 274.8 247.0 274.8 304.5 279.0 308.5 278.8 309.0 278.8 311.2 278.5 311.5 278.5 313.8 278.2 314.0 278.2 318.2 278.5 318.5 278.5 323.0 278.8 323.2 279.0 327.2 279.2 327.5 279.8 363.2 282.0 363.2 282.0 347.2 282.2 347.0 284.8 347.0 284.8 339.8 285.0 339.5 296.5 339.5 296.5 206.0 284.5 206.0 284.2 205.8 284.2 197.5 281.8 197.5 281.5 197.2 281.5 190.0Z"/><path fill="#6db35e" fill-rule="evenodd" d="M279.2 190.0 279.2 203.8 279.0 204.0 279.0 206.5 278.5 208.5 278.2 217.2 278.0 217.5 277.2 228.2 277.0 228.5 276.8 243.0 276.5 243.2 276.5 244.5 275.0 247.0 275.0 304.5 279.2 308.5 279.0 308.8 279.0 311.0 278.5 313.5 278.5 320.0 278.8 320.2 278.8 323.8 279.2 326.0 279.2 331.5 279.5 331.8 279.8 363.2 282.0 363.2 282.0 347.2 282.2 347.0 284.8 347.0 284.8 339.8 285.0 339.5 296.5 339.5 296.5 206.0 284.5 206.0 284.2 205.8 284.2 197.5 281.8 197.5 281.5 197.2 281.5 190.0Z"/><path fill="#6db366" fill-rule="evenodd" d="M279.2 190.0 279.2 205.2 278.5 209.0 278.2 218.2 278.0 218.5 277.5 227.2 277.2 227.5 277.2 231.0 277.0 231.2 277.0 241.5 276.8 241.8 276.8 244.5 275.2 247.0 275.2 304.5 279.2 308.2 279.2 310.8 278.8 313.2 278.8 322.2 279.0 322.5 279.2 328.5 279.5 328.8 279.8 363.2 282.0 363.2 282.0 347.2 282.2 347.0 284.8 347.0 284.8 339.8 285.0 339.5 296.5 339.5 296.5 206.0 284.5 206.0 284.2 205.8 284.2 197.5 281.8 197.5 281.5 197.2 281.5 190.0Z"/><path fill="#6db36d" fill-rule="evenodd" d="M279.2 190.0 279.2 205.8 279.0 206.0 278.8 210.0 278.5 210.2 278.5 216.0 278.2 216.2 278.2 219.5 278.0 219.8 277.5 229.8 277.2 230.0 277.0 244.5 275.5 247.0 275.5 304.5 279.5 308.2 279.2 312.8 279.0 313.0 279.0 323.0 279.2 323.2 279.2 325.8 279.5 326.0 279.8 363.2 282.0 363.2 282.0 347.2 282.2 347.0 284.8 347.0 284.8 339.8 285.0 339.5 296.5 339.5 296.5 206.0 284.5 206.0 284.2 205.8 284.2 197.5 281.8 197.5 281.5 197.2 281.5 190.0Z"/><path fill="#6cb474" fill-rule="evenodd" d="M279.2 190.0 279.2 206.2 278.8 208.0 278.5 217.8 278.2 218.0 277.8 228.8 277.5 229.0 277.2 244.5 275.8 247.0 275.8 304.5 279.8 308.2 279.2 314.8 279.0 315.0 279.0 316.2 279.2 316.5 279.2 324.2 279.5 324.5 279.5 339.0 279.8 339.2 279.8 363.2 282.0 363.2 282.0 347.2 282.2 347.0 284.8 347.0 284.8 339.8 285.0 339.5 296.5 339.5 296.5 206.0 284.5 206.0 284.2 205.8 284.2 197.5 281.8 197.5 281.5 197.2 281.5 190.0Z"/><path fill="#6cb57b" fill-rule="evenodd" d="M279.2 190.0 279.2 206.5 278.8 208.5 278.5 219.2 278.2 219.5 278.0 227.5 277.8 227.8 277.5 244.2 276.0 247.0 276.0 304.5 280.0 308.2 279.5 314.2 279.2 314.5 279.5 326.0 279.8 326.2 279.8 363.2 282.0 363.2 282.0 347.2 282.2 347.0 284.8 347.0 284.8 339.8 285.0 339.5 296.5 339.5 296.5 206.0 284.5 206.0 284.2 205.8 284.2 197.5 281.8 197.5 281.5 197.2 281.5 190.0Z"/><path fill="#6db782" fill-rule="evenodd" d="M279.5 190.0 279.5 197.0 279.2 197.2 279.5 205.2 278.8 209.0 278.8 216.8 278.5 217.0 278.2 226.0 278.0 226.2 278.0 232.5 277.8 232.8 277.8 244.2 276.5 246.5 276.5 304.8 280.2 308.5 279.8 314.0 279.5 314.2 279.5 322.8 279.8 323.0 279.8 363.2 282.0 363.2 282.0 347.2 282.2 347.0 284.8 347.0 284.8 339.8 285.0 339.5 296.5 339.5 296.5 206.0 284.5 206.0 284.2 205.8 284.2 197.5 281.8 197.5 281.5 197.2 281.5 190.0Z"/><path fill="#6db889" fill-rule="evenodd" d="M279.5 190.0 279.5 197.2 279.2 197.5 279.5 198.2 279.5 205.8 279.0 207.8 279.0 211.2 278.8 211.5 278.8 219.0 278.5 219.2 278.2 230.0 278.0 230.2 278.0 244.2 276.8 246.8 276.8 304.5 280.5 308.5 280.0 314.0 279.8 314.2 279.8 325.5 280.0 325.8 280.0 328.2 279.8 328.5 279.8 362.0 280.0 363.2 282.0 363.2 282.0 347.2 282.2 347.0 284.8 347.0 284.8 339.8 285.0 339.5 296.5 339.5 296.5 206.0 284.5 206.0 284.2 205.8 284.2 197.5 281.8 197.5 281.5 197.2 281.5 190.0Z"/><path fill="#6dba90" fill-rule="evenodd" d="M279.5 190.0 279.5 206.2 279.0 208.2 278.5 228.5 278.2 228.8 278.2 244.2 277.0 246.8 277.0 304.5 280.8 308.5 280.2 313.8 280.0 314.0 279.8 360.2 280.0 360.5 280.0 363.2 282.0 363.2 282.0 347.2 282.2 347.0 284.8 347.0 284.8 339.8 285.0 339.5 296.5 339.5 296.5 206.0 284.5 206.0 284.2 205.8 284.2 197.5 281.8 197.5 281.5 197.2 281.5 190.0Z"/><path fill="#6ebc97" fill-rule="evenodd" d="M279.5 190.0 279.5 204.2 279.8 205.0 279.0 208.8 279.0 218.5 278.8 218.8 278.8 226.2 278.5 226.5 278.5 244.2 277.2 246.8 277.2 304.5 281.0 308.5 280.5 313.5 280.2 313.8 280.2 327.0 280.0 327.2 280.0 334.8 279.8 335.0 279.8 358.5 280.0 358.8 280.0 363.2 282.0 363.2 282.0 347.2 282.2 347.0 284.8 347.0 284.8 339.8 285.0 339.5 296.5 339.5 296.5 206.0 284.5 206.0 284.2 205.8 284.2 197.5 281.8 197.5 281.5 197.2 281.5 190.0Z"/><path fill="#6ebd9e" fill-rule="evenodd" d="M279.5 190.0 279.8 205.5 279.0 209.0 278.8 243.5 278.5 244.8 277.5 246.8 277.5 304.5 281.2 308.5 280.8 313.2 280.5 313.5 280.5 320.0 280.2 320.2 280.2 329.8 280.0 330.0 280.0 336.5 279.8 336.8 279.8 357.0 280.0 357.2 280.0 363.2 282.0 363.2 282.0 347.2 282.2 347.0 284.8 347.0 284.8 339.8 285.0 339.5 296.5 339.5 296.5 206.0 284.5 206.0 284.2 205.8 284.2 197.5 281.8 197.5 281.5 197.2 281.5 190.0Z"/><path fill="#6fbfa4" fill-rule="evenodd" d="M279.5 190.0 279.8 206.0 279.2 208.0 279.2 216.5 279.0 216.8 279.0 238.8 278.8 239.0 278.8 244.8 277.8 246.8 277.8 304.5 281.5 308.5 281.0 313.0 280.8 313.2 280.8 317.0 280.5 317.2 280.5 326.5 280.2 326.8 280.0 338.8 279.8 339.0 279.8 355.2 280.0 355.5 280.0 363.2 282.0 363.2 282.0 347.2 282.2 347.0 284.8 347.0 284.8 339.8 285.0 339.5 296.5 339.5 296.5 206.0 284.5 206.0 284.2 205.8 284.2 197.5 281.8 197.5 281.5 197.2 281.5 190.0Z"/><path fill="#6fc1ab" fill-rule="evenodd" d="M279.5 190.0 279.8 206.5 279.2 208.2 279.0 244.8 278.0 247.0 278.0 304.5 281.8 308.5 281.2 311.0 281.2 313.0 281.0 313.2 281.0 315.5 280.8 315.8 280.8 324.0 280.5 324.2 280.5 328.8 280.2 329.0 280.2 333.2 280.0 333.5 280.0 340.8 279.8 341.0 279.8 353.5 280.0 353.8 280.0 363.2 282.0 363.2 282.0 347.2 282.2 347.0 284.8 347.0 284.8 339.8 285.0 339.5 296.5 339.5 296.5 206.0 284.5 206.0 284.2 205.8 284.2 197.5 281.8 197.5 281.5 197.2 281.5 190.0Z"/><path fill="#70c3b2" fill-rule="evenodd" d="M279.5 190.0 279.5 199.2 279.8 199.5 280.0 205.2 279.2 208.8 279.2 244.8 278.2 247.0 278.2 304.5 282.0 308.5 281.8 308.8 281.8 310.8 281.5 311.0 281.5 312.8 281.0 315.0 281.0 322.8 280.8 323.0 280.8 326.5 280.5 326.8 280.5 330.2 280.2 330.5 280.0 343.2 279.8 343.5 280.0 363.2 282.0 363.2 282.0 347.2 282.2 347.0 284.8 347.0 284.8 339.8 285.0 339.5 296.5 339.5 296.5 206.0 284.5 206.0 284.2 205.8 284.2 197.5 281.8 197.5 281.5 197.2 281.5 190.0Z"/><path fill="#71c4b9" fill-rule="evenodd" d="M279.5 190.0 279.5 198.2 279.8 198.5 279.8 202.8 280.0 203.0 280.0 205.8 279.5 208.0 279.5 241.0 279.8 241.2 279.8 244.2 278.8 246.5 278.8 304.8 282.0 308.2 281.8 311.8 281.2 313.8 281.0 325.2 280.8 325.5 280.5 332.5 280.2 332.8 280.2 336.0 280.0 336.2 280.0 345.5 279.8 345.8 280.0 363.2 282.0 363.2 282.0 347.2 282.2 347.0 284.8 347.0 284.8 339.8 285.0 339.5 296.5 339.5 296.5 206.0 284.5 206.0 284.2 205.8 284.2 197.5 281.8 197.5 281.5 197.2 281.5 190.0Z"/><path fill="#75c5bf" fill-rule="evenodd" d="M279.5 190.0 279.5 197.5 279.8 197.8 279.8 201.5 280.0 201.8 280.0 206.5 279.5 209.0 280.0 244.5 279.0 246.8 279.0 304.5 282.2 308.5 281.8 310.8 281.5 314.2 281.2 314.5 281.2 324.0 281.0 324.2 281.0 327.5 280.8 327.8 280.8 331.0 280.5 331.2 280.5 334.8 280.2 335.0 280.2 337.2 280.0 337.5 280.0 346.8 279.8 347.0 280.0 347.8 280.0 363.2 282.0 363.2 282.0 347.2 282.2 347.0 284.8 347.0 284.8 339.8 285.0 339.5 296.5 339.5 296.5 206.0 284.5 206.0 284.2 205.8 284.2 197.5 281.8 197.5 281.5 197.2 281.5 190.0Z"/><path fill="#79c5c5" fill-rule="evenodd" d="M279.8 190.0 279.8 200.5 280.0 200.8 280.0 204.5 280.2 204.8 280.0 207.5 279.8 207.8 279.8 225.5 280.0 225.8 280.0 234.8 280.2 235.0 280.2 244.8 279.2 247.0 279.2 304.5 282.2 308.2 282.2 309.8 281.5 313.5 281.5 322.8 281.2 323.0 280.8 333.0 280.5 333.2 280.2 338.5 280.0 338.8 280.0 363.2 282.0 363.2 282.0 347.2 282.2 347.0 284.8 347.0 284.8 339.8 285.0 339.5 296.5 339.5 296.5 206.0 284.5 206.0 284.2 205.8 284.2 197.5 281.8 197.5 281.5 197.2 281.5 190.0Z"/><path fill="#7dc6cb" fill-rule="evenodd" d="M279.8 190.0 279.8 199.8 280.0 200.0 280.0 203.5 280.2 203.8 280.0 213.8 279.8 214.0 279.8 221.2 280.0 221.5 280.2 234.5 280.5 234.8 280.5 244.8 279.8 246.5 279.8 304.8 282.5 308.5 281.8 313.8 281.5 314.0 281.5 325.0 281.2 325.2 281.0 331.8 280.8 332.0 280.8 334.8 280.2 336.2 280.2 340.0 280.0 340.2 280.0 363.2 282.0 363.2 282.0 347.2 282.2 347.0 284.8 347.0 284.8 339.8 285.0 339.5 296.5 339.5 296.5 206.0 284.5 206.0 284.2 205.8 284.2 197.5 281.8 197.5 281.5 197.2 281.5 190.0Z"/><path fill="#81c7d1" fill-rule="evenodd" d="M279.8 190.0 279.8 199.0 280.0 199.2 280.0 202.5 280.2 202.8 280.0 223.5 280.2 223.8 280.2 228.0 280.5 228.2 280.8 242.2 281.0 242.5 281.0 244.2 280.0 246.8 280.0 304.5 282.5 308.2 282.2 311.2 281.5 314.8 281.8 323.8 281.5 324.0 281.0 333.2 280.8 333.5 280.8 335.2 280.2 336.5 280.2 341.5 280.0 341.8 280.0 363.2 282.0 363.2 282.0 347.2 282.2 347.0 284.8 347.0 284.8 339.8 285.0 339.5 296.5 339.5 296.5 206.0 284.5 206.0 284.2 205.8 284.2 197.5 281.8 197.5 281.5 197.2 281.5 190.0Z"/><path fill="#85c7d7" fill-rule="evenodd" d="M279.8 190.0 279.8 198.5 280.0 198.8 280.0 201.8 280.2 202.0 280.2 204.8 280.5 205.0 280.2 205.2 280.0 220.5 280.2 220.8 280.2 225.0 280.5 225.2 280.8 234.0 281.0 234.2 281.0 240.8 281.2 241.0 281.2 244.5 280.2 247.0 280.2 304.5 282.8 308.5 281.8 313.8 281.8 321.5 282.0 322.2 281.8 322.5 281.5 329.2 281.2 329.5 281.0 334.8 280.2 337.2 280.0 363.0 280.2 363.2 282.0 363.2 282.0 347.2 282.2 347.0 284.8 347.0 284.8 339.8 285.0 339.5 296.5 339.5 296.5 206.0 284.5 206.0 284.2 205.8 284.2 197.5 281.8 197.5 281.5 197.2 281.5 190.0Z"/><path fill="#86c8dc" fill-rule="evenodd" d="M279.8 190.0 279.8 197.8 280.0 198.0 280.0 201.0 280.2 201.2 280.2 204.0 280.5 204.2 280.5 207.0 280.2 207.2 280.2 222.8 280.5 223.0 280.5 226.0 280.8 226.2 280.8 229.0 281.0 229.2 281.2 239.5 281.5 239.8 281.5 244.8 280.8 246.5 280.8 304.8 282.8 308.2 282.8 309.5 281.8 314.2 281.8 318.2 282.0 318.5 281.8 328.0 281.5 328.2 281.2 333.5 280.2 338.2 280.0 361.0 280.2 361.2 280.2 363.2 282.0 363.2 282.0 347.2 282.2 347.0 284.8 347.0 284.8 339.8 285.0 339.5 296.5 339.5 296.5 206.0 284.5 206.0 284.2 205.8 284.2 197.5 281.8 197.5 281.5 197.2 281.5 190.0Z"/><path fill="#7dc7df" fill-rule="evenodd" d="M279.8 190.0 279.8 197.5 280.0 197.8 280.0 200.5 280.2 200.8 280.2 203.2 280.5 203.5 280.2 221.2 280.5 221.5 280.5 224.5 280.8 224.8 281.0 230.2 281.2 230.5 281.5 240.5 281.8 240.8 281.8 244.8 281.0 246.5 281.0 304.8 283.0 308.5 281.8 314.5 282.2 322.8 282.0 323.0 282.0 326.2 281.8 326.5 281.2 334.5 280.5 336.2 280.5 338.8 280.2 339.0 280.0 359.8 280.2 360.0 280.2 363.2 282.0 363.2 282.0 347.2 282.2 347.0 284.8 347.0 284.8 339.8 285.0 339.5 296.5 339.5 296.5 206.0 284.5 206.0 284.2 205.8 284.2 197.5 281.8 197.5 281.5 197.2 281.5 190.0Z"/><path fill="#76c6e1" fill-rule="evenodd" d="M279.8 190.0 279.8 197.2 280.0 197.5 280.0 200.2 280.2 200.5 280.2 203.0 280.5 203.2 280.2 219.8 280.5 220.0 280.5 223.8 280.8 224.0 280.8 226.5 281.0 226.8 281.0 229.2 281.2 229.5 281.8 243.0 282.0 243.2 282.0 244.2 281.0 246.8 281.0 304.5 283.0 308.2 282.2 313.2 281.8 314.8 282.2 323.5 282.0 323.8 282.0 327.0 281.8 327.2 281.2 334.8 280.5 336.5 280.5 339.2 280.2 339.5 280.0 358.8 280.2 359.0 280.2 363.2 282.0 363.2 282.0 347.2 282.2 347.0 284.8 347.0 284.8 339.8 285.0 339.5 296.5 339.5 296.5 206.0 284.5 206.0 284.2 205.8 284.2 197.5 281.8 197.5 281.5 197.2 281.5 190.0Z"/><path fill="#6fc5e3" fill-rule="evenodd" d="M280.0 190.0 280.0 200.0 280.2 200.2 280.2 202.8 280.5 203.0 280.5 216.2 280.2 216.5 280.2 218.5 280.5 218.8 280.5 223.0 280.8 223.2 281.0 228.2 281.2 228.5 281.8 240.5 282.0 240.8 282.0 244.8 281.2 246.5 281.2 304.8 283.0 308.2 282.0 314.8 281.8 315.0 282.0 315.5 282.0 319.2 282.2 319.5 282.2 324.5 282.0 324.8 281.8 330.8 281.5 331.0 281.2 334.8 280.5 336.5 280.5 339.5 280.2 339.8 280.0 358.0 280.2 358.2 280.2 363.2 282.0 363.2 282.0 347.2 282.2 347.0 284.8 347.0 284.8 339.8 285.0 339.5 296.5 339.5 296.5 206.0 284.5 206.0 284.2 205.8 284.2 197.5 281.8 197.5 281.5 197.2 281.5 190.0Z"/><path fill="#68c4e5" fill-rule="evenodd" d="M280.0 190.0 280.0 199.8 280.2 200.0 280.2 202.5 280.5 202.8 280.5 222.2 280.8 222.5 280.8 224.8 281.0 225.0 281.0 227.2 281.2 227.5 281.2 229.8 281.5 230.0 282.0 243.0 282.2 243.2 282.2 244.5 281.2 246.8 281.2 304.5 283.0 308.0 283.0 309.5 282.0 313.8 282.0 318.5 282.2 318.8 282.0 328.5 281.8 328.8 281.5 333.8 281.0 335.8 280.5 336.5 280.5 340.0 280.2 340.2 280.0 357.2 280.2 357.5 280.2 363.2 282.0 363.2 282.0 347.2 282.2 347.0 284.8 347.0 284.8 339.8 285.0 339.5 296.5 339.5 296.5 206.0 284.5 206.0 284.2 205.8 284.2 197.5 281.8 197.5 281.5 197.2 281.5 190.0Z"/><path fill="#60c3e6" fill-rule="evenodd" d="M280.0 190.0 280.0 199.5 280.2 199.8 280.2 202.2 280.5 202.5 280.5 204.8 280.8 205.0 280.5 221.8 280.8 222.0 280.8 224.2 281.0 224.5 281.2 229.0 281.5 229.2 282.0 240.8 282.2 241.0 282.2 244.8 281.5 246.5 281.5 304.8 283.0 308.0 283.0 309.8 282.0 314.0 282.0 317.8 282.2 318.0 282.2 321.2 282.5 321.5 282.2 326.5 282.0 326.8 281.5 334.2 280.5 336.8 280.5 340.2 280.2 340.5 280.0 356.5 280.2 356.8 280.2 363.2 282.0 363.2 282.0 347.2 282.2 347.0 284.8 347.0 284.8 339.8 285.0 339.5 296.5 339.5 296.5 206.0 284.5 206.0 284.2 205.8 284.2 197.5 281.8 197.5 281.5 197.2 281.5 190.0Z"/><path fill="#59c3e8" fill-rule="evenodd" d="M280.0 190.0 280.0 199.2 280.2 199.5 280.5 204.5 280.8 204.8 280.5 220.0 280.8 220.2 280.8 223.2 281.0 223.5 281.0 225.8 281.2 226.0 281.2 228.2 281.5 228.5 281.5 230.8 281.8 231.0 281.8 235.2 282.0 235.5 282.2 244.0 282.5 244.2 281.5 246.8 281.5 304.8 283.2 308.5 282.0 314.2 282.5 323.5 282.2 323.8 282.2 327.0 282.0 327.2 281.5 334.5 280.5 337.5 280.2 345.5 280.0 345.8 280.0 354.8 280.2 355.0 280.2 363.2 282.0 363.2 282.0 347.2 282.2 347.0 284.8 347.0 284.8 339.8 285.0 339.5 296.5 339.5 296.5 206.0 284.5 206.0 284.2 205.8 284.2 197.5 281.8 197.5 281.5 197.2 281.5 190.0Z"/><path fill="#52c2ea" fill-rule="evenodd" d="M280.0 190.0 280.0 199.0 280.2 199.2 280.2 201.5 280.5 201.8 280.5 204.0 280.8 204.2 280.8 216.2 280.5 216.5 280.5 218.2 280.8 218.5 280.8 222.5 281.0 222.8 281.2 227.5 281.8 230.0 282.2 242.8 282.5 243.0 282.5 244.5 281.5 247.0 281.5 304.5 283.2 308.2 283.2 309.0 282.0 314.5 282.5 324.0 282.2 324.2 281.8 333.0 281.5 333.2 281.5 334.8 280.8 336.2 280.5 341.8 280.2 342.0 280.2 346.0 280.0 346.2 280.2 363.2 282.0 363.2 282.0 347.2 282.2 347.0 284.8 347.0 284.8 339.8 285.0 339.5 296.5 339.5 296.5 206.0 284.5 206.0 284.2 205.8 284.2 197.5 281.8 197.5 281.5 197.2 281.5 190.0Z"/><path fill="#4bc1ec" fill-rule="evenodd" d="M280.0 190.0 280.0 198.8 280.2 199.0 280.2 201.2 280.5 201.5 280.5 203.8 280.8 204.0 280.8 221.5 281.0 221.8 281.0 224.2 281.2 224.5 281.5 229.0 281.8 229.2 282.2 241.5 282.5 241.8 282.5 244.5 281.8 246.5 281.8 305.0 283.2 308.0 283.2 309.2 282.0 314.8 282.2 319.5 282.5 319.8 282.5 324.8 282.2 325.0 281.8 333.5 281.5 333.8 281.5 335.0 280.8 336.5 280.2 346.2 280.0 346.5 280.2 363.2 282.0 363.2 282.0 347.2 282.2 347.0 284.8 347.0 284.8 339.8 285.0 339.5 296.5 339.5 296.5 206.0 284.5 206.0 284.2 205.8 284.2 197.5 281.8 197.5 281.5 197.2 281.5 190.0Z"/><path fill="#44beed" fill-rule="evenodd" d="M280.0 190.0 280.0 198.5 280.2 198.8 280.2 201.0 280.5 201.2 280.5 203.5 280.8 203.8 280.8 220.0 281.0 220.2 281.0 223.2 281.2 223.5 281.2 225.8 281.5 226.0 281.5 228.2 281.8 228.5 282.2 240.2 282.5 240.5 282.5 244.8 281.8 246.5 281.8 304.8 283.2 308.0 283.2 309.5 282.0 315.0 282.2 315.8 282.2 319.0 282.5 319.2 282.5 325.5 282.2 325.8 281.8 334.0 280.8 337.0 280.2 346.8 280.0 347.0 280.0 349.8 280.2 350.0 280.2 363.2 282.0 363.2 282.0 347.2 282.2 347.0 284.8 347.0 284.8 339.8 285.0 339.5 296.5 339.5 296.5 206.0 284.5 206.0 284.2 205.8 284.2 197.5 281.8 197.5 281.5 197.2 281.5 190.0Z"/><path fill="#42b8eb" fill-rule="evenodd" d="M280.0 190.0 280.0 198.0 280.2 198.2 280.8 205.2 281.0 205.5 281.0 220.8 281.2 221.0 281.2 223.8 281.5 224.0 281.8 229.0 282.0 229.2 282.5 242.0 282.8 242.2 282.8 244.5 282.0 246.2 282.0 305.0 283.2 307.5 283.5 309.0 282.2 314.2 282.8 323.2 282.5 323.5 282.0 333.0 281.8 333.2 281.8 334.8 281.0 336.5 280.5 344.0 280.2 344.2 280.2 363.2 282.0 363.2 282.0 347.2 282.2 347.0 284.8 347.0 284.8 339.8 285.0 339.5 296.5 339.5 296.5 206.0 284.5 206.0 284.2 205.8 284.2 197.5 281.8 197.5 281.5 197.2 281.5 190.0Z"/><path fill="#41b2e8" fill-rule="evenodd" d="M280.0 190.0 280.0 197.8 280.2 198.0 280.5 202.0 281.0 204.2 281.2 221.2 281.5 221.5 281.5 224.0 281.8 224.2 281.8 226.8 282.0 227.0 282.0 229.5 282.2 229.8 282.8 243.5 283.0 243.8 282.0 247.0 282.0 304.5 283.8 308.5 282.2 314.8 282.5 319.5 282.8 319.8 282.5 329.0 282.2 329.2 282.0 334.5 281.2 336.2 281.0 339.2 280.8 339.5 280.8 342.2 280.5 342.5 280.5 345.0 280.2 345.2 280.2 363.2 282.0 363.2 282.0 347.2 282.2 347.0 284.8 347.0 284.8 339.8 285.0 339.5 296.5 339.5 296.5 206.0 284.5 206.0 284.2 205.8 284.2 197.5 281.8 197.5 281.5 197.2 281.5 190.0Z"/><path fill="#3fabe6" fill-rule="evenodd" d="M280.2 190.0 280.2 199.2 280.5 199.5 280.5 201.2 281.0 203.5 281.0 206.8 281.2 207.0 281.2 218.0 281.5 218.2 281.5 221.5 281.8 221.8 281.8 224.5 282.0 224.8 282.0 227.2 282.2 227.5 282.2 230.0 282.5 230.2 282.8 240.2 283.0 240.5 283.0 244.8 282.2 246.8 282.2 304.8 283.8 308.0 283.0 312.8 282.5 314.0 282.5 318.0 282.8 318.2 282.8 321.2 283.0 321.5 282.8 326.5 282.5 326.8 282.5 331.2 282.2 331.5 282.0 335.0 281.2 337.0 280.5 345.5 280.2 345.8 280.2 360.8 280.5 361.0 280.5 363.2 282.0 363.2 282.0 347.2 282.2 347.0 284.8 347.0 284.8 339.8 285.0 339.5 296.5 339.5 296.5 206.0 284.5 206.0 284.2 205.8 284.2 197.5 281.8 197.5 281.5 197.2 281.5 190.0Z"/><path fill="#3ea5e3" fill-rule="evenodd" d="M280.2 190.0 280.2 198.8 280.5 199.0 280.8 202.8 281.2 204.8 281.5 218.5 281.8 218.8 281.8 222.0 282.0 222.2 282.5 231.0 282.8 231.2 282.8 236.5 283.0 236.8 283.0 241.8 283.2 242.0 283.2 244.5 282.5 246.5 282.5 305.0 284.0 308.2 282.5 314.5 282.8 319.8 283.0 320.0 282.5 332.8 282.2 333.0 282.2 334.8 281.5 336.5 281.5 337.8 281.2 338.0 280.5 346.2 280.2 346.5 280.5 363.2 282.0 363.2 282.0 347.2 282.2 347.0 284.8 347.0 284.8 339.8 285.0 339.5 296.5 339.5 296.5 206.0 284.5 206.0 284.2 205.8 284.2 197.5 281.8 197.5 281.5 197.2 281.5 190.0Z"/><path fill="#3d9ee1" fill-rule="evenodd" d="M280.2 190.0 280.2 198.5 281.0 202.2 281.2 207.2 281.5 207.5 281.8 219.0 282.0 219.2 282.0 222.2 282.2 222.5 282.2 225.2 282.5 225.5 282.5 228.2 282.8 228.5 283.2 243.8 283.5 244.0 282.5 247.0 282.5 304.5 284.0 308.0 284.0 309.2 282.5 315.0 282.8 315.2 283.0 321.8 283.2 322.0 283.0 322.8 283.0 326.2 282.8 326.5 282.8 331.8 282.5 332.0 282.5 334.2 281.5 337.5 280.5 346.5 280.2 346.8 280.5 363.2 282.0 363.2 282.0 347.2 282.2 347.0 284.8 347.0 284.8 339.8 285.0 339.5 296.5 339.5 296.5 206.0 284.5 206.0 284.2 205.8 284.2 197.5 281.8 197.5 281.5 197.2 281.5 190.0Z"/><path fill="#3b98dd" fill-rule="evenodd" d="M280.2 190.0 280.2 198.0 280.5 198.2 281.2 205.2 281.5 205.5 281.8 216.0 282.0 216.2 282.0 219.8 282.2 220.0 282.5 226.0 282.8 226.2 282.8 229.0 283.0 229.2 283.2 240.0 283.5 240.2 283.5 244.8 282.8 246.8 282.8 304.8 284.2 308.2 282.8 314.5 283.0 320.2 283.2 320.5 282.8 333.2 281.5 338.2 280.5 347.0 280.2 347.2 280.2 348.5 280.5 348.8 280.5 363.2 282.0 363.2 282.0 347.2 282.2 347.0 284.8 347.0 284.8 339.8 285.0 339.5 296.5 339.5 296.5 206.0 284.5 206.0 284.2 205.8 284.2 197.5 281.8 197.5 281.5 197.2 281.5 190.0Z"/><path fill="#3a92d8" fill-rule="evenodd" d="M280.2 190.0 280.2 198.0 280.5 198.2 281.2 204.8 281.5 205.0 281.8 214.0 282.0 214.2 282.0 218.2 282.2 218.5 283.0 231.2 283.2 231.5 283.2 237.5 283.5 237.8 283.5 243.8 283.8 244.0 282.8 247.0 282.8 304.5 283.8 306.5 284.2 309.0 282.8 314.8 283.0 319.5 283.2 319.8 282.8 334.2 281.8 337.5 280.8 345.2 280.5 345.5 280.5 363.2 282.0 363.2 282.0 347.2 282.2 347.0 284.8 347.0 284.8 339.8 285.0 339.5 296.5 339.5 296.5 206.0 284.5 206.0 284.2 205.8 284.2 197.5 281.8 197.5 281.5 197.2 281.5 190.0Z"/><path fill="#398cd3" fill-rule="evenodd" d="M280.2 190.0 280.2 197.8 280.5 198.0 281.0 202.8 281.5 204.5 282.0 216.8 282.2 217.0 283.0 229.5 283.2 229.8 283.5 241.2 283.8 241.5 283.8 244.5 283.0 246.5 283.0 304.8 284.5 308.5 282.8 315.0 283.0 318.8 283.2 319.0 283.2 322.0 283.5 322.2 283.2 322.5 283.2 326.0 283.0 326.2 283.0 332.5 282.8 332.8 282.8 334.8 281.5 339.0 280.8 345.5 280.5 345.8 280.5 363.2 282.0 363.2 282.0 347.2 282.2 347.0 284.8 347.0 284.8 339.8 285.0 339.5 296.5 339.5 296.5 206.0 284.5 206.0 284.2 205.8 284.2 197.5 281.8 197.5 281.5 197.2 281.5 190.0Z"/><path fill="#3886cf" fill-rule="evenodd" d="M280.2 190.0 280.2 197.5 280.5 197.8 280.5 199.2 281.5 204.2 281.5 206.5 281.8 206.8 282.0 215.0 282.2 215.2 282.2 218.5 282.5 218.8 282.8 224.5 283.0 224.8 283.2 232.2 283.5 232.5 283.5 238.8 283.8 239.0 283.8 245.0 283.0 247.0 283.0 304.5 284.5 308.2 283.0 314.2 283.0 318.0 283.2 318.2 283.2 321.0 283.5 321.2 283.0 333.2 281.5 339.5 281.0 344.2 280.5 346.0 280.5 363.2 282.0 363.2 282.0 347.2 282.2 347.0 284.8 347.0 284.8 339.8 285.0 339.5 296.5 339.5 296.5 206.0 284.5 206.0 284.2 205.8 284.2 197.5 281.8 197.5 281.5 197.2 281.5 190.0Z"/><path fill="#3680ca" fill-rule="evenodd" d="M280.2 190.0 280.2 197.2 280.5 197.5 280.5 199.0 280.8 199.2 281.2 203.8 281.5 204.0 281.5 205.8 281.8 206.0 282.2 217.2 282.5 217.5 283.2 229.8 283.5 230.0 283.8 243.0 284.0 243.2 284.0 244.2 283.2 246.5 283.2 305.0 284.5 308.0 284.5 309.0 283.0 314.5 283.0 317.2 283.2 317.5 283.2 320.2 283.5 320.5 283.0 334.2 281.5 339.8 281.5 341.2 280.5 346.2 280.5 362.5 280.8 363.2 282.0 363.2 282.0 347.2 282.2 347.0 284.8 347.0 284.8 339.8 285.0 339.5 296.5 339.5 296.5 206.0 284.5 206.0 284.2 205.8 284.2 197.5 281.8 197.5 281.5 197.2 281.5 190.0Z"/><path fill="#357ac5" fill-rule="evenodd" d="M280.5 190.0 280.5 198.8 281.8 205.2 282.0 212.5 282.2 212.8 282.5 218.8 282.8 219.0 282.8 221.2 283.0 221.5 283.0 224.8 283.2 225.0 283.2 228.2 283.5 228.5 283.5 233.2 283.8 233.5 284.0 244.8 283.2 246.8 283.2 304.8 284.8 308.5 283.0 314.5 283.2 319.5 283.5 319.8 283.0 334.8 281.8 339.0 281.0 344.8 280.5 346.5 280.5 360.2 280.8 360.5 280.8 363.2 282.0 363.2 282.0 347.2 282.2 347.0 284.8 347.0 284.8 339.8 285.0 339.5 296.5 339.5 296.5 206.0 284.5 206.0 284.2 205.8 284.2 197.5 281.8 197.5 281.5 197.2 281.5 190.0Z"/><path fill="#3474c0" fill-rule="evenodd" d="M280.5 190.0 280.5 198.5 281.8 204.8 282.2 214.8 282.5 215.0 282.5 217.5 282.8 217.8 283.0 223.0 283.2 223.2 283.2 226.5 283.5 226.8 283.5 230.2 283.8 230.5 284.0 245.0 283.2 247.0 283.2 304.5 284.8 308.2 283.5 313.8 283.0 314.8 283.2 318.8 283.5 319.0 283.5 322.0 283.8 322.2 283.5 322.5 283.5 326.0 283.2 326.2 283.2 333.5 283.0 333.8 282.8 336.2 281.8 339.2 281.8 340.5 280.5 346.8 280.8 363.2 282.0 363.2 282.0 347.2 282.2 347.0 284.8 347.0 284.8 339.8 285.0 339.5 296.5 339.5 296.5 206.0 284.5 206.0 284.2 205.8 284.2 197.5 281.8 197.5 281.5 197.2 281.5 190.0Z"/><path fill="#336ebc" fill-rule="evenodd" d="M280.5 190.0 280.5 198.5 281.0 200.0 281.0 201.2 281.8 204.5 281.8 206.5 282.0 206.8 282.2 213.5 282.5 213.8 282.5 216.2 282.8 216.5 282.8 218.8 283.0 219.0 283.0 221.2 283.2 221.5 283.2 224.8 283.5 225.0 283.8 234.5 284.0 234.8 284.0 242.0 284.2 242.2 284.2 244.5 283.5 246.5 283.5 304.8 284.8 308.0 284.8 309.0 283.0 315.0 283.2 315.2 283.5 321.2 283.8 321.5 283.2 334.5 281.8 339.5 281.2 343.8 280.5 346.8 280.8 363.2 282.0 363.2 282.0 347.2 282.2 347.0 284.8 347.0 284.8 339.8 285.0 339.5 296.5 339.5 296.5 206.0 284.5 206.0 284.2 205.8 284.2 197.5 281.8 197.5 281.5 197.2 281.5 190.0Z"/><path fill="#3268b7" fill-rule="evenodd" d="M280.5 190.0 280.5 198.2 282.0 206.2 282.2 212.5 282.5 212.8 282.5 215.2 282.8 215.5 282.8 217.8 283.2 220.2 283.8 231.2 284.0 231.5 284.2 244.8 283.5 247.0 283.5 304.5 285.0 308.5 283.2 314.2 283.2 317.2 283.5 317.5 283.5 320.5 283.8 320.8 283.2 335.0 281.8 340.0 281.8 341.2 280.5 347.0 280.8 363.2 282.0 363.2 282.0 347.2 282.2 347.0 284.8 347.0 284.8 339.8 285.0 339.5 296.5 339.5 296.5 206.0 284.5 206.0 284.2 205.8 284.2 197.5 281.8 197.5 281.5 197.2 281.5 190.0Z"/><path fill="#3163b2" fill-rule="evenodd" d="M280.5 190.0 280.5 198.0 282.0 205.5 282.5 214.2 282.8 214.5 282.8 216.8 283.0 217.0 283.0 219.0 283.5 221.5 283.8 229.0 284.0 229.2 284.0 236.0 284.2 236.2 284.2 244.0 284.5 244.2 283.8 246.2 283.8 305.0 285.0 308.8 283.2 314.5 283.5 319.8 283.8 320.0 283.5 333.5 282.8 337.2 281.8 340.2 281.2 344.2 280.5 347.0 280.8 363.2 282.0 363.2 282.0 347.2 282.2 347.0 284.8 347.0 284.8 339.8 285.0 339.5 296.5 339.5 296.5 206.0 284.5 206.0 284.2 205.8 284.2 197.5 281.8 197.5 281.5 197.2 281.5 190.0Z"/><path fill="#2f5dad" fill-rule="evenodd" d="M280.5 190.0 280.5 198.0 282.0 205.0 282.5 213.5 282.8 213.8 282.8 215.8 283.0 216.0 283.0 218.0 283.5 220.5 283.5 223.0 283.8 223.2 284.0 232.5 284.2 232.8 284.2 241.0 284.5 241.2 284.5 244.5 283.8 246.8 283.8 304.8 285.0 308.0 285.0 309.0 283.2 314.8 283.8 322.0 284.0 322.2 283.8 322.5 283.8 326.0 283.5 326.2 283.5 328.2 283.8 328.5 283.5 334.5 282.0 339.5 281.2 344.5 280.5 347.2 280.5 348.5 280.8 348.8 280.8 363.2 282.0 363.2 282.0 347.2 282.2 347.0 284.8 347.0 284.8 339.8 285.0 339.5 296.5 339.5 296.5 206.0 284.5 206.0 284.2 205.8 284.2 197.5 281.8 197.5 281.5 197.2 281.5 190.0Z"/><path fill="#2e58a8" fill-rule="evenodd" d="M280.5 190.0 280.5 197.8 282.2 206.0 282.5 211.8 282.8 212.0 282.8 214.2 283.0 214.5 283.8 222.5 284.0 222.8 284.0 226.5 284.2 226.8 284.2 230.2 284.5 230.5 284.8 245.0 284.2 246.2 284.2 305.0 285.5 308.5 283.8 314.2 283.8 318.0 284.0 318.2 284.0 321.2 284.2 321.5 284.0 326.2 283.8 326.5 284.0 327.5 283.8 334.2 283.2 336.5 282.2 339.0 280.8 346.2 280.8 363.2 282.0 363.2 282.0 347.2 282.2 347.0 284.8 347.0 284.8 339.8 285.0 339.5 296.5 339.5 296.5 206.0 284.5 206.0 284.2 205.8 284.2 197.5 281.8 197.5 281.5 197.2 281.5 190.0Z"/><path fill="#2d53a3" fill-rule="evenodd" d="M280.5 190.0 280.5 197.5 282.2 205.0 282.8 213.0 283.0 213.2 284.0 222.2 284.2 222.5 284.2 225.8 284.5 226.0 284.5 229.0 284.8 229.2 284.8 234.8 285.0 235.0 285.0 242.2 285.2 242.5 285.2 244.5 284.5 247.0 284.5 304.5 285.8 308.0 285.8 309.0 284.0 314.8 284.2 319.5 284.5 319.8 284.2 332.2 284.0 332.5 283.8 335.2 282.2 339.5 281.5 344.0 280.8 346.5 280.8 362.8 281.0 363.2 282.0 363.2 282.0 347.2 282.2 347.0 284.8 347.0 284.8 339.8 285.0 339.5 296.5 339.5 296.5 206.0 284.5 206.0 284.2 205.8 284.2 197.5 281.8 197.5 281.5 197.2 281.5 190.0Z"/><path fill="#2d4f9f" fill-rule="evenodd" d="M280.5 190.0 280.5 197.2 282.5 206.0 282.8 211.5 283.0 211.8 283.0 213.8 283.2 214.0 283.5 217.0 284.2 220.5 284.2 222.2 284.5 222.5 285.0 232.0 285.2 232.2 285.5 245.2 285.0 246.5 285.0 304.8 286.2 308.2 284.5 314.5 284.8 321.5 285.0 321.8 284.8 324.8 284.5 325.0 284.5 332.5 283.5 336.8 282.5 339.0 281.2 345.5 280.8 346.8 281.0 363.2 282.0 363.2 282.0 347.2 282.2 347.0 284.8 347.0 284.8 339.8 285.0 339.5 296.5 339.5 296.5 206.0 284.5 206.0 284.2 205.8 284.2 197.5 281.8 197.5 281.5 197.2 281.5 190.0Z"/><path fill="#2c4b9b" fill-rule="evenodd" d="M280.8 190.0 280.8 198.2 282.5 204.8 283.0 212.5 283.2 212.8 283.2 214.2 284.8 222.2 285.0 227.5 285.2 227.8 285.2 230.0 285.5 230.2 285.8 242.2 286.0 242.5 286.0 244.5 285.5 246.2 285.5 305.0 286.5 308.0 286.5 309.0 285.0 314.2 285.0 319.5 285.2 319.8 285.2 323.2 284.8 325.8 285.0 331.2 284.2 335.0 282.5 339.5 281.2 345.8 280.8 347.0 281.0 363.2 282.0 363.2 282.0 347.2 282.2 347.0 284.8 347.0 284.8 339.8 285.0 339.5 296.5 339.5 296.5 206.0 284.5 206.0 284.2 205.8 284.2 197.5 281.8 197.5 281.5 197.2 281.5 190.0Z"/><path fill="#2c4a9a" fill-rule="evenodd" d="M280.8 190.0 280.8 197.8 283.0 205.0 283.0 209.5 283.2 209.8 283.8 214.2 284.2 215.5 285.5 221.8 286.0 227.5 286.5 229.8 286.5 233.2 286.8 233.5 286.8 238.2 287.0 238.5 287.0 243.2 287.2 243.5 287.0 246.5 286.8 246.8 286.8 304.5 287.8 308.0 287.8 309.0 286.2 314.5 286.2 321.5 286.5 322.2 285.8 325.8 286.0 331.2 285.0 334.0 285.0 334.8 282.8 339.8 281.0 346.8 281.0 363.2 282.0 363.2 282.0 347.2 282.2 347.0 284.8 347.0 284.8 339.8 285.0 339.5 296.5 339.5 296.5 206.0 284.5 206.0 284.2 205.8 284.2 197.5 281.8 197.5 281.5 197.2 281.5 190.0Z"/><path fill="#2c4999" fill-rule="evenodd" d="M280.8 190.0 280.8 197.2 283.2 204.5 283.5 210.2 283.8 210.5 284.0 213.2 284.5 214.2 286.0 220.2 286.8 224.2 286.8 225.8 287.0 226.0 287.0 227.5 287.5 229.2 287.5 231.2 287.8 231.5 287.8 235.5 288.0 235.8 288.0 239.8 288.2 240.0 288.2 244.0 288.5 244.2 288.2 244.8 288.2 305.2 289.0 308.0 288.0 313.5 287.5 314.8 287.5 322.8 286.8 325.8 287.0 331.2 285.8 334.5 283.2 339.5 281.0 347.2 281.0 349.2 281.2 349.5 281.2 363.2 282.0 363.2 282.0 347.2 282.2 347.0 284.8 347.0 284.8 339.8 285.0 339.5 296.5 339.5 296.5 206.0 284.5 206.0 284.2 205.8 284.2 197.5 281.8 197.5 281.5 197.2 281.5 190.0Z"/><path fill="#2c4898" fill-rule="evenodd" d="M281.0 190.0 281.0 197.8 283.8 204.8 283.8 209.8 284.2 211.0 284.5 213.2 285.2 215.0 287.2 222.2 287.5 224.8 288.8 230.5 288.8 233.8 289.0 234.0 289.0 237.2 289.2 237.5 289.2 240.8 289.5 241.0 289.5 304.5 290.2 308.0 288.8 315.8 288.8 322.2 287.8 325.8 288.0 331.2 283.5 339.8 281.2 347.0 281.2 358.5 281.5 358.8 281.5 363.2 282.0 363.2 282.0 347.2 282.2 347.0 284.8 347.0 284.8 339.8 285.0 339.5 296.5 339.5 296.5 206.0 284.5 206.0 284.2 205.8 284.2 197.5 281.8 197.5 281.5 197.2 281.5 190.0Z"/><path fill="#374899" fill-rule="evenodd" d="M281.0 190.0 281.0 197.5 284.2 205.0 284.2 206.5 284.0 206.8 284.2 210.5 285.0 213.5 287.8 221.2 289.8 230.8 289.8 233.8 290.0 234.0 290.0 237.0 290.2 237.2 290.2 240.2 290.5 240.5 290.5 243.5 290.8 243.8 290.8 304.8 291.2 307.2 291.2 309.2 290.0 314.8 289.8 322.2 288.5 326.2 289.0 331.0 284.0 339.2 282.2 345.0 281.5 346.5 281.5 363.2 282.0 363.2 282.0 347.2 282.2 347.0 284.8 347.0 284.8 339.8 285.0 339.5 296.5 339.5 296.5 206.0 284.5 206.0 284.2 205.8 284.2 197.5 281.8 197.5 281.5 197.2 281.5 190.0Z"/><path fill="#3f499a" fill-rule="evenodd" d="M281.0 190.0 281.0 197.5 284.2 204.8 284.0 209.2 284.8 211.5 284.8 212.5 288.0 221.8 288.2 224.0 289.8 230.2 289.8 232.2 290.0 232.5 290.0 235.5 290.2 235.8 290.2 238.8 290.5 239.0 290.8 245.2 291.0 245.5 291.0 306.0 291.5 308.2 290.2 314.2 289.8 322.8 288.8 325.8 289.0 331.2 287.0 334.8 285.8 336.2 283.8 340.0 281.5 346.8 281.5 363.2 282.0 363.2 282.0 347.2 282.2 347.0 284.8 347.0 284.8 339.8 285.0 339.5 296.5 339.5 296.5 206.0 284.5 206.0 284.2 205.8 284.2 197.5 281.8 197.5 281.5 197.2 281.5 190.0Z"/><path fill="#46499b" fill-rule="evenodd" d="M281.0 190.0 281.0 197.5 284.2 204.8 284.0 209.0 284.5 210.2 285.0 213.2 288.0 221.5 290.0 231.2 290.2 237.2 290.5 237.5 290.8 243.5 291.0 243.8 291.0 304.5 291.2 304.8 291.2 307.0 291.5 307.2 291.5 309.2 290.2 315.0 290.0 322.2 288.8 326.0 289.2 331.0 284.0 339.5 281.5 346.8 281.5 363.2 282.0 363.2 282.0 347.2 282.2 347.0 284.8 347.0 284.8 339.8 285.0 339.5 296.5 339.5 296.5 206.0 284.5 206.0 284.2 205.8 284.2 197.5 281.8 197.5 281.5 197.2 281.5 190.0Z"/><path fill="#4e499c" fill-rule="evenodd" d="M281.0 190.0 281.0 197.5 284.2 204.8 284.2 208.8 284.0 209.0 285.0 213.0 288.0 221.2 289.5 229.0 290.0 230.2 291.0 245.2 291.2 245.5 291.2 305.8 291.8 308.2 290.5 314.2 290.0 322.5 288.8 326.5 289.2 331.2 284.0 339.5 281.5 346.8 281.5 363.2 282.0 363.2 282.0 347.2 282.2 347.0 284.8 347.0 284.8 339.8 285.0 339.5 296.5 339.5 296.5 206.0 284.5 206.0 284.2 205.8 284.2 197.5 281.8 197.5 281.5 197.2 281.5 190.0Z"/><path fill="#55499d" fill-rule="evenodd" d="M284.2 205.2 284.2 209.8 285.0 212.8 288.2 221.8 289.0 226.2 290.0 229.8 291.0 243.5 291.2 243.8 291.2 246.8 291.5 247.0 291.5 307.0 291.8 307.2 291.8 309.0 290.5 315.0 290.2 322.0 289.0 326.0 289.2 331.2 284.8 338.2 283.8 340.2 282.5 344.5 281.5 346.8 281.5 363.2 282.0 363.2 282.0 347.2 282.2 347.0 284.8 347.0 284.8 339.8 285.0 339.5 296.5 339.5 296.5 206.0 284.5 206.0ZM281.0 190.0 281.0 197.5 284.2 204.8 284.2 197.5 281.8 197.5 281.5 197.2 281.5 190.0Z"/><path fill="#5c4a9e" fill-rule="evenodd" d="M296.5 206.0 284.2 206.0 284.2 209.8 285.5 214.2 286.0 215.0 288.2 221.5 290.2 230.5 291.0 242.2 291.2 242.5 291.2 245.2 291.5 245.5 291.5 305.5 291.8 305.8 291.8 308.0 292.0 308.5 290.8 314.2 290.2 322.5 289.0 326.2 289.5 331.2 284.5 338.8 282.0 346.0 281.5 346.8 281.5 362.5 281.8 363.2 282.0 363.2 282.0 347.2 282.2 347.0 284.8 347.0 284.8 339.8 285.0 339.5 296.5 339.5ZM281.0 190.0 281.0 197.2 284.2 204.8 284.2 197.5 281.8 197.5 281.5 197.2 281.5 190.0Z"/><path fill="#644a9f" fill-rule="evenodd" d="M296.5 206.0 284.5 206.0 284.2 206.8 284.2 209.5 285.0 212.5 288.2 221.2 289.8 228.8 290.2 230.0 291.2 243.8 291.5 244.0 291.5 246.5 291.8 246.8 291.8 306.8 292.0 307.0 292.0 309.0 290.8 315.2 290.5 321.8 289.0 326.8 289.2 327.0 289.5 331.2 284.2 339.2 281.5 347.0 281.5 361.2 281.8 361.5 281.8 363.2 282.0 363.2 282.0 347.2 282.2 347.0 284.8 347.0 284.8 339.8 285.0 339.5 296.5 339.5ZM281.0 190.0 281.0 197.2 284.2 204.8 284.2 197.5 281.8 197.5 281.5 197.2 281.5 190.0Z"/><path fill="#6b4aa0" fill-rule="evenodd" d="M296.5 206.0 284.5 206.0 284.2 207.2 284.2 209.5 284.8 210.5 285.5 214.0 286.5 216.0 288.5 221.8 288.5 222.8 290.5 230.8 291.2 242.2 291.5 242.5 291.5 245.0 291.8 245.2 291.8 305.5 292.0 305.8 292.0 309.8 291.0 314.5 290.5 322.2 289.2 326.0 289.2 328.2 289.5 328.5 289.8 331.0 285.0 338.0 283.5 341.2 281.5 347.0 281.8 363.2 282.0 363.2 282.0 347.2 282.2 347.0 284.8 347.0 284.8 339.8 285.0 339.5 296.5 339.5ZM281.0 190.0 281.0 197.2 284.2 204.5 284.2 197.5 281.8 197.5 281.5 197.2 281.5 190.0Z"/><path fill="#724ba0" fill-rule="evenodd" d="M296.5 206.0 284.5 206.0 284.5 207.5 284.2 207.8 284.2 209.2 285.0 212.2 288.5 221.5 289.5 226.8 290.2 229.0 290.5 232.0 290.8 232.2 291.2 240.8 291.5 241.0 291.5 243.8 291.8 244.0 291.8 246.2 292.0 246.5 292.0 306.8 292.2 307.0 292.2 309.0 291.0 315.2 290.8 321.5 289.2 326.5 289.8 331.2 284.8 338.5 281.5 347.0 281.8 363.2 282.0 363.2 282.0 347.2 282.2 347.0 284.8 347.0 284.8 339.8 285.0 339.5 296.5 339.5ZM281.0 190.0 281.0 197.2 284.2 204.5 284.2 197.5 281.8 197.5 281.5 197.2 281.5 190.0Z"/><path fill="#7a4ca0" fill-rule="evenodd" d="M296.5 206.0 284.5 206.0 284.5 208.0 284.2 208.2 285.2 213.0 287.0 217.0 288.8 222.2 290.0 228.5 290.5 229.8 291.0 236.5 291.2 236.8 291.2 239.5 291.5 239.8 291.5 242.5 291.8 242.8 291.8 245.0 292.0 245.2 292.0 305.0 292.2 305.2 292.2 309.8 291.2 314.5 290.8 322.2 289.5 326.0 289.5 328.5 290.0 331.0 284.5 339.0 281.5 347.0 281.8 363.2 282.0 363.2 282.0 347.2 282.2 347.0 284.8 347.0 284.8 339.8 285.0 339.5 296.5 339.5ZM281.0 190.0 281.0 197.2 284.2 204.2 284.2 197.5 281.8 197.5 281.5 197.2 281.5 190.0Z"/><path fill="#814ca0" fill-rule="evenodd" d="M296.5 206.0 284.5 206.0 284.5 209.2 285.2 212.2 289.0 222.5 289.8 226.8 290.8 230.2 291.5 240.8 291.8 241.0 291.8 243.8 292.0 244.0 292.0 246.2 292.2 246.5 292.2 306.8 292.5 307.0 292.5 309.0 292.2 309.2 292.2 310.5 291.5 313.8 291.5 315.5 291.2 315.8 291.0 321.5 289.5 326.5 290.0 331.2 285.0 338.5 281.5 347.0 281.8 363.2 282.0 363.2 282.0 347.2 282.2 347.0 284.8 347.0 284.8 339.8 285.0 339.5 296.5 339.5ZM281.2 190.0 281.2 197.8 284.2 204.2 284.2 197.5 281.8 197.5 281.5 197.2 281.5 190.0Z"/><path fill="#894da0" fill-rule="evenodd" d="M296.5 206.0 284.8 206.0 284.8 209.0 285.8 213.0 289.0 221.8 290.5 229.2 291.0 230.5 291.8 242.2 292.0 242.5 292.0 245.0 292.2 245.2 292.2 305.0 292.5 305.2 292.5 309.8 291.5 314.8 291.0 322.5 289.8 326.2 290.2 331.0 284.8 339.5 281.5 347.2 281.8 363.2 282.0 363.2 282.0 347.2 282.2 347.0 284.8 347.0 284.8 339.8 285.0 339.5 296.5 339.5ZM281.2 190.0 281.2 197.8 284.2 204.2 284.2 197.5 281.8 197.5 281.5 197.2 281.5 190.0Z"/><path fill="#904ea0" fill-rule="evenodd" d="M284.8 340.2 281.5 347.2 281.8 363.2 282.0 363.2 282.0 347.2 282.2 347.0 284.8 347.0ZM284.8 206.0 285.0 208.5 286.0 212.8 289.2 221.8 290.5 228.5 291.0 229.8 292.0 243.5 292.2 243.8 292.2 246.0 292.5 246.2 292.5 306.8 292.8 307.0 292.8 309.0 292.5 309.2 292.2 312.2 291.8 314.0 291.8 316.0 291.5 316.2 291.2 322.2 290.0 326.0 290.0 328.2 290.2 328.5 290.2 330.8 290.5 331.0 286.8 336.5 285.2 339.5 296.5 339.5 296.5 206.0ZM281.2 190.0 281.2 197.5 284.2 204.0 284.2 197.5 281.8 197.5 281.5 197.2 281.5 190.0Z"/><path fill="#974ea0" fill-rule="evenodd" d="M284.8 340.8 281.5 347.2 281.5 349.5 281.8 349.8 281.8 363.2 282.0 363.2 282.0 347.2 282.2 347.0 284.8 347.0ZM285.0 206.0 286.5 213.5 287.2 215.0 289.5 222.0 290.2 226.5 291.2 230.2 292.0 242.0 292.2 242.2 292.2 244.8 292.5 245.0 292.5 305.2 292.8 305.5 292.8 309.8 291.8 315.0 291.5 321.2 290.2 325.8 290.5 331.2 288.8 334.2 287.0 336.5 285.5 339.5 296.5 339.5 296.5 206.0ZM281.2 190.0 281.2 197.5 284.2 204.0 284.2 197.5 281.8 197.5 281.5 197.2 281.5 190.0Z"/><path fill="#9f4fa0" fill-rule="evenodd" d="M284.8 341.2 281.5 347.2 281.8 348.0 281.8 363.2 282.0 363.2 282.0 347.2 282.2 347.0 284.8 347.0ZM285.0 206.0 286.5 211.5 286.5 212.5 289.8 222.0 291.0 229.2 291.5 230.5 292.2 243.2 292.5 243.5 292.5 246.0 292.8 246.2 292.8 307.0 293.0 307.2 293.0 309.0 292.0 314.2 291.5 322.5 290.2 326.5 290.8 331.2 285.8 339.5 296.5 339.5 296.5 206.0ZM281.2 190.0 281.2 197.5 284.2 204.0 284.2 197.5 281.8 197.5 281.5 197.2 281.5 190.0Z"/><path fill="#a84f9f" fill-rule="evenodd" d="M284.8 341.8 281.8 347.0 281.8 363.2 282.0 363.2 282.0 347.2 282.2 347.0 284.8 347.0ZM285.2 206.0 286.2 209.0 287.0 213.2 289.8 221.2 291.5 229.8 292.5 244.8 292.8 245.0 292.8 305.2 293.0 305.5 293.0 309.8 292.8 310.0 292.8 311.5 292.0 315.2 291.8 322.0 290.5 326.2 291.0 331.0 289.2 334.2 287.8 336.2 286.2 339.5 296.5 339.5 296.5 206.0ZM281.2 190.0 281.2 197.2 284.2 203.8 284.2 197.5 281.8 197.5 281.5 197.2 281.5 190.0Z"/><path fill="#a84b9b" fill-rule="evenodd" d="M284.8 344.2 281.8 347.2 282.0 363.2 282.0 347.2 282.2 347.0 284.8 347.0ZM286.2 206.0 289.5 209.5 290.2 214.8 291.2 218.0 292.2 223.2 293.0 230.0 293.2 230.2 293.8 243.8 294.0 244.0 294.0 305.5 294.2 305.8 294.2 309.5 294.0 309.8 294.0 312.0 293.8 312.2 293.8 314.5 293.5 314.8 293.2 322.8 292.5 325.8 292.8 331.2 289.2 339.5 296.5 339.5 296.5 206.0ZM281.2 190.0 281.2 197.0 281.8 197.5 284.2 203.0 284.2 197.5 281.8 197.5 281.5 197.2 281.5 190.0Z"/><path fill="#a84898" fill-rule="evenodd" d="M284.8 345.2 282.0 347.2 282.0 355.2 282.0 347.2 282.2 347.0 284.8 347.0ZM287.2 206.0 292.5 209.0 293.0 214.5 293.2 214.8 293.8 220.2 294.0 220.5 294.0 222.5 294.2 222.8 294.5 228.5 294.8 228.8 295.0 241.0 295.2 241.2 295.2 306.2 295.5 306.5 295.5 309.2 295.2 309.5 295.2 313.5 295.0 313.8 294.8 324.0 294.2 326.5 294.5 327.2 294.5 331.8 293.0 336.8 292.5 339.5 296.5 339.5 296.5 206.0ZM282.2 197.5 284.2 202.2 284.2 197.5Z"/><path fill="#a34393" fill-rule="evenodd" d="M284.8 345.8 282.5 347.0 284.8 347.0ZM288.2 206.0 294.0 208.2 295.5 209.2 295.5 215.0 295.8 215.2 296.0 227.0 296.2 227.2 296.2 242.2 296.5 242.5 296.5 312.8 296.2 313.0 296.2 325.0 296.0 325.2 296.0 330.2 296.2 331.0 296.0 331.2 296.0 333.8 295.8 334.0 295.5 339.2 295.2 339.5 296.5 339.5 296.5 206.0ZM282.5 197.5 284.2 201.5 284.2 197.5Z"/><path fill="#a14191" fill-rule="evenodd" d="M284.8 346.0 282.8 347.0 284.8 347.0ZM288.8 206.0 296.5 208.8 296.5 206.0ZM282.8 197.5 284.2 201.2 284.2 197.5Z"/><path d="M278.4 363.2 278.3 362.2 278.3 361.2 278.3 360.2 278.3 359.2 278.3 358.2 278.3 357.2 278.3 356.2 278.3 355.2 278.3 354.2 278.3 353.2 278.3 352.2 278.2 351.5 278.2 350.5 278.2 349.5 278.2 348.5 278.2 347.5 278.0 346.5 277.8 345.8 277.6 345.0 277.4 344.2 277.1 343.5 276.9 342.8 276.7 342.0 276.5 341.2 276.2 340.4 276.0 339.5 275.8 338.8 275.5 338.0 275.3 337.2 275.0 336.5 275.0 335.8 274.9 334.8 274.7 334.0 274.5 333.0 274.3 332.2 274.1 331.5 273.8 330.8 273.3 330.2 272.8 329.8 272.4 329.2 271.9 328.8 271.5 328.2 271.0 327.7 270.5 327.2 270.0 326.6 269.5 326.1 269.0 325.7 268.5 325.2 268.0 324.8 267.5 324.2 266.9 323.8 266.4 323.2 265.8 322.8 265.3 322.2 265.1 321.5 264.9 320.8 264.7 320.0 264.5 319.2 264.3 318.2 264.1 317.5 263.9 316.8 263.7 316.0 263.5 315.0 263.5 314.0 263.5 313.0 263.6 312.0 263.6 311.0 263.6 310.0 263.6 309.0 263.4 308.2 262.9 307.8 262.4 307.2 261.8 306.8 261.3 306.2 260.8 305.8 260.5 305.2 260.1 304.5 260.1 303.5 260.1 302.5 260.1 301.5 260.1 300.5 260.1 299.5 260.1 298.5 260.1 297.5 260.1 296.5 260.1 295.5 260.1 294.5 260.1 293.5 260.1 292.5 260.1 291.5 260.1 290.5 260.1 289.5 260.1 288.5 260.1 287.5 260.1 286.5 260.1 285.5 260.1 284.5 260.1 283.5 260.1 282.5 260.1 281.5 260.1 280.5 260.1 279.5 260.1 278.5 260.1 277.5 260.1 276.5 260.1 275.5 260.1 274.5 260.1 273.5 260.1 272.5 260.1 271.5 260.1 270.5 260.1 269.5 260.1 268.5 260.1 267.5 260.1 266.5 260.1 265.5 260.1 264.5 260.1 263.5 260.1 262.5 260.1 261.5 260.1 260.5 260.1 259.5 260.1 258.5 260.1 257.5 260.1 256.5 260.1 255.5 260.1 254.5 260.1 253.5 260.1 252.5 260.1 251.5 260.1 250.5 260.1 249.5 260.1 248.5 260.1 247.5 260.3 246.8 260.8 246.1 261.2 245.5 261.5 245.0 262.0 244.3 262.1 243.5 262.2 242.5 262.2 241.7 262.4 240.8 262.4 239.8 262.5 239.0 262.6 238.0 262.7 237.0 262.8 236.2 262.9 235.2 263.0 234.2 263.0 233.5 263.1 232.5 263.2 231.5 263.3 230.8 263.5 230.0 263.8 229.2 264.0 228.5 264.3 227.8 264.5 227.0 264.8 226.2 265.1 225.5 265.3 224.8 265.6 224.0 265.8 223.2 266.1 222.5 266.4 221.8 266.8 221.2 267.2 220.7 267.8 220.0 268.2 219.5 268.5 219.0 269.0 218.4 269.5 217.8 269.9 217.2 270.2 216.7 270.8 216.0 271.1 215.5 271.5 215.0 272.0 214.3 272.4 213.8 272.8 213.2 273.1 212.5 273.4 211.8 273.7 211.0 274.0 210.2 274.2 209.6 274.5 209.0 274.8 208.2 275.0 207.5 275.2 206.7 275.5 205.9 275.8 205.2 276.0 204.2 276.1 203.5 276.3 202.8 276.5 201.9 276.7 201.0 276.9 200.2 277.0 199.5 277.2 198.5 277.4 197.8 277.9 197.2 278.0 196.5 278.0 195.5 278.0 194.5 278.0 193.5 278.0 192.5 278.0 191.5 278.0 190.5" fill="none" stroke="#6e6e50" stroke-width="0.7" stroke-opacity="0.8"/><path d="M278.9 363.2 278.9 362.2 278.8 361.2 278.8 360.2 278.8 359.2 278.8 358.2 278.8 357.2 278.8 356.2 278.8 355.2 278.8 354.2 278.8 353.2 278.8 352.2 278.7 351.5 278.7 350.5 278.7 349.5 278.7 348.5 278.7 347.5 278.6 346.5 278.5 345.8 278.3 344.8 278.2 344.0 278.1 343.0 278.0 342.2 277.8 341.2 277.7 340.5 277.6 339.5 277.5 338.8 277.3 337.8 277.2 337.0 277.0 336.0 276.9 335.2 276.8 334.2 276.8 333.4 276.6 332.5 276.5 331.5 276.3 330.8 276.0 330.0 275.8 329.4 275.4 328.8 275.1 328.0 274.8 327.2 274.5 326.7 274.0 326.0 273.6 325.5 273.2 325.0 272.8 324.4 272.2 323.8 271.8 323.2 271.4 322.8 271.0 322.1 270.8 321.2 270.8 320.4 270.6 319.5 270.5 318.6 270.4 317.8 270.2 316.8 270.1 316.0 270.0 315.0 270.0 314.2 269.9 313.2 269.9 312.2 269.9 311.2 269.8 310.2 269.8 309.2 269.8 308.5 269.2 308.0 268.5 307.6 268.0 307.2 267.2 306.8 266.8 306.5 266.0 306.0 265.6 305.5 265.2 305.0 264.8 304.2 264.8 303.2 264.8 302.2 264.8 301.2 264.8 300.2 264.8 299.2 264.8 298.2 264.8 297.2 264.8 296.2 264.8 295.2 264.8 294.2 264.8 293.2 264.8 292.2 264.8 291.2 264.8 290.2 264.8 289.2 264.8 288.2 264.8 287.2 264.8 286.2 264.8 285.2 264.8 284.2 264.8 283.2 264.8 282.2 264.8 281.2 264.8 280.2 264.8 279.2 264.8 278.2 264.8 277.2 264.8 276.2 264.8 275.2 264.8 274.2 264.8 273.2 264.8 272.2 264.8 271.2 264.8 270.2 264.8 269.2 264.8 268.2 264.8 267.2 264.8 266.2 264.8 265.2 264.8 264.2 264.8 263.2 264.8 262.2 264.8 261.2 264.8 260.2 264.8 259.2 264.8 258.2 264.8 257.2 264.8 256.2 264.8 255.2 264.8 254.2 264.8 253.2 264.8 252.2 264.8 251.2 264.8 250.2 264.8 249.2 264.8 248.2 264.8 247.2 265.2 246.5 265.8 246.0 266.2 245.5 266.7 245.0 267.2 244.5 267.4 243.8 267.5 242.9 267.6 242.0 267.6 241.0 267.7 240.0 267.8 239.2 267.8 238.2 267.9 237.2 268.0 236.2 268.0 235.5 268.1 234.5 268.2 233.5 268.2 232.6 268.3 231.8 268.4 230.8 268.5 230.0 268.8 229.2 269.0 228.5 269.2 227.7 269.5 226.9 269.8 226.0 270.0 225.2 270.2 224.5 270.4 223.8 270.7 223.0 270.9 222.2 271.2 221.5 271.5 221.0 272.0 220.2 272.3 219.8 272.7 219.0 273.0 218.5 273.4 217.8 273.8 217.0 274.0 216.2 274.2 215.5 274.4 214.8 274.6 214.0 274.9 213.2 275.0 212.5 275.2 211.6 275.4 210.8 275.6 210.0 275.8 209.2 276.0 208.2 276.2 207.5 276.4 206.8 276.5 206.0 276.8 205.2 276.9 204.2 277.0 203.5 277.2 202.5 277.3 201.8 277.5 200.8 277.6 200.0 277.7 199.0 277.9 198.2 278.0 197.5 278.3 196.8 278.3 195.8 278.3 194.8 278.3 193.8 278.3 192.8 278.3 191.8 278.3 190.8" fill="none" stroke="#80804a" stroke-width="0.7" stroke-opacity="0.8"/><path d="M280.1 363.2 280.1 362.2 280.0 361.2 280.0 360.2 280.0 359.2 280.0 358.5 280.0 357.5 280.0 356.5 280.0 355.5 280.0 354.5 280.0 353.5 279.9 352.5 279.9 351.5 279.9 350.5 279.9 349.5 279.9 348.5 279.9 347.5 279.9 346.5 280.0 345.5 280.0 344.6 280.1 343.8 280.1 342.8 280.2 341.8 280.2 340.8 280.2 339.8 280.3 339.0 280.4 338.0 280.4 337.0 280.5 336.2 280.8 335.5 281.0 334.8 281.1 333.8 281.2 332.8 281.3 332.0 281.4 331.0 281.5 330.2 281.6 329.2 281.7 328.2 281.8 327.3 281.8 326.5 281.9 325.5 282.0 324.5 282.0 323.8 282.1 322.8 282.1 321.8 282.0 320.8 282.0 320.0 281.9 319.0 281.9 318.0 281.8 317.0 281.8 316.0 281.7 315.2 281.8 314.5 282.0 313.5 282.1 312.8 282.2 311.8 282.4 311.0 282.5 310.2 282.7 309.2 282.8 308.5 282.5 307.8 282.2 307.2 281.9 306.5 281.6 305.8 281.2 305.1 280.9 304.5 280.9 303.5 280.9 302.5 280.9 301.5 280.9 300.5 280.9 299.5 280.9 298.5 280.9 297.5 280.9 296.5 280.9 295.5 280.9 294.5 280.9 293.5 280.9 292.5 280.9 291.5 280.9 290.5 280.9 289.5 280.9 288.5 280.9 287.5 280.9 286.5 280.9 285.5 280.9 284.5 280.9 283.5 280.9 282.5 280.9 281.5 280.9 280.5 280.9 279.5 280.9 278.5 280.9 277.5 280.9 276.5 280.9 275.5 280.9 274.5 280.9 273.5 280.9 272.5 280.9 271.5 280.9 270.5 280.9 269.5 280.9 268.5 280.9 267.5 280.9 266.5 280.9 265.5 280.9 264.5 280.9 263.5 280.9 262.5 280.9 261.5 280.9 260.5 280.9 259.5 280.9 258.5 280.9 257.5 280.9 256.5 280.9 255.5 280.9 254.5 280.9 253.5 280.9 252.5 280.9 251.5 280.9 250.5 280.9 249.5 280.9 248.5 280.9 247.5 281.0 246.7 281.3 246.0 281.5 245.2 281.8 244.5 281.8 243.5 281.7 242.8 281.7 241.8 281.6 240.8 281.6 239.8 281.5 238.8 281.5 237.9 281.5 237.0 281.4 236.0 281.4 235.0 281.3 234.0 281.3 233.0 281.2 232.2 281.2 231.2 281.1 230.2 281.0 229.2 280.9 228.5 280.9 227.5 280.8 226.5 280.7 225.8 280.6 224.8 280.5 223.8 280.4 223.0 280.3 222.0 280.3 221.0 280.3 220.0 280.2 219.2 280.2 218.2 280.2 217.2 280.2 216.2 280.2 215.4 280.3 214.5 280.3 213.5 280.3 212.5 280.3 211.5 280.3 210.5 280.3 209.5 280.3 208.5 280.4 207.5 280.4 206.5 280.4 205.5 280.4 204.5 280.3 203.5 280.2 202.8 280.1 201.8 280.0 200.8 280.0 200.0 279.9 199.0 279.8 198.0 279.8 197.0 279.8 196.0 279.8 195.0 279.8 194.0 279.8 193.0 279.8 192.0 279.8 191.0 279.8 190.0" fill="none" stroke="#9a90c8" stroke-width="0.7" stroke-opacity="0.8"/><path fill="#fffdfd" fill-rule="evenodd" d="M340.5 436.8 295.0 436.8 294.8 436.5 294.8 379.2 237.0 379.2 237.0 436.5 236.8 436.8 39.2 436.8 39.2 552.2 340.5 552.2Z"/><path fill="#fef8f8" fill-rule="evenodd" d="M340.5 436.8 295.0 436.8 294.8 436.5 294.8 379.2 237.0 379.2 237.0 436.5 236.8 436.8 234.5 436.8 234.2 437.0 230.8 437.2 230.5 437.5 227.8 437.5 227.5 437.8 194.2 438.0 194.0 438.2 39.2 438.2 39.2 552.2 340.5 552.2Z"/><path fill="#fdf3f3" fill-rule="evenodd" d="M340.5 436.8 295.0 436.8 294.8 436.5 294.8 379.2 237.0 379.2 237.0 436.5 232.0 438.5 228.0 439.0 227.8 439.2 220.5 439.5 220.2 439.8 194.5 440.0 194.2 440.2 39.2 440.2 39.2 552.2 340.5 552.2Z"/><path fill="#fceeee" fill-rule="evenodd" d="M340.5 436.8 295.0 436.8 294.8 436.5 294.8 379.2 237.0 379.2 237.0 433.5 237.5 434.0 237.5 435.8 236.0 437.8 233.2 439.2 230.5 440.2 226.8 441.0 220.5 441.2 220.2 441.5 201.2 441.8 201.0 442.0 195.0 442.0 194.8 442.2 39.2 442.2 39.2 552.2 340.5 552.2Z"/><path fill="#fbe9e9" fill-rule="evenodd" d="M340.5 436.8 295.0 436.8 294.8 436.5 294.8 379.2 237.0 379.2 237.0 432.2 238.0 434.0 238.0 436.0 237.5 437.0 235.5 439.0 233.8 440.2 230.2 442.0 226.8 442.8 220.8 443.0 220.5 443.2 218.0 443.2 217.8 443.5 206.8 443.5 206.5 443.8 199.5 443.8 199.2 444.0 196.0 444.0 195.8 444.2 39.2 444.2 39.2 552.2 340.5 552.2Z"/><path fill="#fae4e4" fill-rule="evenodd" d="M340.5 436.8 295.0 436.8 294.8 436.5 294.8 379.2 238.2 379.2 238.0 430.8 238.5 433.0 238.5 436.5 234.8 441.0 230.2 444.0 227.8 444.2 227.5 444.5 220.8 444.8 219.2 445.2 216.8 445.2 216.5 445.5 200.8 445.5 197.0 446.2 39.2 446.2 39.2 552.2 340.5 552.2Z"/><path fill="#f9dfdf" fill-rule="evenodd" d="M340.5 436.8 295.0 436.8 294.8 436.5 294.8 379.2 240.0 379.2 240.0 431.0 239.0 432.0 239.0 437.5 238.5 438.0 238.0 438.0 237.8 439.0 237.0 439.0 237.0 440.0 236.0 441.0 236.0 441.5 235.5 442.0 235.0 442.0 235.0 442.5 234.5 443.0 234.0 443.0 233.0 444.0 233.0 444.8 231.5 446.0 221.0 446.0 220.0 447.0 200.0 447.0 199.0 448.0 39.2 448.0 39.2 552.2 340.5 552.2Z"/><path fill="#f8dada" fill-rule="evenodd" d="M340.5 436.8 295.0 436.8 294.8 436.5 294.8 379.2 241.2 379.2 240.8 381.0 240.8 431.0 240.0 432.2 239.8 433.5 239.8 437.2 239.2 438.8 237.0 441.2 236.8 442.2 232.0 446.8 223.5 447.2 221.2 448.0 218.8 448.0 218.5 448.2 203.5 448.2 203.2 448.5 201.5 448.5 200.5 449.0 198.2 449.0 198.0 449.2 39.2 449.2 39.2 552.2 340.5 552.2Z"/><path fill="#f7d5d5" fill-rule="evenodd" d="M340.5 436.8 295.0 436.8 294.8 436.5 294.8 379.2 241.8 379.2 241.8 381.5 241.5 381.8 241.5 427.2 241.2 427.5 241.2 431.0 240.5 433.5 240.2 437.5 239.2 439.8 236.0 444.2 234.5 445.8 232.0 447.5 229.5 448.0 227.8 448.0 227.5 448.2 223.5 448.5 220.0 449.2 204.5 449.5 204.2 449.8 201.8 449.8 199.8 450.2 193.5 450.2 193.2 450.5 39.2 450.5 39.2 552.2 340.5 552.2Z"/><path fill="#f7d0d0" fill-rule="evenodd" d="M340.5 436.8 295.0 436.8 294.8 436.5 294.8 379.2 242.5 379.2 242.5 382.2 242.2 382.5 242.2 421.5 242.0 421.8 242.0 430.2 241.2 433.5 240.8 438.0 240.0 439.8 237.0 444.2 234.2 447.0 232.0 448.2 228.0 449.2 223.0 449.8 221.2 450.2 218.8 450.2 218.5 450.5 204.8 450.8 204.5 451.0 201.5 451.0 201.2 451.2 198.8 451.2 198.5 451.5 188.2 451.5 188.0 451.8 39.2 451.8 39.2 552.2 340.5 552.2Z"/><path fill="#f6cbcb" fill-rule="evenodd" d="M340.5 436.8 295.0 436.8 294.8 436.5 294.8 379.2 243.2 379.2 243.2 382.5 243.0 382.8 242.8 428.8 242.5 429.0 242.5 431.2 241.8 434.8 241.8 436.2 240.5 440.2 238.0 444.2 235.5 447.0 232.0 449.2 227.2 450.5 222.8 451.0 222.5 451.2 220.8 451.2 220.5 451.5 204.8 452.0 204.5 452.2 201.0 452.2 200.8 452.5 197.2 452.5 197.0 452.8 180.0 452.8 179.8 453.0 39.2 453.0 39.2 552.2 340.5 552.2Z"/><path fill="#f5c6c6" fill-rule="evenodd" d="M340.5 436.8 295.0 436.8 294.8 436.5 294.8 379.2 244.0 379.2 244.0 382.8 243.8 383.0 243.5 426.8 243.2 427.0 243.2 430.8 243.0 431.0 242.5 435.8 241.2 440.2 238.2 445.2 234.8 448.8 230.8 450.8 226.8 451.8 222.2 452.2 222.0 452.5 220.0 452.5 219.8 452.8 204.2 453.2 204.0 453.5 195.5 453.8 195.2 454.0 39.2 454.0 39.2 552.2 340.5 552.2Z"/><path fill="#f4c1c1" fill-rule="evenodd" d="M340.5 436.8 295.0 436.8 294.8 436.5 294.8 379.2 244.8 379.2 244.8 382.8 244.5 383.0 244.5 415.8 244.2 416.0 244.0 430.0 243.8 430.2 243.2 435.5 242.8 438.0 241.5 441.5 239.0 445.8 235.2 449.5 231.8 451.5 227.8 452.8 222.0 453.5 221.8 453.8 219.5 453.8 219.2 454.0 203.8 454.5 203.5 454.8 194.0 455.0 193.8 455.2 39.2 455.2 39.2 552.2 340.5 552.2Z"/><path fill="#f3bcbc" fill-rule="evenodd" d="M340.5 436.8 295.0 436.8 294.8 436.5 294.8 379.2 245.5 379.2 245.2 380.5 245.2 410.8 245.0 411.0 245.0 418.8 244.8 419.0 244.8 427.0 244.5 427.2 244.5 431.0 244.2 431.2 243.8 436.2 242.0 442.0 239.0 447.0 235.8 450.2 231.2 452.8 228.0 453.8 224.0 454.5 222.5 454.5 222.2 454.8 220.2 454.8 220.0 455.0 204.8 455.5 204.5 455.8 195.2 456.0 195.0 456.2 175.2 456.2 175.0 456.5 39.2 456.5 39.2 552.2 340.5 552.2Z"/><path fill="#f3b7b7" fill-rule="evenodd" d="M340.5 436.8 295.0 436.8 294.8 436.5 294.8 379.2 245.8 379.2 245.8 383.5 245.5 383.8 245.5 415.5 245.2 415.8 245.2 421.2 245.0 421.5 245.0 429.0 244.8 429.2 244.8 431.8 244.5 432.0 244.0 436.8 242.2 442.5 239.2 447.5 236.0 450.8 231.5 453.2 226.2 454.8 221.2 455.2 221.0 455.5 218.5 455.5 218.2 455.8 207.0 456.0 206.8 456.2 202.0 456.2 201.8 456.5 197.5 456.5 197.2 456.8 190.2 456.8 190.0 457.0 39.2 457.0 39.2 552.2 340.5 552.2Z"/><path fill="#f2b2b2" fill-rule="evenodd" d="M340.5 436.8 295.0 436.8 294.8 436.5 294.8 379.2 246.0 379.2 246.0 410.2 245.8 410.5 245.2 430.2 245.0 430.5 245.0 432.8 244.8 433.0 244.5 436.0 243.0 441.8 240.0 447.2 236.5 451.0 234.0 452.8 231.2 454.0 225.8 455.5 220.0 456.0 219.8 456.2 203.8 456.8 203.5 457.0 194.0 457.2 193.8 457.5 39.2 457.5 39.2 552.2 340.5 552.2Z"/><path fill="#f1adad" fill-rule="evenodd" d="M340.5 436.8 295.0 436.8 294.8 436.5 294.8 379.2 246.5 379.2 246.5 383.2 246.2 383.5 246.2 415.0 246.0 415.2 246.0 419.5 245.8 419.8 245.8 427.5 245.5 427.8 245.5 431.5 245.2 431.8 245.0 435.2 243.5 441.5 240.2 447.8 236.5 451.8 231.8 454.5 226.5 456.0 221.2 456.5 221.0 456.8 201.0 457.5 200.8 457.8 196.5 457.8 196.2 458.0 188.2 458.0 188.0 458.2 39.2 458.2 39.2 552.2 340.5 552.2Z"/><path fill="#f0a9a9" fill-rule="evenodd" d="M340.5 436.8 295.0 436.8 294.8 436.5 294.8 379.2 247.0 379.2 246.8 380.2 246.8 409.8 246.5 410.0 246.5 417.0 246.2 417.2 246.2 421.8 246.0 422.0 246.0 429.5 245.8 429.8 245.8 432.5 245.5 432.8 244.8 438.5 243.5 442.8 242.5 444.5 242.5 445.0 239.8 449.2 236.5 452.5 234.2 454.0 231.5 455.2 227.2 456.5 222.8 457.0 222.5 457.2 215.8 457.5 215.5 457.8 203.0 458.0 202.8 458.2 193.2 458.5 193.0 458.8 39.2 458.8 39.2 552.2 340.5 552.2Z"/><path fill="#efa4a4" fill-rule="evenodd" d="M340.5 436.8 295.0 436.8 294.8 436.5 294.8 379.2 247.2 379.2 247.2 382.8 247.0 383.0 247.0 414.8 246.8 415.0 246.8 418.5 246.5 418.8 246.2 431.0 246.0 431.2 246.0 433.2 245.8 433.5 245.8 435.0 245.0 439.0 243.0 445.0 240.2 449.5 236.5 453.2 233.8 455.0 230.8 456.2 225.5 457.5 221.5 457.8 221.2 458.0 218.2 458.0 218.0 458.2 205.0 458.5 204.8 458.8 200.2 458.8 200.0 459.0 195.8 459.0 195.5 459.2 186.0 459.2 185.8 459.5 39.2 459.5 39.2 552.2 340.5 552.2Z"/><path fill="#ee9f9f" fill-rule="evenodd" d="M340.5 436.8 295.0 436.8 294.8 436.5 294.8 379.2 247.8 379.2 247.5 379.8 247.2 416.8 247.0 417.0 247.0 420.0 246.8 420.2 246.5 432.2 246.2 432.5 246.2 434.2 246.0 434.5 245.2 439.8 243.5 445.0 242.2 447.5 240.0 450.8 237.5 453.2 235.5 454.8 232.0 456.5 226.5 458.0 220.2 458.5 220.0 458.8 201.8 459.2 201.5 459.5 192.5 459.8 192.2 460.0 39.2 460.0 39.2 552.2 340.5 552.2Z"/><path fill="#ee9a9a" fill-rule="evenodd" d="M340.5 436.8 295.0 436.8 294.8 436.5 294.8 379.2 248.0 379.2 248.0 382.2 247.8 382.5 247.8 414.8 247.5 415.0 247.2 422.2 247.0 422.5 247.0 430.2 246.8 430.5 246.8 433.2 246.5 433.5 245.8 439.2 244.0 445.0 240.8 450.8 237.0 454.5 234.8 456.0 232.0 457.2 227.5 458.5 224.5 458.8 224.2 459.0 222.0 459.0 221.8 459.2 211.5 459.5 211.2 459.8 203.8 459.8 203.5 460.0 199.5 460.0 199.2 460.2 195.5 460.2 195.2 460.5 181.2 460.5 181.0 460.8 39.2 460.8 39.2 552.2 340.5 552.2Z"/><path fill="#ed9495" fill-rule="evenodd" d="M340.5 436.8 295.0 436.8 294.8 436.5 294.8 379.2 248.0 379.2 248.0 412.8 247.8 413.0 247.8 417.2 247.5 417.5 247.5 420.0 247.2 420.2 247.0 432.5 246.8 432.8 246.2 437.5 244.8 443.8 243.2 447.2 241.2 450.5 237.5 454.5 233.0 457.2 228.0 458.8 225.2 459.0 225.0 459.2 222.8 459.2 222.5 459.5 213.0 459.8 212.8 460.0 204.5 460.0 204.2 460.2 200.0 460.2 199.8 460.5 196.2 460.5 196.0 460.8 187.5 460.8 187.2 461.0 39.2 461.0 39.2 552.2 340.5 552.2Z"/><path fill="#ed8f90" fill-rule="evenodd" d="M340.5 436.8 295.0 436.8 294.8 436.5 294.8 379.2 248.2 379.2 248.0 416.2 247.8 416.5 247.8 418.8 247.5 419.0 247.2 431.8 247.0 432.0 247.0 434.0 246.8 434.2 246.8 435.8 246.2 437.2 245.8 441.0 244.0 446.2 240.5 452.0 236.8 455.5 232.0 458.0 228.5 459.0 223.5 459.5 223.2 459.8 214.5 460.0 214.2 460.2 205.5 460.2 205.2 460.5 200.5 460.5 200.2 460.8 190.5 461.0 190.2 461.2 39.2 461.2 39.2 552.2 340.5 552.2Z"/><path fill="#ec8a8b" fill-rule="evenodd" d="M340.5 436.8 295.0 436.8 294.8 436.5 294.8 379.2 248.5 379.2 248.5 383.2 248.2 383.5 248.2 415.5 248.0 415.8 247.8 421.8 247.5 422.0 247.5 430.5 247.2 430.8 247.2 433.5 247.0 433.8 246.2 439.5 244.8 445.0 242.0 450.5 238.2 454.8 235.5 456.8 233.0 458.0 229.0 459.2 224.2 459.8 224.0 460.0 216.0 460.2 215.8 460.5 201.0 460.8 200.8 461.0 192.5 461.2 192.2 461.5 39.2 461.5 39.2 552.2 340.5 552.2Z"/><path fill="#ec8486" fill-rule="evenodd" d="M340.5 436.8 295.0 436.8 294.8 436.5 294.8 379.2 248.8 379.2 248.8 380.8 248.5 381.0 248.5 414.2 248.2 414.5 248.2 417.2 248.0 417.5 248.0 419.8 247.8 420.0 247.5 433.0 247.2 433.2 247.2 434.8 246.5 437.8 246.0 441.8 244.5 446.2 242.5 450.2 241.2 452.0 237.2 456.0 232.8 458.5 228.2 459.8 225.0 460.0 224.8 460.2 222.2 460.2 222.0 460.5 201.5 461.0 201.2 461.2 194.0 461.5 193.8 461.8 39.2 461.8 39.2 552.2 340.5 552.2Z"/><path fill="#eb7f81" fill-rule="evenodd" d="M340.5 436.8 295.0 436.8 294.8 436.5 294.8 379.2 249.0 379.2 248.8 380.0 248.8 411.2 248.5 411.5 248.5 416.8 248.0 419.0 247.8 432.0 247.5 432.2 247.5 434.5 247.0 436.0 246.2 441.5 244.0 448.0 241.5 452.2 237.5 456.2 231.8 459.2 228.8 460.0 225.8 460.2 225.5 460.5 223.2 460.5 223.0 460.8 202.0 461.2 201.8 461.5 195.2 461.8 195.0 462.0 39.2 462.0 39.2 552.2 340.5 552.2Z"/><path fill="#eb797b" fill-rule="evenodd" d="M340.5 436.8 295.0 436.8 294.8 436.5 294.8 379.2 249.2 379.2 249.0 379.8 249.0 385.2 248.8 385.5 248.8 416.0 248.5 416.2 248.2 421.0 248.0 421.2 247.8 434.0 247.0 437.0 246.5 441.5 244.5 447.5 241.5 452.8 237.8 456.5 235.5 458.0 232.8 459.2 228.0 460.5 224.0 460.8 223.8 461.0 211.5 461.2 211.2 461.5 202.5 461.5 202.2 461.8 199.0 461.8 198.8 462.0 196.0 462.0 195.8 462.2 182.0 462.2 181.8 462.5 39.2 462.5 39.2 552.2 340.5 552.2Z"/><path fill="#ea7476" fill-rule="evenodd" d="M340.5 436.8 295.0 436.8 294.8 436.5 294.8 379.2 249.2 379.2 249.2 381.2 249.0 381.5 249.0 415.2 248.8 415.5 248.8 417.5 248.2 419.8 248.0 433.2 247.0 438.0 246.8 441.2 245.0 447.0 242.2 452.2 238.0 456.8 236.2 458.0 233.2 459.5 230.0 460.5 225.0 461.0 224.8 461.2 213.8 461.5 213.5 461.8 203.2 461.8 203.0 462.0 199.5 462.0 199.2 462.2 196.8 462.2 196.5 462.5 189.0 462.5 188.8 462.8 39.2 462.8 39.2 552.2 340.5 552.2Z"/><path fill="#ea6f71" fill-rule="evenodd" d="M340.5 436.8 295.0 436.8 294.8 436.5 294.8 379.2 249.5 379.2 249.2 380.0 249.2 413.5 249.0 413.8 249.0 417.0 248.5 418.8 248.2 432.5 247.2 437.5 246.8 442.2 244.5 448.8 241.8 453.5 238.0 457.2 235.8 458.8 233.0 460.0 230.5 460.8 226.0 461.2 225.8 461.5 215.8 461.8 215.5 462.0 204.0 462.0 203.8 462.2 199.8 462.2 197.2 462.8 192.0 462.8 191.8 463.0 39.2 463.0 39.2 552.2 340.5 552.2Z"/><path fill="#e9696c" fill-rule="evenodd" d="M340.5 436.8 295.0 436.8 294.8 436.5 294.8 379.2 249.5 379.2 249.2 416.5 248.5 420.5 248.5 431.5 248.2 431.8 248.0 435.8 247.5 437.0 247.0 442.2 246.0 445.8 244.2 450.0 242.0 453.8 238.0 457.8 233.5 460.2 230.0 461.2 226.8 461.5 226.5 461.8 223.8 461.8 223.5 462.0 205.0 462.2 204.8 462.5 200.0 462.5 197.8 463.0 194.0 463.0 193.8 463.2 39.2 463.2 39.2 552.2 340.5 552.2Z"/><path fill="#e96467" fill-rule="evenodd" d="M340.5 436.8 295.0 436.8 294.8 436.5 294.8 379.2 249.8 379.2 249.8 381.5 249.5 381.8 249.5 416.0 248.8 419.2 248.5 434.0 247.5 438.2 247.2 442.0 245.5 447.8 242.2 454.0 238.2 458.0 234.5 460.2 230.8 461.5 227.8 461.8 227.5 462.0 225.0 462.0 224.8 462.2 200.5 462.8 200.2 463.0 195.2 463.2 195.0 463.5 39.2 463.5 39.2 552.2 340.5 552.2Z"/><path fill="#e85e62" fill-rule="evenodd" d="M340.5 436.8 295.0 436.8 294.8 436.5 294.8 379.2 249.8 379.2 249.8 415.0 249.5 415.2 249.5 417.5 249.0 418.8 249.0 423.0 248.8 423.2 248.8 433.2 247.8 437.8 247.2 443.2 244.8 450.2 242.5 454.2 239.5 457.5 237.2 459.2 235.0 460.5 230.2 462.0 226.2 462.2 226.0 462.5 200.8 463.0 200.5 463.2 196.2 463.5 196.0 463.8 39.2 463.8 39.2 552.2 340.5 552.2Z"/><path fill="#e8595d" fill-rule="evenodd" d="M340.5 436.8 295.0 436.8 294.8 436.5 294.8 379.2 250.0 379.2 250.0 412.8 249.8 413.0 249.8 417.0 249.0 420.0 249.0 432.2 248.8 432.5 248.8 435.0 248.0 437.0 247.5 443.2 245.0 450.5 242.8 454.5 238.0 459.2 234.2 461.2 229.5 462.5 223.5 462.8 223.2 463.0 201.0 463.2 197.0 464.0 184.2 464.0 184.0 464.2 39.2 464.2 39.2 552.2 340.5 552.2Z"/><path fill="#e75358" fill-rule="evenodd" d="M340.5 436.8 295.0 436.8 294.8 436.5 294.8 379.2 250.0 379.2 250.2 380.0 250.2 381.2 250.0 381.5 250.0 416.5 249.2 419.0 249.0 434.5 248.0 438.2 247.8 443.0 245.0 451.2 243.0 454.8 239.2 458.8 234.8 461.5 231.8 462.5 228.5 462.8 228.2 463.0 224.8 463.0 224.5 463.2 200.8 463.5 197.2 464.2 188.8 464.2 188.5 464.5 39.2 464.5 39.2 552.2 340.5 552.2Z"/><path fill="#e74e53" fill-rule="evenodd" d="M340.5 436.8 295.0 436.8 294.8 436.5 294.8 379.2 250.2 379.2 250.2 415.5 249.2 420.0 249.2 433.5 249.0 433.8 248.8 436.2 248.2 437.0 248.0 442.8 245.2 451.2 243.2 455.0 239.5 459.0 238.2 460.0 234.5 462.0 231.0 463.0 225.2 463.2 225.0 463.5 200.5 463.8 197.2 464.5 186.8 464.5 186.5 464.8 39.2 464.8 39.2 552.2 340.5 552.2Z"/><path fill="#e7494e" fill-rule="evenodd" d="M340.5 436.8 295.0 436.8 294.8 436.5 294.8 379.2 250.5 379.2 250.5 385.5 250.2 385.8 250.2 417.0 249.5 418.8 249.2 435.0 248.5 436.8 248.0 444.0 247.2 445.5 247.0 447.0 245.8 450.0 245.8 450.8 244.0 454.5 239.5 459.5 237.8 460.8 234.2 462.5 231.5 463.2 226.2 463.5 226.0 463.8 200.0 464.0 197.5 464.8 181.5 464.8 181.2 465.0 39.2 465.0 39.2 552.2 340.5 552.2Z"/><path fill="#e64349" fill-rule="evenodd" d="M340.5 436.8 295.0 436.8 294.8 436.5 294.8 379.2 250.5 379.2 250.5 416.5 249.5 419.8 249.5 434.5 249.2 435.8 248.5 437.0 248.2 443.8 247.2 446.0 247.0 447.8 246.2 449.0 245.8 451.5 244.0 455.0 239.5 460.0 234.0 463.0 230.5 463.8 227.0 463.8 226.8 464.0 200.0 464.2 197.8 465.0 39.2 465.0 39.2 552.2 340.5 552.2Z"/><path fill="#e63e44" fill-rule="evenodd" d="M340.5 436.8 295.0 436.8 294.8 436.5 294.8 379.2 250.8 379.2 250.8 414.5 250.5 414.8 250.5 417.8 249.8 418.8 249.8 433.0 249.5 433.2 249.5 435.5 248.8 436.8 248.5 443.8 247.5 446.0 247.0 448.2 246.5 448.8 246.0 451.8 244.5 455.0 239.5 460.5 233.8 463.5 231.5 464.0 228.2 464.0 228.0 464.2 199.8 464.5 199.0 465.0 197.8 465.2 39.2 465.2 39.2 552.2 340.5 552.2Z"/><path fill="#e5393f" fill-rule="evenodd" d="M340.5 436.8 295.0 436.8 294.8 436.5 294.8 379.2 250.8 379.2 250.8 417.5 250.5 418.2 249.8 419.0 249.8 435.5 248.8 437.0 248.8 443.5 248.5 444.8 247.8 445.8 247.5 447.8 246.8 448.8 246.5 451.2 245.5 453.0 244.8 455.2 242.8 457.2 240.2 460.5 234.2 463.8 232.5 464.2 230.0 464.2 229.8 464.5 203.8 464.5 203.5 464.8 199.8 464.8 198.2 465.5 39.2 465.5 39.2 552.2 340.5 552.2Z"/><path fill="#e5333a" fill-rule="evenodd" d="M340.5 436.8 295.0 436.8 294.8 436.5 294.8 379.2 251.0 379.2 251.0 417.2 250.8 418.2 250.0 418.8 250.0 435.2 249.8 436.0 249.0 436.8 248.8 445.0 248.0 445.8 247.8 448.0 247.0 448.8 246.8 449.5 246.8 451.5 245.8 453.0 245.8 454.0 245.0 455.5 242.0 458.5 241.5 459.8 239.8 461.5 239.0 461.5 237.8 462.5 237.2 462.5 233.5 464.5 232.2 464.5 232.0 464.8 201.0 464.8 200.8 465.0 199.5 465.0 198.8 465.8 39.2 465.8 39.2 552.2 340.5 552.2Z"/><path fill="#e42e35" fill-rule="evenodd" d="M340.5 436.8 295.0 436.8 294.8 436.5 294.8 379.2 251.0 379.2 251.0 418.8 250.0 419.0 250.0 436.0 249.0 437.0 249.0 445.5 248.5 446.0 248.0 446.0 248.0 448.5 247.5 449.0 247.0 449.0 247.0 452.5 246.5 453.0 246.0 453.0 246.0 455.2 245.0 456.0 245.0 456.5 244.5 457.0 244.0 457.0 244.0 457.5 243.5 458.0 243.0 458.0 243.0 458.5 242.5 459.0 242.0 459.0 242.0 460.0 240.0 462.0 239.0 462.0 238.2 463.0 237.0 463.0 236.2 464.0 235.0 464.0 234.2 465.0 200.0 465.0 200.0 465.5 199.5 466.0 39.2 466.0 39.2 552.2 340.5 552.2Z"/><path fill="#e42930" fill-rule="evenodd" d="M340.5 436.8 295.0 436.8 294.8 436.5 294.8 379.2 251.5 379.2 251.2 379.5 251.2 419.0 250.2 419.8 250.2 436.0 249.2 437.0 249.2 446.0 248.2 446.8 248.2 449.0 247.2 449.8 247.2 453.0 246.2 453.8 246.2 456.0 239.0 463.2 238.0 463.2 237.0 464.2 235.5 464.5 235.0 465.2 202.2 465.5 201.0 465.8 200.0 466.5 183.5 466.5 183.2 466.8 42.2 467.0 39.2 467.8 39.2 552.2 340.5 552.2Z"/><path fill="#e3232b" fill-rule="evenodd" d="M340.5 436.8 295.0 436.8 294.8 436.5 294.8 379.2 252.2 379.2 251.2 380.2 251.2 419.2 250.5 419.8 250.5 421.5 250.2 421.8 250.2 436.2 249.5 437.0 249.2 438.0 249.2 446.2 248.5 446.8 248.2 449.2 247.5 449.8 247.2 453.2 246.5 454.0 246.2 456.2 239.0 463.5 238.2 463.5 237.5 464.2 236.2 464.5 235.0 465.5 203.5 466.0 203.2 466.2 200.8 466.5 199.8 467.0 192.2 467.0 192.0 467.2 128.2 467.8 128.0 468.0 41.8 468.2 39.2 468.8 39.2 552.2 340.5 552.2Z"/><path fill="#e31e25" fill-rule="evenodd" d="M340.5 436.8 295.0 436.8 294.8 436.5 294.8 379.2 252.2 379.2 251.5 380.0 251.5 418.5 251.2 419.5 250.8 419.8 250.5 420.5 250.5 435.2 250.2 436.5 249.5 437.2 249.5 445.0 249.2 446.2 248.5 447.0 248.5 449.0 247.5 450.5 247.5 453.0 246.5 454.5 246.5 456.0 239.2 463.5 238.2 463.8 237.0 464.8 236.2 464.8 235.2 465.5 234.0 465.8 228.2 465.8 228.0 466.0 204.0 466.5 199.2 467.5 194.5 467.5 194.2 467.8 173.5 468.0 173.2 468.2 127.2 468.8 127.0 469.0 100.8 469.0 100.5 469.2 49.2 469.2 49.0 469.5 40.5 469.5 39.2 469.8 39.2 552.2 340.5 552.2Z"/><path fill="#e31f22" fill-rule="evenodd" d="M340.5 436.8 295.0 436.8 294.8 436.5 294.8 379.2 252.8 379.2 252.2 381.0 252.2 419.0 251.8 420.5 251.5 429.2 251.2 429.5 251.2 436.0 250.8 437.0 250.2 439.5 250.2 445.8 248.8 450.8 248.5 453.2 247.5 456.0 245.0 460.0 242.0 463.2 239.8 465.0 236.2 466.8 231.2 468.0 218.8 469.2 218.5 469.5 216.5 469.5 216.2 469.8 214.2 469.8 212.0 470.2 210.0 470.2 209.8 470.5 206.0 470.8 205.8 471.0 204.2 471.0 204.0 471.2 202.5 471.2 202.2 471.5 195.5 472.2 195.2 472.5 184.0 473.5 183.8 473.8 181.2 473.8 181.0 474.0 178.5 474.0 178.2 474.2 175.8 474.2 175.5 474.5 172.8 474.5 172.5 474.8 155.8 475.8 155.5 476.0 152.0 476.0 151.8 476.2 148.5 476.2 148.2 476.5 144.8 476.5 144.5 476.8 141.0 476.8 140.8 477.0 124.0 477.8 123.8 478.0 118.8 478.0 118.5 478.2 112.8 478.2 112.5 478.5 95.2 478.8 95.0 479.0 83.2 479.0 83.0 479.2 69.8 479.2 69.5 479.5 39.2 479.8 39.2 552.2 340.5 552.2Z"/><path fill="#e3201f" fill-rule="evenodd" d="M340.5 436.8 295.0 436.8 294.8 436.5 294.8 379.2 253.5 379.2 253.2 379.5 253.2 382.8 253.0 383.0 253.0 420.8 252.8 421.0 252.8 427.8 252.2 429.2 252.2 431.5 252.0 431.8 252.0 436.8 251.2 439.0 251.0 446.5 250.5 447.5 249.8 451.0 249.8 453.0 248.8 456.0 247.0 459.8 243.5 464.2 239.8 467.0 236.8 468.5 230.0 470.5 188.5 478.8 187.2 478.8 185.8 479.2 184.5 479.2 178.2 480.5 176.8 480.5 175.0 481.0 169.8 481.5 169.5 481.8 167.8 481.8 167.5 482.0 165.8 482.0 165.5 482.2 163.8 482.2 163.5 482.5 161.8 482.5 161.5 482.8 159.8 482.8 159.5 483.0 157.8 483.0 157.5 483.2 155.8 483.2 155.5 483.5 153.8 483.5 151.5 484.0 149.5 484.0 149.2 484.2 147.5 484.2 145.2 484.8 141.0 485.0 138.8 485.5 127.5 486.5 127.2 486.8 125.0 486.8 124.8 487.0 119.5 487.2 119.2 487.5 116.0 487.5 115.8 487.8 102.0 488.2 101.8 488.5 95.5 488.5 95.2 488.8 81.5 489.0 81.2 489.2 39.2 490.2 39.2 552.2 340.5 552.2Z"/><path fill="#e4251e" fill-rule="evenodd" d="M340.5 436.8 295.0 436.8 294.8 436.5 294.8 379.2 254.0 379.2 254.0 428.2 253.8 429.0 253.0 429.8 253.0 438.0 252.0 439.8 252.0 447.0 251.2 448.0 251.2 449.2 251.0 449.5 250.8 455.0 250.0 455.8 249.8 457.2 249.0 457.8 248.8 460.0 247.8 461.0 247.8 462.0 246.8 463.0 246.8 463.8 243.8 466.8 243.0 466.8 240.8 468.8 240.0 468.8 239.2 469.5 238.0 469.8 236.8 470.8 236.0 470.8 234.2 471.8 233.0 471.8 232.0 472.5 229.8 472.8 228.8 473.5 226.8 473.8 225.5 474.5 222.8 474.8 221.5 475.5 220.0 475.5 218.2 476.5 217.0 476.5 214.5 477.5 213.0 477.5 212.2 478.0 209.8 478.5 208.2 479.2 205.8 479.5 204.2 480.2 203.2 480.2 200.8 481.2 198.5 481.5 197.8 482.0 196.0 482.2 194.5 483.0 192.0 483.2 190.5 484.0 188.8 484.2 188.0 484.8 184.8 485.2 180.2 486.8 177.2 487.0 175.2 487.8 172.0 488.0 170.0 488.8 166.0 489.0 164.0 489.8 160.8 490.0 159.8 490.5 155.5 491.0 153.0 491.8 150.8 491.8 147.0 492.8 145.2 492.8 143.0 493.5 139.0 493.8 136.8 494.5 133.8 494.8 131.0 495.5 129.0 495.5 120.2 497.2 110.8 497.5 107.2 498.2 90.5 498.5 87.0 499.2 69.0 499.5 65.2 500.2 53.0 500.2 52.8 500.5 48.8 500.5 47.0 501.0 39.2 501.2 39.2 552.2 340.5 552.2Z"/><path fill="#e62c1f" fill-rule="evenodd" d="M340.5 436.8 295.0 436.8 294.8 436.5 294.8 379.2 254.0 379.2 254.0 429.0 253.0 430.0 253.0 438.2 252.0 440.0 252.0 447.2 251.5 447.8 251.5 448.8 251.0 450.0 251.0 455.8 250.0 456.0 250.0 457.8 249.0 458.0 249.0 460.2 248.0 461.0 248.0 462.8 247.0 463.0 247.0 464.8 246.0 465.0 246.0 465.8 245.0 466.0 244.8 467.0 243.0 467.0 243.0 467.8 242.0 468.0 242.0 468.5 241.5 469.0 240.0 469.0 240.0 469.5 239.5 470.0 238.0 470.0 237.8 471.0 236.0 471.0 235.8 472.0 233.0 472.0 232.8 473.0 230.0 473.0 229.8 474.0 227.0 474.0 226.8 475.0 223.0 475.0 223.0 475.5 222.5 476.0 220.0 476.0 220.0 476.5 219.5 477.0 217.0 477.0 217.0 477.5 216.5 478.0 213.0 478.0 213.0 478.5 212.5 479.0 210.0 479.0 210.0 479.5 209.5 480.0 206.0 480.0 206.0 480.5 205.5 481.0 203.0 481.0 203.0 481.5 202.5 482.0 199.0 482.0 199.0 482.5 198.5 483.0 196.0 483.0 196.0 483.5 195.5 484.0 192.0 484.0 192.0 484.5 191.5 485.0 189.0 485.0 188.2 486.0 185.0 486.0 184.2 487.0 182.0 487.0 181.2 488.0 177.0 488.0 176.2 489.0 172.0 489.0 171.2 490.0 166.0 490.0 165.2 491.0 161.0 491.0 160.2 492.0 156.0 492.0 155.0 493.0 150.0 493.0 149.2 494.0 145.0 494.0 144.0 495.0 139.0 495.0 138.2 496.0 134.0 496.0 133.0 497.0 128.0 497.0 127.0 498.0 123.0 498.0 122.0 499.0 110.0 499.0 109.0 500.0 90.0 500.0 89.0 501.0 69.0 501.0 68.0 502.0 49.0 502.0 48.0 503.0 39.2 503.0 39.2 552.2 340.5 552.2Z"/><path fill="#e7331f" fill-rule="evenodd" d="M340.5 436.8 295.0 436.8 294.8 436.5 294.8 379.2 254.2 379.2 254.2 429.0 253.2 430.0 253.2 438.0 252.5 439.0 252.2 440.0 252.2 447.0 251.5 448.2 251.5 449.8 251.2 450.0 251.2 456.2 250.5 457.0 250.2 458.5 249.5 459.2 249.5 460.2 248.8 461.5 248.8 463.0 248.0 464.0 247.2 466.0 245.8 467.8 236.5 474.8 230.5 477.8 226.8 479.2 219.2 481.8 213.0 483.2 212.0 483.8 208.0 484.5 201.8 486.2 200.8 486.2 195.5 487.8 194.5 487.8 191.2 488.8 183.5 490.2 182.2 490.8 174.8 491.8 171.5 492.5 168.0 492.8 164.8 493.5 163.2 493.5 160.2 494.2 156.8 494.5 150.5 495.8 146.5 496.0 143.5 496.8 141.5 496.8 139.0 497.5 135.5 497.8 134.2 498.2 129.8 498.5 127.2 499.2 124.2 499.5 123.2 500.0 111.8 500.2 109.2 501.0 91.8 501.0 88.0 502.0 70.8 502.0 69.0 502.8 54.8 502.8 54.5 503.0 50.8 503.0 49.0 503.8 39.2 503.8 39.2 552.2 340.5 552.2Z"/><path fill="#e93b1f" fill-rule="evenodd" d="M340.5 436.8 295.0 436.8 294.8 436.5 294.8 379.2 254.5 379.2 254.5 429.0 253.5 430.0 253.5 438.0 252.5 439.8 252.5 447.0 251.8 448.0 251.8 449.5 251.5 449.8 251.5 456.2 250.5 457.8 250.5 458.5 249.2 462.2 249.2 463.2 247.8 466.8 242.5 473.2 237.0 478.5 230.2 482.8 229.8 482.8 226.2 484.5 219.2 486.8 199.0 491.0 197.8 491.0 195.0 491.8 192.2 492.0 186.2 493.2 181.2 493.8 181.0 494.0 173.0 494.8 170.8 495.2 168.8 495.2 168.5 495.5 164.8 495.8 164.5 496.0 153.2 497.2 153.0 497.5 146.0 498.0 145.8 498.2 143.8 498.2 143.5 498.5 141.5 498.5 141.2 498.8 137.0 499.0 136.8 499.2 132.5 499.5 132.2 499.8 130.0 499.8 129.8 500.0 128.5 500.0 123.8 501.0 121.8 501.0 121.5 501.2 112.2 501.2 110.2 501.8 93.8 501.8 89.0 502.8 72.0 502.8 69.8 503.2 51.8 503.8 49.8 504.2 39.2 504.2 39.2 552.2 340.5 552.2Z"/><path fill="#ea4220" fill-rule="evenodd" d="M340.5 436.8 295.0 436.8 294.8 436.5 294.8 379.2 254.8 379.2 254.8 429.2 253.8 430.0 253.8 438.2 252.8 439.2 252.8 447.2 252.0 447.8 251.8 448.8 251.8 456.5 250.8 457.8 250.0 463.0 249.0 465.0 248.5 467.2 245.0 473.8 241.0 479.8 236.8 484.2 233.8 486.5 229.0 489.0 224.0 490.8 219.0 492.0 212.0 493.0 211.8 493.2 210.0 493.2 209.8 493.5 204.5 494.0 204.2 494.2 202.8 494.2 202.5 494.5 201.0 494.5 200.8 494.8 199.2 494.8 199.0 495.0 197.5 495.0 193.8 495.8 192.0 495.8 191.8 496.0 187.5 496.2 187.2 496.5 166.5 498.0 166.2 498.2 164.2 498.2 164.0 498.5 158.0 499.0 157.8 499.2 155.0 499.2 154.8 499.5 130.0 501.0 129.8 501.2 128.0 501.2 123.2 502.2 113.0 502.2 112.8 502.5 108.8 502.5 108.5 502.8 92.8 502.8 91.5 503.2 87.2 503.5 87.0 503.8 57.0 504.0 55.8 504.5 50.0 504.8 49.8 505.0 39.2 505.0 39.2 552.2 340.5 552.2Z"/><path fill="#ec4920" fill-rule="evenodd" d="M340.5 436.8 295.0 436.8 294.8 436.5 294.8 379.2 255.0 379.2 255.0 429.2 254.0 430.0 254.0 438.2 253.0 439.0 253.0 447.2 252.0 448.0 252.0 456.8 251.0 457.8 250.8 462.8 250.5 463.8 249.8 464.8 249.5 467.5 249.0 469.0 248.2 470.0 247.8 472.8 246.8 474.8 244.2 482.0 241.5 487.2 238.2 490.8 232.8 494.0 228.5 495.5 225.5 496.0 224.2 496.5 220.2 497.0 220.0 497.2 215.2 497.5 215.0 497.8 200.8 498.5 200.5 498.8 194.8 499.2 194.5 499.5 165.0 500.5 159.8 501.5 129.0 502.2 125.5 503.2 93.0 503.5 92.2 504.0 90.2 504.5 56.8 504.8 55.2 505.5 39.2 505.8 39.2 552.2 340.5 552.2Z"/><path fill="#ee501e" fill-rule="evenodd" d="M340.5 436.8 295.0 436.8 294.8 436.5 294.8 379.2 255.2 379.2 255.2 430.0 254.2 430.8 254.2 439.0 253.2 440.0 253.2 448.0 252.2 449.0 252.2 457.2 251.2 458.5 251.2 464.2 250.2 465.5 250.2 470.2 249.5 470.8 249.2 471.5 249.2 475.2 248.5 475.8 248.2 476.5 248.2 480.2 247.5 480.8 247.2 481.5 247.2 486.2 246.5 486.8 246.2 487.5 246.2 491.2 245.5 491.8 245.2 494.0 244.0 495.2 242.8 495.5 242.2 496.2 240.8 496.5 240.2 497.2 238.8 497.2 237.8 497.5 237.2 498.2 236.0 498.2 235.0 499.2 233.0 499.2 232.0 500.2 226.0 500.2 225.0 501.2 201.0 501.2 200.0 502.2 165.5 502.2 164.8 502.5 164.2 503.2 129.8 503.2 128.8 503.5 128.2 504.2 93.8 504.2 93.0 504.5 92.2 505.2 58.8 505.2 57.8 505.5 57.2 506.2 39.2 506.2 39.2 552.2 340.5 552.2Z"/><path fill="#f0571b" fill-rule="evenodd" d="M340.5 436.8 295.0 436.8 294.8 436.5 294.8 379.2 255.2 379.2 255.2 430.5 254.5 431.8 254.5 439.2 253.8 441.0 253.5 448.2 252.8 450.0 252.8 457.2 252.0 458.8 251.8 464.2 251.0 465.8 250.8 470.0 250.0 471.5 249.8 475.0 249.0 476.5 248.8 480.0 247.8 482.8 247.8 486.0 246.8 488.8 246.8 491.2 246.0 492.5 245.8 494.2 244.0 496.0 243.5 496.0 240.5 497.8 238.0 498.2 235.0 499.8 233.8 499.8 231.8 500.8 227.0 500.8 224.0 501.8 202.0 501.8 199.0 502.8 167.0 502.8 164.0 503.8 132.2 503.8 132.0 504.0 130.0 504.0 128.2 504.8 98.0 504.8 97.8 505.0 94.2 505.0 93.0 505.2 92.2 505.8 65.0 505.8 64.8 506.0 59.2 506.0 58.0 506.2 57.2 506.8 39.2 506.8 39.2 552.2 340.5 552.2Z"/><path fill="#f25e18" fill-rule="evenodd" d="M340.5 436.8 295.0 436.8 294.8 436.5 294.8 379.2 255.5 379.2 255.5 430.2 255.0 431.2 255.0 438.0 254.2 441.0 254.0 447.0 253.2 450.2 253.2 457.0 252.2 461.0 252.2 464.0 251.5 466.5 251.2 470.0 250.2 473.0 250.2 475.0 249.2 478.0 249.2 480.0 248.2 483.2 248.2 486.0 247.2 489.0 247.2 491.0 246.0 494.8 244.2 496.5 242.0 497.8 237.0 499.2 235.0 500.2 234.0 500.2 231.0 501.2 227.2 501.2 223.2 502.2 202.2 502.2 198.2 503.2 167.2 503.2 164.0 504.2 133.0 504.2 132.8 504.5 129.5 504.8 128.2 505.2 98.8 505.2 98.5 505.5 93.8 505.8 92.2 506.2 65.8 506.2 65.5 506.5 62.5 506.5 62.2 506.8 58.8 506.8 57.2 507.2 39.2 507.2 39.2 552.2 340.5 552.2Z"/><path fill="#f46516" fill-rule="evenodd" d="M340.5 436.8 295.0 436.8 294.8 436.5 294.8 379.2 255.8 379.2 255.8 430.2 255.2 431.5 255.2 439.2 254.2 443.8 254.2 448.2 253.8 450.0 253.8 457.2 252.8 461.0 252.8 464.2 251.8 468.0 251.8 470.0 250.8 473.2 250.8 475.0 249.8 478.2 249.5 481.2 248.8 483.2 248.8 486.0 247.8 489.2 247.8 491.2 247.0 494.0 246.0 495.8 245.0 496.8 242.5 498.2 239.0 499.5 238.0 499.5 235.0 500.8 234.0 500.8 231.0 501.8 227.2 501.8 223.0 502.8 202.2 502.8 198.0 503.8 167.5 503.8 164.0 504.8 133.0 504.8 128.2 505.8 99.0 505.8 97.2 506.2 95.0 506.2 92.5 506.8 66.0 506.8 64.2 507.2 60.2 507.2 60.0 507.5 57.8 507.5 57.5 507.8 39.2 507.8 39.2 552.2 340.5 552.2Z"/><path fill="#f66c14" fill-rule="evenodd" d="M340.5 436.8 295.0 436.8 294.8 436.5 294.8 379.2 255.8 379.2 255.8 431.5 255.5 431.8 255.5 440.2 255.2 440.5 255.2 442.2 254.5 444.0 254.2 457.8 254.0 458.0 254.0 459.2 253.2 461.0 253.2 464.8 253.0 465.0 253.0 466.2 252.2 468.0 252.2 470.2 251.8 472.2 251.2 473.0 251.2 475.2 250.8 477.2 250.2 478.0 250.0 481.5 249.2 483.0 249.2 486.2 248.8 488.2 248.2 489.0 248.0 493.0 246.8 495.8 245.8 497.0 244.0 498.2 239.8 500.0 237.0 500.2 235.8 501.0 232.8 501.5 231.0 502.2 226.8 502.2 226.5 502.5 225.0 502.5 223.0 503.2 201.8 503.2 201.5 503.5 200.0 503.5 198.0 504.2 167.0 504.2 166.2 504.8 164.2 505.2 133.0 505.2 132.0 505.8 129.2 506.0 129.0 506.2 99.0 506.2 96.8 507.0 93.5 507.0 93.2 507.2 66.0 507.2 63.5 508.0 58.5 508.0 58.2 508.2 39.2 508.2 39.2 552.2 340.5 552.2Z"/><path fill="#f77315" fill-rule="evenodd" d="M340.5 436.8 295.0 436.8 294.8 436.5 294.8 379.2 256.0 379.2 256.0 439.8 255.8 440.0 255.8 443.0 255.0 443.8 254.8 459.5 253.8 461.0 253.8 466.5 252.8 468.0 252.8 471.5 252.5 472.2 251.8 473.0 251.8 476.5 251.5 477.2 250.8 478.0 250.8 481.5 250.5 482.2 249.8 483.0 249.8 487.5 249.5 488.2 248.8 489.0 248.8 493.2 247.8 495.0 247.5 496.5 246.5 497.5 245.8 497.8 243.8 499.5 242.0 499.8 241.0 500.5 237.0 500.8 235.8 501.8 233.5 501.8 232.8 502.0 232.0 502.8 224.8 503.0 224.0 503.8 201.5 503.8 201.2 504.0 199.8 504.0 199.0 504.8 167.0 504.8 165.5 505.8 133.0 505.8 131.2 506.8 99.0 506.8 97.2 507.8 66.0 507.8 64.2 508.8 39.2 508.8 39.2 552.2 340.5 552.2Z"/><path fill="#f77a16" fill-rule="evenodd" d="M340.5 436.8 295.0 436.8 294.8 436.5 294.8 379.2 256.2 379.2 256.2 444.0 255.2 444.8 255.2 461.0 254.2 461.5 254.2 468.0 253.2 468.5 253.2 473.0 252.2 473.5 252.2 478.0 251.2 478.8 251.2 483.0 250.2 483.8 250.2 489.0 249.2 489.8 249.2 495.0 248.2 495.8 248.2 498.0 248.0 498.2 246.8 498.2 245.0 500.2 242.0 500.2 241.0 501.2 238.2 501.2 237.2 502.2 234.2 502.2 233.2 503.2 226.5 503.2 225.8 503.5 225.2 504.2 202.2 504.2 202.0 504.5 200.8 504.5 200.2 505.2 168.2 505.2 167.0 505.5 166.2 506.2 135.2 506.2 135.0 506.5 133.8 506.5 133.2 507.2 101.2 507.2 101.0 507.5 99.8 507.5 99.2 508.2 68.2 508.2 68.0 508.5 66.8 508.5 66.2 509.2 39.2 509.2 39.2 552.2 340.5 552.2Z"/><path fill="#f88117" fill-rule="evenodd" d="M340.5 436.8 295.0 436.8 294.8 436.5 294.8 379.2 256.2 379.2 256.5 380.2 256.5 441.0 256.2 441.2 256.2 444.2 255.5 445.0 255.2 461.2 254.5 461.8 254.2 468.2 253.5 468.8 253.2 473.2 252.5 474.0 252.2 478.2 251.5 479.0 251.2 483.2 250.5 484.0 250.5 487.2 250.2 487.5 250.2 489.2 249.5 490.0 249.2 495.2 248.5 496.0 248.5 497.2 247.8 498.5 247.0 498.5 245.0 500.5 242.0 500.8 241.2 501.5 238.2 501.8 237.2 502.5 234.5 502.8 233.2 503.5 226.8 503.8 225.2 504.5 223.0 504.5 222.8 504.8 202.8 504.8 199.8 505.8 169.0 505.8 168.8 506.0 167.5 506.0 166.0 506.8 136.0 506.8 135.8 507.0 134.5 507.0 133.0 507.8 102.0 507.8 101.8 508.0 100.5 508.0 99.0 508.8 69.0 508.8 68.8 509.0 67.5 509.0 66.0 509.8 39.2 509.8 39.2 552.2 340.5 552.2Z"/><path fill="#f88918" fill-rule="evenodd" d="M340.5 436.8 295.0 436.8 294.8 436.5 294.8 379.2 256.5 379.2 256.5 381.0 256.8 381.2 256.8 432.5 256.5 432.8 256.5 444.2 255.8 445.2 255.8 446.8 255.5 447.0 255.5 461.0 254.5 462.8 254.5 468.0 253.5 469.8 253.5 473.0 252.5 474.8 252.5 478.0 251.8 479.0 251.5 483.0 250.8 484.0 250.5 489.2 249.8 490.2 249.5 495.0 248.8 496.0 248.5 498.0 248.0 498.5 247.2 498.8 244.8 500.8 243.2 500.8 241.2 501.8 238.0 502.2 237.5 502.8 236.5 503.0 235.0 503.0 233.5 503.8 228.2 504.0 228.0 504.2 226.5 504.2 224.5 505.0 202.5 505.2 200.2 506.0 196.2 506.0 196.0 506.2 169.0 506.2 168.8 506.5 167.2 506.5 166.2 507.0 162.8 507.0 162.5 507.2 136.0 507.2 135.8 507.5 134.2 507.5 133.2 508.0 129.5 508.0 129.2 508.2 102.0 508.2 101.8 508.5 100.2 508.5 99.2 509.0 95.5 509.0 95.2 509.2 69.0 509.2 68.8 509.5 67.2 509.5 66.2 510.0 62.5 510.0 62.2 510.2 39.2 510.2 39.2 552.2 340.5 552.2Z"/><path fill="#f88f1a" fill-rule="evenodd" d="M340.5 436.8 295.0 436.8 294.8 436.5 294.8 379.2 256.8 379.2 256.8 381.0 257.0 381.2 257.0 433.5 256.8 433.8 256.8 444.0 256.2 444.8 255.8 447.0 255.8 459.5 255.5 459.8 255.5 461.2 254.8 462.8 254.8 466.5 254.5 466.8 254.5 468.2 253.8 469.8 253.5 473.5 252.8 474.8 252.8 477.5 251.8 480.0 251.8 483.0 251.2 483.8 250.8 485.8 250.8 489.0 250.0 490.5 249.8 495.0 249.0 496.2 248.8 498.0 248.0 498.8 247.2 499.0 244.8 501.0 243.0 501.2 240.8 502.2 238.8 502.5 237.0 503.2 235.0 503.5 233.0 504.2 228.2 504.5 223.2 505.5 203.8 505.8 200.2 506.5 197.0 506.5 196.8 506.8 170.8 506.8 170.5 507.0 168.0 507.0 166.2 507.5 163.5 507.5 163.2 507.8 137.5 507.8 137.2 508.0 135.0 508.0 133.2 508.5 130.5 508.5 130.2 508.8 103.5 508.8 103.2 509.0 101.0 509.0 99.2 509.5 96.5 509.5 96.2 509.8 70.5 509.8 70.2 510.0 68.0 510.0 66.2 510.5 63.5 510.5 63.2 510.8 39.2 510.8 39.2 552.2 340.5 552.2Z"/><path fill="#f8961b" fill-rule="evenodd" d="M340.5 436.8 295.0 436.8 294.8 436.5 294.8 379.2 256.8 379.2 257.2 381.0 257.2 384.0 257.5 384.2 257.5 390.5 257.2 390.8 257.2 436.0 257.0 436.2 257.0 443.8 256.5 444.8 256.2 447.5 256.0 447.8 255.8 461.2 255.0 463.0 254.8 468.2 254.0 469.8 253.8 473.2 253.0 475.0 252.8 478.5 252.2 479.2 252.0 482.5 251.2 484.5 251.0 489.0 250.2 490.8 250.2 492.2 250.0 492.5 250.0 495.0 249.2 496.2 248.8 498.2 246.5 500.2 245.0 501.2 243.5 501.5 242.0 502.2 238.8 503.0 237.0 503.8 235.0 504.0 233.0 504.8 228.8 505.0 223.5 506.0 206.5 506.2 206.2 506.5 202.8 506.5 202.5 506.8 198.8 507.0 198.5 507.2 169.5 507.5 169.2 507.8 167.2 507.8 165.0 508.2 136.2 508.5 136.0 508.8 134.2 508.8 132.0 509.2 102.2 509.5 102.0 509.8 100.2 509.8 98.0 510.2 69.2 510.5 69.0 510.8 67.2 510.8 65.0 511.2 39.2 511.2 39.2 552.2 340.5 552.2Z"/><path fill="#f89e1c" fill-rule="evenodd" d="M340.5 436.8 295.0 436.8 294.8 436.5 294.8 379.2 257.0 379.2 257.8 382.5 257.8 424.8 257.5 425.0 257.2 443.5 256.5 445.8 256.5 447.8 256.2 448.0 256.0 461.0 255.2 462.8 255.0 468.0 254.2 469.8 254.0 473.0 253.2 475.0 253.0 478.2 252.5 479.2 252.2 482.2 251.5 484.5 251.2 488.8 250.5 491.0 250.2 494.5 249.0 498.2 246.0 501.0 241.2 503.0 234.0 505.0 229.0 505.5 228.8 505.8 227.2 505.8 223.5 506.5 204.5 507.0 204.2 507.2 201.8 507.2 199.5 507.8 195.0 507.8 194.8 508.0 172.8 508.0 172.5 508.2 168.5 508.2 168.2 508.5 162.0 508.8 161.8 509.0 139.5 509.0 139.2 509.2 135.2 509.2 133.0 509.8 128.5 509.8 128.2 510.0 105.5 510.0 105.2 510.2 101.2 510.2 99.0 510.8 94.8 510.8 94.5 511.0 72.5 511.0 72.2 511.2 68.2 511.2 66.0 511.8 61.5 511.8 61.2 512.0 39.2 512.0 39.2 552.2 340.5 552.2Z"/><path fill="#f9a51c" fill-rule="evenodd" d="M340.5 436.8 295.0 436.8 294.8 436.5 294.8 379.2 257.2 379.2 258.0 382.5 258.0 422.5 257.8 422.8 257.5 442.2 256.5 447.0 256.2 459.8 255.2 463.8 255.0 468.5 254.5 469.2 254.2 472.5 253.5 474.5 253.2 477.8 252.5 480.0 252.2 483.2 251.5 485.5 251.5 488.0 250.8 490.8 250.2 495.2 249.0 498.5 247.0 500.5 244.0 502.2 238.2 504.2 231.8 505.8 228.0 506.0 224.5 506.8 221.8 506.8 221.5 507.0 207.8 507.2 207.5 507.5 203.5 507.5 203.2 507.8 198.8 508.0 198.5 508.2 191.2 508.2 191.0 508.5 171.2 508.5 171.0 508.8 168.0 508.8 167.8 509.0 165.2 509.0 165.0 509.2 158.2 509.2 158.0 509.5 138.0 509.5 137.8 509.8 134.8 509.8 134.5 510.0 132.2 510.0 132.0 510.2 124.8 510.2 124.5 510.5 104.0 510.5 103.8 510.8 100.8 510.8 100.5 511.0 98.2 511.0 98.0 511.2 90.8 511.2 90.5 511.5 71.0 511.5 70.8 511.8 67.8 511.8 67.5 512.0 65.2 512.0 65.0 512.2 57.5 512.2 57.2 512.5 39.2 512.5 39.2 552.2 340.5 552.2Z"/><path fill="#faad1c" fill-rule="evenodd" d="M340.5 436.8 295.0 436.8 294.8 436.5 294.8 379.2 257.2 379.2 257.8 380.0 258.0 382.5 258.2 382.8 258.0 433.0 257.8 433.2 257.5 444.0 256.8 446.8 256.2 461.0 255.5 463.0 255.2 468.0 254.5 470.0 254.2 473.2 253.5 475.2 253.5 477.0 252.5 481.0 252.5 482.8 251.8 485.0 251.8 487.2 250.8 491.8 250.5 495.0 249.5 498.0 247.0 500.8 245.2 502.0 242.2 503.2 233.8 505.8 225.5 506.8 225.2 507.0 219.0 507.2 218.8 507.5 206.2 507.8 206.0 508.0 203.0 508.0 202.8 508.2 197.2 508.5 197.0 508.8 170.2 509.0 170.0 509.2 164.0 509.5 163.8 509.8 137.2 510.0 137.0 510.2 134.0 510.2 133.8 510.5 130.8 510.5 130.5 510.8 103.2 511.0 103.0 511.2 100.0 511.2 99.8 511.5 96.8 511.5 96.5 511.8 70.2 512.0 70.0 512.2 67.0 512.2 66.8 512.5 63.8 512.5 63.5 512.8 39.2 512.8 39.2 552.2 340.5 552.2Z"/><path fill="#fbb51c" fill-rule="evenodd" d="M340.5 436.8 295.0 436.8 294.8 436.5 294.8 379.2 257.5 379.2 258.2 381.0 258.2 382.5 258.5 382.8 258.2 431.0 258.0 431.2 257.8 443.2 257.5 443.5 257.5 444.8 257.0 446.2 257.0 448.5 256.8 448.8 256.5 460.0 255.5 464.2 255.5 467.2 254.8 469.5 254.5 472.8 253.8 475.0 253.5 478.0 252.8 480.5 252.8 482.2 252.0 484.8 251.8 488.8 251.0 491.5 250.8 494.8 249.2 498.8 246.8 501.2 244.2 502.8 236.2 505.5 231.5 506.5 228.0 506.8 224.2 507.5 221.5 507.5 221.2 507.8 205.2 508.2 205.0 508.5 202.2 508.5 202.0 508.8 199.8 508.8 199.5 509.0 195.2 509.0 195.0 509.2 169.5 509.5 169.2 509.8 162.2 510.0 162.0 510.2 143.0 510.2 142.8 510.5 136.2 510.5 136.0 510.8 128.8 511.0 128.5 511.2 109.0 511.2 108.8 511.5 102.2 511.5 102.0 511.8 94.8 512.0 94.5 512.2 69.2 512.5 69.0 512.8 61.8 513.0 61.5 513.2 39.2 513.2 39.2 552.2 340.5 552.2Z"/><path fill="#fbbc1c" fill-rule="evenodd" d="M340.5 436.8 295.0 436.8 294.8 436.5 294.8 379.2 257.8 379.2 258.5 381.0 258.5 382.5 258.8 382.8 258.5 429.8 258.2 430.0 258.0 442.5 257.0 447.8 256.8 458.5 256.5 458.8 256.5 461.0 255.8 463.5 255.5 468.0 254.8 470.2 254.8 472.0 253.8 475.8 253.5 478.8 252.0 486.0 252.0 488.2 251.2 491.2 251.0 494.2 249.8 498.2 246.5 501.8 243.2 503.5 240.0 504.8 232.2 506.8 230.8 506.8 230.5 507.0 229.0 507.0 225.2 507.8 223.0 507.8 222.8 508.0 208.2 508.5 208.0 508.8 204.2 508.8 204.0 509.0 198.5 509.2 198.2 509.5 173.5 509.8 173.2 510.0 168.8 510.0 168.5 510.2 159.8 510.5 159.5 510.8 140.2 510.8 140.0 511.0 135.5 511.0 135.2 511.2 126.2 511.5 126.0 511.8 106.2 511.8 106.0 512.0 101.5 512.0 101.2 512.2 92.2 512.5 92.0 512.8 73.2 512.8 73.0 513.0 68.5 513.0 68.2 513.2 59.2 513.5 59.0 513.8 39.2 513.8 39.2 552.2 340.5 552.2Z"/><path fill="#fcc51b" fill-rule="evenodd" d="M340.5 436.8 295.0 436.8 294.8 436.5 294.8 379.2 258.0 379.2 258.8 381.0 258.8 382.5 259.0 382.8 258.8 428.8 258.5 429.0 258.2 441.0 258.0 441.2 258.0 444.0 257.2 447.0 256.8 460.2 256.0 463.0 255.8 467.2 255.0 469.8 254.8 473.0 254.0 475.2 253.8 478.2 252.2 485.5 252.2 487.5 252.0 487.8 252.0 489.2 251.8 489.5 251.0 495.0 249.5 499.0 246.5 502.0 245.0 503.0 240.2 505.0 231.2 507.2 224.2 508.0 224.0 508.2 221.2 508.2 221.0 508.5 206.8 509.0 206.5 509.2 203.2 509.2 203.0 509.5 197.2 509.8 197.0 510.0 171.8 510.2 171.5 510.5 167.8 510.5 167.5 510.8 164.2 510.8 164.0 511.0 138.5 511.2 138.2 511.5 134.5 511.5 134.2 511.8 130.8 511.8 130.5 512.0 104.5 512.2 104.2 512.5 100.5 512.5 100.2 512.8 97.0 512.8 96.8 513.0 71.5 513.2 71.2 513.5 67.5 513.5 67.2 513.8 63.8 513.8 63.5 514.0 54.8 514.0 54.5 514.2 39.2 514.2 39.2 552.2 340.5 552.2Z"/><path fill="#fcca17" fill-rule="evenodd" d="M340.5 436.8 295.0 436.8 294.8 436.5 294.8 379.2 258.0 379.2 258.8 380.0 259.2 382.0 259.2 420.0 259.0 420.2 259.0 429.8 258.8 430.0 258.5 440.8 258.2 441.0 258.2 444.0 257.5 447.0 257.0 459.8 256.0 464.2 256.0 466.8 255.0 471.0 254.8 473.8 254.2 475.0 253.2 482.5 252.5 485.2 252.2 489.2 252.0 489.5 251.2 495.0 249.8 499.0 246.8 502.2 241.5 505.0 237.0 506.5 232.8 507.5 226.2 508.2 226.0 508.5 224.2 508.5 224.0 508.8 221.5 508.8 221.2 509.0 208.0 509.5 207.8 509.8 204.5 509.8 204.2 510.0 198.2 510.2 198.0 510.5 175.0 510.8 174.8 511.0 169.0 511.0 168.8 511.2 160.2 511.5 160.0 511.8 141.5 511.8 141.2 512.0 135.8 512.0 135.5 512.2 126.5 512.5 126.2 512.8 107.5 512.8 107.2 513.0 101.8 513.0 101.5 513.2 92.5 513.5 92.2 513.8 74.5 513.8 74.2 514.0 68.8 514.0 68.5 514.2 59.5 514.5 59.2 514.8 39.2 514.8 39.2 552.2 340.5 552.2Z"/><path fill="#fccf12" fill-rule="evenodd" d="M340.5 436.8 295.0 436.8 294.8 436.5 294.8 379.2 259.0 379.2 259.8 382.8 259.8 390.8 259.5 391.0 259.5 426.2 259.2 426.5 258.8 441.2 258.5 441.5 258.5 444.0 257.8 447.5 257.2 459.2 256.2 464.0 256.0 468.2 255.2 470.8 255.0 473.8 254.2 476.2 254.2 478.0 252.8 485.5 252.5 489.5 252.2 489.8 251.5 495.2 250.0 499.2 246.8 502.8 241.0 505.8 237.2 507.0 231.8 508.2 224.8 509.0 224.5 509.2 222.2 509.2 222.0 509.5 206.5 510.2 206.2 510.5 203.2 510.5 203.0 510.8 196.8 511.0 196.5 511.2 172.5 511.5 172.2 511.8 167.8 511.8 167.5 512.0 164.0 512.0 163.8 512.2 156.2 512.2 156.0 512.5 139.0 512.5 138.8 512.8 134.5 512.8 134.2 513.0 130.5 513.0 130.2 513.2 122.8 513.2 122.5 513.5 105.0 513.5 104.8 513.8 100.5 513.8 100.2 514.0 96.5 514.0 96.2 514.2 72.0 514.5 71.8 514.8 67.5 514.8 67.2 515.0 63.5 515.0 63.2 515.2 55.2 515.2 55.0 515.5 39.2 515.5 39.2 552.2 340.5 552.2Z"/><path fill="#fdd50e" fill-rule="evenodd" d="M340.5 436.8 295.0 436.8 294.8 436.5 294.8 379.2 259.5 379.2 260.0 381.5 260.0 384.5 260.2 384.8 260.0 395.8 259.8 396.0 259.8 428.2 259.5 428.5 259.0 441.5 258.8 441.8 258.8 444.2 258.0 447.8 257.5 459.0 256.5 464.0 256.2 468.0 255.5 470.8 255.5 472.2 254.5 476.2 254.2 479.5 253.0 485.5 252.8 489.8 252.5 490.0 251.8 495.2 250.5 499.0 249.5 500.5 246.8 503.2 240.5 506.5 232.0 508.8 227.5 509.2 227.2 509.5 225.5 509.5 225.2 509.8 223.2 509.8 223.0 510.0 205.2 511.0 205.0 511.2 202.2 511.2 202.0 511.5 199.2 511.5 199.0 511.8 170.8 512.2 170.5 512.5 166.5 512.5 166.2 512.8 162.2 512.8 162.0 513.0 137.2 513.2 137.0 513.5 133.0 513.5 132.8 513.8 128.8 513.8 128.5 514.0 103.2 514.2 103.0 514.5 99.0 514.5 98.8 514.8 94.8 514.8 94.5 515.0 70.2 515.2 70.0 515.5 61.5 515.8 61.2 516.0 39.2 516.0 39.2 552.2 340.5 552.2Z"/><path fill="#fdda09" fill-rule="evenodd" d="M340.5 436.8 295.0 436.8 294.8 436.5 294.8 379.2 259.8 379.2 260.5 382.2 260.2 425.0 260.0 425.2 259.2 441.8 259.0 442.0 259.0 444.2 258.2 447.8 258.2 452.0 258.0 452.2 257.5 461.0 256.8 463.8 256.5 468.0 255.8 470.5 255.5 473.5 254.8 476.0 254.5 479.5 253.2 485.8 253.0 490.0 251.8 496.5 249.8 500.8 246.8 503.8 244.5 505.2 240.0 507.2 232.5 509.2 228.0 509.8 227.8 510.0 226.0 510.0 225.8 510.2 224.0 510.2 223.8 510.5 207.2 511.5 207.0 511.8 204.0 511.8 203.8 512.0 197.8 512.2 197.5 512.5 175.8 512.8 175.5 513.0 169.0 513.0 168.8 513.2 160.0 513.5 159.8 513.8 142.2 513.8 142.0 514.0 135.8 514.0 135.5 514.2 126.5 514.5 126.2 514.8 108.2 514.8 108.0 515.0 101.8 515.0 101.5 515.2 92.5 515.5 92.2 515.8 75.2 515.8 75.0 516.0 68.8 516.0 68.5 516.2 59.2 516.5 59.0 516.8 39.2 516.8 39.2 552.2 340.5 552.2Z"/><path fill="#fddf04" fill-rule="evenodd" d="M340.5 436.8 295.0 436.8 294.8 436.5 294.8 379.2 260.2 379.2 260.8 380.8 260.8 383.0 261.0 383.2 261.0 388.5 260.8 388.8 260.8 393.8 260.5 394.0 260.5 427.2 260.2 427.5 260.2 430.5 260.0 430.8 260.0 435.8 259.8 436.0 259.8 438.5 259.5 438.8 259.5 442.0 259.2 442.2 259.2 444.5 258.5 448.0 258.5 452.2 258.2 452.5 258.2 455.0 258.0 455.2 257.8 460.8 257.0 463.5 257.0 465.8 256.8 466.0 256.5 469.0 256.0 470.2 255.8 473.5 255.0 476.0 254.8 479.5 253.5 485.8 253.2 490.2 252.0 496.8 250.0 501.0 246.5 504.5 240.2 507.8 233.0 509.8 226.8 510.5 226.5 510.8 224.8 510.8 224.5 511.0 222.2 511.0 222.0 511.2 209.0 512.0 208.8 512.2 196.5 513.0 196.2 513.2 172.8 513.5 172.5 513.8 167.8 513.8 167.5 514.0 163.8 514.0 163.5 514.2 157.0 514.2 156.8 514.5 139.2 514.5 139.0 514.8 134.0 514.8 133.8 515.0 130.2 515.0 130.0 515.2 123.2 515.2 123.0 515.5 105.2 515.5 105.0 515.8 100.0 515.8 99.8 516.0 96.2 516.0 96.0 516.2 72.2 516.5 72.0 516.8 67.0 516.8 66.8 517.0 63.2 517.0 63.0 517.2 56.0 517.2 55.8 517.5 39.2 517.5 39.2 552.2 340.5 552.2Z"/><path fill="#fce600" fill-rule="evenodd" d="M340.5 436.8 295.0 436.8 294.8 436.5 294.8 379.2 261.0 379.2 261.0 380.8 261.2 381.0 261.0 423.8 260.8 424.0 260.8 428.5 260.5 428.8 260.5 431.8 260.2 432.0 260.2 436.5 259.8 439.0 259.5 444.8 258.8 448.2 258.8 452.5 258.5 452.8 258.5 455.0 258.2 455.2 258.0 460.5 257.2 463.2 257.0 467.5 256.2 470.0 256.0 473.2 255.2 475.8 255.0 479.5 254.0 484.0 253.8 488.5 253.5 488.8 253.5 490.5 253.2 490.8 252.5 496.0 251.8 498.5 250.8 500.5 249.5 502.2 247.0 504.8 244.8 506.2 239.8 508.5 232.0 510.5 225.5 511.2 225.2 511.5 223.2 511.5 223.0 511.8 210.8 512.5 210.5 512.8 207.8 512.8 207.5 513.0 204.8 513.0 204.5 513.2 201.8 513.2 201.5 513.5 198.8 513.5 198.5 513.8 195.2 513.8 195.0 514.0 170.5 514.2 170.2 514.5 166.2 514.5 166.0 514.8 162.2 514.8 162.0 515.0 137.0 515.2 136.8 515.5 132.8 515.5 132.5 515.8 128.8 515.8 128.5 516.0 103.0 516.2 102.8 516.5 98.8 516.5 98.5 516.8 94.8 516.8 94.5 517.0 70.0 517.2 69.8 517.5 65.8 517.5 65.5 517.8 61.5 517.8 61.2 518.0 39.2 518.0 39.2 552.2 340.5 552.2Z"/><path fill="#f7ea00" fill-rule="evenodd" d="M340.5 436.8 295.0 436.8 294.8 436.5 294.8 379.2 262.2 379.2 262.5 380.5 262.5 388.8 262.0 391.0 262.0 424.5 261.8 424.8 261.8 428.2 261.2 430.2 261.0 437.5 260.5 439.2 260.5 443.0 259.5 448.0 259.5 452.8 258.8 456.2 258.8 460.0 257.8 464.0 257.8 467.0 256.8 470.8 256.8 473.0 255.8 476.5 255.5 481.2 254.5 485.5 254.2 491.2 253.5 493.8 253.0 497.5 251.5 501.2 250.0 503.5 247.0 506.5 244.8 508.0 239.8 510.2 233.0 512.0 226.8 512.8 226.5 513.0 224.8 513.0 224.5 513.2 222.5 513.2 222.2 513.5 219.5 513.5 219.2 513.8 211.2 514.2 211.0 514.5 208.5 514.5 208.2 514.8 203.0 515.0 202.8 515.2 200.2 515.2 200.0 515.5 197.5 515.5 197.2 515.8 193.2 515.8 193.0 516.0 173.8 516.0 173.5 516.2 167.8 516.2 167.5 516.5 160.5 516.8 160.2 517.0 140.2 517.0 140.0 517.2 134.0 517.2 133.8 517.5 126.8 517.8 126.5 518.0 106.2 518.0 106.0 518.2 100.0 518.2 99.8 518.5 92.8 518.8 92.5 519.0 73.2 519.0 73.0 519.2 67.0 519.2 66.8 519.5 59.5 519.8 59.2 520.0 39.2 520.0 39.2 552.2 340.5 552.2Z"/><path fill="#f3ee00" fill-rule="evenodd" d="M340.5 436.8 295.0 436.8 294.8 436.5 294.8 379.2 264.0 379.2 264.0 387.2 263.8 387.5 263.8 389.5 263.2 390.8 263.2 395.8 263.0 396.0 263.0 428.0 262.2 430.0 262.2 436.2 262.0 436.5 262.0 437.8 261.5 438.5 261.2 445.0 260.5 446.8 260.2 454.2 259.5 456.0 259.5 460.5 258.5 463.0 258.5 467.5 257.5 470.0 257.5 473.2 257.0 475.2 256.5 476.0 256.2 482.2 255.5 483.8 255.2 491.5 254.2 494.8 254.0 498.2 251.8 503.5 249.5 506.8 248.2 508.0 243.0 511.0 237.0 513.2 234.2 513.5 233.0 514.0 230.2 514.2 230.0 514.5 227.8 514.5 224.8 515.2 218.5 515.5 215.2 516.2 209.0 516.5 207.2 517.0 201.5 517.2 197.8 518.0 194.2 518.0 194.0 518.2 169.5 518.2 169.2 518.5 166.5 518.5 164.8 519.0 161.5 519.0 161.2 519.2 135.5 519.2 135.2 519.5 132.5 519.5 131.0 520.0 127.5 520.0 127.2 520.2 101.5 520.2 101.2 520.5 98.5 520.5 97.0 521.0 93.5 521.0 93.2 521.2 68.5 521.2 68.2 521.5 65.5 521.5 64.0 522.0 60.5 522.0 60.2 522.2 39.2 522.2 39.2 552.2 340.5 552.2Z"/><path fill="#ebe903" fill-rule="evenodd" d="M340.5 436.8 295.0 436.8 294.8 436.5 294.8 379.2 264.5 379.2 264.5 389.0 263.8 390.5 263.8 392.8 263.5 393.0 263.5 428.2 262.8 429.8 262.5 437.8 261.8 438.8 261.8 444.8 261.5 446.0 260.8 447.0 260.8 454.0 260.5 455.0 259.8 456.0 259.8 461.5 258.8 463.0 258.8 468.5 257.8 470.0 257.8 474.5 256.8 476.0 256.8 482.0 256.5 483.0 255.8 484.0 255.8 491.2 255.5 491.5 255.5 492.8 254.8 493.8 254.5 498.5 253.5 500.2 253.5 501.2 252.0 504.2 250.0 507.5 248.8 508.8 242.2 512.2 238.0 514.0 234.2 514.2 232.5 515.0 231.2 515.0 231.0 515.2 227.5 515.2 225.5 516.0 224.0 516.0 223.8 516.2 218.5 516.2 216.2 517.0 214.5 517.0 214.2 517.2 209.0 517.2 207.0 518.0 200.0 518.2 197.8 519.0 167.0 519.2 165.0 520.0 133.0 520.2 131.0 521.0 99.0 521.2 97.0 522.0 66.0 522.2 64.0 523.0 39.2 523.2 39.2 552.2 340.5 552.2Z"/><path fill="#e4e605" fill-rule="evenodd" d="M340.5 436.8 295.0 436.8 294.8 436.5 294.8 379.2 264.8 379.2 264.8 390.0 264.0 390.8 264.0 426.2 263.8 426.5 263.8 429.0 263.0 429.8 263.0 437.0 262.8 438.2 262.0 438.8 262.0 445.2 261.8 446.2 261.0 446.8 261.0 454.5 260.8 455.2 260.0 455.8 260.0 461.8 259.0 462.8 259.0 468.8 258.0 469.8 258.0 474.8 257.0 475.8 257.0 482.5 256.8 483.2 256.0 483.8 256.0 492.0 255.8 493.2 255.0 493.8 254.8 499.0 254.0 499.8 253.8 502.0 252.8 503.0 252.8 504.0 251.8 505.0 251.5 506.2 251.0 506.5 249.8 508.8 248.8 509.5 247.8 509.8 247.0 510.5 246.0 510.8 242.5 512.8 241.8 512.8 241.0 513.5 239.8 513.8 238.8 514.5 234.0 514.8 233.0 515.5 232.0 515.8 227.0 515.8 226.0 516.5 225.0 516.8 218.0 516.8 217.0 517.5 215.8 517.8 209.0 517.8 208.0 518.5 206.5 518.5 206.2 518.8 199.8 518.8 198.8 519.5 196.8 519.5 196.5 519.8 166.8 519.8 165.8 520.5 164.0 520.5 163.8 520.8 132.8 520.8 131.8 521.5 130.0 521.5 129.8 521.8 98.8 521.8 97.8 522.5 96.0 522.5 95.8 522.8 65.8 522.8 64.8 523.5 63.0 523.5 62.8 523.8 39.2 523.8 39.2 552.2 340.5 552.2Z"/><path fill="#dee306" fill-rule="evenodd" d="M340.5 436.8 295.0 436.8 294.8 436.5 294.8 379.2 265.2 379.2 265.2 391.0 264.2 391.5 264.2 430.0 263.2 430.5 263.2 439.0 262.2 439.5 262.2 447.0 261.2 447.5 261.2 456.0 260.2 456.5 260.2 463.0 259.2 463.5 259.2 469.0 258.2 470.0 258.2 476.0 257.2 476.5 257.2 484.0 256.2 484.5 256.2 494.0 255.2 494.8 255.2 500.0 254.2 500.8 254.2 503.0 253.2 503.8 253.2 505.0 252.2 505.8 252.2 507.0 251.2 507.8 251.2 509.0 250.5 509.2 250.0 510.2 248.8 510.2 248.0 511.2 246.5 511.5 246.0 512.2 244.8 512.5 244.2 513.2 242.8 513.5 242.2 514.2 240.8 514.5 240.2 515.2 235.0 515.5 234.2 516.2 233.2 516.5 228.8 516.5 227.0 517.5 220.8 517.5 220.5 517.8 219.2 517.8 218.2 518.5 210.8 518.8 209.2 519.5 207.5 519.5 207.2 519.8 202.0 519.8 199.5 520.8 169.2 521.0 165.2 522.0 137.0 522.2 132.0 523.2 103.8 523.5 103.5 523.8 101.0 523.8 98.0 524.5 69.2 524.8 66.0 525.5 58.5 525.5 58.2 525.8 39.2 525.8 39.2 552.2 340.5 552.2Z"/><path fill="#d7e008" fill-rule="evenodd" d="M340.5 436.8 295.0 436.8 294.8 436.5 294.8 379.2 265.2 379.2 265.2 391.2 264.5 391.8 264.5 393.5 264.2 393.8 264.2 430.2 263.5 431.0 263.2 439.2 262.5 440.0 262.2 447.2 261.5 448.0 261.2 456.2 260.5 457.0 260.5 462.2 260.2 463.5 259.5 464.2 259.5 469.0 258.5 470.5 258.5 476.0 257.5 477.8 257.5 484.0 256.8 485.0 256.5 486.2 256.5 494.0 255.8 495.0 255.5 500.0 254.8 501.0 254.5 503.2 253.8 504.0 253.8 504.8 252.8 506.2 251.5 509.2 250.0 510.8 249.5 510.8 248.2 511.8 242.0 515.2 239.5 516.2 236.0 516.8 233.2 517.8 230.2 518.0 227.0 519.0 222.0 519.5 218.0 520.5 213.0 521.0 208.5 522.0 205.0 522.2 204.8 522.5 203.2 522.5 203.0 522.8 201.5 522.8 197.8 523.5 187.8 524.0 187.5 524.2 183.5 524.2 183.2 524.5 179.0 524.5 178.8 524.8 175.0 524.8 174.8 525.0 171.8 525.0 171.5 525.2 169.2 525.2 169.0 525.5 161.8 526.0 161.5 526.2 142.2 527.2 142.0 527.5 139.2 527.5 139.0 527.8 136.5 527.8 136.2 528.0 128.2 528.5 128.0 528.8 113.0 529.5 112.8 529.8 106.0 530.0 105.8 530.2 103.0 530.2 102.8 530.5 100.0 530.5 99.8 530.8 97.0 530.8 96.8 531.0 93.0 531.0 92.8 531.2 75.5 531.8 75.2 532.0 70.2 532.0 70.0 532.2 60.2 532.5 60.0 532.8 39.2 533.0 39.2 552.2 340.5 552.2Z"/><path fill="#d1dd0a" fill-rule="evenodd" d="M340.5 436.8 295.0 436.8 294.8 436.5 294.8 379.2 265.2 379.2 265.5 379.5 265.5 391.0 264.8 392.0 264.5 393.0 264.5 430.0 263.8 431.0 263.5 432.0 263.5 439.0 262.8 440.0 262.5 447.2 261.8 448.2 261.8 450.2 261.5 450.5 261.5 456.2 260.8 457.5 260.5 463.2 259.8 464.8 259.8 468.0 259.5 468.2 259.5 469.5 258.8 471.0 258.8 476.0 258.2 476.8 257.8 478.8 257.8 484.0 257.0 485.8 256.8 494.2 256.0 495.8 255.8 500.2 255.2 501.0 255.0 502.5 254.0 505.0 251.8 509.5 250.0 511.2 244.0 515.0 240.0 517.0 236.8 517.8 233.2 519.0 230.2 519.5 225.0 521.0 220.2 521.8 219.0 522.2 214.0 523.0 207.5 524.5 204.8 524.8 203.2 525.2 197.2 526.0 197.0 526.2 188.5 527.0 188.2 527.2 186.0 527.2 185.8 527.5 183.5 527.5 183.2 527.8 181.0 527.8 180.8 528.0 178.5 528.0 178.2 528.2 176.0 528.2 175.8 528.5 171.5 528.8 171.2 529.0 167.2 529.2 167.0 529.5 165.2 529.5 163.0 530.0 154.0 530.8 151.5 531.2 149.2 531.2 146.8 531.8 144.5 531.8 144.2 532.0 137.8 532.5 137.5 532.8 131.2 533.2 129.0 533.8 124.5 534.0 124.2 534.2 117.5 534.8 117.2 535.0 115.2 535.0 115.0 535.2 113.0 535.2 112.8 535.5 110.8 535.5 110.5 535.8 108.5 535.8 108.2 536.0 106.2 536.0 106.0 536.2 104.0 536.2 101.5 536.8 99.2 536.8 99.0 537.0 93.8 537.2 93.5 537.5 82.2 538.0 82.0 538.2 77.5 538.2 77.2 538.5 73.0 538.5 72.8 538.8 68.2 538.8 68.0 539.0 63.5 539.0 63.2 539.2 58.0 539.2 57.8 539.5 39.2 539.8 39.2 552.2 340.5 552.2Z"/><path fill="#cbd90c" fill-rule="evenodd" d="M340.5 436.8 295.0 436.8 294.8 436.5 294.8 379.2 265.5 379.2 265.5 391.2 264.8 392.8 264.8 425.8 264.5 426.0 264.5 430.2 263.8 431.8 263.8 438.0 263.5 438.2 263.5 439.5 262.8 441.0 262.8 447.0 262.2 447.8 261.8 449.8 261.8 456.0 261.0 457.5 260.8 463.0 260.0 464.8 259.8 469.2 259.2 470.0 259.0 471.2 259.0 475.2 258.0 479.2 258.0 484.0 257.2 486.0 257.0 494.2 256.5 495.0 256.0 500.2 255.5 501.0 255.2 502.8 254.5 504.8 252.0 509.8 250.0 511.8 242.8 516.5 240.2 517.8 234.0 520.0 216.2 524.8 215.2 524.8 210.8 526.0 209.8 526.0 208.5 526.5 206.2 526.8 200.0 528.2 198.8 528.2 192.5 529.5 191.0 529.5 190.8 529.8 189.2 529.8 189.0 530.0 187.5 530.0 187.2 530.2 185.8 530.2 185.5 530.5 183.8 530.5 181.8 531.0 180.0 531.0 178.0 531.5 176.2 531.5 176.0 531.8 165.8 533.0 164.0 533.5 162.5 533.5 162.2 533.8 160.8 533.8 160.5 534.0 159.0 534.0 158.8 534.2 157.2 534.2 157.0 534.5 155.5 534.5 155.2 534.8 153.8 534.8 153.5 535.0 152.0 535.0 148.2 535.8 146.8 535.8 146.5 536.0 145.0 536.0 144.8 536.2 143.2 536.2 143.0 536.5 141.5 536.5 141.2 536.8 139.8 536.8 139.5 537.0 138.0 537.0 137.8 537.2 136.2 537.2 136.0 537.5 134.5 537.5 134.2 537.8 132.5 537.8 132.2 538.0 120.2 539.5 118.5 540.0 113.5 540.5 111.8 541.0 110.2 541.0 108.5 541.5 107.0 541.5 106.8 541.8 105.2 541.8 105.0 542.0 103.5 542.0 99.8 542.8 98.0 542.8 97.8 543.0 90.0 543.5 89.8 543.8 86.8 543.8 86.5 544.0 83.0 544.0 82.8 544.2 62.0 545.2 61.8 545.5 47.2 546.0 47.0 546.2 39.2 546.2 39.2 552.2 340.5 552.2Z"/><path fill="#c5d60e" fill-rule="evenodd" d="M340.5 436.8 295.0 436.8 294.8 436.5 294.8 379.2 265.5 379.2 265.8 380.0 265.8 391.0 265.0 392.5 265.0 394.0 264.8 394.2 264.8 430.0 264.0 431.8 263.8 439.2 263.0 441.0 262.8 447.2 262.0 449.5 262.0 454.8 261.0 459.0 261.0 462.8 260.2 464.8 260.0 469.2 259.5 470.0 259.2 471.2 259.2 474.8 258.2 479.5 258.2 483.8 257.5 486.2 257.2 494.2 256.8 495.2 256.2 500.2 254.8 505.0 252.2 510.0 249.8 512.5 243.0 517.2 239.0 519.2 234.0 521.2 218.0 526.2 200.0 530.8 191.2 532.5 188.5 532.8 187.0 533.2 166.2 536.5 164.8 537.0 159.2 537.8 146.8 540.2 123.5 544.0 122.0 544.5 120.8 544.5 119.2 545.0 118.0 545.0 114.0 546.0 110.2 546.5 109.0 547.0 100.2 548.8 98.8 548.8 96.8 549.2 94.2 549.2 94.0 549.5 91.2 549.5 91.0 549.8 69.0 551.0 68.8 551.2 65.0 551.2 64.8 551.5 61.2 551.5 61.0 551.8 57.5 551.8 57.2 552.0 54.0 552.0 54.0 552.2 340.5 552.2Z"/><path fill="#bfd311" fill-rule="evenodd" d="M340.5 436.8 295.0 436.8 294.8 436.5 294.8 379.2 265.8 379.2 265.8 381.8 266.0 382.0 265.8 391.2 265.2 392.0 265.2 393.2 265.0 393.5 265.0 428.2 264.8 428.5 264.8 430.5 264.2 431.2 264.2 432.5 264.0 432.8 264.0 438.5 263.2 440.8 263.0 447.0 262.2 449.0 262.0 456.2 261.2 458.5 261.2 462.0 260.5 464.8 260.2 469.0 259.5 471.5 259.2 476.5 258.8 477.8 258.8 479.5 258.5 479.8 258.5 483.8 257.8 486.8 257.8 491.5 257.5 491.8 257.5 494.2 256.8 497.2 256.8 499.2 255.0 505.2 253.0 509.5 251.5 511.5 248.8 514.0 244.8 517.0 242.0 518.8 237.0 521.2 227.0 525.2 213.8 529.5 213.0 529.5 205.0 532.0 202.2 532.5 201.2 533.0 191.8 535.2 166.8 540.0 165.5 540.5 162.0 541.0 160.8 541.5 159.8 541.5 149.5 544.0 147.2 544.2 146.0 544.8 127.0 548.2 125.8 548.8 122.2 549.2 114.5 551.2 113.5 551.2 110.8 552.0 110.8 552.2 340.5 552.2Z"/><path fill="#b8d113" fill-rule="evenodd" d="M340.5 436.8 295.0 436.8 294.8 436.5 294.8 379.2 265.8 379.2 266.0 380.0 266.0 391.0 265.2 393.0 265.2 397.5 265.0 397.8 265.0 430.0 264.2 432.2 264.2 436.8 264.0 437.0 264.0 439.2 263.2 442.0 263.2 446.2 262.5 449.0 262.2 456.0 261.5 458.2 261.2 463.2 260.8 464.5 260.5 468.8 259.8 471.5 259.8 474.5 259.0 478.0 258.8 484.0 258.0 487.5 258.0 492.2 257.2 496.0 257.0 499.5 256.0 503.5 254.8 506.8 252.2 511.2 247.0 516.2 240.0 521.0 229.0 526.2 220.5 529.5 217.0 530.5 216.2 531.0 195.2 537.5 185.0 540.0 175.0 542.0 172.8 542.8 171.8 542.8 169.5 543.5 168.5 543.5 156.8 546.5 149.5 548.8 140.8 550.5 139.5 551.0 137.2 551.2 136.0 551.8 133.8 552.0 133.8 552.2 340.5 552.2Z"/><path fill="#b2ce16" fill-rule="evenodd" d="M294.8 379.2 265.8 379.2 266.2 381.0 266.2 389.0 266.0 389.2 266.0 391.5 265.5 392.5 265.5 394.5 265.2 394.8 265.2 429.2 264.5 432.0 264.2 439.0 263.5 441.8 263.5 445.5 263.2 445.8 263.2 447.5 262.8 448.8 262.8 450.8 262.5 451.0 262.5 455.5 261.8 458.2 261.5 463.2 261.0 464.8 260.8 468.8 260.0 472.0 260.0 474.8 259.2 478.5 259.0 484.2 258.5 486.0 258.5 488.8 258.2 489.0 258.2 493.2 257.5 496.8 257.5 498.5 256.0 504.8 255.0 507.2 252.5 511.8 247.0 517.2 239.8 522.5 234.0 525.8 223.8 530.5 212.2 535.0 196.5 540.5 195.8 540.5 187.8 543.0 168.2 547.8 160.5 550.2 159.8 550.2 154.8 552.0 154.8 552.2 340.5 552.2 340.5 436.8 295.0 436.8 294.8 436.5Z"/><path fill="#accc18" fill-rule="evenodd" d="M294.8 379.2 266.0 379.2 266.2 380.0 266.2 391.0 265.5 393.8 265.5 427.2 265.2 427.5 265.2 430.2 264.5 434.0 264.5 438.5 263.8 441.5 263.5 447.2 262.8 450.8 262.8 455.0 262.0 458.2 261.8 463.2 261.2 464.8 261.0 468.8 260.2 472.2 260.2 475.0 259.5 478.8 259.5 482.0 259.2 482.2 259.2 484.5 258.8 486.8 258.8 490.2 258.5 490.5 258.5 494.0 258.0 495.8 257.8 499.2 257.0 502.8 255.8 506.5 252.8 512.2 246.2 519.0 241.5 522.8 234.5 527.2 226.0 531.8 212.2 537.8 196.5 544.0 188.5 546.5 186.8 546.8 185.8 547.2 172.2 550.8 168.2 552.0 168.2 552.2 340.5 552.2 340.5 436.8 295.0 436.8 294.8 436.5Z"/><path fill="#a5c91b" fill-rule="evenodd" d="M294.8 379.2 266.0 379.2 266.5 380.0 266.5 390.0 265.8 393.2 265.8 401.2 265.5 401.5 265.5 430.0 264.8 433.0 264.8 437.5 264.0 441.0 263.8 447.0 263.0 450.2 263.0 454.2 262.2 458.0 262.0 463.0 261.5 464.8 261.2 468.8 260.5 472.5 260.5 475.2 260.2 475.5 260.0 479.2 259.8 479.5 259.8 482.8 259.5 483.0 259.2 487.5 259.0 487.8 259.0 491.8 258.8 492.0 258.8 494.5 258.2 496.5 258.0 500.0 256.0 507.0 253.2 512.5 249.5 517.0 242.8 523.2 234.0 529.5 228.0 533.0 219.5 537.2 210.2 541.2 198.2 547.0 192.8 549.0 181.8 552.0 181.8 552.2 340.5 552.2 340.5 436.8 295.0 436.8 294.8 436.5Z"/><path fill="#9fc71d" fill-rule="evenodd" d="M266.2 379.2 266.8 380.8 266.8 387.8 266.5 388.0 266.5 391.2 266.0 393.0 266.0 395.8 265.8 396.0 265.8 429.0 265.0 432.8 264.8 439.2 264.2 440.8 264.0 446.2 263.2 450.0 263.0 456.2 262.5 458.0 262.2 462.8 261.5 466.5 261.5 468.8 261.0 470.8 260.8 475.2 260.5 475.5 260.5 477.5 260.0 480.0 260.0 483.2 259.5 485.8 259.0 495.0 258.8 495.2 258.8 497.0 258.5 497.2 258.0 501.8 256.0 508.2 254.0 512.2 252.5 514.5 248.2 519.5 242.5 525.0 237.2 529.2 230.2 534.0 225.5 536.8 205.5 546.8 199.0 550.8 195.8 552.0 195.0 552.0 195.0 552.2 340.5 552.2 340.5 436.8 295.0 436.8 294.8 436.5 294.8 379.2Z"/><path fill="#98c420" fill-rule="evenodd" d="M266.5 379.2 266.8 379.5 266.8 390.8 266.0 394.5 266.0 427.0 265.8 427.2 265.8 430.5 265.2 432.0 265.0 438.8 264.5 440.5 264.2 445.8 263.5 449.8 263.2 456.0 262.8 458.0 262.5 462.5 262.0 464.5 261.8 468.8 261.5 469.0 261.2 472.8 261.0 473.0 261.0 475.8 260.5 478.0 260.2 484.0 260.0 484.2 259.8 490.0 259.5 490.2 259.5 493.8 259.2 494.0 258.8 499.8 256.8 507.5 254.8 512.0 250.2 518.5 246.2 523.0 240.0 529.0 233.8 534.0 227.8 538.0 208.8 548.2 204.8 550.8 203.2 552.2 340.5 552.2 340.5 436.8 295.0 436.8 294.8 436.5 294.8 379.2Z"/><path fill="#92c121" fill-rule="evenodd" d="M267.0 379.2 267.0 390.2 266.8 390.5 266.5 394.2 266.2 394.5 266.2 426.0 266.0 426.2 266.0 430.2 265.5 432.2 265.2 438.8 264.5 442.8 264.5 446.0 264.2 446.2 264.2 448.0 263.8 450.2 263.5 456.2 263.0 458.2 262.8 463.0 262.2 465.2 261.2 476.8 261.0 477.0 261.0 479.2 260.8 479.5 260.8 482.8 260.5 483.0 260.2 489.2 260.0 489.5 260.0 493.2 259.8 493.5 259.2 499.5 258.0 505.5 256.2 510.5 253.8 515.2 251.8 518.2 246.0 525.5 238.0 533.8 233.2 537.8 226.8 542.2 210.2 551.8 210.0 552.2 340.5 552.2 340.5 436.8 295.0 436.8 294.8 436.5 294.8 379.2Z"/><path fill="#8cbe23" fill-rule="evenodd" d="M267.2 379.2 267.2 381.5 267.5 381.8 267.2 390.5 267.0 390.8 266.8 395.8 266.5 396.0 266.5 428.0 266.2 428.2 266.2 430.8 265.8 433.0 265.8 436.8 265.5 437.0 265.5 439.5 265.0 441.5 264.8 447.0 264.2 449.2 264.0 455.2 263.8 455.5 263.2 462.5 263.0 462.8 262.5 469.2 262.0 471.8 260.2 497.0 260.0 497.2 259.5 502.2 258.5 506.5 256.5 512.2 252.5 519.8 248.0 526.5 240.8 535.8 233.2 543.0 225.8 548.2 220.0 551.5 219.2 552.2 340.5 552.2 340.5 436.8 295.0 436.8 294.8 436.5 294.8 379.2Z"/><path fill="#86bb25" fill-rule="evenodd" d="M267.5 379.2 267.8 380.0 267.8 386.2 267.5 386.5 267.5 391.0 267.0 393.5 267.0 398.8 266.8 399.0 266.8 429.0 266.5 429.2 266.5 431.5 266.2 431.8 266.2 434.0 266.0 434.2 266.0 438.0 265.8 438.2 265.8 440.2 265.2 442.8 265.2 445.8 265.0 446.0 264.8 450.5 264.5 450.8 264.2 456.8 264.0 457.0 263.5 464.2 263.2 464.5 262.8 471.5 262.5 471.8 261.0 496.0 260.8 496.2 260.8 498.5 260.5 498.8 260.5 500.5 260.2 500.8 259.8 504.8 258.5 509.5 256.2 515.5 251.5 524.8 245.2 535.2 241.2 541.0 238.2 544.5 233.5 548.8 228.5 552.0 228.5 552.2 340.5 552.2 340.5 436.8 295.0 436.8 294.8 436.5 294.8 379.2Z"/><path fill="#80b826" fill-rule="evenodd" d="M267.8 379.2 268.0 379.5 268.0 387.8 267.8 388.0 267.8 391.5 267.5 391.8 267.5 394.0 267.2 394.2 267.0 429.8 266.8 430.0 266.8 432.2 266.5 432.5 266.2 439.0 265.8 441.5 265.5 447.0 265.2 447.2 265.0 452.5 264.8 452.8 264.8 455.8 264.5 456.0 264.2 461.0 264.0 461.2 263.2 471.5 263.0 471.8 262.5 481.8 262.2 482.0 262.2 486.0 262.0 486.2 261.8 494.8 261.5 495.0 261.5 497.8 261.2 498.0 260.8 503.5 259.5 509.2 257.0 516.8 252.0 528.2 247.5 537.5 247.5 538.0 242.8 546.8 241.2 548.8 237.8 552.2 340.5 552.2 340.5 436.8 295.0 436.8 294.8 436.5 294.8 379.2Z"/><path fill="#78b428" fill-rule="evenodd" d="M268.0 379.2 268.2 379.5 268.2 388.8 268.0 389.0 268.0 392.0 267.8 392.2 267.8 395.2 267.5 395.5 267.5 426.0 267.2 426.2 267.2 430.5 267.0 430.8 267.0 433.2 266.8 433.5 266.5 440.0 266.2 440.2 266.0 445.5 265.8 445.8 265.8 448.2 265.5 448.5 265.5 451.0 265.2 451.2 265.2 454.5 265.0 454.8 264.5 463.0 264.2 463.2 263.8 471.5 263.5 471.8 263.0 483.0 262.8 483.2 262.8 487.8 262.5 488.0 262.5 493.0 262.2 493.2 262.2 496.8 262.0 497.0 261.8 501.8 261.5 502.0 260.8 507.8 259.0 514.5 250.8 538.2 247.0 552.2 340.5 552.2 340.5 436.8 295.0 436.8 294.8 436.5 294.8 379.2Z"/><path fill="#76b32a" fill-rule="evenodd" d="M269.5 379.2 269.2 379.5 269.2 384.5 269.0 384.8 269.0 390.2 268.8 390.5 268.8 393.8 268.5 394.0 268.2 429.5 268.0 429.8 267.8 436.8 267.5 437.0 267.5 440.0 267.2 440.2 266.5 452.8 266.2 453.0 266.2 456.2 266.0 456.5 265.8 462.8 265.5 463.0 265.5 466.2 265.2 466.5 265.2 470.0 265.0 470.2 264.0 499.2 263.8 499.5 263.8 502.5 263.5 502.8 263.0 509.2 262.8 509.5 262.2 514.2 260.5 523.5 260.0 529.2 259.8 529.5 259.8 532.2 259.5 532.5 259.8 542.0 260.8 546.8 261.8 549.5 263.0 551.8 263.0 552.2 340.5 552.2 340.5 436.8 295.0 436.8 294.8 436.5 294.8 379.2Z"/><path fill="#74b22c" fill-rule="evenodd" d="M270.2 379.2 270.0 388.8 269.8 389.0 269.8 393.2 269.5 393.5 269.5 403.0 269.2 403.2 269.2 429.2 269.0 429.5 268.8 437.8 268.5 438.0 268.5 441.2 268.2 441.5 268.2 444.8 268.0 445.0 267.2 460.0 267.0 460.2 267.0 464.2 266.8 464.5 266.8 469.2 266.5 469.5 266.0 503.8 265.8 504.0 265.5 515.8 265.2 516.0 265.2 524.0 265.5 524.2 265.8 530.2 267.2 537.5 268.5 541.0 270.8 545.5 275.8 552.2 340.5 552.2 340.5 436.8 295.0 436.8 294.8 436.5 294.8 379.2Z"/><path fill="#72b12e" fill-rule="evenodd" d="M271.5 379.2 271.2 382.5 271.0 382.8 271.0 386.8 270.8 387.0 270.5 400.8 270.2 401.0 270.2 429.2 270.0 429.5 270.0 434.2 269.8 434.5 269.8 439.0 269.5 439.2 269.5 443.0 269.2 443.2 269.2 447.2 269.0 447.5 268.8 455.8 268.5 456.0 268.5 460.8 268.2 461.0 268.2 467.2 268.0 467.5 268.0 496.0 268.2 496.2 268.2 508.8 268.5 509.0 268.8 516.5 269.0 516.8 269.2 520.5 270.2 525.8 272.5 533.0 275.5 539.2 277.8 542.8 281.0 547.0 285.8 552.2 340.5 552.2 340.5 436.8 295.0 436.8 294.8 436.5 294.8 379.2Z"/><path fill="#70b030" fill-rule="evenodd" d="M272.5 379.2 272.2 381.8 272.0 382.0 272.0 385.0 271.8 385.2 271.5 399.2 271.2 399.5 271.2 429.5 271.0 429.8 271.0 435.2 270.8 435.5 270.8 440.5 270.5 440.8 270.0 455.5 269.8 455.8 269.8 462.0 269.5 462.2 269.5 481.2 269.8 481.5 269.8 489.2 270.0 489.5 270.2 500.0 270.5 500.2 270.5 504.0 270.8 504.2 271.0 509.2 271.2 509.5 272.0 515.5 273.5 521.2 274.8 524.8 278.5 532.5 283.0 539.0 289.0 545.8 295.0 551.2 295.8 552.2 340.5 552.2 340.5 436.8 295.0 436.8 294.8 436.5 294.8 379.2Z"/><path fill="#6fb13a" fill-rule="evenodd" d="M273.5 379.2 273.0 380.2 272.8 383.2 272.5 383.5 272.2 395.8 272.0 396.0 272.0 427.8 271.8 428.0 271.8 435.0 271.5 435.2 271.5 441.0 271.2 441.2 270.8 458.5 270.5 458.8 270.5 475.2 270.8 475.5 270.8 483.0 271.0 483.2 271.2 492.5 271.5 492.8 271.5 496.2 271.8 496.5 272.2 504.8 272.5 505.0 272.5 506.8 272.8 507.0 272.8 508.5 273.5 512.2 275.5 519.0 279.5 527.2 285.2 535.2 293.5 543.8 302.0 551.0 303.0 552.2 340.5 552.2 340.5 436.8 295.0 436.8 294.8 436.5 294.8 379.2Z"/><path fill="#6fb141" fill-rule="evenodd" d="M273.5 379.2 272.8 383.0 272.5 394.0 272.2 394.2 272.2 426.0 272.0 426.2 272.0 434.2 271.8 434.5 271.8 440.5 271.5 440.8 271.0 459.2 270.8 459.5 270.8 471.8 271.0 472.0 271.2 485.8 271.5 486.0 271.5 490.0 271.8 490.2 271.8 493.8 272.0 494.0 272.5 502.5 272.8 502.8 272.8 504.8 273.0 505.0 273.8 510.8 275.8 517.5 279.8 525.8 282.8 530.2 285.8 534.0 292.2 540.8 299.0 546.8 305.0 551.5 305.5 552.2 340.5 552.2 340.5 436.8 295.0 436.8 294.8 436.5 294.8 379.2Z"/><path fill="#6fb148" fill-rule="evenodd" d="M273.8 379.2 273.0 382.5 272.8 392.2 272.5 392.5 272.5 423.0 272.2 423.2 272.2 433.5 272.0 433.8 272.0 440.0 271.8 440.2 271.8 446.2 271.5 446.5 271.5 452.2 271.2 452.5 271.0 468.5 271.2 468.8 271.5 483.5 271.8 483.8 271.8 487.8 272.0 488.0 272.0 491.5 272.2 491.8 272.2 494.8 272.5 495.0 273.0 502.8 273.2 503.0 273.2 504.8 273.5 505.0 274.2 510.2 276.5 517.5 278.5 521.8 282.2 527.8 288.2 535.0 296.5 542.8 307.8 551.8 308.0 552.2 340.5 552.2 340.5 436.8 295.0 436.8 294.8 436.5 294.8 379.2Z"/><path fill="#6eb250" fill-rule="evenodd" d="M274.0 379.2 273.2 382.0 273.0 390.8 272.8 391.0 272.5 432.8 272.2 433.0 272.2 439.8 272.0 440.0 271.8 452.5 271.5 452.8 271.2 465.8 271.5 466.0 271.5 475.2 271.8 475.5 272.0 485.8 272.2 486.0 272.2 489.5 272.5 489.8 272.5 492.8 272.8 493.0 273.2 500.8 273.5 501.0 273.5 502.8 273.8 503.0 273.8 504.5 274.0 504.8 274.0 506.2 274.8 510.0 276.8 516.2 280.5 523.5 283.5 527.8 287.8 532.8 294.5 539.2 303.2 546.5 309.2 551.0 310.2 552.2 340.5 552.2 340.5 436.8 295.0 436.8 294.8 436.5 294.8 379.2Z"/><path fill="#6eb257" fill-rule="evenodd" d="M274.0 379.2 273.5 381.8 273.5 383.5 273.2 383.8 273.2 389.0 273.0 389.2 272.8 431.8 272.5 432.0 272.5 439.2 272.2 439.5 272.0 452.8 271.8 453.0 271.8 473.2 272.0 473.5 272.0 479.2 272.2 479.5 272.5 487.5 272.8 487.8 272.8 490.8 273.0 491.0 273.0 493.8 273.2 494.0 273.8 501.0 274.0 501.2 274.0 503.0 274.2 503.2 275.0 508.5 276.5 513.8 280.2 521.5 283.8 526.5 286.5 529.8 294.8 537.8 301.8 543.5 312.0 551.2 312.8 552.2 340.5 552.2 340.5 436.8 295.0 436.8 294.8 436.5 294.8 379.2Z"/><path fill="#6db35e" fill-rule="evenodd" d="M274.5 379.2 273.8 381.2 273.5 387.2 273.2 387.5 273.0 430.5 272.8 430.8 272.8 438.5 272.5 438.8 272.5 445.8 272.2 446.0 272.2 452.8 272.0 453.0 272.0 471.5 272.2 471.8 272.8 485.8 273.0 486.0 273.0 489.0 273.2 489.2 274.0 499.2 274.2 499.5 274.2 501.2 274.5 501.5 275.2 507.2 277.2 514.0 280.8 520.8 283.0 524.0 287.0 528.8 291.0 532.8 296.8 537.8 314.5 551.2 315.2 552.2 340.5 552.2 340.5 436.8 295.0 436.8 294.8 436.5 294.8 379.2Z"/><path fill="#6db366" fill-rule="evenodd" d="M274.8 379.2 274.2 380.0 273.8 382.5 273.5 394.5 273.2 394.8 273.2 429.2 273.0 429.5 273.0 438.0 272.8 438.2 272.8 445.5 272.5 445.8 272.5 453.0 272.2 453.2 272.2 469.8 272.5 470.0 273.0 484.0 273.2 484.2 273.2 487.2 273.5 487.5 274.2 497.5 274.5 497.8 274.5 499.5 274.8 499.8 274.8 501.5 275.0 501.8 275.5 506.0 277.5 513.0 279.5 517.2 282.2 521.5 285.0 525.0 290.2 530.5 298.5 537.5 314.2 549.0 317.8 552.2 340.5 552.2 340.5 436.8 295.0 436.8 294.8 436.5 294.8 379.2Z"/><path fill="#6db36d" fill-rule="evenodd" d="M275.2 379.2 274.5 380.0 274.0 382.0 273.8 392.2 273.5 392.5 273.5 427.2 273.2 427.5 273.2 437.2 273.0 437.5 273.0 445.2 272.8 445.5 272.8 453.2 272.5 453.5 272.5 468.2 272.8 468.5 273.2 482.5 273.5 482.8 273.5 485.5 273.8 485.8 273.8 488.5 274.0 488.8 274.0 491.2 274.2 491.5 274.8 498.0 275.0 498.2 275.0 499.8 275.2 500.0 275.2 501.5 275.5 501.8 275.5 503.2 276.2 507.0 277.8 512.0 280.0 516.8 282.5 520.5 286.0 524.8 290.2 529.0 298.0 535.5 316.2 548.5 319.2 551.0 320.2 552.2 340.5 552.2 340.5 436.8 295.0 436.8 294.8 436.5 294.8 379.2Z"/><path fill="#6cb474" fill-rule="evenodd" d="M275.2 379.2 274.5 380.5 274.2 381.8 274.0 390.2 273.8 390.5 273.8 424.2 273.5 424.5 273.5 436.5 273.2 436.8 273.2 445.0 273.0 445.2 273.0 453.5 272.8 453.8 272.8 467.0 273.0 467.2 273.5 481.0 273.8 481.2 273.8 484.0 274.0 484.2 274.0 487.0 274.2 487.2 275.0 496.5 275.2 496.8 275.5 500.2 275.8 500.5 276.8 507.0 278.2 511.8 280.5 516.2 283.5 520.5 291.0 528.2 300.5 535.8 316.0 546.2 320.8 550.0 323.5 551.8 323.8 552.2 340.5 552.2 340.5 436.8 295.0 436.8 294.8 436.5 294.8 379.2Z"/><path fill="#6cb57b" fill-rule="evenodd" d="M275.2 379.2 275.2 379.8 274.8 380.2 274.5 382.8 274.2 383.0 274.2 388.0 274.0 388.2 273.8 435.5 273.5 435.8 273.2 453.8 273.0 454.0 273.0 466.2 273.2 466.5 273.2 471.2 273.5 471.5 274.0 482.8 274.2 483.0 274.2 485.5 274.5 485.8 274.5 488.2 274.8 488.5 275.2 495.0 275.5 495.2 275.5 497.0 275.8 497.2 276.8 504.8 278.2 510.2 280.5 515.0 284.8 520.8 291.8 527.5 302.8 535.8 326.8 551.5 327.2 552.2 340.5 552.2 340.5 436.8 295.0 436.8 294.8 436.5 294.8 379.2Z"/><path fill="#6db782" fill-rule="evenodd" d="M275.5 379.2 274.8 381.0 274.5 386.5 274.2 386.8 274.0 435.0 273.8 435.2 273.5 454.8 273.2 455.0 273.2 465.2 273.5 465.5 274.0 477.8 274.2 478.0 274.2 481.2 274.5 481.5 275.2 491.2 275.5 491.5 275.5 493.2 275.8 493.5 275.8 495.2 276.0 495.5 276.0 497.2 276.5 499.0 276.8 502.0 278.8 510.0 281.2 515.0 284.8 519.5 289.0 523.8 292.2 526.5 300.8 532.8 325.2 548.2 327.2 549.2 331.0 551.8 331.2 552.2 340.5 552.2 340.5 436.8 295.0 436.8 294.8 436.5 294.8 379.2Z"/><path fill="#6db889" fill-rule="evenodd" d="M275.5 379.2 274.8 382.0 274.8 385.2 274.5 385.5 274.2 434.2 274.0 434.5 273.5 464.2 273.8 464.5 274.5 479.8 274.8 480.0 274.8 482.5 275.0 482.8 275.0 485.2 275.2 485.5 276.0 493.8 276.2 494.0 276.5 497.5 276.8 497.8 277.8 504.5 279.2 509.8 281.2 513.8 284.0 517.5 290.2 523.5 298.2 529.5 316.0 540.5 331.0 549.0 334.2 551.2 335.0 552.2 340.5 552.2 340.5 436.8 295.0 436.8 294.8 436.5 294.8 379.2Z"/><path fill="#6dba90" fill-rule="evenodd" d="M275.8 379.2 275.2 380.5 275.0 384.0 274.8 384.2 274.8 394.2 274.5 394.5 274.5 433.8 274.2 434.0 273.8 463.0 274.0 463.2 274.0 467.2 274.2 467.5 274.2 471.5 274.5 471.8 275.0 481.2 275.2 481.5 275.2 483.8 275.5 484.0 275.5 486.2 275.8 486.5 276.5 494.2 276.8 494.5 276.8 496.0 277.0 496.2 277.2 499.2 277.8 500.8 278.2 504.5 279.8 509.5 281.8 513.5 285.0 517.5 289.0 521.2 295.2 526.0 302.5 530.8 312.8 536.8 335.2 548.8 336.8 549.8 338.8 551.8 338.8 552.2 340.5 552.2 340.5 436.8 295.0 436.8 294.8 436.5 294.8 379.2Z"/><path fill="#6ebc97" fill-rule="evenodd" d="M275.8 379.2 275.2 381.2 275.2 383.2 275.0 383.5 275.0 391.8 274.8 392.0 274.8 432.8 274.5 433.0 274.5 445.5 274.2 445.8 274.2 466.5 274.5 466.8 274.8 473.8 275.0 474.0 275.0 476.5 275.2 476.8 275.2 480.0 275.5 480.2 275.5 482.5 275.8 482.8 276.5 491.0 276.8 491.2 278.0 500.8 280.0 508.8 281.5 512.0 283.2 514.5 288.0 519.2 297.2 526.0 313.2 535.2 328.0 542.8 337.2 546.8 339.5 547.5 340.5 547.5 340.5 436.8 295.0 436.8 294.8 436.5 294.8 379.2Z"/><path fill="#6ebd9e" fill-rule="evenodd" d="M276.0 379.2 275.2 382.8 275.2 389.2 275.0 389.5 275.0 431.5 274.8 431.8 274.8 446.0 274.5 446.2 274.5 465.8 274.8 466.0 275.0 472.8 275.2 473.0 275.5 478.5 275.8 478.8 275.8 481.2 276.0 481.5 276.8 489.8 277.0 490.0 278.2 499.5 280.2 508.0 282.5 512.5 287.5 517.8 291.0 520.5 297.0 524.5 311.8 532.8 325.0 539.2 336.0 543.5 339.2 544.2 340.5 544.2 340.5 436.8 295.0 436.8 294.8 436.5 294.8 379.2Z"/><path fill="#6fbfa4" fill-rule="evenodd" d="M276.0 379.2 275.8 381.8 275.5 382.0 275.5 386.8 275.2 387.0 275.2 430.0 275.0 430.2 275.0 446.2 274.8 446.5 274.8 465.2 275.0 465.5 275.0 467.8 275.2 468.0 275.2 471.8 275.5 472.0 275.5 474.2 275.8 474.5 275.8 476.8 276.0 477.0 276.0 480.0 276.2 480.2 276.2 482.2 276.5 482.5 276.5 484.5 276.8 484.8 277.5 492.0 277.8 492.2 278.0 495.2 279.5 503.2 281.2 509.2 283.8 513.2 288.8 517.8 295.0 522.0 303.8 527.0 317.2 533.8 328.8 538.8 335.8 541.0 338.2 541.5 340.5 541.5 340.5 436.8 295.0 436.8 294.8 436.5 294.8 379.2Z"/><path fill="#6fc1ab" fill-rule="evenodd" d="M276.2 379.2 275.8 381.2 275.8 384.8 275.5 385.0 275.5 427.8 275.2 428.0 275.0 465.0 275.5 467.2 275.5 470.5 275.8 470.8 275.8 473.5 276.2 475.8 276.2 478.8 276.5 479.0 276.5 481.2 276.8 481.5 277.8 490.8 278.2 492.5 278.8 497.0 279.5 499.8 279.5 501.0 281.5 508.5 283.2 511.8 286.5 515.0 292.0 519.0 299.8 523.5 314.5 530.8 326.8 536.0 335.8 538.8 340.5 539.2 340.5 436.8 295.0 436.8 294.8 436.5 294.8 379.2Z"/><path fill="#70c3b2" fill-rule="evenodd" d="M276.2 379.2 276.0 383.2 275.8 383.5 275.8 423.2 275.5 423.5 275.2 464.8 275.5 465.0 275.8 469.0 276.0 469.2 276.0 472.8 276.2 473.0 276.5 477.0 276.8 477.2 276.8 480.5 277.5 484.2 277.5 486.2 278.2 489.8 278.2 491.2 278.5 491.5 280.0 501.0 282.0 508.5 283.5 511.2 286.0 513.8 289.0 516.0 296.0 520.2 306.5 525.5 307.0 525.5 319.5 531.2 326.5 534.0 333.8 536.2 337.8 537.0 340.5 537.0 340.5 436.8 295.0 436.8 294.8 436.5 294.8 379.2Z"/><path fill="#71c4b9" fill-rule="evenodd" d="M276.5 379.2 276.2 382.0 276.0 382.2 276.0 400.5 275.8 400.8 275.5 464.2 276.2 468.2 276.2 472.0 277.0 476.0 277.2 481.5 277.8 483.2 277.8 485.0 278.8 490.2 278.8 491.8 281.5 505.5 282.5 508.5 283.5 510.5 287.0 513.8 294.8 518.5 303.0 522.5 314.5 527.5 327.5 532.5 333.5 534.2 337.5 534.8 337.8 535.0 340.2 535.0 340.5 535.2 340.5 436.8 295.0 436.8 294.8 436.5 294.8 379.2Z"/><path fill="#75c5bf" fill-rule="evenodd" d="M276.5 379.2 276.5 381.0 276.2 381.2 276.2 393.2 276.0 393.5 276.0 450.0 275.8 450.2 275.8 464.0 276.5 467.2 276.5 471.0 276.8 471.2 276.8 473.5 277.2 475.0 277.5 481.0 278.0 482.2 278.2 486.0 279.0 489.0 279.2 492.2 279.8 493.5 280.0 496.2 281.8 503.5 281.8 504.5 283.0 508.5 284.2 510.8 287.8 513.5 292.0 516.0 300.8 520.2 316.0 526.5 328.5 531.0 335.2 532.8 340.5 533.2 340.5 436.8 295.0 436.8 294.8 436.5 294.8 379.2Z"/><path fill="#79c5c5" fill-rule="evenodd" d="M276.8 379.2 276.5 380.0 276.5 386.0 276.2 386.2 276.2 450.0 276.0 450.2 276.0 463.8 276.8 466.8 277.0 473.2 277.8 476.0 277.8 480.0 278.5 483.0 278.8 487.0 279.2 488.2 279.5 491.2 280.5 495.2 280.5 496.8 281.0 498.0 281.2 500.2 283.5 508.8 284.0 509.8 286.0 511.8 291.8 515.0 297.5 517.8 308.0 522.0 318.0 525.5 318.8 526.0 321.5 526.8 322.2 527.2 330.0 529.8 336.2 531.2 340.5 531.5 340.5 436.8 295.0 436.8 294.8 436.5 294.8 379.2Z"/><path fill="#7dc6cb" fill-rule="evenodd" d="M276.8 379.2 276.8 382.2 276.5 382.5 276.5 450.0 276.2 450.2 276.2 463.8 277.2 468.5 277.2 473.0 278.0 475.0 278.0 478.8 278.2 479.0 278.2 481.2 279.0 483.8 279.0 486.2 279.8 488.8 280.0 492.0 280.8 494.0 281.0 497.2 281.5 498.2 281.8 500.5 282.8 503.8 282.8 505.0 284.0 509.0 285.8 511.0 296.2 516.2 304.0 519.2 318.8 524.2 319.5 524.8 330.5 528.2 335.5 529.5 340.5 530.0 340.5 436.8 295.0 436.8 294.8 436.5 294.8 379.2Z"/><path fill="#81c7d1" fill-rule="evenodd" d="M277.0 379.2 276.8 380.0 276.8 450.0 276.5 450.2 276.5 463.8 276.8 464.0 276.8 465.5 277.5 467.2 277.5 473.0 278.2 474.5 278.2 476.0 278.5 476.2 278.5 481.0 279.2 482.8 279.5 487.2 280.2 489.0 280.5 492.5 281.2 494.2 281.2 496.5 282.0 498.2 282.2 501.0 283.0 502.5 283.5 506.5 284.0 507.0 284.5 509.2 286.0 510.8 287.2 511.0 294.2 514.5 298.0 515.8 300.0 516.8 300.8 516.8 303.8 518.0 327.5 525.8 334.8 527.8 338.8 528.5 340.5 528.5 340.5 436.8 295.0 436.8 294.8 436.5 294.8 379.2Z"/><path fill="#85c7d7" fill-rule="evenodd" d="M277.0 379.2 277.0 450.0 276.8 450.2 276.8 463.8 277.0 464.0 277.0 465.5 277.8 466.2 277.8 473.0 278.8 474.5 278.8 481.0 279.8 482.8 279.8 487.0 280.5 488.0 280.8 489.0 280.8 492.0 281.5 493.0 281.8 494.2 281.8 497.2 282.5 498.0 282.8 501.2 283.5 502.2 283.8 506.0 284.5 507.0 284.8 509.0 286.0 510.2 287.5 510.5 289.0 511.5 290.5 511.8 293.8 513.5 295.2 513.8 297.0 514.8 297.8 514.8 300.0 515.8 302.0 516.0 307.2 518.0 309.0 518.2 313.8 520.0 315.5 520.2 321.0 522.2 323.0 522.5 327.8 524.2 330.5 524.8 336.0 526.5 337.2 526.5 338.2 527.0 340.5 527.2 340.5 436.8 295.0 436.8 294.8 436.5 294.8 379.2Z"/><path fill="#86c8dc" fill-rule="evenodd" d="M277.0 379.2 277.0 465.0 278.0 465.2 278.0 473.0 279.0 473.2 279.0 481.0 280.0 481.2 280.0 487.0 281.0 487.2 281.0 492.0 282.0 492.2 282.0 497.0 283.0 497.2 283.0 501.0 284.0 501.2 284.0 506.0 285.0 506.2 285.0 509.0 285.8 509.0 286.0 510.0 288.5 510.0 289.0 510.5 289.0 511.0 291.2 511.0 292.0 512.0 293.8 512.0 294.0 513.0 296.8 513.0 297.0 514.0 299.8 514.0 300.0 515.0 303.2 515.0 304.0 516.0 306.8 516.0 307.0 517.0 310.2 517.0 311.0 518.0 313.8 518.0 314.0 519.0 317.8 519.0 318.0 520.0 320.8 520.0 321.0 521.0 324.8 521.0 325.0 522.0 327.8 522.0 328.0 523.0 331.8 523.0 332.0 524.0 334.8 524.0 335.0 525.0 338.8 525.0 339.0 526.0 340.5 526.0 340.5 436.8 295.0 436.8 294.8 436.5 294.8 379.2Z"/><path fill="#7dc7df" fill-rule="evenodd" d="M277.2 379.2 277.2 464.0 278.2 465.0 278.2 472.0 279.2 473.0 279.2 479.8 280.2 480.8 280.2 485.5 280.5 486.2 281.2 486.8 281.5 491.0 282.5 492.0 282.5 494.8 282.8 495.8 283.5 496.8 283.8 499.0 284.8 501.0 285.5 504.8 286.8 507.0 288.2 508.5 290.5 509.8 295.0 511.5 297.2 512.0 298.0 512.5 300.2 513.0 304.0 514.5 307.2 515.0 308.0 515.5 309.5 515.8 312.0 516.8 313.2 516.8 316.0 517.8 318.2 518.0 322.5 519.5 324.8 519.8 326.5 520.5 328.2 520.8 329.0 521.2 332.2 521.8 337.0 523.2 338.5 523.2 340.5 523.8 340.5 436.8 295.0 436.8 294.8 436.5 294.8 379.2Z"/><path fill="#76c6e1" fill-rule="evenodd" d="M277.2 379.2 277.5 379.5 277.2 463.2 277.5 464.2 278.2 464.8 278.2 471.2 278.5 472.2 279.2 472.8 279.2 478.0 279.5 478.2 279.5 480.0 280.2 480.8 280.5 486.0 281.5 487.0 281.8 490.8 282.5 491.8 283.0 495.5 283.8 496.8 284.0 498.5 285.0 500.8 286.0 504.2 288.0 507.2 289.2 508.2 292.8 510.0 297.5 511.5 298.2 512.0 299.8 512.2 304.5 514.0 307.2 514.5 309.0 515.2 310.8 515.5 312.8 516.2 313.8 516.2 316.8 517.2 317.8 517.2 318.8 517.8 326.2 519.5 330.0 520.8 332.2 521.0 338.0 522.5 340.5 522.8 340.5 436.8 295.0 436.8 294.8 436.5 294.8 379.2Z"/><path fill="#6fc5e3" fill-rule="evenodd" d="M277.5 379.2 277.5 422.0 277.2 422.2 277.5 464.0 278.2 464.8 278.5 472.0 279.2 472.8 279.5 474.0 279.5 479.5 279.8 480.2 280.5 481.0 280.5 485.2 281.5 487.0 281.8 490.0 282.8 492.0 283.0 494.5 286.0 502.8 287.5 505.5 289.5 507.5 293.2 509.5 297.8 511.0 298.5 511.5 311.2 515.2 317.2 516.8 318.2 516.8 319.2 517.2 328.0 519.2 329.0 519.8 330.0 519.8 337.2 521.5 340.5 521.8 340.5 436.8 295.0 436.8 294.8 436.5 294.8 379.2Z"/><path fill="#68c4e5" fill-rule="evenodd" d="M277.5 379.2 277.8 380.5 277.8 382.5 277.5 382.8 277.5 423.8 277.2 424.0 277.5 463.8 278.2 464.5 278.5 471.8 279.5 473.0 279.5 478.8 279.8 480.0 280.5 481.0 280.8 485.8 281.5 486.8 281.8 489.2 282.2 491.0 283.0 492.2 283.2 494.5 285.8 501.0 287.8 504.8 290.0 507.0 292.0 508.2 296.0 510.0 305.2 513.0 317.8 516.2 318.8 516.2 324.8 518.0 325.8 518.0 330.0 519.2 336.2 520.5 340.5 520.8 340.5 436.8 295.0 436.8 294.8 436.5 294.8 379.2Z"/><path fill="#60c3e6" fill-rule="evenodd" d="M277.8 379.2 277.5 463.0 277.8 464.0 278.5 465.0 278.5 471.0 278.8 472.0 279.5 473.0 279.5 477.5 279.8 477.8 279.8 479.5 280.5 480.8 280.8 485.2 281.8 487.0 282.0 489.8 283.0 491.8 283.5 494.5 284.5 496.5 285.2 499.0 287.2 503.0 289.8 506.0 291.5 507.2 297.0 509.8 309.2 513.5 317.2 515.5 318.2 515.5 325.5 517.5 326.5 517.5 328.8 518.2 335.0 519.5 340.5 520.0 340.5 436.8 295.0 436.8 294.8 436.5 294.8 379.2Z"/><path fill="#59c3e8" fill-rule="evenodd" d="M277.8 379.2 277.8 419.0 277.5 419.2 277.8 463.8 278.5 465.0 278.5 469.8 278.8 470.0 278.8 471.8 279.5 472.8 279.8 479.0 280.8 481.8 280.8 484.5 281.8 486.8 282.2 490.0 283.2 492.0 283.8 494.5 285.0 497.0 285.5 498.8 288.0 503.2 290.8 506.0 292.2 507.0 297.2 509.2 307.8 512.5 323.0 516.2 324.0 516.2 332.2 518.2 340.5 519.2 340.5 436.8 295.0 436.8 294.8 436.5 294.8 379.2Z"/><path fill="#52c2ea" fill-rule="evenodd" d="M277.8 379.2 278.0 379.8 277.8 422.5 277.5 422.8 277.8 463.5 278.5 464.8 278.8 471.2 279.8 474.0 279.8 478.2 280.2 480.2 280.8 481.0 281.0 485.0 282.0 487.2 282.5 490.2 283.2 491.5 284.5 495.8 286.0 499.0 288.5 503.0 291.8 506.0 296.2 508.2 305.2 511.2 321.5 515.2 335.2 518.0 340.5 518.2 340.5 436.8 295.0 436.8 294.8 436.5 294.8 379.2Z"/><path fill="#4bc1ec" fill-rule="evenodd" d="M278.0 379.2 278.0 402.8 277.8 403.0 277.8 423.2 277.5 423.5 277.8 463.0 278.5 464.8 278.8 471.0 279.8 473.0 279.8 477.5 280.0 477.8 280.0 479.2 280.8 480.8 281.0 484.8 282.0 487.0 282.5 489.8 285.5 497.2 288.5 502.2 291.0 504.8 293.8 506.5 297.8 508.2 306.5 511.0 324.5 515.2 332.0 516.8 335.0 517.0 335.2 517.2 340.5 517.5 340.5 436.8 295.0 436.8 294.8 436.5 294.8 379.2Z"/><path fill="#44beed" fill-rule="evenodd" d="M278.0 379.2 278.2 380.0 278.2 383.8 278.0 384.0 278.0 404.8 277.8 405.0 277.8 424.5 277.5 424.8 277.8 461.2 278.0 461.5 278.0 463.5 278.5 464.5 279.0 471.5 279.8 473.0 280.0 478.8 280.8 480.5 281.2 485.2 284.8 495.0 287.8 500.5 291.2 504.2 293.5 505.8 298.0 507.8 308.8 511.0 312.8 511.8 315.0 512.5 316.0 512.5 317.2 513.0 318.2 513.0 319.5 513.5 320.5 513.5 321.8 514.0 322.8 514.0 324.0 514.5 332.0 516.0 333.2 516.0 333.5 516.2 335.0 516.2 335.2 516.5 340.5 516.8 340.5 436.8 295.0 436.8 294.8 436.5 294.8 379.2Z"/><path fill="#42b8eb" fill-rule="evenodd" d="M278.2 379.2 278.5 379.5 278.5 383.8 278.2 384.0 278.2 403.5 278.0 403.8 278.0 423.0 277.8 423.2 278.0 462.5 278.2 462.8 278.2 464.0 278.8 464.8 279.0 470.5 279.2 470.8 279.2 472.0 280.0 473.5 280.0 477.0 280.2 477.2 280.5 479.8 281.0 480.8 281.5 485.2 284.5 493.0 288.0 499.2 291.0 502.5 293.5 504.2 299.0 506.8 310.5 510.0 311.5 510.0 313.8 510.8 314.8 510.8 316.0 511.2 318.2 511.5 319.5 512.0 325.8 513.2 333.2 514.2 333.5 514.5 335.2 514.5 335.5 514.8 340.5 515.0 340.5 436.8 295.0 436.8 294.8 436.5 294.8 379.2Z"/><path fill="#41b2e8" fill-rule="evenodd" d="M278.8 379.2 278.5 403.0 278.2 403.2 278.2 422.0 278.0 422.2 278.0 424.8 277.8 425.0 277.8 442.0 278.0 442.2 278.0 444.8 278.2 445.0 278.2 463.0 278.8 464.5 279.2 471.0 280.0 472.8 280.2 477.5 280.8 480.0 281.2 481.0 281.5 484.0 283.8 490.2 286.0 494.8 289.0 499.0 292.0 501.8 297.5 504.8 303.5 506.8 320.0 510.5 321.2 510.5 330.0 512.2 333.5 512.5 333.8 512.8 340.5 513.0 340.5 436.8 295.0 436.8 294.8 436.5 294.8 379.2Z"/><path fill="#3fabe6" fill-rule="evenodd" d="M279.2 379.2 279.0 380.0 279.0 384.8 278.8 385.0 278.5 421.0 278.0 423.5 278.0 443.5 278.5 446.0 278.5 463.5 279.0 464.8 279.0 467.5 279.5 469.5 279.5 471.2 280.2 473.0 280.8 479.0 281.5 481.2 282.0 485.0 283.5 488.8 286.2 494.0 289.5 498.2 293.2 501.2 298.5 503.8 308.2 506.5 320.5 509.0 321.8 509.0 328.0 510.2 329.5 510.2 329.8 510.5 331.5 510.5 331.8 510.8 336.5 511.0 336.8 511.2 340.5 511.2 340.5 436.8 295.0 436.8 294.8 436.5 294.8 379.2Z"/><path fill="#3ea5e3" fill-rule="evenodd" d="M279.5 379.2 279.2 385.5 279.0 385.8 279.0 402.5 278.8 402.8 278.8 406.0 278.5 406.2 278.5 422.8 278.2 423.0 278.2 425.5 278.0 425.8 278.0 441.2 278.2 441.5 278.2 444.0 278.5 444.2 278.5 460.5 278.8 460.8 278.8 464.0 279.5 468.0 279.8 471.8 280.5 473.5 280.8 477.8 282.5 485.8 286.0 492.5 288.5 496.0 292.5 499.5 296.8 501.8 303.8 504.0 316.8 506.8 318.0 506.8 325.8 508.2 329.0 508.5 329.2 508.8 331.0 508.8 331.2 509.0 336.5 509.2 336.8 509.5 340.5 509.5 340.5 436.8 295.0 436.8 294.8 436.5 294.8 379.2Z"/><path fill="#3d9ee1" fill-rule="evenodd" d="M279.5 379.2 279.8 379.5 279.8 381.2 279.5 381.5 279.5 386.2 279.2 386.5 279.2 402.5 278.8 404.5 278.8 422.2 278.2 423.8 278.2 443.2 278.8 444.8 278.8 462.2 279.0 462.5 279.2 467.2 279.8 468.5 280.0 472.0 280.8 473.8 280.8 476.5 281.8 480.5 281.8 482.0 283.0 486.2 285.5 490.8 288.8 495.2 292.8 498.5 296.8 500.5 305.2 503.0 314.0 504.8 321.2 505.8 321.5 506.0 323.0 506.0 323.2 506.2 324.8 506.2 328.5 507.0 332.8 507.2 333.0 507.5 340.5 507.8 340.5 436.8 295.0 436.8 294.8 436.5 294.8 379.2Z"/><path fill="#3b98dd" fill-rule="evenodd" d="M279.8 379.2 280.0 381.8 279.8 382.0 279.8 385.2 279.5 385.5 279.5 402.2 279.0 404.0 279.0 422.0 278.5 423.2 278.5 425.2 278.2 425.5 278.2 441.5 278.5 441.8 278.5 443.8 279.0 445.0 279.0 463.2 279.2 463.5 279.2 466.0 280.0 469.0 280.2 472.2 280.8 473.0 281.0 474.2 281.0 477.0 281.8 479.2 282.0 482.2 282.5 483.2 282.8 485.0 286.0 490.8 288.0 493.5 290.5 496.0 292.8 497.5 297.8 499.8 304.2 501.5 310.5 502.8 316.2 503.5 316.5 503.8 319.5 504.0 319.8 504.2 328.8 505.2 329.0 505.5 331.0 505.5 331.2 505.8 340.5 506.2 340.5 436.8 295.0 436.8 294.8 436.5 294.8 379.2Z"/><path fill="#3a92d8" fill-rule="evenodd" d="M280.0 379.2 280.0 382.8 279.8 383.0 279.8 401.5 279.0 405.2 279.0 422.5 278.5 423.5 278.5 443.5 279.0 444.5 279.0 461.5 279.2 461.8 279.5 467.5 280.0 468.5 280.2 472.0 281.0 473.8 281.2 477.5 281.8 478.8 282.0 481.5 283.0 485.2 286.5 491.0 288.0 493.0 290.5 495.5 296.8 498.8 303.0 500.5 309.2 501.5 310.8 502.0 313.5 502.2 313.8 502.5 316.8 502.8 317.0 503.0 325.8 504.0 326.0 504.2 332.8 504.8 333.0 505.0 340.5 505.2 340.5 436.8 295.0 436.8 294.8 436.5 294.8 379.2Z"/><path fill="#398cd3" fill-rule="evenodd" d="M280.0 379.2 280.2 379.8 280.2 382.2 280.0 382.5 280.0 399.2 279.8 399.5 279.8 402.5 279.2 403.8 279.2 421.2 279.0 421.5 279.0 423.0 278.5 423.8 278.5 443.2 279.0 444.0 279.0 445.5 279.2 445.8 279.2 464.0 279.5 464.2 279.5 467.2 280.0 468.0 280.2 469.2 280.2 471.5 281.0 473.2 281.0 474.5 281.2 474.8 281.2 477.2 282.0 479.2 282.2 482.2 282.8 483.2 283.0 485.0 283.8 486.5 288.0 492.5 291.5 495.8 295.8 497.8 301.8 499.5 308.0 500.5 309.5 501.0 312.2 501.2 312.5 501.5 314.0 501.5 314.2 501.8 315.8 501.8 316.0 502.0 317.5 502.0 321.2 502.8 323.0 502.8 325.0 503.2 329.2 503.5 329.5 503.8 334.8 504.0 335.0 504.2 340.0 504.2 340.5 504.5 340.5 436.8 295.0 436.8 294.8 436.5 294.8 379.2Z"/><path fill="#3886cf" fill-rule="evenodd" d="M280.2 379.2 280.5 381.8 280.0 383.5 280.0 402.0 279.2 404.2 279.2 422.2 278.5 424.0 278.5 443.0 279.2 444.8 279.2 462.8 279.5 463.0 279.5 467.0 280.2 468.8 280.5 472.2 281.2 473.8 281.2 476.8 282.0 478.8 282.2 482.0 282.8 482.8 283.2 485.2 287.8 491.8 290.8 494.8 294.0 496.5 298.2 498.0 306.8 499.8 321.8 501.8 322.0 502.0 330.8 502.8 331.0 503.0 333.5 503.0 333.8 503.2 340.5 503.5 340.5 436.8 295.0 436.8 294.8 436.5 294.8 379.2Z"/><path fill="#3680ca" fill-rule="evenodd" d="M280.5 379.2 280.8 381.2 280.2 382.8 280.2 400.8 280.0 401.0 280.0 402.8 279.5 403.8 279.5 421.0 279.2 421.2 279.2 422.8 278.8 423.5 278.8 443.5 279.2 444.2 279.2 445.8 279.5 446.0 279.5 464.8 279.8 465.0 279.8 467.5 280.2 468.2 280.5 472.0 281.2 473.5 281.5 477.2 282.2 479.0 282.2 480.8 282.5 481.0 282.5 482.2 283.2 484.0 283.2 485.0 285.8 488.8 290.0 493.8 292.8 495.5 297.8 497.2 309.8 499.5 311.2 499.5 315.0 500.2 317.0 500.2 321.0 501.0 322.8 501.0 323.0 501.2 324.8 501.2 325.0 501.5 335.2 502.2 335.5 502.5 340.5 502.5 340.5 436.8 295.0 436.8 294.8 436.5 294.8 379.2Z"/><path fill="#357ac5" fill-rule="evenodd" d="M280.8 379.2 281.0 381.0 280.2 383.8 280.2 402.2 279.5 404.0 279.5 422.2 278.8 423.8 278.8 443.2 279.5 444.8 279.5 463.8 279.8 464.0 279.8 467.2 280.5 468.8 280.5 471.5 281.5 473.8 281.5 477.0 282.2 478.5 282.5 482.0 283.2 483.5 283.5 485.2 287.2 490.2 290.5 493.8 292.0 494.8 296.2 496.2 300.2 497.2 308.2 498.2 311.5 499.0 315.2 499.2 315.5 499.5 319.8 499.8 320.0 500.0 326.0 500.5 326.2 500.8 331.2 501.0 331.5 501.2 334.0 501.2 334.2 501.5 340.5 501.8 340.5 436.8 295.0 436.8 294.8 436.5 294.8 379.2Z"/><path fill="#3474c0" fill-rule="evenodd" d="M281.0 379.2 281.0 382.0 280.5 382.8 280.5 401.5 280.2 402.8 279.8 403.5 279.8 419.8 279.5 420.0 279.5 423.0 278.8 424.0 278.8 443.0 279.5 444.0 279.5 447.0 279.8 447.2 279.8 467.0 280.5 468.0 280.8 472.2 281.5 473.2 281.8 477.2 282.5 478.8 282.5 481.0 282.8 481.2 282.8 482.5 283.5 483.8 283.5 485.0 288.0 490.8 291.0 493.8 297.2 496.0 301.0 496.8 302.5 496.8 302.8 497.0 311.5 498.0 311.8 498.2 318.5 498.8 318.8 499.0 320.5 499.0 320.8 499.2 324.5 499.5 324.8 499.8 330.2 500.0 330.5 500.2 333.0 500.2 333.2 500.5 335.5 500.5 335.8 500.8 340.5 500.8 340.5 436.8 295.0 436.8 294.8 436.5 294.8 379.2Z"/><path fill="#336ebc" fill-rule="evenodd" d="M281.2 379.2 281.2 381.5 280.8 382.5 280.8 384.5 280.5 384.8 280.5 402.8 279.8 403.8 279.8 422.5 279.0 423.5 278.8 424.8 278.8 442.2 279.0 443.5 279.8 444.5 279.8 466.5 280.0 467.5 280.8 468.5 280.8 472.0 281.8 473.8 281.8 477.2 282.5 478.2 282.8 482.2 283.5 483.2 283.8 485.2 287.2 489.5 291.2 493.5 292.0 494.0 296.5 495.0 297.5 495.5 300.0 496.0 301.8 496.0 302.0 496.2 306.5 496.5 311.8 497.5 319.5 498.0 323.2 498.8 332.0 499.2 332.2 499.5 337.2 499.8 337.5 500.0 340.5 500.0 340.5 436.8 295.0 436.8 294.8 436.5 294.8 379.2Z"/><path fill="#3268b7" fill-rule="evenodd" d="M281.5 379.2 281.5 381.8 280.8 383.0 280.8 402.5 279.8 404.0 279.8 423.0 279.0 423.8 279.0 443.2 279.8 444.0 279.8 463.0 280.0 463.2 280.0 467.2 280.8 468.0 280.8 471.0 281.0 472.2 281.8 473.0 281.8 477.0 282.8 478.2 282.8 482.0 283.8 483.2 283.8 485.0 288.8 490.8 291.0 493.0 292.2 493.8 295.8 494.2 298.5 495.2 306.5 495.8 311.5 496.8 318.0 497.0 318.2 497.2 320.5 497.2 324.0 498.0 331.2 498.2 335.2 499.0 340.5 499.0 340.5 436.8 295.0 436.8 294.8 436.5 294.8 379.2Z"/><path fill="#3163b2" fill-rule="evenodd" d="M281.8 379.2 281.8 382.0 281.0 382.8 281.0 401.2 280.8 401.5 280.8 403.0 280.0 403.8 280.0 422.8 279.0 423.8 279.0 443.2 280.0 444.2 280.0 467.2 281.0 468.2 281.0 472.2 282.0 473.2 282.0 477.2 282.8 477.8 283.0 482.2 283.8 482.8 284.0 485.2 291.8 493.2 292.5 493.5 296.0 493.8 298.5 494.8 306.8 495.0 307.0 495.2 309.0 495.2 311.2 496.0 319.8 496.2 324.5 497.2 330.2 497.2 330.5 497.5 333.0 497.5 336.0 498.2 340.5 498.2 340.5 436.8 295.0 436.8 294.8 436.5 294.8 379.2Z"/><path fill="#2f5dad" fill-rule="evenodd" d="M282.0 379.2 282.0 382.2 281.0 383.0 281.0 403.0 280.0 404.0 280.0 423.5 279.5 424.0 279.0 424.0 279.0 443.0 279.5 443.0 280.0 443.5 280.0 467.0 281.0 467.8 281.0 472.0 282.0 472.8 282.0 477.0 283.0 477.8 283.0 482.0 284.0 482.8 284.0 485.0 292.0 493.0 296.8 493.2 298.0 494.2 307.8 494.2 308.0 494.5 309.8 494.5 310.8 495.2 321.2 495.5 322.8 496.2 333.2 496.5 334.8 497.2 340.5 497.5 340.5 436.8 295.0 436.8 294.8 436.5 294.8 379.2Z"/><path fill="#2e58a8" fill-rule="evenodd" d="M282.2 379.2 282.2 383.2 281.5 384.0 281.5 386.8 281.2 387.0 281.2 403.2 280.5 404.0 280.2 424.2 279.5 425.0 279.5 442.0 280.2 442.8 280.2 445.8 280.5 446.0 280.8 465.8 281.8 468.0 282.0 471.0 283.0 473.0 283.2 475.5 284.2 477.8 285.0 481.0 286.2 483.5 287.5 485.2 290.0 487.8 292.0 489.2 295.5 490.8 296.5 490.8 299.8 491.8 302.8 492.0 303.0 492.2 309.5 492.5 312.0 493.2 314.0 493.2 314.2 493.5 320.5 493.5 320.8 493.8 323.2 493.8 326.0 494.5 332.2 494.5 332.5 494.8 335.2 494.8 336.5 495.2 340.5 495.5 340.5 436.8 295.0 436.8 294.8 436.5 294.8 379.2Z"/><path fill="#2d53a3" fill-rule="evenodd" d="M282.5 379.2 282.5 383.2 281.8 384.8 281.8 401.5 281.5 401.8 281.5 403.5 280.8 405.2 280.8 422.5 280.5 422.8 280.5 424.5 279.8 426.2 279.8 441.0 280.0 442.0 280.5 442.5 280.5 443.8 280.8 444.0 281.0 459.2 281.2 459.5 281.5 464.8 283.8 472.5 286.5 479.2 288.0 481.8 291.2 485.2 295.2 487.8 299.5 489.2 304.5 490.2 313.2 491.2 313.5 491.5 322.5 492.0 322.8 492.2 324.5 492.2 326.8 492.8 330.5 492.8 330.8 493.0 334.5 493.0 334.8 493.2 337.0 493.2 337.2 493.5 340.5 493.5 340.5 436.8 295.0 436.8 294.8 436.5 294.8 379.2Z"/><path fill="#2d4f9f" fill-rule="evenodd" d="M282.8 379.2 282.8 383.5 282.0 385.8 282.0 402.2 281.2 404.8 281.2 408.0 281.0 408.2 281.0 423.2 280.2 425.8 280.0 439.5 280.2 439.8 280.2 441.5 281.0 443.5 281.2 453.5 281.5 453.8 281.5 458.2 281.8 458.5 282.0 463.2 284.0 470.0 287.0 476.5 289.5 480.2 293.2 483.8 297.2 486.0 302.5 487.8 309.0 488.8 309.2 489.0 312.2 489.2 312.5 489.5 316.5 489.8 316.8 490.0 319.2 490.0 319.5 490.2 321.8 490.2 322.0 490.5 324.2 490.5 324.5 490.8 326.8 490.8 327.0 491.0 329.8 491.0 330.0 491.2 340.5 491.8 340.5 436.8 295.0 436.8 294.8 436.5 294.8 379.2Z"/><path fill="#2c4b9b" fill-rule="evenodd" d="M283.0 379.2 283.2 381.5 282.2 386.8 282.2 402.8 281.5 405.5 281.2 423.8 280.5 426.5 280.5 441.0 281.2 443.2 281.8 454.2 282.0 454.5 282.0 457.8 282.2 458.0 282.5 462.0 283.8 466.8 286.8 473.2 290.2 478.2 293.5 481.2 295.2 482.5 299.2 484.5 303.0 485.8 310.0 487.2 311.5 487.2 311.8 487.5 316.8 488.0 317.0 488.2 321.5 488.5 321.8 488.8 326.2 489.0 326.5 489.2 329.2 489.2 329.5 489.5 340.5 490.0 340.5 436.8 295.0 436.8 294.8 436.5 294.8 379.2Z"/><path fill="#2c4a9a" fill-rule="evenodd" d="M283.8 379.2 284.0 379.8 284.0 383.5 283.2 387.0 283.2 401.8 283.0 402.0 283.0 404.2 282.8 404.5 282.5 414.0 282.2 414.2 282.2 422.8 282.0 423.0 281.8 430.8 281.5 431.0 281.5 440.5 282.2 443.5 284.0 459.8 285.2 464.0 286.5 466.5 289.0 470.0 294.0 474.8 297.5 477.0 302.5 479.2 309.5 481.2 317.5 482.5 317.8 482.8 319.2 482.8 319.5 483.0 328.0 483.8 328.2 484.0 330.8 484.0 331.0 484.2 340.5 484.5 340.5 436.8 295.0 436.8 294.8 436.5 294.8 379.2Z"/><path fill="#2c4999" fill-rule="evenodd" d="M285.0 379.2 285.0 383.5 284.2 387.0 284.2 400.0 284.0 400.2 284.0 405.5 283.8 405.8 283.8 412.0 283.2 414.5 282.5 440.5 283.8 446.5 285.0 456.0 286.0 460.5 287.0 463.0 290.0 466.8 294.5 470.0 300.0 472.8 305.0 474.5 312.0 476.2 320.2 477.5 320.5 477.8 322.0 477.8 322.2 478.0 324.0 478.0 324.2 478.2 326.0 478.2 328.2 478.8 330.5 478.8 330.8 479.0 333.2 479.0 333.5 479.2 340.5 479.5 340.5 436.8 295.0 436.8 294.8 436.5 294.8 379.2Z"/><path fill="#2c4898" fill-rule="evenodd" d="M285.8 379.2 286.0 380.0 286.0 384.2 285.2 386.8 285.2 389.8 285.0 390.0 285.0 410.0 284.8 410.2 284.8 413.2 284.2 414.5 284.2 417.2 284.0 417.5 284.0 435.2 283.8 435.5 283.8 438.8 283.2 440.0 284.0 442.0 284.0 443.5 284.8 445.8 284.8 447.0 285.5 449.5 286.5 455.8 287.5 459.8 288.8 462.5 290.0 463.8 293.5 465.8 300.5 468.2 307.2 470.0 314.8 471.5 317.5 471.8 319.0 472.2 322.0 472.5 322.2 472.8 331.2 473.8 331.5 474.0 333.5 474.0 333.8 474.2 340.2 474.5 340.5 474.8 340.5 436.8 295.0 436.8 294.8 436.5 294.8 379.2Z"/><path fill="#374899" fill-rule="evenodd" d="M286.8 379.2 287.0 379.8 287.0 385.0 286.8 386.2 286.0 386.8 286.0 412.5 285.8 412.8 285.8 414.0 285.0 414.8 285.0 438.0 284.8 439.2 284.0 439.8 284.0 440.2 284.8 440.8 285.0 444.2 285.8 444.8 286.0 448.2 286.8 449.0 287.0 452.2 287.8 453.0 287.8 455.8 288.0 456.5 288.8 457.2 288.8 459.8 289.8 461.0 289.8 462.0 290.0 462.2 291.5 462.2 293.0 463.2 297.0 463.5 299.0 464.0 299.8 464.5 303.8 464.8 306.5 465.8 311.2 466.0 313.0 466.8 317.2 467.0 319.0 467.8 323.2 468.0 325.0 468.8 330.2 469.0 332.0 469.8 335.0 469.8 337.5 470.5 340.5 470.8 340.5 436.8 295.0 436.8 294.8 436.5 294.8 379.2Z"/><path fill="#3f499a" fill-rule="evenodd" d="M287.0 379.2 287.0 386.2 286.0 387.0 286.0 414.0 285.0 415.0 285.0 439.2 284.0 440.0 285.0 440.8 285.0 444.0 286.0 444.8 286.0 448.0 287.0 449.0 287.0 452.0 288.0 453.0 288.0 456.0 289.0 457.0 289.0 460.0 289.8 460.5 290.0 462.0 292.2 462.2 292.8 463.0 298.5 463.2 300.0 464.2 304.0 464.2 305.0 464.5 306.0 465.2 310.2 465.2 310.5 465.5 311.8 465.5 312.8 466.2 316.0 466.2 316.2 466.5 317.8 466.5 318.8 467.2 323.8 467.5 324.8 468.2 329.0 468.2 329.2 468.5 330.8 468.5 331.8 469.2 335.5 469.2 335.8 469.5 337.0 469.5 338.0 470.2 340.5 470.2 340.5 436.8 295.0 436.8 294.8 436.5 294.8 379.2Z"/><path fill="#46499b" fill-rule="evenodd" d="M287.2 379.2 287.2 387.0 286.2 387.2 286.2 414.0 285.2 415.0 285.2 443.5 286.2 444.0 286.2 447.5 287.2 448.0 287.2 451.0 288.2 452.0 288.2 454.2 288.5 455.2 289.2 455.8 289.8 459.0 291.5 461.2 293.0 461.5 294.8 462.5 298.0 462.5 299.2 462.8 300.0 463.5 306.2 463.8 307.0 464.5 312.2 464.8 313.0 465.5 319.2 465.8 320.0 466.5 323.8 466.5 324.0 466.8 325.2 466.8 326.0 467.5 331.2 467.5 332.5 467.8 333.2 468.5 338.0 468.5 339.0 469.2 340.5 469.5 340.5 436.8 295.0 436.8 294.8 436.5 294.8 379.2Z"/><path fill="#4e499c" fill-rule="evenodd" d="M287.2 379.2 287.2 387.2 286.2 388.2 286.2 414.2 285.5 415.0 285.5 418.5 285.2 418.8 285.2 438.2 285.5 438.5 285.5 442.0 285.8 443.0 286.5 443.8 286.8 446.5 287.8 448.0 288.0 449.8 290.8 455.5 291.8 457.0 293.5 458.8 296.0 460.0 300.8 461.2 305.2 461.8 310.0 462.8 311.8 462.8 314.8 463.5 317.0 463.5 317.2 463.8 319.0 463.8 322.5 464.5 326.0 464.8 327.8 465.2 340.5 466.5 340.5 436.8 295.0 436.8 294.8 436.5 294.8 379.2Z"/><path fill="#55499d" fill-rule="evenodd" d="M287.5 379.2 287.5 387.0 286.5 388.2 286.5 414.0 285.8 415.2 285.8 418.2 285.5 418.5 285.5 438.5 285.8 438.8 285.8 441.0 287.0 444.2 287.2 446.2 290.2 452.0 292.2 454.8 294.2 456.5 297.5 458.2 301.0 459.2 307.8 460.2 308.0 460.5 323.2 462.2 323.5 462.5 325.5 462.5 325.8 462.8 334.2 463.5 334.5 463.8 340.5 464.0 340.5 436.8 295.0 436.8 294.8 436.5 294.8 379.2Z"/><path fill="#5c4a9e" fill-rule="evenodd" d="M287.5 379.2 287.5 387.2 286.5 388.8 286.5 414.5 286.0 415.5 286.0 418.0 285.5 419.8 285.5 437.2 286.0 438.8 286.2 441.5 287.2 443.8 287.8 446.2 289.0 448.5 291.2 451.5 293.5 453.8 295.2 455.0 299.0 456.8 304.5 458.0 309.0 458.5 309.2 458.8 311.0 458.8 311.2 459.0 313.0 459.0 313.2 459.2 315.0 459.2 315.2 459.5 317.5 459.5 317.8 459.8 322.2 460.0 322.5 460.2 327.0 460.5 327.2 460.8 331.8 461.0 332.0 461.2 340.5 461.8 340.5 436.8 295.0 436.8 294.8 436.5 294.8 379.2Z"/><path fill="#644a9f" fill-rule="evenodd" d="M287.8 379.2 287.8 387.0 287.5 387.8 286.8 388.5 286.8 414.2 286.2 415.5 286.2 418.0 285.8 419.5 285.8 437.5 286.8 442.0 288.8 447.0 290.0 448.8 294.2 452.5 296.2 453.8 301.2 455.5 305.2 456.2 306.8 456.2 307.0 456.5 308.5 456.5 308.8 456.8 310.2 456.8 310.5 457.0 314.8 457.2 315.0 457.5 323.5 458.0 323.8 458.2 326.2 458.2 326.5 458.5 331.5 458.8 331.8 459.0 334.8 459.0 335.0 459.2 340.5 459.2 340.5 436.8 295.0 436.8 294.8 436.5 294.8 379.2Z"/><path fill="#6b4aa0" fill-rule="evenodd" d="M287.8 379.2 287.8 387.5 286.8 389.0 286.8 414.8 286.5 415.0 286.5 418.2 285.8 420.0 285.8 437.0 286.5 438.8 286.5 440.2 288.0 443.5 288.2 445.2 290.0 447.8 293.5 450.5 297.8 452.8 300.2 453.5 307.8 454.5 308.0 454.8 309.5 454.8 309.8 455.0 314.2 455.2 314.5 455.5 325.2 456.0 325.5 456.2 333.8 456.8 334.0 457.0 340.5 457.0 340.5 436.8 295.0 436.8 294.8 436.5 294.8 379.2Z"/><path fill="#724ba0" fill-rule="evenodd" d="M288.0 379.2 288.0 387.5 287.0 388.8 287.0 414.5 286.8 414.8 286.8 418.8 286.0 419.5 286.0 437.2 286.8 438.0 286.8 440.2 288.5 443.5 288.5 444.8 289.0 445.8 290.2 447.2 292.8 448.5 294.0 449.5 297.8 451.2 300.8 452.0 304.8 452.2 305.0 452.5 306.8 452.5 307.0 452.8 308.5 452.8 310.2 453.2 312.8 453.2 313.0 453.5 324.0 453.8 324.2 454.0 327.8 454.0 328.0 454.2 332.0 454.5 332.2 454.8 339.5 454.8 340.5 455.0 340.5 436.8 295.0 436.8 294.8 436.5 294.8 379.2Z"/><path fill="#7a4ca0" fill-rule="evenodd" d="M288.0 379.2 288.0 388.0 287.0 389.0 287.0 419.2 286.0 420.0 286.0 437.0 287.0 437.8 287.0 440.0 287.8 440.5 288.0 442.2 289.0 443.2 289.0 445.0 289.8 445.5 290.0 446.2 290.8 447.0 292.5 447.2 293.5 448.0 295.0 448.5 295.8 449.2 297.8 449.5 298.8 450.2 300.0 450.5 306.2 450.5 306.5 450.8 308.2 450.8 310.0 451.5 328.5 451.8 330.8 452.5 332.8 452.5 333.0 452.8 340.5 452.8 340.5 436.8 295.0 436.8 294.8 436.5 294.8 379.2Z"/><path fill="#814ca0" fill-rule="evenodd" d="M288.2 379.2 288.2 388.0 287.2 389.0 287.2 420.0 286.2 421.0 286.2 435.2 286.5 436.2 287.2 436.8 287.5 439.0 288.5 440.0 288.5 441.0 289.5 442.0 290.0 444.0 291.5 445.5 293.0 446.2 294.0 446.2 295.2 447.0 296.5 447.2 297.0 447.8 299.0 448.0 301.0 448.8 309.2 448.8 312.0 449.5 331.0 449.8 334.2 450.5 340.5 450.5 340.5 436.8 295.0 436.8 294.8 436.5 294.8 379.2Z"/><path fill="#894da0" fill-rule="evenodd" d="M288.2 379.2 288.5 380.5 288.5 387.5 288.2 388.5 287.5 389.2 287.5 420.0 286.5 421.8 286.5 434.0 286.8 434.2 286.8 435.5 287.8 437.5 287.8 438.2 290.8 443.5 292.2 444.8 294.0 445.5 297.5 446.5 300.5 446.8 300.8 447.0 309.0 447.0 309.2 447.2 312.2 447.2 312.5 447.5 330.8 447.8 331.0 448.0 333.8 448.0 334.0 448.2 340.5 448.2 340.5 436.8 295.0 436.8 294.8 436.5 294.8 379.2Z"/><path fill="#904ea0" fill-rule="evenodd" d="M288.5 379.2 288.5 388.2 287.8 389.5 287.8 418.0 287.5 418.2 287.5 420.5 286.8 422.0 286.8 433.2 287.0 433.5 287.2 436.0 288.0 437.0 288.2 438.5 290.5 442.0 292.0 443.5 293.2 444.2 297.2 445.2 299.8 445.2 300.0 445.5 311.0 445.2 311.2 445.5 331.2 445.8 331.5 446.0 340.5 446.2 340.5 436.8 295.0 436.8 294.8 436.5 294.8 379.2Z"/><path fill="#974ea0" fill-rule="evenodd" d="M288.8 379.2 288.8 388.0 288.0 389.8 288.0 393.0 287.8 393.2 287.8 420.2 287.2 421.0 287.0 422.2 287.0 432.8 287.8 436.2 289.8 440.2 291.5 442.2 293.0 443.2 295.8 444.0 301.5 444.0 301.8 443.8 304.5 443.8 304.8 443.5 321.0 443.5 321.2 443.8 340.5 444.0 340.5 436.8 295.0 436.8 294.8 436.5 294.8 379.2Z"/><path fill="#9f4fa0" fill-rule="evenodd" d="M288.8 379.2 289.0 386.8 288.0 391.8 288.0 420.0 287.2 422.2 287.2 432.5 287.5 432.8 287.5 434.5 288.5 437.2 290.5 440.5 292.2 442.0 295.0 443.0 298.5 443.0 302.8 442.0 307.2 441.8 307.5 441.5 321.0 441.5 321.2 441.8 340.5 442.0 340.5 436.8 295.0 436.8 294.8 436.5 294.8 379.2Z"/><path fill="#a84f9f" fill-rule="evenodd" d="M289.0 379.2 289.0 388.2 288.5 389.2 288.5 390.8 288.2 391.0 288.2 419.5 287.5 422.2 287.5 432.2 287.8 432.5 287.8 434.2 288.5 436.5 290.0 439.2 292.5 441.5 294.8 442.2 298.0 442.0 303.8 440.0 309.0 439.8 309.2 439.5 340.5 439.8 340.5 436.8 295.0 436.8 294.8 436.5 294.8 379.2Z"/><path fill="#a84b9b" fill-rule="evenodd" d="M290.2 379.2 290.8 380.8 290.8 388.5 290.5 388.8 290.5 391.5 290.2 391.8 290.2 419.0 290.0 419.2 290.0 422.2 289.8 422.5 289.8 430.0 290.0 430.2 290.2 433.5 291.2 436.0 292.5 437.5 293.8 438.0 295.0 438.0 295.5 437.5 295.5 436.8 294.8 436.5 294.8 379.2Z"/><path fill="#a84898" fill-rule="evenodd" d="M292.0 379.2 292.5 381.0 292.0 430.2 292.2 430.5 292.2 432.5 292.8 434.5 293.5 436.0 295.0 436.8 294.8 436.5 294.8 379.2Z"/><path fill="#a34393" fill-rule="evenodd" d="M293.8 379.2 294.0 380.0 294.0 384.2 294.2 384.5 294.2 386.2 294.0 386.5 294.0 432.5 294.2 432.8 294.5 436.0 294.8 436.0 294.8 379.2Z"/><path fill="#a14191" fill-rule="evenodd" d="M294.5 379.2 294.8 379.5 294.8 381.0 294.8 379.2Z"/><path d="M39.2 509.0 40.2 509.0 41.2 509.0 42.2 509.0 43.2 509.0 44.2 509.0 45.2 509.0 46.2 509.0 47.2 509.0 48.2 509.0 49.2 509.0 50.2 509.0 51.2 509.0 52.2 509.0 53.2 509.0 54.2 509.0 55.2 509.0 56.2 509.0 57.2 509.0 58.2 509.0 59.2 509.0 60.2 509.0 61.2 509.0 62.2 509.0 63.2 509.0 64.2 509.0 65.2 509.0 66.0 508.8 66.5 508.0 67.5 508.0 68.5 508.0 69.5 508.0 70.5 508.0 71.5 508.0 72.5 508.0 73.5 508.0 74.5 508.0 75.5 508.0 76.5 508.0 77.5 508.0 78.5 508.0 79.5 508.0 80.5 508.0 81.5 508.0 82.5 508.0 83.5 508.0 84.5 508.0 85.5 508.0 86.5 508.0 87.5 508.0 88.5 508.0 89.5 508.0 90.5 508.0 91.5 508.0 92.5 508.0 93.5 508.0 94.5 508.0 95.5 508.0 96.5 508.0 97.5 508.0 98.5 508.0 99.0 507.5 99.8 507.0 100.8 507.0 101.8 507.0 102.8 507.0 103.8 507.0 104.8 507.0 105.8 507.0 106.8 507.0 107.8 507.0 108.8 507.0 109.8 507.0 110.8 507.0 111.8 507.0 112.8 507.0 113.8 507.0 114.8 507.0 115.8 507.0 116.8 507.0 117.8 507.0 118.8 507.0 119.8 507.0 120.8 507.0 121.8 507.0 122.8 507.0 123.8 507.0 124.8 507.0 125.8 507.0 126.8 507.0 127.8 507.0 128.8 507.0 129.8 507.0 130.8 507.0 131.8 507.0 132.8 507.0 133.0 506.2 134.0 506.0 135.0 506.0 136.0 506.0 137.0 506.0 138.0 506.0 139.0 506.0 140.0 506.0 141.0 506.0 142.0 506.0 143.0 506.0 144.0 506.0 145.0 506.0 146.0 506.0 147.0 506.0 148.0 506.0 149.0 506.0 150.0 506.0 151.0 506.0 152.0 506.0 153.0 506.0 154.0 506.0 155.0 506.0 156.0 506.0 157.0 506.0 158.0 506.0 159.0 506.0 160.0 506.0 161.0 506.0 162.0 506.0 163.0 506.0 164.0 506.0 165.0 506.0 166.0 506.0 166.5 505.4 167.2 505.0 168.2 505.0 169.2 505.0 170.2 505.0 171.2 505.0 172.2 505.0 173.2 505.0 174.2 505.0 175.2 505.0 176.2 505.0 177.2 505.0 178.2 505.0 179.2 505.0 180.2 505.0 181.2 505.0 182.2 505.0 183.2 505.0 184.2 505.0 185.2 505.0 186.2 505.0 187.2 505.0 188.2 505.0 189.2 505.0 190.2 505.0 191.2 505.0 192.2 505.0 193.2 505.0 194.2 505.0 195.2 505.0 196.2 505.0 197.2 505.0 198.2 505.0 199.2 505.0 200.0 504.8 200.5 504.0 201.5 504.0 202.5 504.0 203.5 504.0 204.5 504.0 205.5 504.0 206.5 504.0 207.5 504.0 208.5 504.0 209.5 504.0 210.5 504.0 211.5 504.0 212.5 504.0 213.5 504.0 214.5 504.0 215.5 504.0 216.5 504.0 217.5 504.0 218.5 504.0 219.5 504.0 220.5 504.0 221.5 504.0 222.5 504.0 223.5 504.0 224.5 504.0 225.0 503.5 225.8 503.0 226.8 503.0 227.8 503.0 228.8 503.0 229.8 503.0 230.8 503.0 231.8 503.0 232.8 503.0 233.0 502.2 234.0 502.0 235.0 502.0 236.0 502.0 237.0 502.0 237.2 501.0 238.2 501.0 239.2 501.0 240.2 501.0 241.1 500.8 241.5 500.2 242.5 500.0 243.5 500.0 244.5 500.0 245.0 499.5 245.8 499.0 246.0 498.2 247.0 498.0 248.0 498.0 248.0 497.0 248.0 496.0 248.2 495.0 249.0 494.8 249.0 493.8 249.0 492.8 249.0 491.8 249.0 490.8 249.0 489.8 249.5 489.0 250.0 488.5 250.0 487.5 250.0 486.5 250.0 485.5 250.0 484.5 250.0 483.5 250.8 483.0 251.0 482.2 251.0 481.2 251.0 480.2 251.0 479.2 251.0 478.2 252.0 478.0 252.0 477.0 252.0 476.0 252.0 475.0 252.0 474.0 252.2 473.0 253.0 472.8 253.0 471.8 253.0 470.8 253.0 469.8 253.0 468.8 253.5 468.0 254.0 467.5 254.0 466.5 254.0 465.5 254.0 464.5 254.0 463.5 254.0 462.5 254.0 461.5 254.8 461.0 255.0 460.2 255.0 459.2 255.0 458.2 255.0 457.2 255.0 456.2 255.0 455.2 255.0 454.2 255.0 453.2 255.0 452.2 255.0 451.2 255.0 450.2 255.0 449.2 255.0 448.2 255.0 447.2 255.0 446.2 255.0 445.2 255.0 444.2 256.0 444.0 256.0 443.0 256.0 442.0 256.0 441.0 256.0 440.0 256.0 439.0 256.0 438.0 256.0 437.0 256.0 436.0 256.0 435.0 256.0 434.0 256.0 433.0 256.0 432.0 256.0 431.0 256.0 430.0 256.0 429.0 256.0 428.0 256.0 427.0 256.0 426.0 256.0 425.0 256.0 424.0 256.0 423.0 256.0 422.0 256.0 421.0 256.0 420.0 256.0 419.0 256.0 418.0 256.0 417.0 256.0 416.0 256.0 415.0 256.0 414.0 256.0 413.0 256.0 412.0 256.0 411.0 256.0 410.0 256.0 409.0 256.0 408.0 256.0 407.0 256.0 406.0 256.0 405.0 256.0 404.0 256.0 403.0 256.0 402.0 256.0 401.0 256.0 400.0 256.0 399.0 256.0 398.0 256.0 397.0 256.0 396.0 256.0 395.0 256.0 394.0 256.0 393.0 256.0 392.0 256.0 391.0 256.0 390.0 256.0 389.0 256.0 388.0 256.0 387.0 256.0 386.0 256.0 385.0 256.0 384.0 256.0 383.0 256.0 382.0 256.0 381.0 256.0 380.0" fill="none" stroke="#6e6e50" stroke-width="0.7" stroke-opacity="0.8"/><path d="M39.2 524.0 40.2 524.0 41.2 524.0 42.2 524.0 43.2 524.0 44.2 524.0 45.2 524.0 46.2 524.0 47.2 524.0 48.2 524.0 49.2 524.0 50.2 524.0 51.2 524.0 52.2 524.0 53.2 524.0 54.2 524.0 55.2 524.0 56.2 524.0 57.2 524.0 58.2 524.0 59.2 524.0 60.2 524.0 61.2 524.0 62.2 524.0 63.2 524.0 64.2 524.0 65.2 524.0 66.0 523.8 66.5 523.0 67.5 523.0 68.5 523.0 69.5 523.0 70.5 523.0 71.5 523.0 72.5 523.0 73.5 523.0 74.5 523.0 75.5 523.0 76.5 523.0 77.5 523.0 78.5 523.0 79.5 523.0 80.5 523.0 81.5 523.0 82.5 523.0 83.5 523.0 84.5 523.0 85.5 523.0 86.5 523.0 87.5 523.0 88.5 523.0 89.5 523.0 90.5 523.0 91.5 523.0 92.5 523.0 93.5 523.0 94.5 523.0 95.5 523.0 96.5 523.0 97.5 523.0 98.5 523.0 99.0 522.5 99.8 522.0 100.8 522.0 101.8 522.0 102.8 522.0 103.8 522.0 104.8 522.0 105.8 522.0 106.8 522.0 107.8 522.0 108.8 522.0 109.8 522.0 110.8 522.0 111.8 522.0 112.8 522.0 113.8 522.0 114.8 522.0 115.8 522.0 116.8 522.0 117.8 522.0 118.8 522.0 119.8 522.0 120.8 522.0 121.8 522.0 122.8 522.0 123.8 522.0 124.8 522.0 125.8 522.0 126.8 522.0 127.8 522.0 128.8 522.0 129.8 522.0 130.8 522.0 131.8 522.0 132.8 522.0 133.0 521.2 134.0 521.0 135.0 521.0 136.0 521.0 137.0 521.0 138.0 521.0 139.0 521.0 140.0 521.0 141.0 521.0 142.0 521.0 143.0 521.0 144.0 521.0 145.0 521.0 146.0 521.0 147.0 521.0 148.0 521.0 149.0 521.0 150.0 521.0 151.0 521.0 152.0 521.0 153.0 521.0 154.0 521.0 155.0 521.0 156.0 521.0 157.0 521.0 158.0 521.0 159.0 521.0 160.0 521.0 161.0 521.0 162.0 521.0 163.0 521.0 164.0 521.0 165.0 521.0 166.0 521.0 166.8 520.7 167.2 520.0 168.2 520.0 169.2 520.0 170.2 520.0 171.2 520.0 172.2 520.0 173.2 520.0 174.2 520.0 175.2 520.0 176.2 520.0 177.2 520.0 178.2 520.0 179.2 520.0 180.2 520.0 181.2 520.0 182.2 520.0 183.2 520.0 184.2 520.0 185.2 520.0 186.2 520.0 187.2 520.0 188.2 520.0 189.2 520.0 190.2 520.0 191.2 520.0 192.2 520.0 193.2 520.0 194.2 520.0 195.2 520.0 196.2 520.0 197.2 520.0 198.2 520.0 199.2 520.0 200.0 519.8 200.5 519.0 201.5 519.0 202.5 519.0 203.5 519.0 204.5 519.0 205.5 519.0 206.5 519.0 207.5 519.0 208.5 519.0 209.0 518.5 209.8 518.0 210.8 518.0 211.8 518.0 212.8 518.0 213.8 518.0 214.8 518.0 215.8 518.0 216.8 518.0 217.8 518.0 218.0 517.2 219.0 517.0 220.0 517.0 221.0 517.0 222.0 517.0 223.0 517.0 224.0 517.0 225.0 517.0 226.0 517.0 227.0 517.0 227.2 516.0 228.2 516.0 229.2 516.0 230.2 516.0 231.2 516.0 232.2 516.0 233.2 516.0 234.0 515.8 234.5 515.0 235.5 515.0 236.5 515.0 237.5 515.0 238.5 515.0 239.5 515.0 240.0 514.5 240.8 514.0 241.8 514.0 242.0 513.2 243.0 513.0 244.0 513.0 244.2 512.0 245.2 512.0 246.0 511.8 246.5 511.0 247.5 511.0 248.0 510.5 248.8 510.0 249.8 510.0 250.0 509.2 251.0 509.0 251.0 508.0 251.2 507.0 252.0 506.8 252.0 505.8 252.5 505.0 253.0 504.5 253.0 503.5 253.8 503.0 254.0 502.2 254.0 501.2 254.0 500.2 255.0 500.0 255.0 499.0 255.0 498.0 255.0 497.0 255.0 496.0 255.0 495.0 255.2 494.0 256.0 493.8 256.0 492.8 256.0 491.8 256.0 490.8 256.0 489.8 256.0 488.8 256.0 487.8 256.0 486.8 256.0 485.8 256.0 484.8 256.5 484.0 257.0 483.5 257.0 482.5 257.0 481.5 257.0 480.5 257.0 479.5 257.0 478.5 257.0 477.5 257.0 476.5 257.8 476.0 258.0 475.2 258.0 474.2 258.0 473.2 258.0 472.2 258.0 471.2 258.0 470.2 258.5 469.6 259.0 469.0 259.0 468.0 259.0 467.0 259.0 466.0 259.0 465.0 259.0 464.0 259.2 463.0 260.0 462.8 260.0 461.8 260.0 460.8 260.0 459.8 260.0 458.8 260.0 457.8 260.0 456.8 260.5 456.0 261.0 455.5 261.0 454.5 261.0 453.5 261.0 452.5 261.0 451.5 261.0 450.5 261.0 449.5 261.0 448.5 261.0 447.5 261.8 447.0 262.0 446.2 262.0 445.2 262.0 444.2 262.0 443.2 262.0 442.2 262.0 441.2 262.0 440.2 262.0 439.2 263.0 439.0 263.0 438.0 263.0 437.0 263.0 436.0 263.0 435.0 263.0 434.0 263.0 433.0 263.0 432.0 263.0 431.0 263.2 430.0 264.0 429.8 264.0 428.8 264.0 427.8 264.0 426.8 264.0 425.8 264.0 424.8 264.0 423.8 264.0 422.8 264.0 421.8 264.0 420.8 264.0 419.8 264.0 418.8 264.0 417.8 264.0 416.8 264.0 415.8 264.0 414.8 264.0 413.8 264.0 412.8 264.0 411.8 264.0 410.8 264.0 409.8 264.0 408.8 264.0 407.8 264.0 406.8 264.0 405.8 264.0 404.8 264.0 403.8 264.0 402.8 264.0 401.8 264.0 400.8 264.0 399.8 264.0 398.8 264.0 397.8 264.0 396.8 264.0 395.8 264.0 394.8 264.0 393.8 264.0 392.8 264.0 391.8 264.5 391.0 265.0 390.5 265.0 389.5 265.0 388.5 265.0 387.5 265.0 386.5 265.0 385.5 265.0 384.5 265.0 383.5 265.0 382.5 265.0 381.5 265.0 380.5 265.0 379.5" fill="none" stroke="#80804a" stroke-width="0.7" stroke-opacity="0.8"/><path d="M340.5 526.0 339.5 526.0 339.0 525.2 338.2 525.0 337.2 525.0 336.2 525.0 335.2 525.0 335.0 524.0 334.0 524.0 333.0 524.0 332.0 523.8 331.8 523.0 330.8 523.0 329.8 523.0 328.8 523.0 328.0 522.5 327.5 522.0 326.5 522.0 325.5 522.0 325.0 521.2 324.2 521.0 323.2 521.0 322.2 521.0 321.2 521.0 321.0 520.0 320.0 520.0 319.0 520.0 318.0 519.8 317.8 519.0 316.8 519.0 315.8 519.0 314.8 519.0 314.0 518.5 313.5 518.0 312.5 518.0 311.5 518.0 310.8 517.7 310.2 517.2 309.2 517.0 308.2 517.0 307.2 517.0 307.0 516.0 306.0 516.0 305.0 516.0 304.0 516.0 303.5 515.4 302.8 515.0 301.8 515.0 300.8 515.0 300.0 514.5 299.5 514.0 298.5 514.0 297.5 514.0 297.0 513.2 296.2 513.0 295.2 513.0 294.2 513.0 294.0 512.0 293.0 512.0 292.0 512.0 291.5 511.3 290.8 511.0 289.8 511.0 288.9 510.8 288.5 510.2 287.5 510.0 286.5 510.0 286.0 509.2 285.2 509.0 285.0 508.0 285.0 507.0 285.0 506.0 284.0 505.8 284.0 504.8 284.0 503.8 284.0 502.8 284.0 501.8 283.8 501.0 283.0 500.5 283.0 499.5 283.0 498.5 283.0 497.5 282.5 497.0 282.0 496.2 282.0 495.2 282.0 494.2 282.0 493.2 282.0 492.2 281.2 492.0 281.0 491.0 281.0 490.0 281.0 489.0 281.0 488.0 281.0 487.0 280.0 486.8 280.0 485.8 280.0 484.8 280.0 483.8 280.0 482.8 280.0 481.8 279.8 481.0 279.0 480.5 279.0 479.5 279.0 478.5 279.0 477.5 279.0 476.5 279.0 475.5 279.0 474.5 279.0 473.5 278.5 473.0 278.0 472.2 278.0 471.2 278.0 470.2 278.0 469.2 278.0 468.2 278.0 467.2 278.0 466.2 278.0 465.2 277.2 465.0 277.0 464.0 277.0 463.0 277.0 462.0 277.0 461.0 277.0 460.0 277.0 459.0 277.0 458.0 277.0 457.0 277.0 456.0 277.0 455.0 277.0 454.0 277.0 453.0 277.0 452.0 277.0 451.0 277.0 450.0 277.0 449.0 277.0 448.0 277.0 447.0 277.0 446.0 277.0 445.0 277.0 444.0 277.0 443.0 277.0 442.0 277.0 441.0 277.0 440.0 277.0 439.0 277.0 438.0 277.0 437.0 277.0 436.0 277.0 435.0 277.0 434.0 277.0 433.0 277.0 432.0 277.0 431.0 277.0 430.0 277.0 429.0 277.0 428.0 277.0 427.0 277.0 426.0 277.0 425.0 277.0 424.0 277.0 423.0 277.0 422.0 277.0 421.0 277.0 420.0 277.0 419.0 277.0 418.0 277.0 417.0 277.0 416.0 277.0 415.0 277.0 414.0 277.0 413.0 277.0 412.0 277.0 411.0 277.0 410.0 277.0 409.0 277.0 408.0 277.0 407.0 277.0 406.0 277.0 405.0 277.0 404.0 277.0 403.0 277.0 402.0 277.0 401.0 277.0 400.0 277.0 399.0 277.0 398.0 277.0 397.0 277.0 396.0 277.0 395.0 277.0 394.0 277.0 393.0 277.0 392.0 277.0 391.0 277.0 390.0 277.0 389.0 277.0 388.0 277.0 387.0 277.0 386.0 277.0 385.0 277.0 384.0 277.0 383.0 277.0 382.0 277.0 381.0 277.0 380.0" fill="none" stroke="#a080c0" stroke-width="0.7" stroke-opacity="0.9"/></g><rect x="236" y="89.8" width="62" height="3.3" fill="#fff"/><rect x="236" y="245.2" width="62" height="3.5" fill="#fff"/><rect x="236" y="304.1" width="62" height="3.7" fill="#fff"/><polyline points="232,-3 296.5,33.7 296.5,89.8" fill="none" stroke-linejoin="miter" stroke="#8c1c7c" stroke-width="0.9"/><polyline points="296.6,93.1 296.6,173.7" fill="none" stroke-linejoin="miter" stroke="#8c1c7c" stroke-width="0.9"/><polyline points="276.6,197.4 272.6,197.4 272.6,206" fill="none" stroke-linejoin="miter" stroke="#e02030" stroke-width="0.9"/><polyline points="273.4,339.5 273.4,347.2 277.2,347.2" fill="none" stroke-linejoin="miter" stroke="#e02030" stroke-width="0.9"/><polyline points="281.6,197.4 284.4,197.4 284.4,205.9 296.7,205.9 296.7,245.2" fill="none" stroke-linejoin="miter" stroke="#8c1c7c" stroke-width="0.9"/><polyline points="296.7,248.7 296.7,304.1" fill="none" stroke-linejoin="miter" stroke="#8c1c7c" stroke-width="0.9"/><polyline points="296.7,307.8 296.7,339.5 284.8,339.5 284.8,347.2 282.2,347.2" fill="none" stroke-linejoin="miter" stroke="#8c1c7c" stroke-width="0.9"/><polyline points="294.8,379 294.8,436.5 340.7,436.5 340.7,450" fill="none" stroke-linejoin="miter" stroke="#8c1c7c" stroke-width="0.9"/><polyline points="340.7,450 340.7,530" fill="none" stroke-linejoin="miter" stroke="#24308c" stroke-width="0.9"/><g clip-path="url(#hc1)"><line x1="440.0" y1="100.0" x2="498.3" y2="-5.0" stroke="#8a8a8a" stroke-width="0.6"/><line x1="446.2" y1="100.0" x2="504.5" y2="-5.0" stroke="#8a8a8a" stroke-width="0.6"/><line x1="452.4" y1="100.0" x2="510.7" y2="-5.0" stroke="#8a8a8a" stroke-width="0.6"/><line x1="458.6" y1="100.0" x2="516.9" y2="-5.0" stroke="#8a8a8a" stroke-width="0.6"/><line x1="464.8" y1="100.0" x2="523.1" y2="-5.0" stroke="#8a8a8a" stroke-width="0.6"/><line x1="471.0" y1="100.0" x2="529.3" y2="-5.0" stroke="#8a8a8a" stroke-width="0.6"/><line x1="477.2" y1="100.0" x2="535.5" y2="-5.0" stroke="#8a8a8a" stroke-width="0.6"/><line x1="483.4" y1="100.0" x2="541.7" y2="-5.0" stroke="#8a8a8a" stroke-width="0.6"/><line x1="489.6" y1="100.0" x2="547.9" y2="-5.0" stroke="#8a8a8a" stroke-width="0.6"/><line x1="495.8" y1="100.0" x2="554.1" y2="-5.0" stroke="#8a8a8a" stroke-width="0.6"/><line x1="502.0" y1="100.0" x2="560.3" y2="-5.0" stroke="#8a8a8a" stroke-width="0.6"/><line x1="508.2" y1="100.0" x2="566.5" y2="-5.0" stroke="#8a8a8a" stroke-width="0.6"/><line x1="514.4" y1="100.0" x2="572.7" y2="-5.0" stroke="#8a8a8a" stroke-width="0.6"/><line x1="520.6" y1="100.0" x2="578.9" y2="-5.0" stroke="#8a8a8a" stroke-width="0.6"/><line x1="526.8" y1="100.0" x2="585.1" y2="-5.0" stroke="#8a8a8a" stroke-width="0.6"/><line x1="533.0" y1="100.0" x2="591.3" y2="-5.0" stroke="#8a8a8a" stroke-width="0.6"/><line x1="539.2" y1="100.0" x2="597.5" y2="-5.0" stroke="#8a8a8a" stroke-width="0.6"/><line x1="545.4" y1="100.0" x2="603.7" y2="-5.0" stroke="#8a8a8a" stroke-width="0.6"/><line x1="551.6" y1="100.0" x2="609.9" y2="-5.0" stroke="#8a8a8a" stroke-width="0.6"/><line x1="557.8" y1="100.0" x2="616.1" y2="-5.0" stroke="#8a8a8a" stroke-width="0.6"/><line x1="564.0" y1="100.0" x2="622.3" y2="-5.0" stroke="#8a8a8a" stroke-width="0.6"/><line x1="570.2" y1="100.0" x2="628.5" y2="-5.0" stroke="#8a8a8a" stroke-width="0.6"/><line x1="576.4" y1="100.0" x2="634.7" y2="-5.0" stroke="#8a8a8a" stroke-width="0.6"/><line x1="582.6" y1="100.0" x2="640.9" y2="-5.0" stroke="#8a8a8a" stroke-width="0.6"/><line x1="588.8" y1="100.0" x2="647.1" y2="-5.0" stroke="#8a8a8a" stroke-width="0.6"/><line x1="595.0" y1="100.0" x2="653.3" y2="-5.0" stroke="#8a8a8a" stroke-width="0.6"/><line x1="601.2" y1="100.0" x2="659.5" y2="-5.0" stroke="#8a8a8a" stroke-width="0.6"/><line x1="607.4" y1="100.0" x2="665.7" y2="-5.0" stroke="#8a8a8a" stroke-width="0.6"/><line x1="613.6" y1="100.0" x2="671.9" y2="-5.0" stroke="#8a8a8a" stroke-width="0.6"/><line x1="619.8" y1="100.0" x2="678.1" y2="-5.0" stroke="#8a8a8a" stroke-width="0.6"/><line x1="626.0" y1="100.0" x2="684.3" y2="-5.0" stroke="#8a8a8a" stroke-width="0.6"/><line x1="632.2" y1="100.0" x2="690.5" y2="-5.0" stroke="#8a8a8a" stroke-width="0.6"/><line x1="638.4" y1="100.0" x2="696.7" y2="-5.0" stroke="#8a8a8a" stroke-width="0.6"/><line x1="644.6" y1="100.0" x2="702.9" y2="-5.0" stroke="#8a8a8a" stroke-width="0.6"/><line x1="650.8" y1="100.0" x2="709.1" y2="-5.0" stroke="#8a8a8a" stroke-width="0.6"/><line x1="657.0" y1="100.0" x2="715.3" y2="-5.0" stroke="#8a8a8a" stroke-width="0.6"/><line x1="663.2" y1="100.0" x2="721.5" y2="-5.0" stroke="#8a8a8a" stroke-width="0.6"/><line x1="669.4" y1="100.0" x2="727.7" y2="-5.0" stroke="#8a8a8a" stroke-width="0.6"/><line x1="675.6" y1="100.0" x2="733.9" y2="-5.0" stroke="#8a8a8a" stroke-width="0.6"/><line x1="681.8" y1="100.0" x2="740.1" y2="-5.0" stroke="#8a8a8a" stroke-width="0.6"/><line x1="688.0" y1="100.0" x2="746.3" y2="-5.0" stroke="#8a8a8a" stroke-width="0.6"/><line x1="694.2" y1="100.0" x2="752.5" y2="-5.0" stroke="#8a8a8a" stroke-width="0.6"/><line x1="700.4" y1="100.0" x2="758.7" y2="-5.0" stroke="#8a8a8a" stroke-width="0.6"/><line x1="706.6" y1="100.0" x2="764.9" y2="-5.0" stroke="#8a8a8a" stroke-width="0.6"/><line x1="712.8" y1="100.0" x2="771.1" y2="-5.0" stroke="#8a8a8a" stroke-width="0.6"/><line x1="719.0" y1="100.0" x2="777.3" y2="-5.0" stroke="#8a8a8a" stroke-width="0.6"/><line x1="725.2" y1="100.0" x2="783.5" y2="-5.0" stroke="#8a8a8a" stroke-width="0.6"/><line x1="731.4" y1="100.0" x2="789.7" y2="-5.0" stroke="#8a8a8a" stroke-width="0.6"/><line x1="737.6" y1="100.0" x2="795.9" y2="-5.0" stroke="#8a8a8a" stroke-width="0.6"/><line x1="743.8" y1="100.0" x2="802.1" y2="-5.0" stroke="#8a8a8a" stroke-width="0.6"/><line x1="750.0" y1="100.0" x2="808.3" y2="-5.0" stroke="#8a8a8a" stroke-width="0.6"/><line x1="756.2" y1="100.0" x2="814.5" y2="-5.0" stroke="#8a8a8a" stroke-width="0.6"/><line x1="762.4" y1="100.0" x2="820.7" y2="-5.0" stroke="#8a8a8a" stroke-width="0.6"/><line x1="768.6" y1="100.0" x2="826.9" y2="-5.0" stroke="#8a8a8a" stroke-width="0.6"/><line x1="774.8" y1="100.0" x2="833.1" y2="-5.0" stroke="#8a8a8a" stroke-width="0.6"/><line x1="781.0" y1="100.0" x2="839.3" y2="-5.0" stroke="#8a8a8a" stroke-width="0.6"/><line x1="787.2" y1="100.0" x2="845.5" y2="-5.0" stroke="#8a8a8a" stroke-width="0.6"/><line x1="793.4" y1="100.0" x2="851.7" y2="-5.0" stroke="#8a8a8a" stroke-width="0.6"/><line x1="799.6" y1="100.0" x2="857.9" y2="-5.0" stroke="#8a8a8a" stroke-width="0.6"/><line x1="805.8" y1="100.0" x2="864.1" y2="-5.0" stroke="#8a8a8a" stroke-width="0.6"/></g><line x1="628.5" y1="74.5" x2="667.8" y2="74.5" stroke="#a8a8a8" stroke-width="0.8"/><line x1="628.5" y1="79.5" x2="667.8" y2="79.5" stroke="#a8a8a8" stroke-width="0.8"/><line x1="628.5" y1="84.6" x2="667.8" y2="84.6" stroke="#a8a8a8" stroke-width="0.8"/><line x1="628.5" y1="89.6" x2="667.8" y2="89.6" stroke="#a8a8a8" stroke-width="0.8"/><line x1="628.5" y1="94.7" x2="667.8" y2="94.7" stroke="#a8a8a8" stroke-width="0.8"/><line x1="628.5" y1="99.7" x2="667.8" y2="99.7" stroke="#a8a8a8" stroke-width="0.8"/><line x1="628.5" y1="104.8" x2="667.8" y2="104.8" stroke="#a8a8a8" stroke-width="0.8"/><line x1="628.5" y1="109.8" x2="667.8" y2="109.8" stroke="#a8a8a8" stroke-width="0.8"/><line x1="628.5" y1="114.9" x2="667.8" y2="114.9" stroke="#a8a8a8" stroke-width="0.8"/><line x1="628.5" y1="119.9" x2="667.8" y2="119.9" stroke="#a8a8a8" stroke-width="0.8"/><line x1="628.5" y1="125.0" x2="667.8" y2="125.0" stroke="#a8a8a8" stroke-width="0.8"/><line x1="628.5" y1="130.0" x2="667.8" y2="130.0" stroke="#a8a8a8" stroke-width="0.8"/><line x1="628.5" y1="135.1" x2="667.8" y2="135.1" stroke="#a8a8a8" stroke-width="0.8"/><line x1="628.5" y1="140.2" x2="667.8" y2="140.2" stroke="#a8a8a8" stroke-width="0.8"/><line x1="628.5" y1="145.2" x2="667.8" y2="145.2" stroke="#a8a8a8" stroke-width="0.8"/><line x1="628.5" y1="150.3" x2="667.8" y2="150.3" stroke="#a8a8a8" stroke-width="0.8"/><line x1="628.5" y1="155.3" x2="667.8" y2="155.3" stroke="#a8a8a8" stroke-width="0.8"/><line x1="628.5" y1="160.4" x2="667.8" y2="160.4" stroke="#a8a8a8" stroke-width="0.8"/><line x1="628.5" y1="165.4" x2="667.8" y2="165.4" stroke="#a8a8a8" stroke-width="0.8"/><line x1="628.5" y1="170.5" x2="667.8" y2="170.5" stroke="#a8a8a8" stroke-width="0.8"/><polyline points="453.6,0.0 618.2,92.8" fill="none" stroke="#111" stroke-width="1.1"/><line x1="618.2" y1="92.8" x2="618.2" y2="173.4" stroke="#111" stroke-width="1.1"/><polyline points="450.6,0.0 616.9,94.0" fill="none" stroke="#a8a8a8" stroke-width="0.7"/><line x1="616.9" y1="94.0" x2="616.9" y2="173.4" stroke="#a8a8a8" stroke-width="0.7"/><polyline points="504.5,0.0 628.5,70.7 628.5,173.4" fill="none" stroke="#111" stroke-width="1.2"/><line x1="618.2" y1="91.6" x2="628.5" y2="91.6" stroke="#8a8a8a" stroke-width="0.8"/><line x1="618.2" y1="108.3" x2="628.5" y2="108.3" stroke="#111" stroke-width="1.0"/><line x1="618.7" y1="0.0" x2="667.8" y2="28.2" stroke="#111" stroke-width="1.2"/><line x1="610.0" y1="0.0" x2="667.8" y2="32.3" stroke="#111" stroke-width="1.2"/><line x1="667.8" y1="2.2" x2="667.8" y2="173.4" stroke="#111" stroke-width="0.8"/><line x1="670.3" y1="2.2" x2="670.3" y2="173.4" stroke="#8a8a8a" stroke-width="0.7"/><line x1="672.6" y1="2.2" x2="672.6" y2="173.4" stroke="#111" stroke-width="0.9"/><line x1="667.8" y1="2.2" x2="672.6" y2="2.2" stroke="#111" stroke-width="1.0"/><line x1="670.3" y1="12.0" x2="672.6" y2="12.0" stroke="#111" stroke-width="0.7"/><line x1="670.3" y1="23.5" x2="672.6" y2="23.5" stroke="#111" stroke-width="0.7"/><line x1="670.3" y1="35.0" x2="672.6" y2="35.0" stroke="#111" stroke-width="0.7"/><line x1="670.3" y1="46.5" x2="672.6" y2="46.5" stroke="#111" stroke-width="0.7"/><line x1="670.3" y1="58.0" x2="672.6" y2="58.0" stroke="#111" stroke-width="0.7"/><line x1="670.3" y1="69.5" x2="672.6" y2="69.5" stroke="#111" stroke-width="0.7"/><line x1="670.3" y1="81.0" x2="672.6" y2="81.0" stroke="#111" stroke-width="0.7"/><line x1="670.3" y1="92.5" x2="672.6" y2="92.5" stroke="#111" stroke-width="0.7"/><line x1="670.3" y1="104.0" x2="672.6" y2="104.0" stroke="#111" stroke-width="0.7"/><line x1="670.3" y1="115.5" x2="672.6" y2="115.5" stroke="#111" stroke-width="0.7"/><line x1="670.3" y1="127.0" x2="672.6" y2="127.0" stroke="#111" stroke-width="0.7"/><line x1="670.3" y1="138.5" x2="672.6" y2="138.5" stroke="#111" stroke-width="0.7"/><line x1="670.3" y1="150.0" x2="672.6" y2="150.0" stroke="#111" stroke-width="0.7"/><line x1="670.3" y1="161.5" x2="672.6" y2="161.5" stroke="#111" stroke-width="0.7"/><polyline points="648.3,16.1 659.2,16.1 667.8,2.2" fill="none" stroke="#111" stroke-width="1.0"/><polyline points="449.5,173.5 449.5,169.9 562.8,169.9 562.8,173.5" fill="none" stroke="#8a8a8a" stroke-width="0.8"/><line x1="416.9" y1="190.0" x2="416.9" y2="259.8" stroke="#8a8a8a" stroke-width="0.8"/><line x1="439.6" y1="190.0" x2="439.6" y2="259.8" stroke="#8a8a8a" stroke-width="0.8"/><line x1="495.3" y1="190.0" x2="495.3" y2="259.8" stroke="#8a8a8a" stroke-width="0.8"/><line x1="416.9" y1="259.9" x2="601.5" y2="259.9" stroke="#999" stroke-width="1.5"/><line x1="416.9" y1="265.2" x2="618.5" y2="265.2" stroke="#8a8a8a" stroke-width="0.7"/><line x1="416.9" y1="270.2" x2="629.2" y2="270.2" stroke="#111" stroke-width="1.3"/><line x1="416.9" y1="294.3" x2="629.2" y2="294.3" stroke="#111" stroke-width="1.3"/><line x1="416.9" y1="296.7" x2="617.4" y2="296.7" stroke="#a8a8a8" stroke-width="0.7"/><polyline points="574.1,189.3 565.2,193.1 573.6,243.7 560.6,261.1 604.3,257.6 601.2,212.6" fill="none" stroke="#8a8a8a" stroke-width="0.8"/><line x1="608.7" y1="212.6" x2="608.7" y2="258.7" stroke="#8a8a8a" stroke-width="0.8"/><line x1="478.1" y1="296.7" x2="478.1" y2="363.6" stroke="#8a8a8a" stroke-width="0.8"/><polyline points="478.1,338.3 510.0,338.3 510.0,363.6" fill="none" stroke="#8a8a8a" stroke-width="0.8"/><polyline points="478.1,343.4 505.6,343.4 505.6,363.6" fill="none" stroke="#8a8a8a" stroke-width="0.8"/><polyline points="416.0,383.9 502.3,383.9 502.3,379.0" fill="none" stroke="#8a8a8a" stroke-width="0.8"/><polyline points="416.0,388.5 508.3,388.5 508.3,379.0" fill="none" stroke="#8a8a8a" stroke-width="0.8"/><rect x="600.8" y="207.1" width="52.2" height="5.3" fill="#fff" stroke="#111" stroke-width="1.0"/><line x1="617.3" y1="212.5" x2="617.3" y2="363.2" stroke="#8a8a8a" stroke-width="0.7"/><line x1="618.9" y1="212.5" x2="618.9" y2="270.2" stroke="#111" stroke-width="1.3"/><line x1="618.9" y1="294.3" x2="618.9" y2="338.0" stroke="#111" stroke-width="1.3"/><line x1="629.2" y1="212.4" x2="629.2" y2="338.0" stroke="#111" stroke-width="1.3"/><line x1="629.3" y1="338.0" x2="629.3" y2="363.2" stroke="#8a8a8a" stroke-width="0.7"/><line x1="617.3" y1="338.0" x2="617.3" y2="363.2" stroke="#8a8a8a" stroke-width="0.7"/><line x1="600.8" y1="212.4" x2="668.3" y2="212.4" stroke="#111" stroke-width="1.0"/><line x1="618.9" y1="254.3" x2="629.2" y2="254.3" stroke="#111" stroke-width="1.1"/><line x1="618.9" y1="269.9" x2="629.2" y2="269.9" stroke="#111" stroke-width="1.1"/><line x1="618.9" y1="295.0" x2="629.2" y2="295.0" stroke="#111" stroke-width="1.1"/><line x1="618.9" y1="310.3" x2="629.2" y2="310.3" stroke="#111" stroke-width="1.1"/><line x1="618.9" y1="337.9" x2="629.2" y2="337.9" stroke="#111" stroke-width="1.1"/><line x1="629.2" y1="217.5" x2="668.0" y2="217.5" stroke="#a8a8a8" stroke-width="0.8"/><line x1="629.2" y1="222.7" x2="668.0" y2="222.7" stroke="#a8a8a8" stroke-width="0.8"/><line x1="629.2" y1="227.9" x2="668.0" y2="227.9" stroke="#a8a8a8" stroke-width="0.8"/><line x1="629.2" y1="233.1" x2="668.0" y2="233.1" stroke="#a8a8a8" stroke-width="0.8"/><line x1="629.2" y1="238.3" x2="668.0" y2="238.3" stroke="#a8a8a8" stroke-width="0.8"/><line x1="629.2" y1="243.5" x2="668.0" y2="243.5" stroke="#a8a8a8" stroke-width="0.8"/><line x1="629.2" y1="248.7" x2="668.0" y2="248.7" stroke="#a8a8a8" stroke-width="0.8"/><line x1="629.2" y1="253.9" x2="668.0" y2="253.9" stroke="#a8a8a8" stroke-width="0.8"/><line x1="629.2" y1="259.1" x2="668.0" y2="259.1" stroke="#a8a8a8" stroke-width="0.8"/><line x1="629.2" y1="264.3" x2="668.0" y2="264.3" stroke="#a8a8a8" stroke-width="0.8"/><line x1="629.2" y1="269.5" x2="668.0" y2="269.5" stroke="#a8a8a8" stroke-width="0.8"/><line x1="629.2" y1="274.7" x2="668.0" y2="274.7" stroke="#a8a8a8" stroke-width="0.8"/><line x1="629.2" y1="279.9" x2="668.0" y2="279.9" stroke="#a8a8a8" stroke-width="0.8"/><line x1="629.2" y1="285.1" x2="668.0" y2="285.1" stroke="#a8a8a8" stroke-width="0.8"/><line x1="629.2" y1="290.3" x2="668.0" y2="290.3" stroke="#a8a8a8" stroke-width="0.8"/><line x1="629.2" y1="295.5" x2="668.0" y2="295.5" stroke="#a8a8a8" stroke-width="0.8"/><line x1="629.2" y1="300.7" x2="668.0" y2="300.7" stroke="#a8a8a8" stroke-width="0.8"/><line x1="629.2" y1="305.9" x2="668.0" y2="305.9" stroke="#a8a8a8" stroke-width="0.8"/><line x1="629.2" y1="311.1" x2="668.0" y2="311.1" stroke="#a8a8a8" stroke-width="0.8"/><line x1="629.2" y1="316.3" x2="668.0" y2="316.3" stroke="#a8a8a8" stroke-width="0.8"/><line x1="629.2" y1="321.5" x2="668.0" y2="321.5" stroke="#a8a8a8" stroke-width="0.8"/><line x1="629.2" y1="326.7" x2="668.0" y2="326.7" stroke="#a8a8a8" stroke-width="0.8"/><line x1="629.2" y1="331.9" x2="668.0" y2="331.9" stroke="#a8a8a8" stroke-width="0.8"/><rect x="629.2" y="332.8" width="22.8" height="5.6" fill="none" stroke="#111" stroke-width="0.9"/><line x1="668.2" y1="212.4" x2="668.2" y2="338.6" stroke="#111" stroke-width="0.9"/><rect x="669.9" y="213.9" width="3.3" height="124.7" fill="none" stroke="#111" stroke-width="0.8"/><line x1="669.9" y1="225.0" x2="673.2" y2="225.0" stroke="#111" stroke-width="0.6"/><line x1="669.9" y1="240.5" x2="673.2" y2="240.5" stroke="#111" stroke-width="0.6"/><line x1="669.9" y1="256.0" x2="673.2" y2="256.0" stroke="#111" stroke-width="0.6"/><line x1="669.9" y1="271.5" x2="673.2" y2="271.5" stroke="#111" stroke-width="0.6"/><line x1="669.9" y1="287.0" x2="673.2" y2="287.0" stroke="#111" stroke-width="0.6"/><line x1="669.9" y1="302.5" x2="673.2" y2="302.5" stroke="#111" stroke-width="0.6"/><line x1="669.9" y1="318.0" x2="673.2" y2="318.0" stroke="#111" stroke-width="0.6"/><line x1="669.9" y1="333.5" x2="673.2" y2="333.5" stroke="#111" stroke-width="0.6"/><line x1="652.4" y1="190.0" x2="652.4" y2="212.4" stroke="#a8a8a8" stroke-width="0.6"/><line x1="656.5" y1="190.0" x2="656.5" y2="212.4" stroke="#777" stroke-width="1.0"/><line x1="659.5" y1="190.0" x2="659.5" y2="212.4" stroke="#a8a8a8" stroke-width="0.8"/><line x1="662.5" y1="190.0" x2="662.5" y2="212.4" stroke="#777" stroke-width="1.0"/><line x1="668.5" y1="190.0" x2="668.5" y2="212.4" stroke="#ccc" stroke-width="0.8"/><line x1="669.8" y1="190.0" x2="669.8" y2="212.4" stroke="#ccc" stroke-width="0.8"/><line x1="673.2" y1="190.0" x2="673.2" y2="212.4" stroke="#666" stroke-width="1.0"/><line x1="657.0" y1="199.0" x2="663.0" y2="199.0" stroke="#8a8a8a" stroke-width="0.7"/><line x1="657.0" y1="200.5" x2="663.0" y2="200.5" stroke="#8a8a8a" stroke-width="0.7"/><line x1="657.0" y1="202.0" x2="663.0" y2="202.0" stroke="#8a8a8a" stroke-width="0.7"/><line x1="657.0" y1="207.5" x2="665.0" y2="207.5" stroke="#8a8a8a" stroke-width="0.7"/><line x1="657.0" y1="209.0" x2="665.0" y2="209.0" stroke="#8a8a8a" stroke-width="0.7"/><line x1="657.0" y1="210.5" x2="665.0" y2="210.5" stroke="#8a8a8a" stroke-width="0.7"/><circle cx="656.5" cy="196" r="0.8" fill="#111"/><circle cx="662.5" cy="195" r="0.8" fill="#111"/><circle cx="654.5" cy="205" r="0.8" fill="#111"/><circle cx="662.5" cy="203.5" r="0.8" fill="#111"/><circle cx="665" cy="207" r="0.8" fill="#111"/><line x1="622.0" y1="190.0" x2="622.4" y2="207.0" stroke="#a8a8a8" stroke-width="0.6"/><line x1="624.4" y1="190.0" x2="624.8" y2="207.0" stroke="#a8a8a8" stroke-width="0.6"/><line x1="628.3" y1="190.0" x2="628.7" y2="207.0" stroke="#a8a8a8" stroke-width="0.6"/><line x1="630.7" y1="190.0" x2="631.1" y2="207.0" stroke="#a8a8a8" stroke-width="0.6"/><line x1="652.4" y1="340.0" x2="652.4" y2="363.4" stroke="#8a8a8a" stroke-width="0.6"/><line x1="656.6" y1="340.0" x2="656.6" y2="363.4" stroke="#777" stroke-width="1.0"/><line x1="660.0" y1="340.0" x2="660.0" y2="363.4" stroke="#a8a8a8" stroke-width="0.8"/><line x1="662.8" y1="340.0" x2="662.8" y2="363.4" stroke="#777" stroke-width="1.0"/><line x1="668.3" y1="340.0" x2="668.3" y2="363.4" stroke="#a8a8a8" stroke-width="0.8"/><line x1="654.5" y1="334.5" x2="664.0" y2="334.5" stroke="#a8a8a8" stroke-width="0.8"/><line x1="654.5" y1="336.5" x2="664.0" y2="336.5" stroke="#a8a8a8" stroke-width="0.8"/><line x1="654.5" y1="338.5" x2="664.0" y2="338.5" stroke="#a8a8a8" stroke-width="0.8"/><line x1="654.5" y1="344.0" x2="664.0" y2="344.0" stroke="#a8a8a8" stroke-width="0.8"/><line x1="654.5" y1="346.0" x2="664.0" y2="346.0" stroke="#a8a8a8" stroke-width="0.8"/><circle cx="654.5" cy="340.5" r="0.8" fill="#111"/><circle cx="662.5" cy="342" r="0.8" fill="#111"/><circle cx="656.6" cy="349.5" r="0.8" fill="#111"/><circle cx="662.8" cy="350.5" r="0.8" fill="#111"/><rect x="564.5" y="379.5" width="53.3" height="55.8" fill="none" stroke="#8a8a8a" stroke-width="0.8"/><line x1="564.5" y1="382.0" x2="617.8" y2="382.0" stroke="#8a8a8a" stroke-width="0.6"/><line x1="564.5" y1="431.0" x2="617.8" y2="431.0" stroke="#8a8a8a" stroke-width="0.7"/><line x1="564.5" y1="433.2" x2="617.8" y2="433.2" stroke="#b0b0b0" stroke-width="0.7"/><line x1="414.4" y1="436.9" x2="617.8" y2="436.9" stroke="#999" stroke-width="1.4"/><line x1="414.4" y1="442.3" x2="617.8" y2="442.3" stroke="#8a8a8a" stroke-width="0.8"/><line x1="414.4" y1="447.5" x2="617.8" y2="447.5" stroke="#8a8a8a" stroke-width="0.8"/><line x1="617.8" y1="447.5" x2="628.7" y2="447.5" stroke="#111" stroke-width="1.1"/><line x1="414.4" y1="450.3" x2="628.7" y2="450.3" stroke="#333" stroke-width="1.0"/><line x1="415.9" y1="450.4" x2="415.9" y2="474.0" stroke="#8a8a8a" stroke-width="0.7"/><line x1="421.0" y1="450.4" x2="421.0" y2="474.0" stroke="#8a8a8a" stroke-width="0.7"/><line x1="426.0" y1="450.4" x2="426.0" y2="474.0" stroke="#8a8a8a" stroke-width="0.7"/><line x1="431.1" y1="450.4" x2="431.1" y2="474.0" stroke="#8a8a8a" stroke-width="0.7"/><line x1="436.1" y1="450.4" x2="436.1" y2="474.0" stroke="#8a8a8a" stroke-width="0.7"/><line x1="441.2" y1="450.4" x2="441.2" y2="474.0" stroke="#8a8a8a" stroke-width="0.7"/><line x1="446.3" y1="450.4" x2="446.3" y2="474.0" stroke="#8a8a8a" stroke-width="0.7"/><line x1="451.3" y1="450.4" x2="451.3" y2="474.0" stroke="#8a8a8a" stroke-width="0.7"/><line x1="456.4" y1="450.4" x2="456.4" y2="474.0" stroke="#8a8a8a" stroke-width="0.7"/><line x1="461.4" y1="450.4" x2="461.4" y2="474.0" stroke="#8a8a8a" stroke-width="0.7"/><line x1="466.5" y1="450.4" x2="466.5" y2="474.0" stroke="#8a8a8a" stroke-width="0.7"/><line x1="471.6" y1="450.4" x2="471.6" y2="474.0" stroke="#8a8a8a" stroke-width="0.7"/><line x1="476.6" y1="450.4" x2="476.6" y2="474.0" stroke="#8a8a8a" stroke-width="0.7"/><line x1="481.7" y1="450.4" x2="481.7" y2="474.0" stroke="#8a8a8a" stroke-width="0.7"/><line x1="486.7" y1="450.4" x2="486.7" y2="474.0" stroke="#8a8a8a" stroke-width="0.7"/><line x1="491.8" y1="450.4" x2="491.8" y2="474.0" stroke="#8a8a8a" stroke-width="0.7"/><line x1="496.9" y1="450.4" x2="496.9" y2="474.0" stroke="#8a8a8a" stroke-width="0.7"/><line x1="501.9" y1="450.4" x2="501.9" y2="474.0" stroke="#8a8a8a" stroke-width="0.7"/><line x1="507.0" y1="450.4" x2="507.0" y2="474.0" stroke="#8a8a8a" stroke-width="0.7"/><line x1="512.0" y1="450.4" x2="512.0" y2="474.0" stroke="#8a8a8a" stroke-width="0.7"/><line x1="517.1" y1="450.4" x2="517.1" y2="474.0" stroke="#8a8a8a" stroke-width="0.7"/><line x1="522.2" y1="450.4" x2="522.2" y2="474.0" stroke="#8a8a8a" stroke-width="0.7"/><line x1="527.2" y1="450.4" x2="527.2" y2="474.0" stroke="#8a8a8a" stroke-width="0.7"/><line x1="532.3" y1="450.4" x2="532.3" y2="474.0" stroke="#8a8a8a" stroke-width="0.7"/><line x1="537.3" y1="450.4" x2="537.3" y2="474.0" stroke="#8a8a8a" stroke-width="0.7"/><line x1="542.4" y1="450.4" x2="542.4" y2="474.0" stroke="#8a8a8a" stroke-width="0.7"/><line x1="547.5" y1="450.4" x2="547.5" y2="474.0" stroke="#8a8a8a" stroke-width="0.7"/><line x1="552.5" y1="450.4" x2="552.5" y2="474.0" stroke="#8a8a8a" stroke-width="0.7"/><line x1="557.6" y1="450.4" x2="557.6" y2="474.0" stroke="#8a8a8a" stroke-width="0.7"/><line x1="562.6" y1="450.4" x2="562.6" y2="474.0" stroke="#8a8a8a" stroke-width="0.7"/><line x1="567.7" y1="450.4" x2="567.7" y2="474.0" stroke="#8a8a8a" stroke-width="0.7"/><line x1="572.8" y1="450.4" x2="572.8" y2="474.0" stroke="#8a8a8a" stroke-width="0.7"/><line x1="577.8" y1="450.4" x2="577.8" y2="474.0" stroke="#8a8a8a" stroke-width="0.7"/><line x1="582.9" y1="450.4" x2="582.9" y2="474.0" stroke="#8a8a8a" stroke-width="0.7"/><line x1="587.9" y1="450.4" x2="587.9" y2="474.0" stroke="#8a8a8a" stroke-width="0.7"/><line x1="593.0" y1="450.4" x2="593.0" y2="474.0" stroke="#8a8a8a" stroke-width="0.7"/><line x1="598.1" y1="450.4" x2="598.1" y2="474.0" stroke="#8a8a8a" stroke-width="0.7"/><line x1="603.1" y1="450.4" x2="603.1" y2="474.0" stroke="#8a8a8a" stroke-width="0.7"/><line x1="608.2" y1="450.4" x2="608.2" y2="474.0" stroke="#8a8a8a" stroke-width="0.7"/><line x1="613.2" y1="450.4" x2="613.2" y2="474.0" stroke="#8a8a8a" stroke-width="0.7"/><line x1="618.3" y1="450.4" x2="618.3" y2="474.0" stroke="#8a8a8a" stroke-width="0.7"/><line x1="623.4" y1="450.4" x2="623.4" y2="474.0" stroke="#8a8a8a" stroke-width="0.7"/><line x1="628.4" y1="450.4" x2="628.4" y2="474.0" stroke="#8a8a8a" stroke-width="0.7"/><line x1="414.4" y1="474.0" x2="628.7" y2="474.0" stroke="#111" stroke-width="1.3"/><g clip-path="url(#hc3)"><line x1="356.9" y1="474.0" x2="390.9" y2="508.0" stroke="#666" stroke-width="0.75" stroke-dasharray="12 2 2 2"/><line x1="368.4" y1="474.0" x2="402.4" y2="508.0" stroke="#666" stroke-width="0.75" stroke-dasharray="12 2 2 2"/><line x1="379.9" y1="474.0" x2="413.9" y2="508.0" stroke="#666" stroke-width="0.75" stroke-dasharray="12 2 2 2"/><line x1="391.4" y1="474.0" x2="425.4" y2="508.0" stroke="#666" stroke-width="0.75" stroke-dasharray="12 2 2 2"/><line x1="402.9" y1="474.0" x2="436.9" y2="508.0" stroke="#666" stroke-width="0.75" stroke-dasharray="12 2 2 2"/><line x1="414.4" y1="474.0" x2="448.4" y2="508.0" stroke="#666" stroke-width="0.75" stroke-dasharray="12 2 2 2"/><line x1="425.9" y1="474.0" x2="459.9" y2="508.0" stroke="#666" stroke-width="0.75" stroke-dasharray="12 2 2 2"/><line x1="437.4" y1="474.0" x2="471.4" y2="508.0" stroke="#666" stroke-width="0.75" stroke-dasharray="12 2 2 2"/><line x1="448.9" y1="474.0" x2="482.9" y2="508.0" stroke="#666" stroke-width="0.75" stroke-dasharray="12 2 2 2"/><line x1="460.4" y1="474.0" x2="494.4" y2="508.0" stroke="#666" stroke-width="0.75" stroke-dasharray="12 2 2 2"/><line x1="471.9" y1="474.0" x2="505.9" y2="508.0" stroke="#666" stroke-width="0.75" stroke-dasharray="12 2 2 2"/><line x1="483.4" y1="474.0" x2="517.4" y2="508.0" stroke="#666" stroke-width="0.75" stroke-dasharray="12 2 2 2"/><line x1="494.9" y1="474.0" x2="528.9" y2="508.0" stroke="#666" stroke-width="0.75" stroke-dasharray="12 2 2 2"/><line x1="506.4" y1="474.0" x2="540.4" y2="508.0" stroke="#666" stroke-width="0.75" stroke-dasharray="12 2 2 2"/><line x1="517.9" y1="474.0" x2="551.9" y2="508.0" stroke="#666" stroke-width="0.75" stroke-dasharray="12 2 2 2"/><line x1="529.4" y1="474.0" x2="563.4" y2="508.0" stroke="#666" stroke-width="0.75" stroke-dasharray="12 2 2 2"/><line x1="540.9" y1="474.0" x2="574.9" y2="508.0" stroke="#666" stroke-width="0.75" stroke-dasharray="12 2 2 2"/><line x1="552.4" y1="474.0" x2="586.4" y2="508.0" stroke="#666" stroke-width="0.75" stroke-dasharray="12 2 2 2"/><line x1="563.9" y1="474.0" x2="597.9" y2="508.0" stroke="#666" stroke-width="0.75" stroke-dasharray="12 2 2 2"/><line x1="575.4" y1="474.0" x2="609.4" y2="508.0" stroke="#666" stroke-width="0.75" stroke-dasharray="12 2 2 2"/><line x1="586.9" y1="474.0" x2="620.9" y2="508.0" stroke="#666" stroke-width="0.75" stroke-dasharray="12 2 2 2"/><line x1="598.4" y1="474.0" x2="632.4" y2="508.0" stroke="#666" stroke-width="0.75" stroke-dasharray="12 2 2 2"/><line x1="609.9" y1="474.0" x2="643.9" y2="508.0" stroke="#666" stroke-width="0.75" stroke-dasharray="12 2 2 2"/><line x1="621.4" y1="474.0" x2="655.4" y2="508.0" stroke="#666" stroke-width="0.75" stroke-dasharray="12 2 2 2"/><line x1="632.9" y1="474.0" x2="666.9" y2="508.0" stroke="#666" stroke-width="0.75" stroke-dasharray="12 2 2 2"/><line x1="644.4" y1="474.0" x2="678.4" y2="508.0" stroke="#666" stroke-width="0.75" stroke-dasharray="12 2 2 2"/><line x1="655.9" y1="474.0" x2="689.9" y2="508.0" stroke="#666" stroke-width="0.75" stroke-dasharray="12 2 2 2"/><line x1="667.4" y1="474.0" x2="701.4" y2="508.0" stroke="#666" stroke-width="0.75" stroke-dasharray="12 2 2 2"/><line x1="678.9" y1="474.0" x2="712.9" y2="508.0" stroke="#666" stroke-width="0.75" stroke-dasharray="12 2 2 2"/><line x1="690.4" y1="474.0" x2="724.4" y2="508.0" stroke="#666" stroke-width="0.75" stroke-dasharray="12 2 2 2"/></g><line x1="414.4" y1="506.6" x2="667.6" y2="506.6" stroke="#999" stroke-width="1.2"/><line x1="416.4" y1="506.6" x2="416.4" y2="538.2" stroke="#b0b0b0" stroke-width="0.7"/><line x1="421.5" y1="506.6" x2="421.5" y2="538.2" stroke="#b0b0b0" stroke-width="0.7"/><line x1="426.5" y1="506.6" x2="426.5" y2="538.2" stroke="#b0b0b0" stroke-width="0.7"/><line x1="431.6" y1="506.6" x2="431.6" y2="538.2" stroke="#b0b0b0" stroke-width="0.7"/><line x1="436.6" y1="506.6" x2="436.6" y2="538.2" stroke="#b0b0b0" stroke-width="0.7"/><line x1="441.7" y1="506.6" x2="441.7" y2="538.2" stroke="#b0b0b0" stroke-width="0.7"/><line x1="446.8" y1="506.6" x2="446.8" y2="538.2" stroke="#b0b0b0" stroke-width="0.7"/><line x1="451.8" y1="506.6" x2="451.8" y2="538.2" stroke="#b0b0b0" stroke-width="0.7"/><line x1="456.9" y1="506.6" x2="456.9" y2="538.2" stroke="#b0b0b0" stroke-width="0.7"/><line x1="461.9" y1="506.6" x2="461.9" y2="538.2" stroke="#b0b0b0" stroke-width="0.7"/><line x1="467.0" y1="506.6" x2="467.0" y2="538.2" stroke="#b0b0b0" stroke-width="0.7"/><line x1="472.1" y1="506.6" x2="472.1" y2="538.2" stroke="#b0b0b0" stroke-width="0.7"/><line x1="477.1" y1="506.6" x2="477.1" y2="538.2" stroke="#b0b0b0" stroke-width="0.7"/><line x1="482.2" y1="506.6" x2="482.2" y2="538.2" stroke="#b0b0b0" stroke-width="0.7"/><line x1="487.2" y1="506.6" x2="487.2" y2="538.2" stroke="#b0b0b0" stroke-width="0.7"/><line x1="492.3" y1="506.6" x2="492.3" y2="538.2" stroke="#b0b0b0" stroke-width="0.7"/><line x1="497.4" y1="506.6" x2="497.4" y2="538.2" stroke="#b0b0b0" stroke-width="0.7"/><line x1="502.4" y1="506.6" x2="502.4" y2="538.2" stroke="#b0b0b0" stroke-width="0.7"/><line x1="507.5" y1="506.6" x2="507.5" y2="538.2" stroke="#b0b0b0" stroke-width="0.7"/><line x1="512.5" y1="506.6" x2="512.5" y2="538.2" stroke="#b0b0b0" stroke-width="0.7"/><line x1="517.6" y1="506.6" x2="517.6" y2="538.2" stroke="#b0b0b0" stroke-width="0.7"/><line x1="522.7" y1="506.6" x2="522.7" y2="538.2" stroke="#b0b0b0" stroke-width="0.7"/><line x1="527.7" y1="506.6" x2="527.7" y2="538.2" stroke="#b0b0b0" stroke-width="0.7"/><line x1="532.8" y1="506.6" x2="532.8" y2="538.2" stroke="#b0b0b0" stroke-width="0.7"/><line x1="537.8" y1="506.6" x2="537.8" y2="538.2" stroke="#b0b0b0" stroke-width="0.7"/><line x1="542.9" y1="506.6" x2="542.9" y2="538.2" stroke="#b0b0b0" stroke-width="0.7"/><line x1="548.0" y1="506.6" x2="548.0" y2="538.2" stroke="#b0b0b0" stroke-width="0.7"/><line x1="553.0" y1="506.6" x2="553.0" y2="538.2" stroke="#b0b0b0" stroke-width="0.7"/><line x1="558.1" y1="506.6" x2="558.1" y2="538.2" stroke="#b0b0b0" stroke-width="0.7"/><line x1="563.1" y1="506.6" x2="563.1" y2="538.2" stroke="#b0b0b0" stroke-width="0.7"/><line x1="568.2" y1="506.6" x2="568.2" y2="538.2" stroke="#b0b0b0" stroke-width="0.7"/><line x1="573.3" y1="506.6" x2="573.3" y2="538.2" stroke="#b0b0b0" stroke-width="0.7"/><line x1="578.3" y1="506.6" x2="578.3" y2="538.2" stroke="#b0b0b0" stroke-width="0.7"/><line x1="583.4" y1="506.6" x2="583.4" y2="538.2" stroke="#b0b0b0" stroke-width="0.7"/><line x1="588.4" y1="506.6" x2="588.4" y2="538.2" stroke="#b0b0b0" stroke-width="0.7"/><line x1="593.5" y1="506.6" x2="593.5" y2="538.2" stroke="#b0b0b0" stroke-width="0.7"/><line x1="598.6" y1="506.6" x2="598.6" y2="538.2" stroke="#b0b0b0" stroke-width="0.7"/><line x1="603.6" y1="506.6" x2="603.6" y2="538.2" stroke="#b0b0b0" stroke-width="0.7"/><line x1="608.7" y1="506.6" x2="608.7" y2="538.2" stroke="#b0b0b0" stroke-width="0.7"/><line x1="613.7" y1="506.6" x2="613.7" y2="538.2" stroke="#b0b0b0" stroke-width="0.7"/><line x1="618.8" y1="506.6" x2="618.8" y2="538.2" stroke="#b0b0b0" stroke-width="0.7"/><line x1="623.9" y1="506.6" x2="623.9" y2="538.2" stroke="#b0b0b0" stroke-width="0.7"/><line x1="628.9" y1="506.6" x2="628.9" y2="538.2" stroke="#b0b0b0" stroke-width="0.7"/><line x1="634.0" y1="506.6" x2="634.0" y2="538.2" stroke="#b0b0b0" stroke-width="0.7"/><line x1="639.0" y1="506.6" x2="639.0" y2="538.2" stroke="#b0b0b0" stroke-width="0.7"/><line x1="644.1" y1="506.6" x2="644.1" y2="538.2" stroke="#b0b0b0" stroke-width="0.7"/><line x1="649.2" y1="506.6" x2="649.2" y2="538.2" stroke="#b0b0b0" stroke-width="0.7"/><line x1="654.2" y1="506.6" x2="654.2" y2="538.2" stroke="#b0b0b0" stroke-width="0.7"/><line x1="659.3" y1="506.6" x2="659.3" y2="538.2" stroke="#b0b0b0" stroke-width="0.7"/><line x1="664.3" y1="506.6" x2="664.3" y2="538.2" stroke="#b0b0b0" stroke-width="0.7"/><line x1="414.4" y1="538.3" x2="667.6" y2="538.3" stroke="#999" stroke-width="1.0"/><line x1="617.8" y1="379.5" x2="617.8" y2="447.5" stroke="#111" stroke-width="1.3"/><line x1="628.7" y1="379.5" x2="628.7" y2="506.6" stroke="#111" stroke-width="1.3"/><line x1="628.7" y1="383.4" x2="667.4" y2="383.4" stroke="#b0b0b0" stroke-width="0.8"/><line x1="628.7" y1="388.5" x2="667.4" y2="388.5" stroke="#b0b0b0" stroke-width="0.8"/><line x1="628.7" y1="393.6" x2="667.4" y2="393.6" stroke="#b0b0b0" stroke-width="0.8"/><line x1="628.7" y1="398.7" x2="667.4" y2="398.7" stroke="#b0b0b0" stroke-width="0.8"/><line x1="628.7" y1="403.8" x2="667.4" y2="403.8" stroke="#b0b0b0" stroke-width="0.8"/><line x1="628.7" y1="408.9" x2="667.4" y2="408.9" stroke="#b0b0b0" stroke-width="0.8"/><line x1="628.7" y1="414.0" x2="667.4" y2="414.0" stroke="#b0b0b0" stroke-width="0.8"/><line x1="628.7" y1="419.1" x2="667.4" y2="419.1" stroke="#b0b0b0" stroke-width="0.8"/><line x1="628.7" y1="424.2" x2="667.4" y2="424.2" stroke="#b0b0b0" stroke-width="0.8"/><line x1="628.7" y1="429.3" x2="667.4" y2="429.3" stroke="#b0b0b0" stroke-width="0.8"/><line x1="628.7" y1="434.4" x2="667.4" y2="434.4" stroke="#b0b0b0" stroke-width="0.8"/><line x1="628.7" y1="439.5" x2="667.4" y2="439.5" stroke="#b0b0b0" stroke-width="0.8"/><line x1="628.7" y1="444.6" x2="667.4" y2="444.6" stroke="#b0b0b0" stroke-width="0.8"/><line x1="628.7" y1="449.7" x2="667.4" y2="449.7" stroke="#b0b0b0" stroke-width="0.8"/><line x1="628.7" y1="454.8" x2="667.4" y2="454.8" stroke="#b0b0b0" stroke-width="0.8"/><line x1="628.7" y1="459.9" x2="667.4" y2="459.9" stroke="#b0b0b0" stroke-width="0.8"/><line x1="628.7" y1="465.0" x2="667.4" y2="465.0" stroke="#b0b0b0" stroke-width="0.8"/><line x1="628.7" y1="470.1" x2="667.4" y2="470.1" stroke="#b0b0b0" stroke-width="0.8"/><line x1="628.7" y1="475.2" x2="667.4" y2="475.2" stroke="#b0b0b0" stroke-width="0.8"/><line x1="628.7" y1="480.3" x2="667.4" y2="480.3" stroke="#b0b0b0" stroke-width="0.8"/><line x1="628.7" y1="485.4" x2="667.4" y2="485.4" stroke="#b0b0b0" stroke-width="0.8"/><line x1="628.7" y1="490.5" x2="667.4" y2="490.5" stroke="#b0b0b0" stroke-width="0.8"/><line x1="628.7" y1="495.6" x2="667.4" y2="495.6" stroke="#b0b0b0" stroke-width="0.8"/><line x1="628.7" y1="500.7" x2="667.4" y2="500.7" stroke="#b0b0b0" stroke-width="0.8"/><line x1="628.7" y1="505.8" x2="667.4" y2="505.8" stroke="#b0b0b0" stroke-width="0.8"/><line x1="667.6" y1="379.0" x2="667.6" y2="538.3" stroke="#8a8a8a" stroke-width="0.9"/><rect x="669.9" y="379.0" width="2.9" height="51.2" fill="none" stroke="#111" stroke-width="0.8"/><line x1="669.9" y1="392.0" x2="672.8" y2="392.0" stroke="#111" stroke-width="0.6"/><line x1="669.9" y1="405.0" x2="672.8" y2="405.0" stroke="#111" stroke-width="0.6"/><line x1="669.9" y1="418.0" x2="672.8" y2="418.0" stroke="#111" stroke-width="0.6"/><line x1="672.8" y1="435.9" x2="727.0" y2="435.9" stroke="#111" stroke-width="1.4"/><circle cx="240.3" cy="439.2" r="0.65" fill="#222"/><circle cx="292.3" cy="439.5" r="0.65" fill="#222"/><circle cx="224.7" cy="206.1" r="0.65" fill="#222"/><circle cx="224.7" cy="211.3" r="0.65" fill="#222"/><circle cx="239.2" cy="211.3" r="0.65" fill="#222"/><circle cx="245.5" cy="263" r="0.65" fill="#222"/><circle cx="245.5" cy="296.5" r="0.65" fill="#222"/><circle cx="273.0" cy="198.0" r="0.65" fill="#222"/><circle cx="284.4" cy="198.0" r="0.65" fill="#222"/><circle cx="284.4" cy="206.0" r="0.65" fill="#222"/><circle cx="296.3" cy="206.3" r="0.65" fill="#222"/><circle cx="273.8" cy="339.0" r="0.65" fill="#222"/><circle cx="284.6" cy="339.0" r="0.65" fill="#222"/><circle cx="296.3" cy="339.1" r="0.65" fill="#222"/><circle cx="274.0" cy="346.6" r="0.65" fill="#222"/><circle cx="284.6" cy="346.6" r="0.65" fill="#222"/><g style="will-change:transform"><text x="286.3" y="24.5" style="font-family:'Liberation Sans',sans-serif;font-size:3.6px" fill="#333">-10,00</text><text x="229.3" y="69.5" style="font-family:'Liberation Sans',sans-serif;font-size:3.6px" fill="#333">16,74</text><text x="261.5" y="195.6" style="font-family:'Liberation Sans',sans-serif;font-size:3.6px" fill="#333">16,23</text><text x="288.7" y="195.0" style="font-family:'Liberation Sans',sans-serif;font-size:3.6px" fill="#333">-9,86</text><text x="302.7" y="206.2" style="font-family:'Liberation Sans',sans-serif;font-size:3.6px" fill="#333">-9,86</text><text x="228.0" y="203.7" style="font-family:'Liberation Sans',sans-serif;font-size:3.6px" fill="#333">16,96</text><text x="236.4" y="261.5" style="font-family:'Liberation Sans',sans-serif;font-size:3.6px" fill="#333">16,52</text><text x="236.4" y="295.2" style="font-family:'Liberation Sans',sans-serif;font-size:3.6px" fill="#333">16,36</text><text x="234.0" y="340.5" style="font-family:'Liberation Sans',sans-serif;font-size:3.6px" fill="#333">16,96</text><text x="301.0" y="340.5" style="font-family:'Liberation Sans',sans-serif;font-size:3.6px" fill="#333">-9,89</text><text x="263.0" y="347.5" style="font-family:'Liberation Sans',sans-serif;font-size:3.6px" fill="#333">16,23</text><text x="288.0" y="347.5" style="font-family:'Liberation Sans',sans-serif;font-size:3.6px" fill="#333">-9,86</text><text x="223.8" y="437.0" style="font-family:'Liberation Sans',sans-serif;font-size:6.5px" fill="#333">19,20</text><text x="295.5" y="437.0" style="font-family:'Liberation Sans',sans-serif;font-size:6.5px" fill="#333">9,06</text></g><g style="will-change:transform"><text x="11.1" y="187.7" textLength="326.1" lengthAdjust="spacingAndGlyphs" style="font-family:'Liberation Serif',serif;font-size:13.5px" fill="#111" stroke="#111" stroke-width="0.28">Homogene, selbsttragende Dämmebene auch bis ins Dach</text><text x="412.5" y="186.8" textLength="226.4" lengthAdjust="spacingAndGlyphs" style="font-family:'Liberation Serif',serif;font-size:13.5px" fill="#111" stroke="#111" stroke-width="0.28">Anschlußdetail M<tspan style="font-size:10.2px">1</tspan>:<tspan style="font-size:10.2px">20</tspan> Dach und Fenster</text><text x="9.9" y="377.5" textLength="348.3" lengthAdjust="spacingAndGlyphs" style="font-family:'Liberation Serif',serif;font-size:13.5px" fill="#111" stroke="#111" stroke-width="0.28">Innenliegendes Tragwerk - homogen von Dämmung umgeben</text><text x="412.3" y="377.7" textLength="212.9" lengthAdjust="spacingAndGlyphs" style="font-family:'Liberation Serif',serif;font-size:13.5px" fill="#111" stroke="#111" stroke-width="0.28">Anschlußdetail M<tspan style="font-size:10.2px">1</tspan>:<tspan style="font-size:10.2px">20</tspan> Zwischendecke</text><text x="9.9" y="566.3" textLength="356.6" lengthAdjust="spacingAndGlyphs" style="font-family:'Liberation Serif',serif;font-size:13.5px" fill="#111" stroke="#111" stroke-width="0.28">Nahezu Wärmebrückenfreie Ausführung der Innenraumkanten</text><text x="412.6" y="565.9" textLength="287.6" lengthAdjust="spacingAndGlyphs" style="font-family:'Liberation Serif',serif;font-size:13.5px" fill="#111" stroke="#111" stroke-width="0.28">Gründungsdetail M<tspan style="font-size:10.2px">1</tspan>:<tspan style="font-size:10.2px">20</tspan> in Massivholzkonstruktion</text></g></svg></body></html>
